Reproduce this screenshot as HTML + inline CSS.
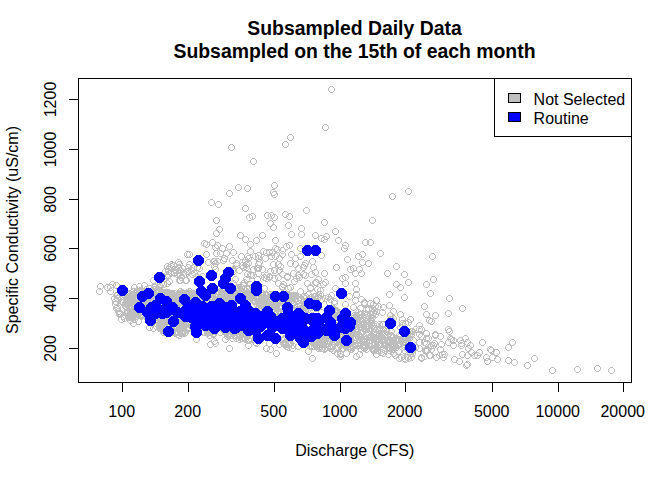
<!DOCTYPE html>
<html><head><meta charset="utf-8"><style>
html,body{margin:0;padding:0;background:#fff;width:672px;height:480px;overflow:hidden}
svg{display:block}
.t{font-family:"Liberation Sans",sans-serif;font-size:16px;fill:#000}
.b{font-family:"Liberation Sans",sans-serif;font-size:19.4px;font-weight:bold;fill:#000}
</style></head><body>
<svg width="672" height="480" viewBox="0 0 672 480"><rect width="672" height="480" fill="#fff"/><path fill="#bebebe" shape-rendering="crispEdges" d="M230 144h3v1h-3zm-1 1h1v1h-1zm4 0h1v1h-1zm-5 1h1v3h-1zm6 0h1v3h-1zm-5 3h1v1h-1zm4 0h1v1h-1zm-3 1h3v1h-3zM228 190h3v1h-3zm-1 1h1v1h-1zm4 0h1v1h-1zm-5 1h1v3h-1zm6 0h1v3h-1zm-5 3h1v1h-1zm4 0h1v1h-1zm-3 1h3v1h-3zM330 86h3v1h-3zm-1 1h1v1h-1zm4 0h1v1h-1zm-5 1h1v3h-1zm6 0h1v3h-1zm-5 3h1v1h-1zm4 0h1v1h-1zm-3 1h3v1h-3zM324 124h3v1h-3zm-1 1h1v1h-1zm4 0h1v1h-1zm-5 1h1v3h-1zm6 0h1v3h-1zm-5 3h1v1h-1zm4 0h1v1h-1zm-3 1h3v1h-3zM289 134h3v1h-3zm-1 1h1v1h-1zm4 0h1v1h-1zm-5 1h1v3h-1zm6 0h1v3h-1zm-5 3h1v1h-1zm4 0h1v1h-1zm-3 1h3v1h-3zM284 141h3v1h-3zm-1 1h1v1h-1zm4 0h1v1h-1zm-5 1h1v3h-1zm6 0h1v3h-1zm-5 3h1v1h-1zm4 0h1v1h-1zm-3 1h3v1h-3zM252 158h3v1h-3zm-1 1h1v1h-1zm4 0h1v1h-1zm-5 1h1v3h-1zm6 0h1v3h-1zm-5 3h1v1h-1zm4 0h1v1h-1zm-3 1h3v1h-3zM246 185h3v1h-3zm-1 1h1v1h-1zm4 0h1v1h-1zm-5 1h1v3h-1zm6 0h1v3h-1zm-5 3h1v1h-1zm4 0h1v1h-1zm-3 1h3v1h-3zM273 182h3v1h-3zm-1 1h1v1h-1zm4 0h1v1h-1zm-5 1h1v3h-1zm6 0h1v3h-1zm-5 3h1v1h-1zm4 0h1v1h-1zm-3 1h3v1h-3zM272 189h3v1h-3zm-1 1h1v1h-1zm4 0h1v1h-1zm-5 1h1v3h-1zm6 0h1v3h-1zm-5 3h1v1h-1zm4 0h1v1h-1zm-3 1h3v1h-3zM273 191h3v1h-3zm-1 1h1v1h-1zm4 0h1v1h-1zm-5 1h1v3h-1zm6 0h1v3h-1zm-5 3h1v1h-1zm4 0h1v1h-1zm-3 1h3v1h-3zM391 193h3v1h-3zm-1 1h1v1h-1zm4 0h1v1h-1zm-5 1h1v3h-1zm6 0h1v3h-1zm-5 3h1v1h-1zm4 0h1v1h-1zm-3 1h3v1h-3zM237 184h3v1h-3zm-1 1h1v1h-1zm4 0h1v1h-1zm-5 1h1v3h-1zm6 0h1v3h-1zm-5 3h1v1h-1zm4 0h1v1h-1zm-3 1h3v1h-3zM407 188h3v1h-3zm-1 1h1v1h-1zm4 0h1v1h-1zm-5 1h1v3h-1zm6 0h1v3h-1zm-5 3h1v1h-1zm4 0h1v1h-1zm-3 1h3v1h-3zM431 253h3v1h-3zm-1 1h1v1h-1zm4 0h1v1h-1zm-5 1h1v3h-1zm6 0h1v3h-1zm-5 3h1v1h-1zm4 0h1v1h-1zm-3 1h3v1h-3zM403 271h3v1h-3zm-1 1h1v1h-1zm4 0h1v1h-1zm-5 1h1v3h-1zm6 0h1v3h-1zm-5 3h1v1h-1zm4 0h1v1h-1zm-3 1h3v1h-3zM432 276h3v1h-3zm-1 1h1v1h-1zm4 0h1v1h-1zm-5 1h1v3h-1zm6 0h1v3h-1zm-5 3h1v1h-1zm4 0h1v1h-1zm-3 1h3v1h-3zM425 281h3v1h-3zm-1 1h1v1h-1zm4 0h1v1h-1zm-5 1h1v3h-1zm6 0h1v3h-1zm-5 3h1v1h-1zm4 0h1v1h-1zm-3 1h3v1h-3zM407 279h3v1h-3zm-1 1h1v1h-1zm4 0h1v1h-1zm-5 1h1v3h-1zm6 0h1v3h-1zm-5 3h1v1h-1zm4 0h1v1h-1zm-3 1h3v1h-3zM399 284h3v1h-3zm-1 1h1v1h-1zm4 0h1v1h-1zm-5 1h1v3h-1zm6 0h1v3h-1zm-5 3h1v1h-1zm4 0h1v1h-1zm-3 1h3v1h-3zM429 290h3v1h-3zm-1 1h1v1h-1zm4 0h1v1h-1zm-5 1h1v3h-1zm6 0h1v3h-1zm-5 3h1v1h-1zm4 0h1v1h-1zm-3 1h3v1h-3zM403 294h3v1h-3zm-1 1h1v1h-1zm4 0h1v1h-1zm-5 1h1v3h-1zm6 0h1v3h-1zm-5 3h1v1h-1zm4 0h1v1h-1zm-3 1h3v1h-3zM448 295h3v1h-3zm-1 1h1v1h-1zm4 0h1v1h-1zm-5 1h1v3h-1zm6 0h1v3h-1zm-5 3h1v1h-1zm4 0h1v1h-1zm-3 1h3v1h-3zM423 303h3v1h-3zm-1 1h1v1h-1zm4 0h1v1h-1zm-5 1h1v3h-1zm6 0h1v3h-1zm-5 3h1v1h-1zm4 0h1v1h-1zm-3 1h3v1h-3zM461 305h3v1h-3zm-1 1h1v1h-1zm4 0h1v1h-1zm-5 1h1v3h-1zm6 0h1v3h-1zm-5 3h1v1h-1zm4 0h1v1h-1zm-3 1h3v1h-3zM399 311h3v1h-3zm-1 1h1v1h-1zm4 0h1v1h-1zm-5 1h1v3h-1zm6 0h1v3h-1zm-5 3h1v1h-1zm4 0h1v1h-1zm-3 1h3v1h-3zM425 311h3v1h-3zm-1 1h1v1h-1zm4 0h1v1h-1zm-5 1h1v3h-1zm6 0h1v3h-1zm-5 3h1v1h-1zm4 0h1v1h-1zm-3 1h3v1h-3zM434 312h3v1h-3zm-1 1h1v1h-1zm4 0h1v1h-1zm-5 1h1v3h-1zm6 0h1v3h-1zm-5 3h1v1h-1zm4 0h1v1h-1zm-3 1h3v1h-3zM447 310h3v1h-3zm-1 1h1v1h-1zm4 0h1v1h-1zm-5 1h1v3h-1zm6 0h1v3h-1zm-5 3h1v1h-1zm4 0h1v1h-1zm-3 1h3v1h-3zM210 199h3v1h-3zm-1 1h1v1h-1zm4 0h1v1h-1zm-5 1h1v3h-1zm6 0h1v3h-1zm-5 3h1v1h-1zm4 0h1v1h-1zm-3 1h3v1h-3zM217 201h3v1h-3zm-1 1h1v1h-1zm4 0h1v1h-1zm-5 1h1v3h-1zm6 0h1v3h-1zm-5 3h1v1h-1zm4 0h1v1h-1zm-3 1h3v1h-3zM215 217h3v1h-3zm-1 1h1v1h-1zm4 0h1v1h-1zm-5 1h1v3h-1zm6 0h1v3h-1zm-5 3h1v1h-1zm4 0h1v1h-1zm-3 1h3v1h-3zM218 226h3v1h-3zm-1 1h1v1h-1zm4 0h1v1h-1zm-5 1h1v3h-1zm6 0h1v3h-1zm-5 3h1v1h-1zm4 0h1v1h-1zm-3 1h3v1h-3zM215 230h3v1h-3zm-1 1h1v1h-1zm4 0h1v1h-1zm-5 1h1v3h-1zm6 0h1v3h-1zm-5 3h1v1h-1zm4 0h1v1h-1zm-3 1h3v1h-3zM203 240h3v1h-3zm-1 1h1v1h-1zm4 0h1v1h-1zm-5 1h1v3h-1zm6 0h1v3h-1zm-5 3h1v1h-1zm4 0h1v1h-1zm-3 1h3v1h-3zM205 241h3v1h-3zm-1 1h1v1h-1zm4 0h1v1h-1zm-5 1h1v3h-1zm6 0h1v3h-1zm-5 3h1v1h-1zm4 0h1v1h-1zm-3 1h3v1h-3zM211 239h3v1h-3zm-1 1h1v1h-1zm4 0h1v1h-1zm-5 1h1v3h-1zm6 0h1v3h-1zm-5 3h1v1h-1zm4 0h1v1h-1zm-3 1h3v1h-3zM216 242h3v1h-3zm-1 1h1v1h-1zm4 0h1v1h-1zm-5 1h1v3h-1zm6 0h1v3h-1zm-5 3h1v1h-1zm4 0h1v1h-1zm-3 1h3v1h-3zM214 244h3v1h-3zm-1 1h1v1h-1zm4 0h1v1h-1zm-5 1h1v3h-1zm6 0h1v3h-1zm-5 3h1v1h-1zm4 0h1v1h-1zm-3 1h3v1h-3zM221 245h3v1h-3zm-1 1h1v1h-1zm4 0h1v1h-1zm-5 1h1v3h-1zm6 0h1v3h-1zm-5 3h1v1h-1zm4 0h1v1h-1zm-3 1h3v1h-3zM228 243h3v1h-3zm-1 1h1v1h-1zm4 0h1v1h-1zm-5 1h1v3h-1zm6 0h1v3h-1zm-5 3h1v1h-1zm4 0h1v1h-1zm-3 1h3v1h-3zM232 249h3v1h-3zm-1 1h1v1h-1zm4 0h1v1h-1zm-5 1h1v3h-1zm6 0h1v3h-1zm-5 3h1v1h-1zm4 0h1v1h-1zm-3 1h3v1h-3zM225 250h3v1h-3zm-1 1h1v1h-1zm4 0h1v1h-1zm-5 1h1v3h-1zm6 0h1v3h-1zm-5 3h1v1h-1zm4 0h1v1h-1zm-3 1h3v1h-3zM215 250h3v1h-3zm-1 1h1v1h-1zm4 0h1v1h-1zm-5 1h1v3h-1zm6 0h1v3h-1zm-5 3h1v1h-1zm4 0h1v1h-1zm-3 1h3v1h-3zM219 250h3v1h-3zm-1 1h1v1h-1zm4 0h1v1h-1zm-5 1h1v3h-1zm6 0h1v3h-1zm-5 3h1v1h-1zm4 0h1v1h-1zm-3 1h3v1h-3zM205 251h3v1h-3zm-1 1h1v1h-1zm4 0h1v1h-1zm-5 1h1v3h-1zm6 0h1v3h-1zm-5 3h1v1h-1zm4 0h1v1h-1zm-3 1h3v1h-3zM186 251h3v1h-3zm-1 1h1v1h-1zm4 0h1v1h-1zm-5 1h1v3h-1zm6 0h1v3h-1zm-5 3h1v1h-1zm4 0h1v1h-1zm-3 1h3v1h-3zM188 251h3v1h-3zm-1 1h1v1h-1zm4 0h1v1h-1zm-5 1h1v3h-1zm6 0h1v3h-1zm-5 3h1v1h-1zm4 0h1v1h-1zm-3 1h3v1h-3zM244 205h3v1h-3zm-1 1h1v1h-1zm4 0h1v1h-1zm-5 1h1v3h-1zm6 0h1v3h-1zm-5 3h1v1h-1zm4 0h1v1h-1zm-3 1h3v1h-3zM248 214h3v1h-3zm-1 1h1v1h-1zm4 0h1v1h-1zm-5 1h1v3h-1zm6 0h1v3h-1zm-5 3h1v1h-1zm4 0h1v1h-1zm-3 1h3v1h-3zM251 213h3v1h-3zm-1 1h1v1h-1zm4 0h1v1h-1zm-5 1h1v3h-1zm6 0h1v3h-1zm-5 3h1v1h-1zm4 0h1v1h-1zm-3 1h3v1h-3zM266 212h3v1h-3zm-1 1h1v1h-1zm4 0h1v1h-1zm-5 1h1v3h-1zm6 0h1v3h-1zm-5 3h1v1h-1zm4 0h1v1h-1zm-3 1h3v1h-3zM270 212h3v1h-3zm-1 1h1v1h-1zm4 0h1v1h-1zm-5 1h1v3h-1zm6 0h1v3h-1zm-5 3h1v1h-1zm4 0h1v1h-1zm-3 1h3v1h-3zM273 214h3v1h-3zm-1 1h1v1h-1zm4 0h1v1h-1zm-5 1h1v3h-1zm6 0h1v3h-1zm-5 3h1v1h-1zm4 0h1v1h-1zm-3 1h3v1h-3zM284 211h3v1h-3zm-1 1h1v1h-1zm4 0h1v1h-1zm-5 1h1v3h-1zm6 0h1v3h-1zm-5 3h1v1h-1zm4 0h1v1h-1zm-3 1h3v1h-3zM288 213h3v1h-3zm-1 1h1v1h-1zm4 0h1v1h-1zm-5 1h1v3h-1zm6 0h1v3h-1zm-5 3h1v1h-1zm4 0h1v1h-1zm-3 1h3v1h-3zM305 207h3v1h-3zm-1 1h1v1h-1zm4 0h1v1h-1zm-5 1h1v3h-1zm6 0h1v3h-1zm-5 3h1v1h-1zm4 0h1v1h-1zm-3 1h3v1h-3zM269 220h3v1h-3zm-1 1h1v1h-1zm4 0h1v1h-1zm-5 1h1v3h-1zm6 0h1v3h-1zm-5 3h1v1h-1zm4 0h1v1h-1zm-3 1h3v1h-3zM272 224h3v1h-3zm-1 1h1v1h-1zm4 0h1v1h-1zm-5 1h1v3h-1zm6 0h1v3h-1zm-5 3h1v1h-1zm4 0h1v1h-1zm-3 1h3v1h-3zM287 222h3v1h-3zm-1 1h1v1h-1zm4 0h1v1h-1zm-5 1h1v3h-1zm6 0h1v3h-1zm-5 3h1v1h-1zm4 0h1v1h-1zm-3 1h3v1h-3zM300 225h3v1h-3zm-1 1h1v1h-1zm4 0h1v1h-1zm-5 1h1v3h-1zm6 0h1v3h-1zm-5 3h1v1h-1zm4 0h1v1h-1zm-3 1h3v1h-3zM290 231h3v1h-3zm-1 1h1v1h-1zm4 0h1v1h-1zm-5 1h1v3h-1zm6 0h1v3h-1zm-5 3h1v1h-1zm4 0h1v1h-1zm-3 1h3v1h-3zM300 231h3v1h-3zm-1 1h1v1h-1zm4 0h1v1h-1zm-5 1h1v3h-1zm6 0h1v3h-1zm-5 3h1v1h-1zm4 0h1v1h-1zm-3 1h3v1h-3zM314 232h3v1h-3zm-1 1h1v1h-1zm4 0h1v1h-1zm-5 1h1v3h-1zm6 0h1v3h-1zm-5 3h1v1h-1zm4 0h1v1h-1zm-3 1h3v1h-3zM239 232h3v1h-3zm-1 1h1v1h-1zm4 0h1v1h-1zm-5 1h1v3h-1zm6 0h1v3h-1zm-5 3h1v1h-1zm4 0h1v1h-1zm-3 1h3v1h-3zM244 236h3v1h-3zm-1 1h1v1h-1zm4 0h1v1h-1zm-5 1h1v3h-1zm6 0h1v3h-1zm-5 3h1v1h-1zm4 0h1v1h-1zm-3 1h3v1h-3zM261 232h3v1h-3zm-1 1h1v1h-1zm4 0h1v1h-1zm-5 1h1v3h-1zm6 0h1v3h-1zm-5 3h1v1h-1zm4 0h1v1h-1zm-3 1h3v1h-3zM255 237h3v1h-3zm-1 1h1v1h-1zm4 0h1v1h-1zm-5 1h1v3h-1zm6 0h1v3h-1zm-5 3h1v1h-1zm4 0h1v1h-1zm-3 1h3v1h-3zM274 237h3v1h-3zm-1 1h1v1h-1zm4 0h1v1h-1zm-5 1h1v3h-1zm6 0h1v3h-1zm-5 3h1v1h-1zm4 0h1v1h-1zm-3 1h3v1h-3zM249 241h3v1h-3zm-1 1h1v1h-1zm4 0h1v1h-1zm-5 1h1v3h-1zm6 0h1v3h-1zm-5 3h1v1h-1zm4 0h1v1h-1zm-3 1h3v1h-3zM285 243h3v1h-3zm-1 1h1v1h-1zm4 0h1v1h-1zm-5 1h1v3h-1zm6 0h1v3h-1zm-5 3h1v1h-1zm4 0h1v1h-1zm-3 1h3v1h-3zM288 242h3v1h-3zm-1 1h1v1h-1zm4 0h1v1h-1zm-5 1h1v3h-1zm6 0h1v3h-1zm-5 3h1v1h-1zm4 0h1v1h-1zm-3 1h3v1h-3zM249 248h3v1h-3zm-1 1h1v1h-1zm4 0h1v1h-1zm-5 1h1v3h-1zm6 0h1v3h-1zm-5 3h1v1h-1zm4 0h1v1h-1zm-3 1h3v1h-3zM262 248h3v1h-3zm-1 1h1v1h-1zm4 0h1v1h-1zm-5 1h1v3h-1zm6 0h1v3h-1zm-5 3h1v1h-1zm4 0h1v1h-1zm-3 1h3v1h-3zM265 249h3v1h-3zm-1 1h1v1h-1zm4 0h1v1h-1zm-5 1h1v3h-1zm6 0h1v3h-1zm-5 3h1v1h-1zm4 0h1v1h-1zm-3 1h3v1h-3zM268 249h3v1h-3zm-1 1h1v1h-1zm4 0h1v1h-1zm-5 1h1v3h-1zm6 0h1v3h-1zm-5 3h1v1h-1zm4 0h1v1h-1zm-3 1h3v1h-3zM271 249h3v1h-3zm-1 1h1v1h-1zm4 0h1v1h-1zm-5 1h1v3h-1zm6 0h1v3h-1zm-5 3h1v1h-1zm4 0h1v1h-1zm-3 1h3v1h-3zM274 245h3v1h-3zm-1 1h1v1h-1zm4 0h1v1h-1zm-5 1h1v3h-1zm6 0h1v3h-1zm-5 3h1v1h-1zm4 0h1v1h-1zm-3 1h3v1h-3zM276 246h3v1h-3zm-1 1h1v1h-1zm4 0h1v1h-1zm-5 1h1v3h-1zm6 0h1v3h-1zm-5 3h1v1h-1zm4 0h1v1h-1zm-3 1h3v1h-3zM281 247h3v1h-3zm-1 1h1v1h-1zm4 0h1v1h-1zm-5 1h1v3h-1zm6 0h1v3h-1zm-5 3h1v1h-1zm4 0h1v1h-1zm-3 1h3v1h-3zM281 251h3v1h-3zm-1 1h1v1h-1zm4 0h1v1h-1zm-5 1h1v3h-1zm6 0h1v3h-1zm-5 3h1v1h-1zm4 0h1v1h-1zm-3 1h3v1h-3zM299 245h3v1h-3zm-1 1h1v1h-1zm4 0h1v1h-1zm-5 1h1v3h-1zm6 0h1v3h-1zm-5 3h1v1h-1zm4 0h1v1h-1zm-3 1h3v1h-3zM290 251h3v1h-3zm-1 1h1v1h-1zm4 0h1v1h-1zm-5 1h1v3h-1zm6 0h1v3h-1zm-5 3h1v1h-1zm4 0h1v1h-1zm-3 1h3v1h-3zM299 253h3v1h-3zm-1 1h1v1h-1zm4 0h1v1h-1zm-5 1h1v3h-1zm6 0h1v3h-1zm-5 3h1v1h-1zm4 0h1v1h-1zm-3 1h3v1h-3zM240 253h3v1h-3zm-1 1h1v1h-1zm4 0h1v1h-1zm-5 1h1v3h-1zm6 0h1v3h-1zm-5 3h1v1h-1zm4 0h1v1h-1zm-3 1h3v1h-3zM246 253h3v1h-3zm-1 1h1v1h-1zm4 0h1v1h-1zm-5 1h1v3h-1zm6 0h1v3h-1zm-5 3h1v1h-1zm4 0h1v1h-1zm-3 1h3v1h-3zM254 253h3v1h-3zm-1 1h1v1h-1zm4 0h1v1h-1zm-5 1h1v3h-1zm6 0h1v3h-1zm-5 3h1v1h-1zm4 0h1v1h-1zm-3 1h3v1h-3zM257 252h3v1h-3zm-1 1h1v1h-1zm4 0h1v1h-1zm-5 1h1v3h-1zm6 0h1v3h-1zm-5 3h1v1h-1zm4 0h1v1h-1zm-3 1h3v1h-3zM270 253h3v1h-3zm-1 1h1v1h-1zm4 0h1v1h-1zm-5 1h1v3h-1zm6 0h1v3h-1zm-5 3h1v1h-1zm4 0h1v1h-1zm-3 1h3v1h-3zM274 253h3v1h-3zm-1 1h1v1h-1zm4 0h1v1h-1zm-5 1h1v3h-1zm6 0h1v3h-1zm-5 3h1v1h-1zm4 0h1v1h-1zm-3 1h3v1h-3zM323 219h3v1h-3zm-1 1h1v1h-1zm4 0h1v1h-1zm-5 1h1v3h-1zm6 0h1v3h-1zm-5 3h1v1h-1zm4 0h1v1h-1zm-3 1h3v1h-3zM371 217h3v1h-3zm-1 1h1v1h-1zm4 0h1v1h-1zm-5 1h1v3h-1zm6 0h1v3h-1zm-5 3h1v1h-1zm4 0h1v1h-1zm-3 1h3v1h-3zM334 228h3v1h-3zm-1 1h1v1h-1zm4 0h1v1h-1zm-5 1h1v3h-1zm6 0h1v3h-1zm-5 3h1v1h-1zm4 0h1v1h-1zm-3 1h3v1h-3zM325 233h3v1h-3zm-1 1h1v1h-1zm4 0h1v1h-1zm-5 1h1v3h-1zm6 0h1v3h-1zm-5 3h1v1h-1zm4 0h1v1h-1zm-3 1h3v1h-3zM320 235h3v1h-3zm-1 1h1v1h-1zm4 0h1v1h-1zm-5 1h1v3h-1zm6 0h1v3h-1zm-5 3h1v1h-1zm4 0h1v1h-1zm-3 1h3v1h-3zM323 236h3v1h-3zm-1 1h1v1h-1zm4 0h1v1h-1zm-5 1h1v3h-1zm6 0h1v3h-1zm-5 3h1v1h-1zm4 0h1v1h-1zm-3 1h3v1h-3zM337 237h3v1h-3zm-1 1h1v1h-1zm4 0h1v1h-1zm-5 1h1v3h-1zm6 0h1v3h-1zm-5 3h1v1h-1zm4 0h1v1h-1zm-3 1h3v1h-3zM344 242h3v1h-3zm-1 1h1v1h-1zm4 0h1v1h-1zm-5 1h1v3h-1zm6 0h1v3h-1zm-5 3h1v1h-1zm4 0h1v1h-1zm-3 1h3v1h-3zM343 245h3v1h-3zm-1 1h1v1h-1zm4 0h1v1h-1zm-5 1h1v3h-1zm6 0h1v3h-1zm-5 3h1v1h-1zm4 0h1v1h-1zm-3 1h3v1h-3zM364 239h3v1h-3zm-1 1h1v1h-1zm4 0h1v1h-1zm-5 1h1v3h-1zm6 0h1v3h-1zm-5 3h1v1h-1zm4 0h1v1h-1zm-3 1h3v1h-3zM369 239h3v1h-3zm-1 1h1v1h-1zm4 0h1v1h-1zm-5 1h1v3h-1zm6 0h1v3h-1zm-5 3h1v1h-1zm4 0h1v1h-1zm-3 1h3v1h-3zM379 250h3v1h-3zm-1 1h1v1h-1zm4 0h1v1h-1zm-5 1h1v3h-1zm6 0h1v3h-1zm-5 3h1v1h-1zm4 0h1v1h-1zm-3 1h3v1h-3zM357 253h3v1h-3zm-1 1h1v1h-1zm4 0h1v1h-1zm-5 1h1v3h-1zm6 0h1v3h-1zm-5 3h1v1h-1zm4 0h1v1h-1zm-3 1h3v1h-3zM361 251h3v1h-3zm-1 1h1v1h-1zm4 0h1v1h-1zm-5 1h1v3h-1zm6 0h1v3h-1zm-5 3h1v1h-1zm4 0h1v1h-1zm-3 1h3v1h-3zM320 252h3v1h-3zm-1 1h1v1h-1zm4 0h1v1h-1zm-5 1h1v3h-1zm6 0h1v3h-1zm-5 3h1v1h-1zm4 0h1v1h-1zm-3 1h3v1h-3zM481 339h3v1h-3zm-1 1h1v1h-1zm4 0h1v1h-1zm-5 1h1v3h-1zm6 0h1v3h-1zm-5 3h1v1h-1zm4 0h1v1h-1zm-3 1h3v1h-3zM511 339h3v1h-3zm-1 1h1v1h-1zm4 0h1v1h-1zm-5 1h1v3h-1zm6 0h1v3h-1zm-5 3h1v1h-1zm4 0h1v1h-1zm-3 1h3v1h-3zM507 344h3v1h-3zm-1 1h1v1h-1zm4 0h1v1h-1zm-5 1h1v3h-1zm6 0h1v3h-1zm-5 3h1v1h-1zm4 0h1v1h-1zm-3 1h3v1h-3zM489 346h3v1h-3zm-1 1h1v1h-1zm4 0h1v1h-1zm-5 1h1v3h-1zm6 0h1v3h-1zm-5 3h1v1h-1zm4 0h1v1h-1zm-3 1h3v1h-3zM490 347h3v1h-3zm-1 1h1v1h-1zm4 0h1v1h-1zm-5 1h1v3h-1zm6 0h1v3h-1zm-5 3h1v1h-1zm4 0h1v1h-1zm-3 1h3v1h-3zM495 349h3v1h-3zm-1 1h1v1h-1zm4 0h1v1h-1zm-5 1h1v3h-1zm6 0h1v3h-1zm-5 3h1v1h-1zm4 0h1v1h-1zm-3 1h3v1h-3zM478 349h3v1h-3zm-1 1h1v1h-1zm4 0h1v1h-1zm-5 1h1v3h-1zm6 0h1v3h-1zm-5 3h1v1h-1zm4 0h1v1h-1zm-3 1h3v1h-3zM473 352h3v1h-3zm-1 1h1v1h-1zm4 0h1v1h-1zm-5 1h1v3h-1zm6 0h1v3h-1zm-5 3h1v1h-1zm4 0h1v1h-1zm-3 1h3v1h-3zM476 352h3v1h-3zm-1 1h1v1h-1zm4 0h1v1h-1zm-5 1h1v3h-1zm6 0h1v3h-1zm-5 3h1v1h-1zm4 0h1v1h-1zm-3 1h3v1h-3zM485 354h3v1h-3zm-1 1h1v1h-1zm4 0h1v1h-1zm-5 1h1v3h-1zm6 0h1v3h-1zm-5 3h1v1h-1zm4 0h1v1h-1zm-3 1h3v1h-3zM491 354h3v1h-3zm-1 1h1v1h-1zm4 0h1v1h-1zm-5 1h1v3h-1zm6 0h1v3h-1zm-5 3h1v1h-1zm4 0h1v1h-1zm-3 1h3v1h-3zM486 358h3v1h-3zm-1 1h1v1h-1zm4 0h1v1h-1zm-5 1h1v3h-1zm6 0h1v3h-1zm-5 3h1v1h-1zm4 0h1v1h-1zm-3 1h3v1h-3zM496 356h3v1h-3zm-1 1h1v1h-1zm4 0h1v1h-1zm-5 1h1v3h-1zm6 0h1v3h-1zm-5 3h1v1h-1zm4 0h1v1h-1zm-3 1h3v1h-3zM507 357h3v1h-3zm-1 1h1v1h-1zm4 0h1v1h-1zm-5 1h1v3h-1zm6 0h1v3h-1zm-5 3h1v1h-1zm4 0h1v1h-1zm-3 1h3v1h-3zM513 359h3v1h-3zm-1 1h1v1h-1zm4 0h1v1h-1zm-5 1h1v3h-1zm6 0h1v3h-1zm-5 3h1v1h-1zm4 0h1v1h-1zm-3 1h3v1h-3zM526 362h3v1h-3zm-1 1h1v1h-1zm4 0h1v1h-1zm-5 1h1v3h-1zm6 0h1v3h-1zm-5 3h1v1h-1zm4 0h1v1h-1zm-3 1h3v1h-3zM533 355h3v1h-3zm-1 1h1v1h-1zm4 0h1v1h-1zm-5 1h1v3h-1zm6 0h1v3h-1zm-5 3h1v1h-1zm4 0h1v1h-1zm-3 1h3v1h-3zM551 367h3v1h-3zm-1 1h1v1h-1zm4 0h1v1h-1zm-5 1h1v3h-1zm6 0h1v3h-1zm-5 3h1v1h-1zm4 0h1v1h-1zm-3 1h3v1h-3zM576 366h3v1h-3zm-1 1h1v1h-1zm4 0h1v1h-1zm-5 1h1v3h-1zm6 0h1v3h-1zm-5 3h1v1h-1zm4 0h1v1h-1zm-3 1h3v1h-3zM596 365h3v1h-3zm-1 1h1v1h-1zm4 0h1v1h-1zm-5 1h1v3h-1zm6 0h1v3h-1zm-5 3h1v1h-1zm4 0h1v1h-1zm-3 1h3v1h-3zM610 367h3v1h-3zm-1 1h1v1h-1zm4 0h1v1h-1zm-5 1h1v3h-1zm6 0h1v3h-1zm-5 3h1v1h-1zm4 0h1v1h-1zm-3 1h3v1h-3zM99 283h3v1h-3zm-1 1h1v1h-1zm4 0h1v1h-1zm-5 1h1v3h-1zm6 0h1v3h-1zm-5 3h1v1h-1zm4 0h1v1h-1zm-3 1h3v1h-3zM98 288h3v1h-3zm-1 1h1v1h-1zm4 0h1v1h-1zm-5 1h1v3h-1zm6 0h1v3h-1zm-5 3h1v1h-1zm4 0h1v1h-1zm-3 1h3v1h-3zM106 284h3v1h-3zm-1 1h1v1h-1zm4 0h1v1h-1zm-5 1h1v3h-1zm6 0h1v3h-1zm-5 3h1v1h-1zm4 0h1v1h-1zm-3 1h3v1h-3zM109 284h3v1h-3zm-1 1h1v1h-1zm4 0h1v1h-1zm-5 1h1v3h-1zm6 0h1v3h-1zm-5 3h1v1h-1zm4 0h1v1h-1zm-3 1h3v1h-3zM111 281h3v1h-3zm-1 1h1v1h-1zm4 0h1v1h-1zm-5 1h1v3h-1zm6 0h1v3h-1zm-5 3h1v1h-1zm4 0h1v1h-1zm-3 1h3v1h-3zM115 282h3v1h-3zm-1 1h1v1h-1zm4 0h1v1h-1zm-5 1h1v3h-1zm6 0h1v3h-1zm-5 3h1v1h-1zm4 0h1v1h-1zm-3 1h3v1h-3zM109 288h3v1h-3zm-1 1h1v1h-1zm4 0h1v1h-1zm-5 1h1v3h-1zm6 0h1v3h-1zm-5 3h1v1h-1zm4 0h1v1h-1zm-3 1h3v1h-3zM113 295h3v1h-3zm-1 1h1v1h-1zm4 0h1v1h-1zm-5 1h1v3h-1zm6 0h1v3h-1zm-5 3h1v1h-1zm4 0h1v1h-1zm-3 1h3v1h-3zM114 298h3v1h-3zm-1 1h1v1h-1zm4 0h1v1h-1zm-5 1h1v3h-1zm6 0h1v3h-1zm-5 3h1v1h-1zm4 0h1v1h-1zm-3 1h3v1h-3zM114 301h3v1h-3zm-1 1h1v1h-1zm4 0h1v1h-1zm-5 1h1v3h-1zm6 0h1v3h-1zm-5 3h1v1h-1zm4 0h1v1h-1zm-3 1h3v1h-3zM115 305h3v1h-3zm-1 1h1v1h-1zm4 0h1v1h-1zm-5 1h1v3h-1zm6 0h1v3h-1zm-5 3h1v1h-1zm4 0h1v1h-1zm-3 1h3v1h-3zM117 308h3v1h-3zm-1 1h1v1h-1zm4 0h1v1h-1zm-5 1h1v3h-1zm6 0h1v3h-1zm-5 3h1v1h-1zm4 0h1v1h-1zm-3 1h3v1h-3zM118 311h3v1h-3zm-1 1h1v1h-1zm4 0h1v1h-1zm-5 1h1v3h-1zm6 0h1v3h-1zm-5 3h1v1h-1zm4 0h1v1h-1zm-3 1h3v1h-3zM133 284h3v1h-3zm-1 1h1v1h-1zm4 0h1v1h-1zm-5 1h1v3h-1zm6 0h1v3h-1zm-5 3h1v1h-1zm4 0h1v1h-1zm-3 1h3v1h-3zM138 283h3v1h-3zm-1 1h1v1h-1zm4 0h1v1h-1zm-5 1h1v3h-1zm6 0h1v3h-1zm-5 3h1v1h-1zm4 0h1v1h-1zm-3 1h3v1h-3zM143 282h3v1h-3zm-1 1h1v1h-1zm4 0h1v1h-1zm-5 1h1v3h-1zm6 0h1v3h-1zm-5 3h1v1h-1zm4 0h1v1h-1zm-3 1h3v1h-3zM152 277h3v1h-3zm-1 1h1v1h-1zm4 0h1v1h-1zm-5 1h1v3h-1zm6 0h1v3h-1zm-5 3h1v1h-1zm4 0h1v1h-1zm-3 1h3v1h-3zM153 283h3v1h-3zm-1 1h1v1h-1zm4 0h1v1h-1zm-5 1h1v3h-1zm6 0h1v3h-1zm-5 3h1v1h-1zm4 0h1v1h-1zm-3 1h3v1h-3zM159 283h3v1h-3zm-1 1h1v1h-1zm4 0h1v1h-1zm-5 1h1v3h-1zm6 0h1v3h-1zm-5 3h1v1h-1zm4 0h1v1h-1zm-3 1h3v1h-3zM162 281h3v1h-3zm-1 1h1v1h-1zm4 0h1v1h-1zm-5 1h1v3h-1zm6 0h1v3h-1zm-5 3h1v1h-1zm4 0h1v1h-1zm-3 1h3v1h-3zM166 280h3v1h-3zm-1 1h1v1h-1zm4 0h1v1h-1zm-5 1h1v3h-1zm6 0h1v3h-1zm-5 3h1v1h-1zm4 0h1v1h-1zm-3 1h3v1h-3zM168 278h3v1h-3zm-1 1h1v1h-1zm4 0h1v1h-1zm-5 1h1v3h-1zm6 0h1v3h-1zm-5 3h1v1h-1zm4 0h1v1h-1zm-3 1h3v1h-3zM188 288h3v1h-3zm-1 1h1v1h-1zm4 0h1v1h-1zm-5 1h1v3h-1zm6 0h1v3h-1zm-5 3h1v1h-1zm4 0h1v1h-1zm-3 1h3v1h-3zM192 290h3v1h-3zm-1 1h1v1h-1zm4 0h1v1h-1zm-5 1h1v3h-1zm6 0h1v3h-1zm-5 3h1v1h-1zm4 0h1v1h-1zm-3 1h3v1h-3zM234 276h3v1h-3zm-1 1h1v1h-1zm4 0h1v1h-1zm-5 1h1v3h-1zm6 0h1v3h-1zm-5 3h1v1h-1zm4 0h1v1h-1zm-3 1h3v1h-3zM232 280h3v1h-3zm-1 1h1v1h-1zm4 0h1v1h-1zm-5 1h1v3h-1zm6 0h1v3h-1zm-5 3h1v1h-1zm4 0h1v1h-1zm-3 1h3v1h-3zM346 256h3v1h-3zm-1 1h1v1h-1zm4 0h1v1h-1zm-5 1h1v3h-1zm6 0h1v3h-1zm-5 3h1v1h-1zm4 0h1v1h-1zm-3 1h3v1h-3zM361 259h3v1h-3zm-1 1h1v1h-1zm4 0h1v1h-1zm-5 1h1v3h-1zm6 0h1v3h-1zm-5 3h1v1h-1zm4 0h1v1h-1zm-3 1h3v1h-3zM367 260h3v1h-3zm-1 1h1v1h-1zm4 0h1v1h-1zm-5 1h1v3h-1zm6 0h1v3h-1zm-5 3h1v1h-1zm4 0h1v1h-1zm-3 1h3v1h-3zM335 264h3v1h-3zm-1 1h1v1h-1zm4 0h1v1h-1zm-5 1h1v3h-1zm6 0h1v3h-1zm-5 3h1v1h-1zm4 0h1v1h-1zm-3 1h3v1h-3zM349 266h3v1h-3zm-1 1h1v1h-1zm4 0h1v1h-1zm-5 1h1v3h-1zm6 0h1v3h-1zm-5 3h1v1h-1zm4 0h1v1h-1zm-3 1h3v1h-3zM352 265h3v1h-3zm-1 1h1v1h-1zm4 0h1v1h-1zm-5 1h1v3h-1zm6 0h1v3h-1zm-5 3h1v1h-1zm4 0h1v1h-1zm-3 1h3v1h-3zM358 266h3v1h-3zm-1 1h1v1h-1zm4 0h1v1h-1zm-5 1h1v3h-1zm6 0h1v3h-1zm-5 3h1v1h-1zm4 0h1v1h-1zm-3 1h3v1h-3zM354 270h3v1h-3zm-1 1h1v1h-1zm4 0h1v1h-1zm-5 1h1v3h-1zm6 0h1v3h-1zm-5 3h1v1h-1zm4 0h1v1h-1zm-3 1h3v1h-3zM360 270h3v1h-3zm-1 1h1v1h-1zm4 0h1v1h-1zm-5 1h1v3h-1zm6 0h1v3h-1zm-5 3h1v1h-1zm4 0h1v1h-1zm-3 1h3v1h-3zM323 270h3v1h-3zm-1 1h1v1h-1zm4 0h1v1h-1zm-5 1h1v3h-1zm6 0h1v3h-1zm-5 3h1v1h-1zm4 0h1v1h-1zm-3 1h3v1h-3zM386 270h3v1h-3zm-1 1h1v1h-1zm4 0h1v1h-1zm-5 1h1v3h-1zm6 0h1v3h-1zm-5 3h1v1h-1zm4 0h1v1h-1zm-3 1h3v1h-3zM395 263h3v1h-3zm-1 1h1v1h-1zm4 0h1v1h-1zm-5 1h1v3h-1zm6 0h1v3h-1zm-5 3h1v1h-1zm4 0h1v1h-1zm-3 1h3v1h-3zM341 275h3v1h-3zm-1 1h1v1h-1zm4 0h1v1h-1zm-5 1h1v3h-1zm6 0h1v3h-1zm-5 3h1v1h-1zm4 0h1v1h-1zm-3 1h3v1h-3zM344 274h3v1h-3zm-1 1h1v1h-1zm4 0h1v1h-1zm-5 1h1v3h-1zm6 0h1v3h-1zm-5 3h1v1h-1zm4 0h1v1h-1zm-3 1h3v1h-3zM344 280h3v1h-3zm-1 1h1v1h-1zm4 0h1v1h-1zm-5 1h1v3h-1zm6 0h1v3h-1zm-5 3h1v1h-1zm4 0h1v1h-1zm-3 1h3v1h-3zM354 280h3v1h-3zm-1 1h1v1h-1zm4 0h1v1h-1zm-5 1h1v3h-1zm6 0h1v3h-1zm-5 3h1v1h-1zm4 0h1v1h-1zm-3 1h3v1h-3zM324 279h3v1h-3zm-1 1h1v1h-1zm4 0h1v1h-1zm-5 1h1v3h-1zm6 0h1v3h-1zm-5 3h1v1h-1zm4 0h1v1h-1zm-3 1h3v1h-3zM322 281h3v1h-3zm-1 1h1v1h-1zm4 0h1v1h-1zm-5 1h1v3h-1zm6 0h1v3h-1zm-5 3h1v1h-1zm4 0h1v1h-1zm-3 1h3v1h-3zM317 276h3v1h-3zm-1 1h1v1h-1zm4 0h1v1h-1zm-5 1h1v3h-1zm6 0h1v3h-1zm-5 3h1v1h-1zm4 0h1v1h-1zm-3 1h3v1h-3zM334 285h3v1h-3zm-1 1h1v1h-1zm4 0h1v1h-1zm-5 1h1v3h-1zm6 0h1v3h-1zm-5 3h1v1h-1zm4 0h1v1h-1zm-3 1h3v1h-3zM355 286h3v1h-3zm-1 1h1v1h-1zm4 0h1v1h-1zm-5 1h1v3h-1zm6 0h1v3h-1zm-5 3h1v1h-1zm4 0h1v1h-1zm-3 1h3v1h-3zM395 281h3v1h-3zm-1 1h1v1h-1zm4 0h1v1h-1zm-5 1h1v3h-1zm6 0h1v3h-1zm-5 3h1v1h-1zm4 0h1v1h-1zm-3 1h3v1h-3zM388 291h3v1h-3zm-1 1h1v1h-1zm4 0h1v1h-1zm-5 1h1v3h-1zm6 0h1v3h-1zm-5 3h1v1h-1zm4 0h1v1h-1zm-3 1h3v1h-3zM330 292h3v1h-3zm-1 1h1v1h-1zm4 0h1v1h-1zm-5 1h1v3h-1zm6 0h1v3h-1zm-5 3h1v1h-1zm4 0h1v1h-1zm-3 1h3v1h-3zM348 293h3v1h-3zm-1 1h1v1h-1zm4 0h1v1h-1zm-5 1h1v3h-1zm6 0h1v3h-1zm-5 3h1v1h-1zm4 0h1v1h-1zm-3 1h3v1h-3zM355 291h3v1h-3zm-1 1h1v1h-1zm4 0h1v1h-1zm-5 1h1v3h-1zm6 0h1v3h-1zm-5 3h1v1h-1zm4 0h1v1h-1zm-3 1h3v1h-3zM354 297h3v1h-3zm-1 1h1v1h-1zm4 0h1v1h-1zm-5 1h1v3h-1zm6 0h1v3h-1zm-5 3h1v1h-1zm4 0h1v1h-1zm-3 1h3v1h-3zM360 296h3v1h-3zm-1 1h1v1h-1zm4 0h1v1h-1zm-5 1h1v3h-1zm6 0h1v3h-1zm-5 3h1v1h-1zm4 0h1v1h-1zm-3 1h3v1h-3zM363 300h3v1h-3zm-1 1h1v1h-1zm4 0h1v1h-1zm-5 1h1v3h-1zm6 0h1v3h-1zm-5 3h1v1h-1zm4 0h1v1h-1zm-3 1h3v1h-3zM359 305h3v1h-3zm-1 1h1v1h-1zm4 0h1v1h-1zm-5 1h1v3h-1zm6 0h1v3h-1zm-5 3h1v1h-1zm4 0h1v1h-1zm-3 1h3v1h-3zM372 301h3v1h-3zm-1 1h1v1h-1zm4 0h1v1h-1zm-5 1h1v3h-1zm6 0h1v3h-1zm-5 3h1v1h-1zm4 0h1v1h-1zm-3 1h3v1h-3zM375 297h3v1h-3zm-1 1h1v1h-1zm4 0h1v1h-1zm-5 1h1v3h-1zm6 0h1v3h-1zm-5 3h1v1h-1zm4 0h1v1h-1zm-3 1h3v1h-3zM382 304h3v1h-3zm-1 1h1v1h-1zm4 0h1v1h-1zm-5 1h1v3h-1zm6 0h1v3h-1zm-5 3h1v1h-1zm4 0h1v1h-1zm-3 1h3v1h-3zM367 306h3v1h-3zm-1 1h1v1h-1zm4 0h1v1h-1zm-5 1h1v3h-1zm6 0h1v3h-1zm-5 3h1v1h-1zm4 0h1v1h-1zm-3 1h3v1h-3zM373 307h3v1h-3zm-1 1h1v1h-1zm4 0h1v1h-1zm-5 1h1v3h-1zm6 0h1v3h-1zm-5 3h1v1h-1zm4 0h1v1h-1zm-3 1h3v1h-3zM392 308h3v1h-3zm-1 1h1v1h-1zm4 0h1v1h-1zm-5 1h1v3h-1zm6 0h1v3h-1zm-5 3h1v1h-1zm4 0h1v1h-1zm-3 1h3v1h-3zM389 312h3v1h-3zm-1 1h1v1h-1zm4 0h1v1h-1zm-5 1h1v3h-1zm6 0h1v3h-1zm-5 3h1v1h-1zm4 0h1v1h-1zm-3 1h3v1h-3zM344 301h3v1h-3zm-1 1h1v1h-1zm4 0h1v1h-1zm-5 1h1v3h-1zm6 0h1v3h-1zm-5 3h1v1h-1zm4 0h1v1h-1zm-3 1h3v1h-3zM333 300h3v1h-3zm-1 1h1v1h-1zm4 0h1v1h-1zm-5 1h1v3h-1zm6 0h1v3h-1zm-5 3h1v1h-1zm4 0h1v1h-1zm-3 1h3v1h-3zM319 287h3v1h-3zm-1 1h1v1h-1zm4 0h1v1h-1zm-5 1h1v3h-1zm6 0h1v3h-1zm-5 3h1v1h-1zm4 0h1v1h-1zm-3 1h3v1h-3zM319 291h3v1h-3zm-1 1h1v1h-1zm4 0h1v1h-1zm-5 1h1v3h-1zm6 0h1v3h-1zm-5 3h1v1h-1zm4 0h1v1h-1zm-3 1h3v1h-3zM320 296h3v1h-3zm-1 1h1v1h-1zm4 0h1v1h-1zm-5 1h1v3h-1zm6 0h1v3h-1zm-5 3h1v1h-1zm4 0h1v1h-1zm-3 1h3v1h-3zM120 316h3v1h-3zm-1 1h1v1h-1zm4 0h1v1h-1zm-5 1h1v3h-1zm6 0h1v3h-1zm-5 3h1v1h-1zm4 0h1v1h-1zm-3 1h3v1h-3zM123 315h3v1h-3zm-1 1h1v1h-1zm4 0h1v1h-1zm-5 1h1v3h-1zm6 0h1v3h-1zm-5 3h1v1h-1zm4 0h1v1h-1zm-3 1h3v1h-3zM129 317h3v1h-3zm-1 1h1v1h-1zm4 0h1v1h-1zm-5 1h1v3h-1zm6 0h1v3h-1zm-5 3h1v1h-1zm4 0h1v1h-1zm-3 1h3v1h-3zM132 320h3v1h-3zm-1 1h1v1h-1zm4 0h1v1h-1zm-5 1h1v3h-1zm6 0h1v3h-1zm-5 3h1v1h-1zm4 0h1v1h-1zm-3 1h3v1h-3zM137 318h3v1h-3zm-1 1h1v1h-1zm4 0h1v1h-1zm-5 1h1v3h-1zm6 0h1v3h-1zm-5 3h1v1h-1zm4 0h1v1h-1zm-3 1h3v1h-3zM133 316h3v1h-3zm-1 1h1v1h-1zm4 0h1v1h-1zm-5 1h1v3h-1zm6 0h1v3h-1zm-5 3h1v1h-1zm4 0h1v1h-1zm-3 1h3v1h-3zM148 324h3v1h-3zm-1 1h1v1h-1zm4 0h1v1h-1zm-5 1h1v3h-1zm6 0h1v3h-1zm-5 3h1v1h-1zm4 0h1v1h-1zm-3 1h3v1h-3zM152 325h3v1h-3zm-1 1h1v1h-1zm4 0h1v1h-1zm-5 1h1v3h-1zm6 0h1v3h-1zm-5 3h1v1h-1zm4 0h1v1h-1zm-3 1h3v1h-3zM155 323h3v1h-3zm-1 1h1v1h-1zm4 0h1v1h-1zm-5 1h1v3h-1zm6 0h1v3h-1zm-5 3h1v1h-1zm4 0h1v1h-1zm-3 1h3v1h-3zM158 320h3v1h-3zm-1 1h1v1h-1zm4 0h1v1h-1zm-5 1h1v3h-1zm6 0h1v3h-1zm-5 3h1v1h-1zm4 0h1v1h-1zm-3 1h3v1h-3zM160 322h3v1h-3zm-1 1h1v1h-1zm4 0h1v1h-1zm-5 1h1v3h-1zm6 0h1v3h-1zm-5 3h1v1h-1zm4 0h1v1h-1zm-3 1h3v1h-3zM164 320h3v1h-3zm-1 1h1v1h-1zm4 0h1v1h-1zm-5 1h1v3h-1zm6 0h1v3h-1zm-5 3h1v1h-1zm4 0h1v1h-1zm-3 1h3v1h-3zM175 328h3v1h-3zm-1 1h1v1h-1zm4 0h1v1h-1zm-5 1h1v3h-1zm6 0h1v3h-1zm-5 3h1v1h-1zm4 0h1v1h-1zm-3 1h3v1h-3zM178 332h3v1h-3zm-1 1h1v1h-1zm4 0h1v1h-1zm-5 1h1v3h-1zm6 0h1v3h-1zm-5 3h1v1h-1zm4 0h1v1h-1zm-3 1h3v1h-3zM183 330h3v1h-3zm-1 1h1v1h-1zm4 0h1v1h-1zm-5 1h1v3h-1zm6 0h1v3h-1zm-5 3h1v1h-1zm4 0h1v1h-1zm-3 1h3v1h-3zM195 336h3v1h-3zm-1 1h1v1h-1zm4 0h1v1h-1zm-5 1h1v3h-1zm6 0h1v3h-1zm-5 3h1v1h-1zm4 0h1v1h-1zm-3 1h3v1h-3zM209 341h3v1h-3zm-1 1h1v1h-1zm4 0h1v1h-1zm-5 1h1v3h-1zm6 0h1v3h-1zm-5 3h1v1h-1zm4 0h1v1h-1zm-3 1h3v1h-3zM213 338h3v1h-3zm-1 1h1v1h-1zm4 0h1v1h-1zm-5 1h1v3h-1zm6 0h1v3h-1zm-5 3h1v1h-1zm4 0h1v1h-1zm-3 1h3v1h-3zM214 340h3v1h-3zm-1 1h1v1h-1zm4 0h1v1h-1zm-5 1h1v3h-1zm6 0h1v3h-1zm-5 3h1v1h-1zm4 0h1v1h-1zm-3 1h3v1h-3zM224 336h3v1h-3zm-1 1h1v1h-1zm4 0h1v1h-1zm-5 1h1v3h-1zm6 0h1v3h-1zm-5 3h1v1h-1zm4 0h1v1h-1zm-3 1h3v1h-3zM231 335h3v1h-3zm-1 1h1v1h-1zm4 0h1v1h-1zm-5 1h1v3h-1zm6 0h1v3h-1zm-5 3h1v1h-1zm4 0h1v1h-1zm-3 1h3v1h-3zM235 335h3v1h-3zm-1 1h1v1h-1zm4 0h1v1h-1zm-5 1h1v3h-1zm6 0h1v3h-1zm-5 3h1v1h-1zm4 0h1v1h-1zm-3 1h3v1h-3zM228 345h3v1h-3zm-1 1h1v1h-1zm4 0h1v1h-1zm-5 1h1v3h-1zm6 0h1v3h-1zm-5 3h1v1h-1zm4 0h1v1h-1zm-3 1h3v1h-3zM247 342h3v1h-3zm-1 1h1v1h-1zm4 0h1v1h-1zm-5 1h1v3h-1zm6 0h1v3h-1zm-5 3h1v1h-1zm4 0h1v1h-1zm-3 1h3v1h-3zM255 340h3v1h-3zm-1 1h1v1h-1zm4 0h1v1h-1zm-5 1h1v3h-1zm6 0h1v3h-1zm-5 3h1v1h-1zm4 0h1v1h-1zm-3 1h3v1h-3zM265 345h3v1h-3zm-1 1h1v1h-1zm4 0h1v1h-1zm-5 1h1v3h-1zm6 0h1v3h-1zm-5 3h1v1h-1zm4 0h1v1h-1zm-3 1h3v1h-3zM269 346h3v1h-3zm-1 1h1v1h-1zm4 0h1v1h-1zm-5 1h1v3h-1zm6 0h1v3h-1zm-5 3h1v1h-1zm4 0h1v1h-1zm-3 1h3v1h-3zM275 350h3v1h-3zm-1 1h1v1h-1zm4 0h1v1h-1zm-5 1h1v3h-1zm6 0h1v3h-1zm-5 3h1v1h-1zm4 0h1v1h-1zm-3 1h3v1h-3zM278 341h3v1h-3zm-1 1h1v1h-1zm4 0h1v1h-1zm-5 1h1v3h-1zm6 0h1v3h-1zm-5 3h1v1h-1zm4 0h1v1h-1zm-3 1h3v1h-3zM287 344h3v1h-3zm-1 1h1v1h-1zm4 0h1v1h-1zm-5 1h1v3h-1zm6 0h1v3h-1zm-5 3h1v1h-1zm4 0h1v1h-1zm-3 1h3v1h-3zM291 345h3v1h-3zm-1 1h1v1h-1zm4 0h1v1h-1zm-5 1h1v3h-1zm6 0h1v3h-1zm-5 3h1v1h-1zm4 0h1v1h-1zm-3 1h3v1h-3zM297 343h3v1h-3zm-1 1h1v1h-1zm4 0h1v1h-1zm-5 1h1v3h-1zm6 0h1v3h-1zm-5 3h1v1h-1zm4 0h1v1h-1zm-3 1h3v1h-3zM307 348h3v1h-3zm-1 1h1v1h-1zm4 0h1v1h-1zm-5 1h1v3h-1zm6 0h1v3h-1zm-5 3h1v1h-1zm4 0h1v1h-1zm-3 1h3v1h-3zM311 355h3v1h-3zm-1 1h1v1h-1zm4 0h1v1h-1zm-5 1h1v3h-1zm6 0h1v3h-1zm-5 3h1v1h-1zm4 0h1v1h-1zm-3 1h3v1h-3zM313 341h3v1h-3zm-1 1h1v1h-1zm4 0h1v1h-1zm-5 1h1v3h-1zm6 0h1v3h-1zm-5 3h1v1h-1zm4 0h1v1h-1zm-3 1h3v1h-3zM268 340h3v1h-3zm-1 1h1v1h-1zm4 0h1v1h-1zm-5 1h1v3h-1zm6 0h1v3h-1zm-5 3h1v1h-1zm4 0h1v1h-1zm-3 1h3v1h-3zM240 335h3v1h-3zm-1 1h1v1h-1zm4 0h1v1h-1zm-5 1h1v3h-1zm6 0h1v3h-1zm-5 3h1v1h-1zm4 0h1v1h-1zm-3 1h3v1h-3zM244 336h3v1h-3zm-1 1h1v1h-1zm4 0h1v1h-1zm-5 1h1v3h-1zm6 0h1v3h-1zm-5 3h1v1h-1zm4 0h1v1h-1zm-3 1h3v1h-3zM332 347h3v1h-3zm-1 1h1v1h-1zm4 0h1v1h-1zm-5 1h1v3h-1zm6 0h1v3h-1zm-5 3h1v1h-1zm4 0h1v1h-1zm-3 1h3v1h-3zM339 353h3v1h-3zm-1 1h1v1h-1zm4 0h1v1h-1zm-5 1h1v3h-1zm6 0h1v3h-1zm-5 3h1v1h-1zm4 0h1v1h-1zm-3 1h3v1h-3zM355 353h3v1h-3zm-1 1h1v1h-1zm4 0h1v1h-1zm-5 1h1v3h-1zm6 0h1v3h-1zm-5 3h1v1h-1zm4 0h1v1h-1zm-3 1h3v1h-3zM375 351h3v1h-3zm-1 1h1v1h-1zm4 0h1v1h-1zm-5 1h1v3h-1zm6 0h1v3h-1zm-5 3h1v1h-1zm4 0h1v1h-1zm-3 1h3v1h-3zM382 350h3v1h-3zm-1 1h1v1h-1zm4 0h1v1h-1zm-5 1h1v3h-1zm6 0h1v3h-1zm-5 3h1v1h-1zm4 0h1v1h-1zm-3 1h3v1h-3zM394 352h3v1h-3zm-1 1h1v1h-1zm4 0h1v1h-1zm-5 1h1v3h-1zm6 0h1v3h-1zm-5 3h1v1h-1zm4 0h1v1h-1zm-3 1h3v1h-3zM392 350h3v1h-3zm-1 1h1v1h-1zm4 0h1v1h-1zm-5 1h1v3h-1zm6 0h1v3h-1zm-5 3h1v1h-1zm4 0h1v1h-1zm-3 1h3v1h-3zM319 343h3v1h-3zm-1 1h1v1h-1zm4 0h1v1h-1zm-5 1h1v3h-1zm6 0h1v3h-1zm-5 3h1v1h-1zm4 0h1v1h-1zm-3 1h3v1h-3zM324 341h3v1h-3zm-1 1h1v1h-1zm4 0h1v1h-1zm-5 1h1v3h-1zm6 0h1v3h-1zm-5 3h1v1h-1zm4 0h1v1h-1zm-3 1h3v1h-3zM345 350h3v1h-3zm-1 1h1v1h-1zm4 0h1v1h-1zm-5 1h1v3h-1zm6 0h1v3h-1zm-5 3h1v1h-1zm4 0h1v1h-1zm-3 1h3v1h-3zM350 346h3v1h-3zm-1 1h1v1h-1zm4 0h1v1h-1zm-5 1h1v3h-1zm6 0h1v3h-1zm-5 3h1v1h-1zm4 0h1v1h-1zm-3 1h3v1h-3zM360 346h3v1h-3zm-1 1h1v1h-1zm4 0h1v1h-1zm-5 1h1v3h-1zm6 0h1v3h-1zm-5 3h1v1h-1zm4 0h1v1h-1zm-3 1h3v1h-3zM428 317h3v1h-3zm-1 1h1v1h-1zm4 0h1v1h-1zm-5 1h1v3h-1zm6 0h1v3h-1zm-5 3h1v1h-1zm4 0h1v1h-1zm-3 1h3v1h-3zM430 318h3v1h-3zm-1 1h1v1h-1zm4 0h1v1h-1zm-5 1h1v3h-1zm6 0h1v3h-1zm-5 3h1v1h-1zm4 0h1v1h-1zm-3 1h3v1h-3zM447 326h3v1h-3zm-1 1h1v1h-1zm4 0h1v1h-1zm-5 1h1v3h-1zm6 0h1v3h-1zm-5 3h1v1h-1zm4 0h1v1h-1zm-3 1h3v1h-3zM448 328h3v1h-3zm-1 1h1v1h-1zm4 0h1v1h-1zm-5 1h1v3h-1zm6 0h1v3h-1zm-5 3h1v1h-1zm4 0h1v1h-1zm-3 1h3v1h-3zM418 322h3v1h-3zm-1 1h1v1h-1zm4 0h1v1h-1zm-5 1h1v3h-1zm6 0h1v3h-1zm-5 3h1v1h-1zm4 0h1v1h-1zm-3 1h3v1h-3zM406 354h3v1h-3zm-1 1h1v1h-1zm4 0h1v1h-1zm-5 1h1v3h-1zm6 0h1v3h-1zm-5 3h1v1h-1zm4 0h1v1h-1zm-3 1h3v1h-3zM398 355h3v1h-3zm-1 1h1v1h-1zm4 0h1v1h-1zm-5 1h1v3h-1zm6 0h1v3h-1zm-5 3h1v1h-1zm4 0h1v1h-1zm-3 1h3v1h-3zM438 352h3v1h-3zm-1 1h1v1h-1zm4 0h1v1h-1zm-5 1h1v3h-1zm6 0h1v3h-1zm-5 3h1v1h-1zm4 0h1v1h-1zm-3 1h3v1h-3zM443 351h3v1h-3zm-1 1h1v1h-1zm4 0h1v1h-1zm-5 1h1v3h-1zm6 0h1v3h-1zm-5 3h1v1h-1zm4 0h1v1h-1zm-3 1h3v1h-3zM465 362h3v1h-3zm-1 1h1v1h-1zm4 0h1v1h-1zm-5 1h1v3h-1zm6 0h1v3h-1zm-5 3h1v1h-1zm4 0h1v1h-1zm-3 1h3v1h-3zM409 316h3v1h-3zm-1 1h1v1h-1zm4 0h1v1h-1zm-5 1h1v3h-1zm6 0h1v3h-1zm-5 3h1v1h-1zm4 0h1v1h-1zm-3 1h3v1h-3zM118 293h3v1h-3zm-1 1h1v1h-1zm4 0h1v1h-1zm-5 1h1v3h-1zm6 0h1v3h-1zm-5 3h1v1h-1zm4 0h1v1h-1zm-3 1h3v1h-3zM122 291h3v1h-3zm-1 1h1v1h-1zm4 0h1v1h-1zm-5 1h1v3h-1zm6 0h1v3h-1zm-5 3h1v1h-1zm4 0h1v1h-1zm-3 1h3v1h-3zM121 299h3v1h-3zm-1 1h1v1h-1zm4 0h1v1h-1zm-5 1h1v3h-1zm6 0h1v3h-1zm-5 3h1v1h-1zm4 0h1v1h-1zm-3 1h3v1h-3zM115 292h3v1h-3zm-1 1h1v1h-1zm4 0h1v1h-1zm-5 1h1v3h-1zm6 0h1v3h-1zm-5 3h1v1h-1zm4 0h1v1h-1zm-3 1h3v1h-3zM119 310h3v1h-3zm-1 1h1v1h-1zm4 0h1v1h-1zm-5 1h1v3h-1zm6 0h1v3h-1zm-5 3h1v1h-1zm4 0h1v1h-1zm-3 1h3v1h-3zM116 295h3v1h-3zm-1 1h1v1h-1zm4 0h1v1h-1zm-5 1h1v3h-1zm6 0h1v3h-1zm-5 3h1v1h-1zm4 0h1v1h-1zm-3 1h3v1h-3zM122 313h3v1h-3zm-1 1h1v1h-1zm4 0h1v1h-1zm-5 1h1v3h-1zm6 0h1v3h-1zm-5 3h1v1h-1zm4 0h1v1h-1zm-3 1h3v1h-3zM126 291h3v1h-3zm-1 1h1v1h-1zm4 0h1v1h-1zm-5 1h1v3h-1zm6 0h1v3h-1zm-5 3h1v1h-1zm4 0h1v1h-1zm-3 1h3v1h-3zM125 297h3v1h-3zm-1 1h1v1h-1zm4 0h1v1h-1zm-5 1h1v3h-1zm6 0h1v3h-1zm-5 3h1v1h-1zm4 0h1v1h-1zm-3 1h3v1h-3zM116 292h3v1h-3zm-1 1h1v1h-1zm4 0h1v1h-1zm-5 1h1v3h-1zm6 0h1v3h-1zm-5 3h1v1h-1zm4 0h1v1h-1zm-3 1h3v1h-3zM118 310h3v1h-3zm-1 1h1v1h-1zm4 0h1v1h-1zm-5 1h1v3h-1zm6 0h1v3h-1zm-5 3h1v1h-1zm4 0h1v1h-1zm-3 1h3v1h-3zM116 304h3v1h-3zm-1 1h1v1h-1zm4 0h1v1h-1zm-5 1h1v3h-1zm6 0h1v3h-1zm-5 3h1v1h-1zm4 0h1v1h-1zm-3 1h3v1h-3zM122 299h3v1h-3zm-1 1h1v1h-1zm4 0h1v1h-1zm-5 1h1v3h-1zm6 0h1v3h-1zm-5 3h1v1h-1zm4 0h1v1h-1zm-3 1h3v1h-3zM166 263h3v1h-3zm-1 1h1v1h-1zm4 0h1v1h-1zm-5 1h1v3h-1zm6 0h1v3h-1zm-5 3h1v1h-1zm4 0h1v1h-1zm-3 1h3v1h-3zM190 267h3v1h-3zm-1 1h1v1h-1zm4 0h1v1h-1zm-5 1h1v3h-1zm6 0h1v3h-1zm-5 3h1v1h-1zm4 0h1v1h-1zm-3 1h3v1h-3zM176 271h3v1h-3zm-1 1h1v1h-1zm4 0h1v1h-1zm-5 1h1v3h-1zm6 0h1v3h-1zm-5 3h1v1h-1zm4 0h1v1h-1zm-3 1h3v1h-3zM181 265h3v1h-3zm-1 1h1v1h-1zm4 0h1v1h-1zm-5 1h1v3h-1zm6 0h1v3h-1zm-5 3h1v1h-1zm4 0h1v1h-1zm-3 1h3v1h-3zM195 273h3v1h-3zm-1 1h1v1h-1zm4 0h1v1h-1zm-5 1h1v3h-1zm6 0h1v3h-1zm-5 3h1v1h-1zm4 0h1v1h-1zm-3 1h3v1h-3zM173 270h3v1h-3zm-1 1h1v1h-1zm4 0h1v1h-1zm-5 1h1v3h-1zm6 0h1v3h-1zm-5 3h1v1h-1zm4 0h1v1h-1zm-3 1h3v1h-3zM184 277h3v1h-3zm-1 1h1v1h-1zm4 0h1v1h-1zm-5 1h1v3h-1zm6 0h1v3h-1zm-5 3h1v1h-1zm4 0h1v1h-1zm-3 1h3v1h-3zM192 264h3v1h-3zm-1 1h1v1h-1zm4 0h1v1h-1zm-5 1h1v3h-1zm6 0h1v3h-1zm-5 3h1v1h-1zm4 0h1v1h-1zm-3 1h3v1h-3zM180 274h3v1h-3zm-1 1h1v1h-1zm4 0h1v1h-1zm-5 1h1v3h-1zm6 0h1v3h-1zm-5 3h1v1h-1zm4 0h1v1h-1zm-3 1h3v1h-3zM169 269h3v1h-3zm-1 1h1v1h-1zm4 0h1v1h-1zm-5 1h1v3h-1zm6 0h1v3h-1zm-5 3h1v1h-1zm4 0h1v1h-1zm-3 1h3v1h-3zM165 272h3v1h-3zm-1 1h1v1h-1zm4 0h1v1h-1zm-5 1h1v3h-1zm6 0h1v3h-1zm-5 3h1v1h-1zm4 0h1v1h-1zm-3 1h3v1h-3zM193 270h3v1h-3zm-1 1h1v1h-1zm4 0h1v1h-1zm-5 1h1v3h-1zm6 0h1v3h-1zm-5 3h1v1h-1zm4 0h1v1h-1zm-3 1h3v1h-3zM198 265h3v1h-3zm-1 1h1v1h-1zm4 0h1v1h-1zm-5 1h1v3h-1zm6 0h1v3h-1zm-5 3h1v1h-1zm4 0h1v1h-1zm-3 1h3v1h-3zM191 271h3v1h-3zm-1 1h1v1h-1zm4 0h1v1h-1zm-5 1h1v3h-1zm6 0h1v3h-1zm-5 3h1v1h-1zm4 0h1v1h-1zm-3 1h3v1h-3zM186 268h3v1h-3zm-1 1h1v1h-1zm4 0h1v1h-1zm-5 1h1v3h-1zm6 0h1v3h-1zm-5 3h1v1h-1zm4 0h1v1h-1zm-3 1h3v1h-3zM182 272h3v1h-3zm-1 1h1v1h-1zm4 0h1v1h-1zm-5 1h1v3h-1zm6 0h1v3h-1zm-5 3h1v1h-1zm4 0h1v1h-1zm-3 1h3v1h-3zM166 273h3v1h-3zm-1 1h1v1h-1zm4 0h1v1h-1zm-5 1h1v3h-1zm6 0h1v3h-1zm-5 3h1v1h-1zm4 0h1v1h-1zm-3 1h3v1h-3zM196 264h3v1h-3zm-1 1h1v1h-1zm4 0h1v1h-1zm-5 1h1v3h-1zm6 0h1v3h-1zm-5 3h1v1h-1zm4 0h1v1h-1zm-3 1h3v1h-3zM179 272h3v1h-3zm-1 1h1v1h-1zm4 0h1v1h-1zm-5 1h1v3h-1zm6 0h1v3h-1zm-5 3h1v1h-1zm4 0h1v1h-1zm-3 1h3v1h-3zM164 268h3v1h-3zm-1 1h1v1h-1zm4 0h1v1h-1zm-5 1h1v3h-1zm6 0h1v3h-1zm-5 3h1v1h-1zm4 0h1v1h-1zm-3 1h3v1h-3zM170 261h3v1h-3zm-1 1h1v1h-1zm4 0h1v1h-1zm-5 1h1v3h-1zm6 0h1v3h-1zm-5 3h1v1h-1zm4 0h1v1h-1zm-3 1h3v1h-3zM168 264h3v1h-3zm-1 1h1v1h-1zm4 0h1v1h-1zm-5 1h1v3h-1zm6 0h1v3h-1zm-5 3h1v1h-1zm4 0h1v1h-1zm-3 1h3v1h-3zM179 277h3v1h-3zm-1 1h1v1h-1zm4 0h1v1h-1zm-5 1h1v3h-1zm6 0h1v3h-1zm-5 3h1v1h-1zm4 0h1v1h-1zm-3 1h3v1h-3zM167 268h3v1h-3zm-1 1h1v1h-1zm4 0h1v1h-1zm-5 1h1v3h-1zm6 0h1v3h-1zm-5 3h1v1h-1zm4 0h1v1h-1zm-3 1h3v1h-3zM185 277h3v1h-3zm-1 1h1v1h-1zm4 0h1v1h-1zm-5 1h1v3h-1zm6 0h1v3h-1zm-5 3h1v1h-1zm4 0h1v1h-1zm-3 1h3v1h-3zM196 277h3v1h-3zm-1 1h1v1h-1zm4 0h1v1h-1zm-5 1h1v3h-1zm6 0h1v3h-1zm-5 3h1v1h-1zm4 0h1v1h-1zm-3 1h3v1h-3zM174 267h3v1h-3zm-1 1h1v1h-1zm4 0h1v1h-1zm-5 1h1v3h-1zm6 0h1v3h-1zm-5 3h1v1h-1zm4 0h1v1h-1zm-3 1h3v1h-3zM178 277h3v1h-3zm-1 1h1v1h-1zm4 0h1v1h-1zm-5 1h1v3h-1zm6 0h1v3h-1zm-5 3h1v1h-1zm4 0h1v1h-1zm-3 1h3v1h-3zM170 263h3v1h-3zm-1 1h1v1h-1zm4 0h1v1h-1zm-5 1h1v3h-1zm6 0h1v3h-1zm-5 3h1v1h-1zm4 0h1v1h-1zm-3 1h3v1h-3zM173 269h3v1h-3zm-1 1h1v1h-1zm4 0h1v1h-1zm-5 1h1v3h-1zm6 0h1v3h-1zm-5 3h1v1h-1zm4 0h1v1h-1zm-3 1h3v1h-3zM187 264h3v1h-3zm-1 1h1v1h-1zm4 0h1v1h-1zm-5 1h1v3h-1zm6 0h1v3h-1zm-5 3h1v1h-1zm4 0h1v1h-1zm-3 1h3v1h-3zM178 270h3v1h-3zm-1 1h1v1h-1zm4 0h1v1h-1zm-5 1h1v3h-1zm6 0h1v3h-1zm-5 3h1v1h-1zm4 0h1v1h-1zm-3 1h3v1h-3zM201 273h3v1h-3zm-1 1h1v1h-1zm4 0h1v1h-1zm-5 1h1v3h-1zm6 0h1v3h-1zm-5 3h1v1h-1zm4 0h1v1h-1zm-3 1h3v1h-3zM184 271h3v1h-3zm-1 1h1v1h-1zm4 0h1v1h-1zm-5 1h1v3h-1zm6 0h1v3h-1zm-5 3h1v1h-1zm4 0h1v1h-1zm-3 1h3v1h-3zM198 275h3v1h-3zm-1 1h1v1h-1zm4 0h1v1h-1zm-5 1h1v3h-1zm6 0h1v3h-1zm-5 3h1v1h-1zm4 0h1v1h-1zm-3 1h3v1h-3zM179 267h3v1h-3zm-1 1h1v1h-1zm4 0h1v1h-1zm-5 1h1v3h-1zm6 0h1v3h-1zm-5 3h1v1h-1zm4 0h1v1h-1zm-3 1h3v1h-3zM167 272h3v1h-3zm-1 1h1v1h-1zm4 0h1v1h-1zm-5 1h1v3h-1zm6 0h1v3h-1zm-5 3h1v1h-1zm4 0h1v1h-1zm-3 1h3v1h-3zM172 262h3v1h-3zm-1 1h1v1h-1zm4 0h1v1h-1zm-5 1h1v3h-1zm6 0h1v3h-1zm-5 3h1v1h-1zm4 0h1v1h-1zm-3 1h3v1h-3zM177 259h3v1h-3zm-1 1h1v1h-1zm4 0h1v1h-1zm-5 1h1v3h-1zm6 0h1v3h-1zm-5 3h1v1h-1zm4 0h1v1h-1zm-3 1h3v1h-3zM167 266h3v1h-3zm-1 1h1v1h-1zm4 0h1v1h-1zm-5 1h1v3h-1zm6 0h1v3h-1zm-5 3h1v1h-1zm4 0h1v1h-1zm-3 1h3v1h-3zM188 261h3v1h-3zm-1 1h1v1h-1zm4 0h1v1h-1zm-5 1h1v3h-1zm6 0h1v3h-1zm-5 3h1v1h-1zm4 0h1v1h-1zm-3 1h3v1h-3zM173 266h3v1h-3zm-1 1h1v1h-1zm4 0h1v1h-1zm-5 1h1v3h-1zm6 0h1v3h-1zm-5 3h1v1h-1zm4 0h1v1h-1zm-3 1h3v1h-3zM178 261h3v1h-3zm-1 1h1v1h-1zm4 0h1v1h-1zm-5 1h1v3h-1zm6 0h1v3h-1zm-5 3h1v1h-1zm4 0h1v1h-1zm-3 1h3v1h-3zM182 269h3v1h-3zm-1 1h1v1h-1zm4 0h1v1h-1zm-5 1h1v3h-1zm6 0h1v3h-1zm-5 3h1v1h-1zm4 0h1v1h-1zm-3 1h3v1h-3zM177 264h3v1h-3zm-1 1h1v1h-1zm4 0h1v1h-1zm-5 1h1v3h-1zm6 0h1v3h-1zm-5 3h1v1h-1zm4 0h1v1h-1zm-3 1h3v1h-3zM231 257h3v1h-3zm-1 1h1v1h-1zm4 0h1v1h-1zm-5 1h1v3h-1zm6 0h1v3h-1zm-5 3h1v1h-1zm4 0h1v1h-1zm-3 1h3v1h-3zM222 257h3v1h-3zm-1 1h1v1h-1zm4 0h1v1h-1zm-5 1h1v3h-1zm6 0h1v3h-1zm-5 3h1v1h-1zm4 0h1v1h-1zm-3 1h3v1h-3zM223 255h3v1h-3zm-1 1h1v1h-1zm4 0h1v1h-1zm-5 1h1v3h-1zm6 0h1v3h-1zm-5 3h1v1h-1zm4 0h1v1h-1zm-3 1h3v1h-3zM232 266h3v1h-3zm-1 1h1v1h-1zm4 0h1v1h-1zm-5 1h1v3h-1zm6 0h1v3h-1zm-5 3h1v1h-1zm4 0h1v1h-1zm-3 1h3v1h-3zM214 260h3v1h-3zm-1 1h1v1h-1zm4 0h1v1h-1zm-5 1h1v3h-1zm6 0h1v3h-1zm-5 3h1v1h-1zm4 0h1v1h-1zm-3 1h3v1h-3zM216 258h3v1h-3zm-1 1h1v1h-1zm4 0h1v1h-1zm-5 1h1v3h-1zm6 0h1v3h-1zm-5 3h1v1h-1zm4 0h1v1h-1zm-3 1h3v1h-3zM232 268h3v1h-3zm-1 1h1v1h-1zm4 0h1v1h-1zm-5 1h1v3h-1zm6 0h1v3h-1zm-5 3h1v1h-1zm4 0h1v1h-1zm-3 1h3v1h-3zM231 267h3v1h-3zm-1 1h1v1h-1zm4 0h1v1h-1zm-5 1h1v3h-1zm6 0h1v3h-1zm-5 3h1v1h-1zm4 0h1v1h-1zm-3 1h3v1h-3zM213 263h3v1h-3zm-1 1h1v1h-1zm4 0h1v1h-1zm-5 1h1v3h-1zm6 0h1v3h-1zm-5 3h1v1h-1zm4 0h1v1h-1zm-3 1h3v1h-3zM207 259h3v1h-3zm-1 1h1v1h-1zm4 0h1v1h-1zm-5 1h1v3h-1zm6 0h1v3h-1zm-5 3h1v1h-1zm4 0h1v1h-1zm-3 1h3v1h-3zM214 266h3v1h-3zm-1 1h1v1h-1zm4 0h1v1h-1zm-5 1h1v3h-1zm6 0h1v3h-1zm-5 3h1v1h-1zm4 0h1v1h-1zm-3 1h3v1h-3zM235 262h3v1h-3zm-1 1h1v1h-1zm4 0h1v1h-1zm-5 1h1v3h-1zm6 0h1v3h-1zm-5 3h1v1h-1zm4 0h1v1h-1zm-3 1h3v1h-3zM235 260h3v1h-3zm-1 1h1v1h-1zm4 0h1v1h-1zm-5 1h1v3h-1zm6 0h1v3h-1zm-5 3h1v1h-1zm4 0h1v1h-1zm-3 1h3v1h-3zM213 258h3v1h-3zm-1 1h1v1h-1zm4 0h1v1h-1zm-5 1h1v3h-1zm6 0h1v3h-1zm-5 3h1v1h-1zm4 0h1v1h-1zm-3 1h3v1h-3zM212 258h3v1h-3zm-1 1h1v1h-1zm4 0h1v1h-1zm-5 1h1v3h-1zm6 0h1v3h-1zm-5 3h1v1h-1zm4 0h1v1h-1zm-3 1h3v1h-3zM304 272h3v1h-3zm-1 1h1v1h-1zm4 0h1v1h-1zm-5 1h1v3h-1zm6 0h1v3h-1zm-5 3h1v1h-1zm4 0h1v1h-1zm-3 1h3v1h-3zM289 284h3v1h-3zm-1 1h1v1h-1zm4 0h1v1h-1zm-5 1h1v3h-1zm6 0h1v3h-1zm-5 3h1v1h-1zm4 0h1v1h-1zm-3 1h3v1h-3zM243 279h3v1h-3zm-1 1h1v1h-1zm4 0h1v1h-1zm-5 1h1v3h-1zm6 0h1v3h-1zm-5 3h1v1h-1zm4 0h1v1h-1zm-3 1h3v1h-3zM309 284h3v1h-3zm-1 1h1v1h-1zm4 0h1v1h-1zm-5 1h1v3h-1zm6 0h1v3h-1zm-5 3h1v1h-1zm4 0h1v1h-1zm-3 1h3v1h-3zM297 272h3v1h-3zm-1 1h1v1h-1zm4 0h1v1h-1zm-5 1h1v3h-1zm6 0h1v3h-1zm-5 3h1v1h-1zm4 0h1v1h-1zm-3 1h3v1h-3zM251 284h3v1h-3zm-1 1h1v1h-1zm4 0h1v1h-1zm-5 1h1v3h-1zm6 0h1v3h-1zm-5 3h1v1h-1zm4 0h1v1h-1zm-3 1h3v1h-3zM263 285h3v1h-3zm-1 1h1v1h-1zm4 0h1v1h-1zm-5 1h1v3h-1zm6 0h1v3h-1zm-5 3h1v1h-1zm4 0h1v1h-1zm-3 1h3v1h-3zM314 269h3v1h-3zm-1 1h1v1h-1zm4 0h1v1h-1zm-5 1h1v3h-1zm6 0h1v3h-1zm-5 3h1v1h-1zm4 0h1v1h-1zm-3 1h3v1h-3zM294 261h3v1h-3zm-1 1h1v1h-1zm4 0h1v1h-1zm-5 1h1v3h-1zm6 0h1v3h-1zm-5 3h1v1h-1zm4 0h1v1h-1zm-3 1h3v1h-3zM247 260h3v1h-3zm-1 1h1v1h-1zm4 0h1v1h-1zm-5 1h1v3h-1zm6 0h1v3h-1zm-5 3h1v1h-1zm4 0h1v1h-1zm-3 1h3v1h-3zM309 285h3v1h-3zm-1 1h1v1h-1zm4 0h1v1h-1zm-5 1h1v3h-1zm6 0h1v3h-1zm-5 3h1v1h-1zm4 0h1v1h-1zm-3 1h3v1h-3zM248 285h3v1h-3zm-1 1h1v1h-1zm4 0h1v1h-1zm-5 1h1v3h-1zm6 0h1v3h-1zm-5 3h1v1h-1zm4 0h1v1h-1zm-3 1h3v1h-3zM315 279h3v1h-3zm-1 1h1v1h-1zm4 0h1v1h-1zm-5 1h1v3h-1zm6 0h1v3h-1zm-5 3h1v1h-1zm4 0h1v1h-1zm-3 1h3v1h-3zM265 275h3v1h-3zm-1 1h1v1h-1zm4 0h1v1h-1zm-5 1h1v3h-1zm6 0h1v3h-1zm-5 3h1v1h-1zm4 0h1v1h-1zm-3 1h3v1h-3zM247 255h3v1h-3zm-1 1h1v1h-1zm4 0h1v1h-1zm-5 1h1v3h-1zm6 0h1v3h-1zm-5 3h1v1h-1zm4 0h1v1h-1zm-3 1h3v1h-3zM314 279h3v1h-3zm-1 1h1v1h-1zm4 0h1v1h-1zm-5 1h1v3h-1zm6 0h1v3h-1zm-5 3h1v1h-1zm4 0h1v1h-1zm-3 1h3v1h-3zM303 262h3v1h-3zm-1 1h1v1h-1zm4 0h1v1h-1zm-5 1h1v3h-1zm6 0h1v3h-1zm-5 3h1v1h-1zm4 0h1v1h-1zm-3 1h3v1h-3zM257 265h3v1h-3zm-1 1h1v1h-1zm4 0h1v1h-1zm-5 1h1v3h-1zm6 0h1v3h-1zm-5 3h1v1h-1zm4 0h1v1h-1zm-3 1h3v1h-3zM256 276h3v1h-3zm-1 1h1v1h-1zm4 0h1v1h-1zm-5 1h1v3h-1zm6 0h1v3h-1zm-5 3h1v1h-1zm4 0h1v1h-1zm-3 1h3v1h-3zM257 270h3v1h-3zm-1 1h1v1h-1zm4 0h1v1h-1zm-5 1h1v3h-1zm6 0h1v3h-1zm-5 3h1v1h-1zm4 0h1v1h-1zm-3 1h3v1h-3zM265 272h3v1h-3zm-1 1h1v1h-1zm4 0h1v1h-1zm-5 1h1v3h-1zm6 0h1v3h-1zm-5 3h1v1h-1zm4 0h1v1h-1zm-3 1h3v1h-3zM277 274h3v1h-3zm-1 1h1v1h-1zm4 0h1v1h-1zm-5 1h1v3h-1zm6 0h1v3h-1zm-5 3h1v1h-1zm4 0h1v1h-1zm-3 1h3v1h-3zM278 255h3v1h-3zm-1 1h1v1h-1zm4 0h1v1h-1zm-5 1h1v3h-1zm6 0h1v3h-1zm-5 3h1v1h-1zm4 0h1v1h-1zm-3 1h3v1h-3zM272 261h3v1h-3zm-1 1h1v1h-1zm4 0h1v1h-1zm-5 1h1v3h-1zm6 0h1v3h-1zm-5 3h1v1h-1zm4 0h1v1h-1zm-3 1h3v1h-3zM237 284h3v1h-3zm-1 1h1v1h-1zm4 0h1v1h-1zm-5 1h1v3h-1zm6 0h1v3h-1zm-5 3h1v1h-1zm4 0h1v1h-1zm-3 1h3v1h-3zM250 272h3v1h-3zm-1 1h1v1h-1zm4 0h1v1h-1zm-5 1h1v3h-1zm6 0h1v3h-1zm-5 3h1v1h-1zm4 0h1v1h-1zm-3 1h3v1h-3zM295 275h3v1h-3zm-1 1h1v1h-1zm4 0h1v1h-1zm-5 1h1v3h-1zm6 0h1v3h-1zm-5 3h1v1h-1zm4 0h1v1h-1zm-3 1h3v1h-3zM263 274h3v1h-3zm-1 1h1v1h-1zm4 0h1v1h-1zm-5 1h1v3h-1zm6 0h1v3h-1zm-5 3h1v1h-1zm4 0h1v1h-1zm-3 1h3v1h-3zM281 284h3v1h-3zm-1 1h1v1h-1zm4 0h1v1h-1zm-5 1h1v3h-1zm6 0h1v3h-1zm-5 3h1v1h-1zm4 0h1v1h-1zm-3 1h3v1h-3zM245 276h3v1h-3zm-1 1h1v1h-1zm4 0h1v1h-1zm-5 1h1v3h-1zm6 0h1v3h-1zm-5 3h1v1h-1zm4 0h1v1h-1zm-3 1h3v1h-3zM256 265h3v1h-3zm-1 1h1v1h-1zm4 0h1v1h-1zm-5 1h1v3h-1zm6 0h1v3h-1zm-5 3h1v1h-1zm4 0h1v1h-1zm-3 1h3v1h-3zM298 274h3v1h-3zm-1 1h1v1h-1zm4 0h1v1h-1zm-5 1h1v3h-1zm6 0h1v3h-1zm-5 3h1v1h-1zm4 0h1v1h-1zm-3 1h3v1h-3zM281 283h3v1h-3zm-1 1h1v1h-1zm4 0h1v1h-1zm-5 1h1v3h-1zm6 0h1v3h-1zm-5 3h1v1h-1zm4 0h1v1h-1zm-3 1h3v1h-3zM310 271h3v1h-3zm-1 1h1v1h-1zm4 0h1v1h-1zm-5 1h1v3h-1zm6 0h1v3h-1zm-5 3h1v1h-1zm4 0h1v1h-1zm-3 1h3v1h-3zM286 273h3v1h-3zm-1 1h1v1h-1zm4 0h1v1h-1zm-5 1h1v3h-1zm6 0h1v3h-1zm-5 3h1v1h-1zm4 0h1v1h-1zm-3 1h3v1h-3zM277 280h3v1h-3zm-1 1h1v1h-1zm4 0h1v1h-1zm-5 1h1v3h-1zm6 0h1v3h-1zm-5 3h1v1h-1zm4 0h1v1h-1zm-3 1h3v1h-3zM273 275h3v1h-3zm-1 1h1v1h-1zm4 0h1v1h-1zm-5 1h1v3h-1zm6 0h1v3h-1zm-5 3h1v1h-1zm4 0h1v1h-1zm-3 1h3v1h-3zM312 264h3v1h-3zm-1 1h1v1h-1zm4 0h1v1h-1zm-5 1h1v3h-1zm6 0h1v3h-1zm-5 3h1v1h-1zm4 0h1v1h-1zm-3 1h3v1h-3zM304 260h3v1h-3zm-1 1h1v1h-1zm4 0h1v1h-1zm-5 1h1v3h-1zm6 0h1v3h-1zm-5 3h1v1h-1zm4 0h1v1h-1zm-3 1h3v1h-3zM246 271h3v1h-3zm-1 1h1v1h-1zm4 0h1v1h-1zm-5 1h1v3h-1zm6 0h1v3h-1zm-5 3h1v1h-1zm4 0h1v1h-1zm-3 1h3v1h-3zM242 264h3v1h-3zm-1 1h1v1h-1zm4 0h1v1h-1zm-5 1h1v3h-1zm6 0h1v3h-1zm-5 3h1v1h-1zm4 0h1v1h-1zm-3 1h3v1h-3zM242 280h3v1h-3zm-1 1h1v1h-1zm4 0h1v1h-1zm-5 1h1v3h-1zm6 0h1v3h-1zm-5 3h1v1h-1zm4 0h1v1h-1zm-3 1h3v1h-3zM299 288h3v1h-3zm-1 1h1v1h-1zm4 0h1v1h-1zm-5 1h1v3h-1zm6 0h1v3h-1zm-5 3h1v1h-1zm4 0h1v1h-1zm-3 1h3v1h-3zM249 281h3v1h-3zm-1 1h1v1h-1zm4 0h1v1h-1zm-5 1h1v3h-1zm6 0h1v3h-1zm-5 3h1v1h-1zm4 0h1v1h-1zm-3 1h3v1h-3zM289 260h3v1h-3zm-1 1h1v1h-1zm4 0h1v1h-1zm-5 1h1v3h-1zm6 0h1v3h-1zm-5 3h1v1h-1zm4 0h1v1h-1zm-3 1h3v1h-3zM307 291h3v1h-3zm-1 1h1v1h-1zm4 0h1v1h-1zm-5 1h1v3h-1zm6 0h1v3h-1zm-5 3h1v1h-1zm4 0h1v1h-1zm-3 1h3v1h-3zM268 273h3v1h-3zm-1 1h1v1h-1zm4 0h1v1h-1zm-5 1h1v3h-1zm6 0h1v3h-1zm-5 3h1v1h-1zm4 0h1v1h-1zm-3 1h3v1h-3zM316 286h3v1h-3zm-1 1h1v1h-1zm4 0h1v1h-1zm-5 1h1v3h-1zm6 0h1v3h-1zm-5 3h1v1h-1zm4 0h1v1h-1zm-3 1h3v1h-3zM249 271h3v1h-3zm-1 1h1v1h-1zm4 0h1v1h-1zm-5 1h1v3h-1zm6 0h1v3h-1zm-5 3h1v1h-1zm4 0h1v1h-1zm-3 1h3v1h-3zM278 267h3v1h-3zm-1 1h1v1h-1zm4 0h1v1h-1zm-5 1h1v3h-1zm6 0h1v3h-1zm-5 3h1v1h-1zm4 0h1v1h-1zm-3 1h3v1h-3zM252 266h3v1h-3zm-1 1h1v1h-1zm4 0h1v1h-1zm-5 1h1v3h-1zm6 0h1v3h-1zm-5 3h1v1h-1zm4 0h1v1h-1zm-3 1h3v1h-3zM294 255h3v1h-3zm-1 1h1v1h-1zm4 0h1v1h-1zm-5 1h1v3h-1zm6 0h1v3h-1zm-5 3h1v1h-1zm4 0h1v1h-1zm-3 1h3v1h-3zM281 271h3v1h-3zm-1 1h1v1h-1zm4 0h1v1h-1zm-5 1h1v3h-1zm6 0h1v3h-1zm-5 3h1v1h-1zm4 0h1v1h-1zm-3 1h3v1h-3zM238 267h3v1h-3zm-1 1h1v1h-1zm4 0h1v1h-1zm-5 1h1v3h-1zm6 0h1v3h-1zm-5 3h1v1h-1zm4 0h1v1h-1zm-3 1h3v1h-3zM286 274h3v1h-3zm-1 1h1v1h-1zm4 0h1v1h-1zm-5 1h1v3h-1zm6 0h1v3h-1zm-5 3h1v1h-1zm4 0h1v1h-1zm-3 1h3v1h-3zM245 264h3v1h-3zm-1 1h1v1h-1zm4 0h1v1h-1zm-5 1h1v3h-1zm6 0h1v3h-1zm-5 3h1v1h-1zm4 0h1v1h-1zm-3 1h3v1h-3zM240 284h3v1h-3zm-1 1h1v1h-1zm4 0h1v1h-1zm-5 1h1v3h-1zm6 0h1v3h-1zm-5 3h1v1h-1zm4 0h1v1h-1zm-3 1h3v1h-3zM258 259h3v1h-3zm-1 1h1v1h-1zm4 0h1v1h-1zm-5 1h1v3h-1zm6 0h1v3h-1zm-5 3h1v1h-1zm4 0h1v1h-1zm-3 1h3v1h-3zM302 264h3v1h-3zm-1 1h1v1h-1zm4 0h1v1h-1zm-5 1h1v3h-1zm6 0h1v3h-1zm-5 3h1v1h-1zm4 0h1v1h-1zm-3 1h3v1h-3zM282 281h3v1h-3zm-1 1h1v1h-1zm4 0h1v1h-1zm-5 1h1v3h-1zm6 0h1v3h-1zm-5 3h1v1h-1zm4 0h1v1h-1zm-3 1h3v1h-3zM244 257h3v1h-3zm-1 1h1v1h-1zm4 0h1v1h-1zm-5 1h1v3h-1zm6 0h1v3h-1zm-5 3h1v1h-1zm4 0h1v1h-1zm-3 1h3v1h-3zM292 270h3v1h-3zm-1 1h1v1h-1zm4 0h1v1h-1zm-5 1h1v3h-1zm6 0h1v3h-1zm-5 3h1v1h-1zm4 0h1v1h-1zm-3 1h3v1h-3zM287 285h3v1h-3zm-1 1h1v1h-1zm4 0h1v1h-1zm-5 1h1v3h-1zm6 0h1v3h-1zm-5 3h1v1h-1zm4 0h1v1h-1zm-3 1h3v1h-3zM273 267h3v1h-3zm-1 1h1v1h-1zm4 0h1v1h-1zm-5 1h1v3h-1zm6 0h1v3h-1zm-5 3h1v1h-1zm4 0h1v1h-1zm-3 1h3v1h-3zM279 263h3v1h-3zm-1 1h1v1h-1zm4 0h1v1h-1zm-5 1h1v3h-1zm6 0h1v3h-1zm-5 3h1v1h-1zm4 0h1v1h-1zm-3 1h3v1h-3zM245 261h3v1h-3zm-1 1h1v1h-1zm4 0h1v1h-1zm-5 1h1v3h-1zm6 0h1v3h-1zm-5 3h1v1h-1zm4 0h1v1h-1zm-3 1h3v1h-3zM241 262h3v1h-3zm-1 1h1v1h-1zm4 0h1v1h-1zm-5 1h1v3h-1zm6 0h1v3h-1zm-5 3h1v1h-1zm4 0h1v1h-1zm-3 1h3v1h-3zM261 266h3v1h-3zm-1 1h1v1h-1zm4 0h1v1h-1zm-5 1h1v3h-1zm6 0h1v3h-1zm-5 3h1v1h-1zm4 0h1v1h-1zm-3 1h3v1h-3zM297 265h3v1h-3zm-1 1h1v1h-1zm4 0h1v1h-1zm-5 1h1v3h-1zm6 0h1v3h-1zm-5 3h1v1h-1zm4 0h1v1h-1zm-3 1h3v1h-3zM277 261h3v1h-3zm-1 1h1v1h-1zm4 0h1v1h-1zm-5 1h1v3h-1zm6 0h1v3h-1zm-5 3h1v1h-1zm4 0h1v1h-1zm-3 1h3v1h-3zM264 255h3v1h-3zm-1 1h1v1h-1zm4 0h1v1h-1zm-5 1h1v3h-1zm6 0h1v3h-1zm-5 3h1v1h-1zm4 0h1v1h-1zm-3 1h3v1h-3zM257 255h3v1h-3zm-1 1h1v1h-1zm4 0h1v1h-1zm-5 1h1v3h-1zm6 0h1v3h-1zm-5 3h1v1h-1zm4 0h1v1h-1zm-3 1h3v1h-3zM252 272h3v1h-3zm-1 1h1v1h-1zm4 0h1v1h-1zm-5 1h1v3h-1zm6 0h1v3h-1zm-5 3h1v1h-1zm4 0h1v1h-1zm-3 1h3v1h-3zM311 258h3v1h-3zm-1 1h1v1h-1zm4 0h1v1h-1zm-5 1h1v3h-1zm6 0h1v3h-1zm-5 3h1v1h-1zm4 0h1v1h-1zm-3 1h3v1h-3zM302 271h3v1h-3zm-1 1h1v1h-1zm4 0h1v1h-1zm-5 1h1v3h-1zm6 0h1v3h-1zm-5 3h1v1h-1zm4 0h1v1h-1zm-3 1h3v1h-3zM268 274h3v1h-3zm-1 1h1v1h-1zm4 0h1v1h-1zm-5 1h1v3h-1zm6 0h1v3h-1zm-5 3h1v1h-1zm4 0h1v1h-1zm-3 1h3v1h-3zM293 278h3v1h-3zm-1 1h1v1h-1zm4 0h1v1h-1zm-5 1h1v3h-1zm6 0h1v3h-1zm-5 3h1v1h-1zm4 0h1v1h-1zm-3 1h3v1h-3zM269 268h3v1h-3zm-1 1h1v1h-1zm4 0h1v1h-1zm-5 1h1v3h-1zm6 0h1v3h-1zm-5 3h1v1h-1zm4 0h1v1h-1zm-3 1h3v1h-3zM241 259h3v1h-3zm-1 1h1v1h-1zm4 0h1v1h-1zm-5 1h1v3h-1zm6 0h1v3h-1zm-5 3h1v1h-1zm4 0h1v1h-1zm-3 1h3v1h-3zM242 282h3v1h-3zm-1 1h1v1h-1zm4 0h1v1h-1zm-5 1h1v3h-1zm6 0h1v3h-1zm-5 3h1v1h-1zm4 0h1v1h-1zm-3 1h3v1h-3zM257 261h3v1h-3zm-1 1h1v1h-1zm4 0h1v1h-1zm-5 1h1v3h-1zm6 0h1v3h-1zm-5 3h1v1h-1zm4 0h1v1h-1zm-3 1h3v1h-3zM243 286h3v1h-3zm-1 1h1v1h-1zm4 0h1v1h-1zm-5 1h1v3h-1zm6 0h1v3h-1zm-5 3h1v1h-1zm4 0h1v1h-1zm-3 1h3v1h-3zM306 280h3v1h-3zm-1 1h1v1h-1zm4 0h1v1h-1zm-5 1h1v3h-1zm6 0h1v3h-1zm-5 3h1v1h-1zm4 0h1v1h-1zm-3 1h3v1h-3zM329 296h3v1h-3zm-1 1h1v1h-1zm4 0h1v1h-1zm-5 1h1v3h-1zm6 0h1v3h-1zm-5 3h1v1h-1zm4 0h1v1h-1zm-3 1h3v1h-3zM338 313h3v1h-3zm-1 1h1v1h-1zm4 0h1v1h-1zm-5 1h1v3h-1zm6 0h1v3h-1zm-5 3h1v1h-1zm4 0h1v1h-1zm-3 1h3v1h-3zM336 313h3v1h-3zm-1 1h1v1h-1zm4 0h1v1h-1zm-5 1h1v3h-1zm6 0h1v3h-1zm-5 3h1v1h-1zm4 0h1v1h-1zm-3 1h3v1h-3zM317 294h3v1h-3zm-1 1h1v1h-1zm4 0h1v1h-1zm-5 1h1v3h-1zm6 0h1v3h-1zm-5 3h1v1h-1zm4 0h1v1h-1zm-3 1h3v1h-3zM333 298h3v1h-3zm-1 1h1v1h-1zm4 0h1v1h-1zm-5 1h1v3h-1zm6 0h1v3h-1zm-5 3h1v1h-1zm4 0h1v1h-1zm-3 1h3v1h-3zM317 291h3v1h-3zm-1 1h1v1h-1zm4 0h1v1h-1zm-5 1h1v3h-1zm6 0h1v3h-1zm-5 3h1v1h-1zm4 0h1v1h-1zm-3 1h3v1h-3zM324 295h3v1h-3zm-1 1h1v1h-1zm4 0h1v1h-1zm-5 1h1v3h-1zm6 0h1v3h-1zm-5 3h1v1h-1zm4 0h1v1h-1zm-3 1h3v1h-3zM363 299h3v1h-3zm-1 1h1v1h-1zm4 0h1v1h-1zm-5 1h1v3h-1zm6 0h1v3h-1zm-5 3h1v1h-1zm4 0h1v1h-1zm-3 1h3v1h-3zM377 303h3v1h-3zm-1 1h1v1h-1zm4 0h1v1h-1zm-5 1h1v3h-1zm6 0h1v3h-1zm-5 3h1v1h-1zm4 0h1v1h-1zm-3 1h3v1h-3zM374 311h3v1h-3zm-1 1h1v1h-1zm4 0h1v1h-1zm-5 1h1v3h-1zm6 0h1v3h-1zm-5 3h1v1h-1zm4 0h1v1h-1zm-3 1h3v1h-3zM374 303h3v1h-3zm-1 1h1v1h-1zm4 0h1v1h-1zm-5 1h1v3h-1zm6 0h1v3h-1zm-5 3h1v1h-1zm4 0h1v1h-1zm-3 1h3v1h-3zM320 309h3v1h-3zm-1 1h1v1h-1zm4 0h1v1h-1zm-5 1h1v3h-1zm6 0h1v3h-1zm-5 3h1v1h-1zm4 0h1v1h-1zm-3 1h3v1h-3zM388 302h3v1h-3zm-1 1h1v1h-1zm4 0h1v1h-1zm-5 1h1v3h-1zm6 0h1v3h-1zm-5 3h1v1h-1zm4 0h1v1h-1zm-3 1h3v1h-3zM375 308h3v1h-3zm-1 1h1v1h-1zm4 0h1v1h-1zm-5 1h1v3h-1zm6 0h1v3h-1zm-5 3h1v1h-1zm4 0h1v1h-1zm-3 1h3v1h-3zM328 299h3v1h-3zm-1 1h1v1h-1zm4 0h1v1h-1zm-5 1h1v3h-1zm6 0h1v3h-1zm-5 3h1v1h-1zm4 0h1v1h-1zm-3 1h3v1h-3zM357 309h3v1h-3zm-1 1h1v1h-1zm4 0h1v1h-1zm-5 1h1v3h-1zm6 0h1v3h-1zm-5 3h1v1h-1zm4 0h1v1h-1zm-3 1h3v1h-3zM381 309h3v1h-3zm-1 1h1v1h-1zm4 0h1v1h-1zm-5 1h1v3h-1zm6 0h1v3h-1zm-5 3h1v1h-1zm4 0h1v1h-1zm-3 1h3v1h-3zM363 311h3v1h-3zm-1 1h1v1h-1zm4 0h1v1h-1zm-5 1h1v3h-1zm6 0h1v3h-1zm-5 3h1v1h-1zm4 0h1v1h-1zm-3 1h3v1h-3zM371 305h3v1h-3zm-1 1h1v1h-1zm4 0h1v1h-1zm-5 1h1v3h-1zm6 0h1v3h-1zm-5 3h1v1h-1zm4 0h1v1h-1zm-3 1h3v1h-3zM327 294h3v1h-3zm-1 1h1v1h-1zm4 0h1v1h-1zm-5 1h1v3h-1zm6 0h1v3h-1zm-5 3h1v1h-1zm4 0h1v1h-1zm-3 1h3v1h-3zM323 346h3v1h-3zm-1 1h1v1h-1zm4 0h1v1h-1zm-5 1h1v3h-1zm6 0h1v3h-1zm-5 3h1v1h-1zm4 0h1v1h-1zm-3 1h3v1h-3zM378 334h3v1h-3zm-1 1h1v1h-1zm4 0h1v1h-1zm-5 1h1v3h-1zm6 0h1v3h-1zm-5 3h1v1h-1zm4 0h1v1h-1zm-3 1h3v1h-3zM386 337h3v1h-3zm-1 1h1v1h-1zm4 0h1v1h-1zm-5 1h1v3h-1zm6 0h1v3h-1zm-5 3h1v1h-1zm4 0h1v1h-1zm-3 1h3v1h-3zM407 341h3v1h-3zm-1 1h1v1h-1zm4 0h1v1h-1zm-5 1h1v3h-1zm6 0h1v3h-1zm-5 3h1v1h-1zm4 0h1v1h-1zm-3 1h3v1h-3zM372 329h3v1h-3zm-1 1h1v1h-1zm4 0h1v1h-1zm-5 1h1v3h-1zm6 0h1v3h-1zm-5 3h1v1h-1zm4 0h1v1h-1zm-3 1h3v1h-3zM400 354h3v1h-3zm-1 1h1v1h-1zm4 0h1v1h-1zm-5 1h1v3h-1zm6 0h1v3h-1zm-5 3h1v1h-1zm4 0h1v1h-1zm-3 1h3v1h-3zM370 320h3v1h-3zm-1 1h1v1h-1zm4 0h1v1h-1zm-5 1h1v3h-1zm6 0h1v3h-1zm-5 3h1v1h-1zm4 0h1v1h-1zm-3 1h3v1h-3zM369 337h3v1h-3zm-1 1h1v1h-1zm4 0h1v1h-1zm-5 1h1v3h-1zm6 0h1v3h-1zm-5 3h1v1h-1zm4 0h1v1h-1zm-3 1h3v1h-3zM404 334h3v1h-3zm-1 1h1v1h-1zm4 0h1v1h-1zm-5 1h1v3h-1zm6 0h1v3h-1zm-5 3h1v1h-1zm4 0h1v1h-1zm-3 1h3v1h-3zM401 316h3v1h-3zm-1 1h1v1h-1zm4 0h1v1h-1zm-5 1h1v3h-1zm6 0h1v3h-1zm-5 3h1v1h-1zm4 0h1v1h-1zm-3 1h3v1h-3zM392 338h3v1h-3zm-1 1h1v1h-1zm4 0h1v1h-1zm-5 1h1v3h-1zm6 0h1v3h-1zm-5 3h1v1h-1zm4 0h1v1h-1zm-3 1h3v1h-3zM392 315h3v1h-3zm-1 1h1v1h-1zm4 0h1v1h-1zm-5 1h1v3h-1zm6 0h1v3h-1zm-5 3h1v1h-1zm4 0h1v1h-1zm-3 1h3v1h-3zM373 325h3v1h-3zm-1 1h1v1h-1zm4 0h1v1h-1zm-5 1h1v3h-1zm6 0h1v3h-1zm-5 3h1v1h-1zm4 0h1v1h-1zm-3 1h3v1h-3zM367 305h3v1h-3zm-1 1h1v1h-1zm4 0h1v1h-1zm-5 1h1v3h-1zm6 0h1v3h-1zm-5 3h1v1h-1zm4 0h1v1h-1zm-3 1h3v1h-3zM429 352h3v1h-3zm-1 1h1v1h-1zm4 0h1v1h-1zm-5 1h1v3h-1zm6 0h1v3h-1zm-5 3h1v1h-1zm4 0h1v1h-1zm-3 1h3v1h-3zM410 354h3v1h-3zm-1 1h1v1h-1zm4 0h1v1h-1zm-5 1h1v3h-1zm6 0h1v3h-1zm-5 3h1v1h-1zm4 0h1v1h-1zm-3 1h3v1h-3zM365 314h3v1h-3zm-1 1h1v1h-1zm4 0h1v1h-1zm-5 1h1v3h-1zm6 0h1v3h-1zm-5 3h1v1h-1zm4 0h1v1h-1zm-3 1h3v1h-3zM336 332h3v1h-3zm-1 1h1v1h-1zm4 0h1v1h-1zm-5 1h1v3h-1zm6 0h1v3h-1zm-5 3h1v1h-1zm4 0h1v1h-1zm-3 1h3v1h-3zM328 328h3v1h-3zm-1 1h1v1h-1zm4 0h1v1h-1zm-5 1h1v3h-1zm6 0h1v3h-1zm-5 3h1v1h-1zm4 0h1v1h-1zm-3 1h3v1h-3zM410 328h3v1h-3zm-1 1h1v1h-1zm4 0h1v1h-1zm-5 1h1v3h-1zm6 0h1v3h-1zm-5 3h1v1h-1zm4 0h1v1h-1zm-3 1h3v1h-3zM418 339h3v1h-3zm-1 1h1v1h-1zm4 0h1v1h-1zm-5 1h1v3h-1zm6 0h1v3h-1zm-5 3h1v1h-1zm4 0h1v1h-1zm-3 1h3v1h-3zM339 350h3v1h-3zm-1 1h1v1h-1zm4 0h1v1h-1zm-5 1h1v3h-1zm6 0h1v3h-1zm-5 3h1v1h-1zm4 0h1v1h-1zm-3 1h3v1h-3zM369 300h3v1h-3zm-1 1h1v1h-1zm4 0h1v1h-1zm-5 1h1v3h-1zm6 0h1v3h-1zm-5 3h1v1h-1zm4 0h1v1h-1zm-3 1h3v1h-3zM365 316h3v1h-3zm-1 1h1v1h-1zm4 0h1v1h-1zm-5 1h1v3h-1zm6 0h1v3h-1zm-5 3h1v1h-1zm4 0h1v1h-1zm-3 1h3v1h-3zM349 346h3v1h-3zm-1 1h1v1h-1zm4 0h1v1h-1zm-5 1h1v3h-1zm6 0h1v3h-1zm-5 3h1v1h-1zm4 0h1v1h-1zm-3 1h3v1h-3zM423 339h3v1h-3zm-1 1h1v1h-1zm4 0h1v1h-1zm-5 1h1v3h-1zm6 0h1v3h-1zm-5 3h1v1h-1zm4 0h1v1h-1zm-3 1h3v1h-3zM356 321h3v1h-3zm-1 1h1v1h-1zm4 0h1v1h-1zm-5 1h1v3h-1zm6 0h1v3h-1zm-5 3h1v1h-1zm4 0h1v1h-1zm-3 1h3v1h-3zM354 323h3v1h-3zm-1 1h1v1h-1zm4 0h1v1h-1zm-5 1h1v3h-1zm6 0h1v3h-1zm-5 3h1v1h-1zm4 0h1v1h-1zm-3 1h3v1h-3zM341 314h3v1h-3zm-1 1h1v1h-1zm4 0h1v1h-1zm-5 1h1v3h-1zm6 0h1v3h-1zm-5 3h1v1h-1zm4 0h1v1h-1zm-3 1h3v1h-3zM372 309h3v1h-3zm-1 1h1v1h-1zm4 0h1v1h-1zm-5 1h1v3h-1zm6 0h1v3h-1zm-5 3h1v1h-1zm4 0h1v1h-1zm-3 1h3v1h-3zM418 345h3v1h-3zm-1 1h1v1h-1zm4 0h1v1h-1zm-5 1h1v3h-1zm6 0h1v3h-1zm-5 3h1v1h-1zm4 0h1v1h-1zm-3 1h3v1h-3zM387 351h3v1h-3zm-1 1h1v1h-1zm4 0h1v1h-1zm-5 1h1v3h-1zm6 0h1v3h-1zm-5 3h1v1h-1zm4 0h1v1h-1zm-3 1h3v1h-3zM425 330h3v1h-3zm-1 1h1v1h-1zm4 0h1v1h-1zm-5 1h1v3h-1zm6 0h1v3h-1zm-5 3h1v1h-1zm4 0h1v1h-1zm-3 1h3v1h-3zM399 324h3v1h-3zm-1 1h1v1h-1zm4 0h1v1h-1zm-5 1h1v3h-1zm6 0h1v3h-1zm-5 3h1v1h-1zm4 0h1v1h-1zm-3 1h3v1h-3zM402 335h3v1h-3zm-1 1h1v1h-1zm4 0h1v1h-1zm-5 1h1v3h-1zm6 0h1v3h-1zm-5 3h1v1h-1zm4 0h1v1h-1zm-3 1h3v1h-3zM368 318h3v1h-3zm-1 1h1v1h-1zm4 0h1v1h-1zm-5 1h1v3h-1zm6 0h1v3h-1zm-5 3h1v1h-1zm4 0h1v1h-1zm-3 1h3v1h-3zM347 341h3v1h-3zm-1 1h1v1h-1zm4 0h1v1h-1zm-5 1h1v3h-1zm6 0h1v3h-1zm-5 3h1v1h-1zm4 0h1v1h-1zm-3 1h3v1h-3zM390 316h3v1h-3zm-1 1h1v1h-1zm4 0h1v1h-1zm-5 1h1v3h-1zm6 0h1v3h-1zm-5 3h1v1h-1zm4 0h1v1h-1zm-3 1h3v1h-3zM378 321h3v1h-3zm-1 1h1v1h-1zm4 0h1v1h-1zm-5 1h1v3h-1zm6 0h1v3h-1zm-5 3h1v1h-1zm4 0h1v1h-1zm-3 1h3v1h-3zM336 350h3v1h-3zm-1 1h1v1h-1zm4 0h1v1h-1zm-5 1h1v3h-1zm6 0h1v3h-1zm-5 3h1v1h-1zm4 0h1v1h-1zm-3 1h3v1h-3zM371 311h3v1h-3zm-1 1h1v1h-1zm4 0h1v1h-1zm-5 1h1v3h-1zm6 0h1v3h-1zm-5 3h1v1h-1zm4 0h1v1h-1zm-3 1h3v1h-3zM420 355h3v1h-3zm-1 1h1v1h-1zm4 0h1v1h-1zm-5 1h1v3h-1zm6 0h1v3h-1zm-5 3h1v1h-1zm4 0h1v1h-1zm-3 1h3v1h-3zM365 306h3v1h-3zm-1 1h1v1h-1zm4 0h1v1h-1zm-5 1h1v3h-1zm6 0h1v3h-1zm-5 3h1v1h-1zm4 0h1v1h-1zm-3 1h3v1h-3zM352 304h3v1h-3zm-1 1h1v1h-1zm4 0h1v1h-1zm-5 1h1v3h-1zm6 0h1v3h-1zm-5 3h1v1h-1zm4 0h1v1h-1zm-3 1h3v1h-3zM340 313h3v1h-3zm-1 1h1v1h-1zm4 0h1v1h-1zm-5 1h1v3h-1zm6 0h1v3h-1zm-5 3h1v1h-1zm4 0h1v1h-1zm-3 1h3v1h-3zM380 349h3v1h-3zm-1 1h1v1h-1zm4 0h1v1h-1zm-5 1h1v3h-1zm6 0h1v3h-1zm-5 3h1v1h-1zm4 0h1v1h-1zm-3 1h3v1h-3zM401 322h3v1h-3zm-1 1h1v1h-1zm4 0h1v1h-1zm-5 1h1v3h-1zm6 0h1v3h-1zm-5 3h1v1h-1zm4 0h1v1h-1zm-3 1h3v1h-3zM361 328h3v1h-3zm-1 1h1v1h-1zm4 0h1v1h-1zm-5 1h1v3h-1zm6 0h1v3h-1zm-5 3h1v1h-1zm4 0h1v1h-1zm-3 1h3v1h-3zM356 318h3v1h-3zm-1 1h1v1h-1zm4 0h1v1h-1zm-5 1h1v3h-1zm6 0h1v3h-1zm-5 3h1v1h-1zm4 0h1v1h-1zm-3 1h3v1h-3zM372 334h3v1h-3zm-1 1h1v1h-1zm4 0h1v1h-1zm-5 1h1v3h-1zm6 0h1v3h-1zm-5 3h1v1h-1zm4 0h1v1h-1zm-3 1h3v1h-3zM343 313h3v1h-3zm-1 1h1v1h-1zm4 0h1v1h-1zm-5 1h1v3h-1zm6 0h1v3h-1zm-5 3h1v1h-1zm4 0h1v1h-1zm-3 1h3v1h-3zM359 324h3v1h-3zm-1 1h1v1h-1zm4 0h1v1h-1zm-5 1h1v3h-1zm6 0h1v3h-1zm-5 3h1v1h-1zm4 0h1v1h-1zm-3 1h3v1h-3zM426 347h3v1h-3zm-1 1h1v1h-1zm4 0h1v1h-1zm-5 1h1v3h-1zm6 0h1v3h-1zm-5 3h1v1h-1zm4 0h1v1h-1zm-3 1h3v1h-3zM358 351h3v1h-3zm-1 1h1v1h-1zm4 0h1v1h-1zm-5 1h1v3h-1zm6 0h1v3h-1zm-5 3h1v1h-1zm4 0h1v1h-1zm-3 1h3v1h-3zM411 347h3v1h-3zm-1 1h1v1h-1zm4 0h1v1h-1zm-5 1h1v3h-1zm6 0h1v3h-1zm-5 3h1v1h-1zm4 0h1v1h-1zm-3 1h3v1h-3zM374 337h3v1h-3zm-1 1h1v1h-1zm4 0h1v1h-1zm-5 1h1v3h-1zm6 0h1v3h-1zm-5 3h1v1h-1zm4 0h1v1h-1zm-3 1h3v1h-3zM425 340h3v1h-3zm-1 1h1v1h-1zm4 0h1v1h-1zm-5 1h1v3h-1zm6 0h1v3h-1zm-5 3h1v1h-1zm4 0h1v1h-1zm-3 1h3v1h-3zM389 342h3v1h-3zm-1 1h1v1h-1zm4 0h1v1h-1zm-5 1h1v3h-1zm6 0h1v3h-1zm-5 3h1v1h-1zm4 0h1v1h-1zm-3 1h3v1h-3zM366 330h3v1h-3zm-1 1h1v1h-1zm4 0h1v1h-1zm-5 1h1v3h-1zm6 0h1v3h-1zm-5 3h1v1h-1zm4 0h1v1h-1zm-3 1h3v1h-3zM315 343h3v1h-3zm-1 1h1v1h-1zm4 0h1v1h-1zm-5 1h1v3h-1zm6 0h1v3h-1zm-5 3h1v1h-1zm4 0h1v1h-1zm-3 1h3v1h-3zM339 351h3v1h-3zm-1 1h1v1h-1zm4 0h1v1h-1zm-5 1h1v3h-1zm6 0h1v3h-1zm-5 3h1v1h-1zm4 0h1v1h-1zm-3 1h3v1h-3zM389 316h3v1h-3zm-1 1h1v1h-1zm4 0h1v1h-1zm-5 1h1v3h-1zm6 0h1v3h-1zm-5 3h1v1h-1zm4 0h1v1h-1zm-3 1h3v1h-3zM388 338h3v1h-3zm-1 1h1v1h-1zm4 0h1v1h-1zm-5 1h1v3h-1zm6 0h1v3h-1zm-5 3h1v1h-1zm4 0h1v1h-1zm-3 1h3v1h-3zM374 332h3v1h-3zm-1 1h1v1h-1zm4 0h1v1h-1zm-5 1h1v3h-1zm6 0h1v3h-1zm-5 3h1v1h-1zm4 0h1v1h-1zm-3 1h3v1h-3zM358 311h3v1h-3zm-1 1h1v1h-1zm4 0h1v1h-1zm-5 1h1v3h-1zm6 0h1v3h-1zm-5 3h1v1h-1zm4 0h1v1h-1zm-3 1h3v1h-3zM347 325h3v1h-3zm-1 1h1v1h-1zm4 0h1v1h-1zm-5 1h1v3h-1zm6 0h1v3h-1zm-5 3h1v1h-1zm4 0h1v1h-1zm-3 1h3v1h-3zM427 335h3v1h-3zm-1 1h1v1h-1zm4 0h1v1h-1zm-5 1h1v3h-1zm6 0h1v3h-1zm-5 3h1v1h-1zm4 0h1v1h-1zm-3 1h3v1h-3zM418 326h3v1h-3zm-1 1h1v1h-1zm4 0h1v1h-1zm-5 1h1v3h-1zm6 0h1v3h-1zm-5 3h1v1h-1zm4 0h1v1h-1zm-3 1h3v1h-3zM339 313h3v1h-3zm-1 1h1v1h-1zm4 0h1v1h-1zm-5 1h1v3h-1zm6 0h1v3h-1zm-5 3h1v1h-1zm4 0h1v1h-1zm-3 1h3v1h-3zM430 346h3v1h-3zm-1 1h1v1h-1zm4 0h1v1h-1zm-5 1h1v3h-1zm6 0h1v3h-1zm-5 3h1v1h-1zm4 0h1v1h-1zm-3 1h3v1h-3zM407 319h3v1h-3zm-1 1h1v1h-1zm4 0h1v1h-1zm-5 1h1v3h-1zm6 0h1v3h-1zm-5 3h1v1h-1zm4 0h1v1h-1zm-3 1h3v1h-3zM414 344h3v1h-3zm-1 1h1v1h-1zm4 0h1v1h-1zm-5 1h1v3h-1zm6 0h1v3h-1zm-5 3h1v1h-1zm4 0h1v1h-1zm-3 1h3v1h-3zM411 328h3v1h-3zm-1 1h1v1h-1zm4 0h1v1h-1zm-5 1h1v3h-1zm6 0h1v3h-1zm-5 3h1v1h-1zm4 0h1v1h-1zm-3 1h3v1h-3zM420 354h3v1h-3zm-1 1h1v1h-1zm4 0h1v1h-1zm-5 1h1v3h-1zm6 0h1v3h-1zm-5 3h1v1h-1zm4 0h1v1h-1zm-3 1h3v1h-3zM404 320h3v1h-3zm-1 1h1v1h-1zm4 0h1v1h-1zm-5 1h1v3h-1zm6 0h1v3h-1zm-5 3h1v1h-1zm4 0h1v1h-1zm-3 1h3v1h-3zM408 335h3v1h-3zm-1 1h1v1h-1zm4 0h1v1h-1zm-5 1h1v3h-1zm6 0h1v3h-1zm-5 3h1v1h-1zm4 0h1v1h-1zm-3 1h3v1h-3zM420 326h3v1h-3zm-1 1h1v1h-1zm4 0h1v1h-1zm-5 1h1v3h-1zm6 0h1v3h-1zm-5 3h1v1h-1zm4 0h1v1h-1zm-3 1h3v1h-3zM424 347h3v1h-3zm-1 1h1v1h-1zm4 0h1v1h-1zm-5 1h1v3h-1zm6 0h1v3h-1zm-5 3h1v1h-1zm4 0h1v1h-1zm-3 1h3v1h-3zM414 326h3v1h-3zm-1 1h1v1h-1zm4 0h1v1h-1zm-5 1h1v3h-1zm6 0h1v3h-1zm-5 3h1v1h-1zm4 0h1v1h-1zm-3 1h3v1h-3zM404 348h3v1h-3zm-1 1h1v1h-1zm4 0h1v1h-1zm-5 1h1v3h-1zm6 0h1v3h-1zm-5 3h1v1h-1zm4 0h1v1h-1zm-3 1h3v1h-3zM407 355h3v1h-3zm-1 1h1v1h-1zm4 0h1v1h-1zm-5 1h1v3h-1zm6 0h1v3h-1zm-5 3h1v1h-1zm4 0h1v1h-1zm-3 1h3v1h-3zM402 334h3v1h-3zm-1 1h1v1h-1zm4 0h1v1h-1zm-5 1h1v3h-1zm6 0h1v3h-1zm-5 3h1v1h-1zm4 0h1v1h-1zm-3 1h3v1h-3zM404 356h3v1h-3zm-1 1h1v1h-1zm4 0h1v1h-1zm-5 1h1v3h-1zm6 0h1v3h-1zm-5 3h1v1h-1zm4 0h1v1h-1zm-3 1h3v1h-3zM401 320h3v1h-3zm-1 1h1v1h-1zm4 0h1v1h-1zm-5 1h1v3h-1zm6 0h1v3h-1zm-5 3h1v1h-1zm4 0h1v1h-1zm-3 1h3v1h-3zM399 333h3v1h-3zm-1 1h1v1h-1zm4 0h1v1h-1zm-5 1h1v3h-1zm6 0h1v3h-1zm-5 3h1v1h-1zm4 0h1v1h-1zm-3 1h3v1h-3zM428 352h3v1h-3zm-1 1h1v1h-1zm4 0h1v1h-1zm-5 1h1v3h-1zm6 0h1v3h-1zm-5 3h1v1h-1zm4 0h1v1h-1zm-3 1h3v1h-3zM403 355h3v1h-3zm-1 1h1v1h-1zm4 0h1v1h-1zm-5 1h1v3h-1zm6 0h1v3h-1zm-5 3h1v1h-1zm4 0h1v1h-1zm-3 1h3v1h-3zM420 333h3v1h-3zm-1 1h1v1h-1zm4 0h1v1h-1zm-5 1h1v3h-1zm6 0h1v3h-1zm-5 3h1v1h-1zm4 0h1v1h-1zm-3 1h3v1h-3zM410 331h3v1h-3zm-1 1h1v1h-1zm4 0h1v1h-1zm-5 1h1v3h-1zm6 0h1v3h-1zm-5 3h1v1h-1zm4 0h1v1h-1zm-3 1h3v1h-3zM406 332h3v1h-3zm-1 1h1v1h-1zm4 0h1v1h-1zm-5 1h1v3h-1zm6 0h1v3h-1zm-5 3h1v1h-1zm4 0h1v1h-1zm-3 1h3v1h-3zM409 350h3v1h-3zm-1 1h1v1h-1zm4 0h1v1h-1zm-5 1h1v3h-1zm6 0h1v3h-1zm-5 3h1v1h-1zm4 0h1v1h-1zm-3 1h3v1h-3zM425 335h3v1h-3zm-1 1h1v1h-1zm4 0h1v1h-1zm-5 1h1v3h-1zm6 0h1v3h-1zm-5 3h1v1h-1zm4 0h1v1h-1zm-3 1h3v1h-3zM398 337h3v1h-3zm-1 1h1v1h-1zm4 0h1v1h-1zm-5 1h1v3h-1zm6 0h1v3h-1zm-5 3h1v1h-1zm4 0h1v1h-1zm-3 1h3v1h-3zM403 332h3v1h-3zm-1 1h1v1h-1zm4 0h1v1h-1zm-5 1h1v3h-1zm6 0h1v3h-1zm-5 3h1v1h-1zm4 0h1v1h-1zm-3 1h3v1h-3zM411 350h3v1h-3zm-1 1h1v1h-1zm4 0h1v1h-1zm-5 1h1v3h-1zm6 0h1v3h-1zm-5 3h1v1h-1zm4 0h1v1h-1zm-3 1h3v1h-3zM423 353h3v1h-3zm-1 1h1v1h-1zm4 0h1v1h-1zm-5 1h1v3h-1zm6 0h1v3h-1zm-5 3h1v1h-1zm4 0h1v1h-1zm-3 1h3v1h-3zM408 329h3v1h-3zm-1 1h1v1h-1zm4 0h1v1h-1zm-5 1h1v3h-1zm6 0h1v3h-1zm-5 3h1v1h-1zm4 0h1v1h-1zm-3 1h3v1h-3zM430 342h3v1h-3zm-1 1h1v1h-1zm4 0h1v1h-1zm-5 1h1v3h-1zm6 0h1v3h-1zm-5 3h1v1h-1zm4 0h1v1h-1zm-3 1h3v1h-3zM406 346h3v1h-3zm-1 1h1v1h-1zm4 0h1v1h-1zm-5 1h1v3h-1zm6 0h1v3h-1zm-5 3h1v1h-1zm4 0h1v1h-1zm-3 1h3v1h-3zM397 348h3v1h-3zm-1 1h1v1h-1zm4 0h1v1h-1zm-5 1h1v3h-1zm6 0h1v3h-1zm-5 3h1v1h-1zm4 0h1v1h-1zm-3 1h3v1h-3zM429 343h3v1h-3zm-1 1h1v1h-1zm4 0h1v1h-1zm-5 1h1v3h-1zm6 0h1v3h-1zm-5 3h1v1h-1zm4 0h1v1h-1zm-3 1h3v1h-3zM405 337h3v1h-3zm-1 1h1v1h-1zm4 0h1v1h-1zm-5 1h1v3h-1zm6 0h1v3h-1zm-5 3h1v1h-1zm4 0h1v1h-1zm-3 1h3v1h-3zM412 337h3v1h-3zm-1 1h1v1h-1zm4 0h1v1h-1zm-5 1h1v3h-1zm6 0h1v3h-1zm-5 3h1v1h-1zm4 0h1v1h-1zm-3 1h3v1h-3zM425 347h3v1h-3zm-1 1h1v1h-1zm4 0h1v1h-1zm-5 1h1v3h-1zm6 0h1v3h-1zm-5 3h1v1h-1zm4 0h1v1h-1zm-3 1h3v1h-3zM425 348h3v1h-3zm-1 1h1v1h-1zm4 0h1v1h-1zm-5 1h1v3h-1zm6 0h1v3h-1zm-5 3h1v1h-1zm4 0h1v1h-1zm-3 1h3v1h-3zM418 331h3v1h-3zm-1 1h1v1h-1zm4 0h1v1h-1zm-5 1h1v3h-1zm6 0h1v3h-1zm-5 3h1v1h-1zm4 0h1v1h-1zm-3 1h3v1h-3zM408 332h3v1h-3zm-1 1h1v1h-1zm4 0h1v1h-1zm-5 1h1v3h-1zm6 0h1v3h-1zm-5 3h1v1h-1zm4 0h1v1h-1zm-3 1h3v1h-3zM403 347h3v1h-3zm-1 1h1v1h-1zm4 0h1v1h-1zm-5 1h1v3h-1zm6 0h1v3h-1zm-5 3h1v1h-1zm4 0h1v1h-1zm-3 1h3v1h-3zM434 331h3v1h-3zm-1 1h1v1h-1zm4 0h1v1h-1zm-5 1h1v3h-1zm6 0h1v3h-1zm-5 3h1v1h-1zm4 0h1v1h-1zm-3 1h3v1h-3zM435 354h3v1h-3zm-1 1h1v1h-1zm4 0h1v1h-1zm-5 1h1v3h-1zm6 0h1v3h-1zm-5 3h1v1h-1zm4 0h1v1h-1zm-3 1h3v1h-3zM442 354h3v1h-3zm-1 1h1v1h-1zm4 0h1v1h-1zm-5 1h1v3h-1zm6 0h1v3h-1zm-5 3h1v1h-1zm4 0h1v1h-1zm-3 1h3v1h-3zM434 332h3v1h-3zm-1 1h1v1h-1zm4 0h1v1h-1zm-5 1h1v3h-1zm6 0h1v3h-1zm-5 3h1v1h-1zm4 0h1v1h-1zm-3 1h3v1h-3zM432 342h3v1h-3zm-1 1h1v1h-1zm4 0h1v1h-1zm-5 1h1v3h-1zm6 0h1v3h-1zm-5 3h1v1h-1zm4 0h1v1h-1zm-3 1h3v1h-3zM440 341h3v1h-3zm-1 1h1v1h-1zm4 0h1v1h-1zm-5 1h1v3h-1zm6 0h1v3h-1zm-5 3h1v1h-1zm4 0h1v1h-1zm-3 1h3v1h-3zM433 340h3v1h-3zm-1 1h1v1h-1zm4 0h1v1h-1zm-5 1h1v3h-1zm6 0h1v3h-1zm-5 3h1v1h-1zm4 0h1v1h-1zm-3 1h3v1h-3zM439 346h3v1h-3zm-1 1h1v1h-1zm4 0h1v1h-1zm-5 1h1v3h-1zm6 0h1v3h-1zm-5 3h1v1h-1zm4 0h1v1h-1zm-3 1h3v1h-3zM441 351h3v1h-3zm-1 1h1v1h-1zm4 0h1v1h-1zm-5 1h1v3h-1zm6 0h1v3h-1zm-5 3h1v1h-1zm4 0h1v1h-1zm-3 1h3v1h-3zM439 333h3v1h-3zm-1 1h1v1h-1zm4 0h1v1h-1zm-5 1h1v3h-1zm6 0h1v3h-1zm-5 3h1v1h-1zm4 0h1v1h-1zm-3 1h3v1h-3zM466 339h3v1h-3zm-1 1h1v1h-1zm4 0h1v1h-1zm-5 1h1v3h-1zm6 0h1v3h-1zm-5 3h1v1h-1zm4 0h1v1h-1zm-3 1h3v1h-3zM460 342h3v1h-3zm-1 1h1v1h-1zm4 0h1v1h-1zm-5 1h1v3h-1zm6 0h1v3h-1zm-5 3h1v1h-1zm4 0h1v1h-1zm-3 1h3v1h-3zM464 335h3v1h-3zm-1 1h1v1h-1zm4 0h1v1h-1zm-5 1h1v3h-1zm6 0h1v3h-1zm-5 3h1v1h-1zm4 0h1v1h-1zm-3 1h3v1h-3zM452 337h3v1h-3zm-1 1h1v1h-1zm4 0h1v1h-1zm-5 1h1v3h-1zm6 0h1v3h-1zm-5 3h1v1h-1zm4 0h1v1h-1zm-3 1h3v1h-3zM460 340h3v1h-3zm-1 1h1v1h-1zm4 0h1v1h-1zm-5 1h1v3h-1zm6 0h1v3h-1zm-5 3h1v1h-1zm4 0h1v1h-1zm-3 1h3v1h-3zM459 337h3v1h-3zm-1 1h1v1h-1zm4 0h1v1h-1zm-5 1h1v3h-1zm6 0h1v3h-1zm-5 3h1v1h-1zm4 0h1v1h-1zm-3 1h3v1h-3zM466 352h3v1h-3zm-1 1h1v1h-1zm4 0h1v1h-1zm-5 1h1v3h-1zm6 0h1v3h-1zm-5 3h1v1h-1zm4 0h1v1h-1zm-3 1h3v1h-3zM458 358h3v1h-3zm-1 1h1v1h-1zm4 0h1v1h-1zm-5 1h1v3h-1zm6 0h1v3h-1zm-5 3h1v1h-1zm4 0h1v1h-1zm-3 1h3v1h-3zM466 361h3v1h-3zm-1 1h1v1h-1zm4 0h1v1h-1zm-5 1h1v3h-1zm6 0h1v3h-1zm-5 3h1v1h-1zm4 0h1v1h-1zm-3 1h3v1h-3zM447 339h3v1h-3zm-1 1h1v1h-1zm4 0h1v1h-1zm-5 1h1v3h-1zm6 0h1v3h-1zm-5 3h1v1h-1zm4 0h1v1h-1zm-3 1h3v1h-3zM449 335h3v1h-3zm-1 1h1v1h-1zm4 0h1v1h-1zm-5 1h1v3h-1zm6 0h1v3h-1zm-5 3h1v1h-1zm4 0h1v1h-1zm-3 1h3v1h-3zM470 349h3v1h-3zm-1 1h1v1h-1zm4 0h1v1h-1zm-5 1h1v3h-1zm6 0h1v3h-1zm-5 3h1v1h-1zm4 0h1v1h-1zm-3 1h3v1h-3zM469 342h3v1h-3zm-1 1h1v1h-1zm4 0h1v1h-1zm-5 1h1v3h-1zm6 0h1v3h-1zm-5 3h1v1h-1zm4 0h1v1h-1zm-3 1h3v1h-3zM467 345h3v1h-3zm-1 1h1v1h-1zm4 0h1v1h-1zm-5 1h1v3h-1zm6 0h1v3h-1zm-5 3h1v1h-1zm4 0h1v1h-1zm-3 1h3v1h-3zM453 356h3v1h-3zm-1 1h1v1h-1zm4 0h1v1h-1zm-5 1h1v3h-1zm6 0h1v3h-1zm-5 3h1v1h-1zm4 0h1v1h-1zm-3 1h3v1h-3zM461 351h3v1h-3zm-1 1h1v1h-1zm4 0h1v1h-1zm-5 1h1v3h-1zm6 0h1v3h-1zm-5 3h1v1h-1zm4 0h1v1h-1zm-3 1h3v1h-3zM452 342h3v1h-3zm-1 1h1v1h-1zm4 0h1v1h-1zm-5 1h1v3h-1zm6 0h1v3h-1zm-5 3h1v1h-1zm4 0h1v1h-1zm-3 1h3v1h-3zM450 336h3v1h-3zm-1 1h1v1h-1zm4 0h1v1h-1zm-5 1h1v3h-1zm6 0h1v3h-1zm-5 3h1v1h-1zm4 0h1v1h-1zm-3 1h3v1h-3zM132 302h3v1h-3zm-1 1h1v1h-1zm4 0h1v1h-1zm-5 1h1v3h-1zm6 0h1v3h-1zm-5 3h1v1h-1zm4 0h1v1h-1zm-3 1h3v1h-3zM145 290h3v1h-3zm-1 1h1v1h-1zm4 0h1v1h-1zm-5 1h1v3h-1zm6 0h1v3h-1zm-5 3h1v1h-1zm4 0h1v1h-1zm-3 1h3v1h-3zM146 289h3v1h-3zm-1 1h1v1h-1zm4 0h1v1h-1zm-5 1h1v3h-1zm6 0h1v3h-1zm-5 3h1v1h-1zm4 0h1v1h-1zm-3 1h3v1h-3zM134 290h3v1h-3zm-1 1h1v1h-1zm4 0h1v1h-1zm-5 1h1v3h-1zm6 0h1v3h-1zm-5 3h1v1h-1zm4 0h1v1h-1zm-3 1h3v1h-3zM150 300h3v1h-3zm-1 1h1v1h-1zm4 0h1v1h-1zm-5 1h1v3h-1zm6 0h1v3h-1zm-5 3h1v1h-1zm4 0h1v1h-1zm-3 1h3v1h-3zM137 300h3v1h-3zm-1 1h1v1h-1zm4 0h1v1h-1zm-5 1h1v3h-1zm6 0h1v3h-1zm-5 3h1v1h-1zm4 0h1v1h-1zm-3 1h3v1h-3zM145 286h3v1h-3zm-1 1h1v1h-1zm4 0h1v1h-1zm-5 1h1v3h-1zm6 0h1v3h-1zm-5 3h1v1h-1zm4 0h1v1h-1zm-3 1h3v1h-3zM129 305h3v1h-3zm-1 1h1v1h-1zm4 0h1v1h-1zm-5 1h1v3h-1zm6 0h1v3h-1zm-5 3h1v1h-1zm4 0h1v1h-1zm-3 1h3v1h-3zM137 292h3v1h-3zm-1 1h1v1h-1zm4 0h1v1h-1zm-5 1h1v3h-1zm6 0h1v3h-1zm-5 3h1v1h-1zm4 0h1v1h-1zm-3 1h3v1h-3zM134 313h3v1h-3zm-1 1h1v1h-1zm4 0h1v1h-1zm-5 1h1v3h-1zm6 0h1v3h-1zm-5 3h1v1h-1zm4 0h1v1h-1zm-3 1h3v1h-3zM134 301h3v1h-3zm-1 1h1v1h-1zm4 0h1v1h-1zm-5 1h1v3h-1zm6 0h1v3h-1zm-5 3h1v1h-1zm4 0h1v1h-1zm-3 1h3v1h-3zM136 296h3v1h-3zm-1 1h1v1h-1zm4 0h1v1h-1zm-5 1h1v3h-1zm6 0h1v3h-1zm-5 3h1v1h-1zm4 0h1v1h-1zm-3 1h3v1h-3zM152 314h3v1h-3zm-1 1h1v1h-1zm4 0h1v1h-1zm-5 1h1v3h-1zm6 0h1v3h-1zm-5 3h1v1h-1zm4 0h1v1h-1zm-3 1h3v1h-3zM136 289h3v1h-3zm-1 1h1v1h-1zm4 0h1v1h-1zm-5 1h1v3h-1zm6 0h1v3h-1zm-5 3h1v1h-1zm4 0h1v1h-1zm-3 1h3v1h-3zM148 290h3v1h-3zm-1 1h1v1h-1zm4 0h1v1h-1zm-5 1h1v3h-1zm6 0h1v3h-1zm-5 3h1v1h-1zm4 0h1v1h-1zm-3 1h3v1h-3zM138 309h3v1h-3zm-1 1h1v1h-1zm4 0h1v1h-1zm-5 1h1v3h-1zm6 0h1v3h-1zm-5 3h1v1h-1zm4 0h1v1h-1zm-3 1h3v1h-3zM137 311h3v1h-3zm-1 1h1v1h-1zm4 0h1v1h-1zm-5 1h1v3h-1zm6 0h1v3h-1zm-5 3h1v1h-1zm4 0h1v1h-1zm-3 1h3v1h-3zM139 288h3v1h-3zm-1 1h1v1h-1zm4 0h1v1h-1zm-5 1h1v3h-1zm6 0h1v3h-1zm-5 3h1v1h-1zm4 0h1v1h-1zm-3 1h3v1h-3zM124 300h3v1h-3zm-1 1h1v1h-1zm4 0h1v1h-1zm-5 1h1v3h-1zm6 0h1v3h-1zm-5 3h1v1h-1zm4 0h1v1h-1zm-3 1h3v1h-3zM145 312h3v1h-3zm-1 1h1v1h-1zm4 0h1v1h-1zm-5 1h1v3h-1zm6 0h1v3h-1zm-5 3h1v1h-1zm4 0h1v1h-1zm-3 1h3v1h-3zM127 303h3v1h-3zm-1 1h1v1h-1zm4 0h1v1h-1zm-5 1h1v3h-1zm6 0h1v3h-1zm-5 3h1v1h-1zm4 0h1v1h-1zm-3 1h3v1h-3zM136 299h3v1h-3zm-1 1h1v1h-1zm4 0h1v1h-1zm-5 1h1v3h-1zm6 0h1v3h-1zm-5 3h1v1h-1zm4 0h1v1h-1zm-3 1h3v1h-3zM129 292h3v1h-3zm-1 1h1v1h-1zm4 0h1v1h-1zm-5 1h1v3h-1zm6 0h1v3h-1zm-5 3h1v1h-1zm4 0h1v1h-1zm-3 1h3v1h-3zM141 312h3v1h-3zm-1 1h1v1h-1zm4 0h1v1h-1zm-5 1h1v3h-1zm6 0h1v3h-1zm-5 3h1v1h-1zm4 0h1v1h-1zm-3 1h3v1h-3zM128 299h3v1h-3zm-1 1h1v1h-1zm4 0h1v1h-1zm-5 1h1v3h-1zm6 0h1v3h-1zm-5 3h1v1h-1zm4 0h1v1h-1zm-3 1h3v1h-3zM150 313h3v1h-3zm-1 1h1v1h-1zm4 0h1v1h-1zm-5 1h1v3h-1zm6 0h1v3h-1zm-5 3h1v1h-1zm4 0h1v1h-1zm-3 1h3v1h-3zM155 314h3v1h-3zm-1 1h1v1h-1zm4 0h1v1h-1zm-5 1h1v3h-1zm6 0h1v3h-1zm-5 3h1v1h-1zm4 0h1v1h-1zm-3 1h3v1h-3zM154 295h3v1h-3zm-1 1h1v1h-1zm4 0h1v1h-1zm-5 1h1v3h-1zm6 0h1v3h-1zm-5 3h1v1h-1zm4 0h1v1h-1zm-3 1h3v1h-3zM153 303h3v1h-3zm-1 1h1v1h-1zm4 0h1v1h-1zm-5 1h1v3h-1zm6 0h1v3h-1zm-5 3h1v1h-1zm4 0h1v1h-1zm-3 1h3v1h-3zM151 288h3v1h-3zm-1 1h1v1h-1zm4 0h1v1h-1zm-5 1h1v3h-1zm6 0h1v3h-1zm-5 3h1v1h-1zm4 0h1v1h-1zm-3 1h3v1h-3zM150 290h3v1h-3zm-1 1h1v1h-1zm4 0h1v1h-1zm-5 1h1v3h-1zm6 0h1v3h-1zm-5 3h1v1h-1zm4 0h1v1h-1zm-3 1h3v1h-3zM137 310h3v1h-3zm-1 1h1v1h-1zm4 0h1v1h-1zm-5 1h1v3h-1zm6 0h1v3h-1zm-5 3h1v1h-1zm4 0h1v1h-1zm-3 1h3v1h-3zM151 289h3v1h-3zm-1 1h1v1h-1zm4 0h1v1h-1zm-5 1h1v3h-1zm6 0h1v3h-1zm-5 3h1v1h-1zm4 0h1v1h-1zm-3 1h3v1h-3zM131 296h3v1h-3zm-1 1h1v1h-1zm4 0h1v1h-1zm-5 1h1v3h-1zm6 0h1v3h-1zm-5 3h1v1h-1zm4 0h1v1h-1zm-3 1h3v1h-3zM141 295h3v1h-3zm-1 1h1v1h-1zm4 0h1v1h-1zm-5 1h1v3h-1zm6 0h1v3h-1zm-5 3h1v1h-1zm4 0h1v1h-1zm-3 1h3v1h-3zM128 291h3v1h-3zm-1 1h1v1h-1zm4 0h1v1h-1zm-5 1h1v3h-1zm6 0h1v3h-1zm-5 3h1v1h-1zm4 0h1v1h-1zm-3 1h3v1h-3zM148 311h3v1h-3zm-1 1h1v1h-1zm4 0h1v1h-1zm-5 1h1v3h-1zm6 0h1v3h-1zm-5 3h1v1h-1zm4 0h1v1h-1zm-3 1h3v1h-3zM125 301h3v1h-3zm-1 1h1v1h-1zm4 0h1v1h-1zm-5 1h1v3h-1zm6 0h1v3h-1zm-5 3h1v1h-1zm4 0h1v1h-1zm-3 1h3v1h-3zM151 287h3v1h-3zm-1 1h1v1h-1zm4 0h1v1h-1zm-5 1h1v3h-1zm6 0h1v3h-1zm-5 3h1v1h-1zm4 0h1v1h-1zm-3 1h3v1h-3zM143 300h3v1h-3zm-1 1h1v1h-1zm4 0h1v1h-1zm-5 1h1v3h-1zm6 0h1v3h-1zm-5 3h1v1h-1zm4 0h1v1h-1zm-3 1h3v1h-3zM144 293h3v1h-3zm-1 1h1v1h-1zm4 0h1v1h-1zm-5 1h1v3h-1zm6 0h1v3h-1zm-5 3h1v1h-1zm4 0h1v1h-1zm-3 1h3v1h-3zM138 301h3v1h-3zm-1 1h1v1h-1zm4 0h1v1h-1zm-5 1h1v3h-1zm6 0h1v3h-1zm-5 3h1v1h-1zm4 0h1v1h-1zm-3 1h3v1h-3zM138 304h3v1h-3zm-1 1h1v1h-1zm4 0h1v1h-1zm-5 1h1v3h-1zm6 0h1v3h-1zm-5 3h1v1h-1zm4 0h1v1h-1zm-3 1h3v1h-3zM139 297h3v1h-3zm-1 1h1v1h-1zm4 0h1v1h-1zm-5 1h1v3h-1zm6 0h1v3h-1zm-5 3h1v1h-1zm4 0h1v1h-1zm-3 1h3v1h-3zM125 303h3v1h-3zm-1 1h1v1h-1zm4 0h1v1h-1zm-5 1h1v3h-1zm6 0h1v3h-1zm-5 3h1v1h-1zm4 0h1v1h-1zm-3 1h3v1h-3zM140 291h3v1h-3zm-1 1h1v1h-1zm4 0h1v1h-1zm-5 1h1v3h-1zm6 0h1v3h-1zm-5 3h1v1h-1zm4 0h1v1h-1zm-3 1h3v1h-3zM149 308h3v1h-3zm-1 1h1v1h-1zm4 0h1v1h-1zm-5 1h1v3h-1zm6 0h1v3h-1zm-5 3h1v1h-1zm4 0h1v1h-1zm-3 1h3v1h-3zM139 289h3v1h-3zm-1 1h1v1h-1zm4 0h1v1h-1zm-5 1h1v3h-1zm6 0h1v3h-1zm-5 3h1v1h-1zm4 0h1v1h-1zm-3 1h3v1h-3zM139 287h3v1h-3zm-1 1h1v1h-1zm4 0h1v1h-1zm-5 1h1v3h-1zm6 0h1v3h-1zm-5 3h1v1h-1zm4 0h1v1h-1zm-3 1h3v1h-3zM128 297h3v1h-3zm-1 1h1v1h-1zm4 0h1v1h-1zm-5 1h1v3h-1zm6 0h1v3h-1zm-5 3h1v1h-1zm4 0h1v1h-1zm-3 1h3v1h-3zM127 297h3v1h-3zm-1 1h1v1h-1zm4 0h1v1h-1zm-5 1h1v3h-1zm6 0h1v3h-1zm-5 3h1v1h-1zm4 0h1v1h-1zm-3 1h3v1h-3zM148 308h3v1h-3zm-1 1h1v1h-1zm4 0h1v1h-1zm-5 1h1v3h-1zm6 0h1v3h-1zm-5 3h1v1h-1zm4 0h1v1h-1zm-3 1h3v1h-3zM140 295h3v1h-3zm-1 1h1v1h-1zm4 0h1v1h-1zm-5 1h1v3h-1zm6 0h1v3h-1zm-5 3h1v1h-1zm4 0h1v1h-1zm-3 1h3v1h-3zM155 288h3v1h-3zm-1 1h1v1h-1zm4 0h1v1h-1zm-5 1h1v3h-1zm6 0h1v3h-1zm-5 3h1v1h-1zm4 0h1v1h-1zm-3 1h3v1h-3zM148 309h3v1h-3zm-1 1h1v1h-1zm4 0h1v1h-1zm-5 1h1v3h-1zm6 0h1v3h-1zm-5 3h1v1h-1zm4 0h1v1h-1zm-3 1h3v1h-3zM130 314h3v1h-3zm-1 1h1v1h-1zm4 0h1v1h-1zm-5 1h1v3h-1zm6 0h1v3h-1zm-5 3h1v1h-1zm4 0h1v1h-1zm-3 1h3v1h-3zM140 313h3v1h-3zm-1 1h1v1h-1zm4 0h1v1h-1zm-5 1h1v3h-1zm6 0h1v3h-1zm-5 3h1v1h-1zm4 0h1v1h-1zm-3 1h3v1h-3zM154 288h3v1h-3zm-1 1h1v1h-1zm4 0h1v1h-1zm-5 1h1v3h-1zm6 0h1v3h-1zm-5 3h1v1h-1zm4 0h1v1h-1zm-3 1h3v1h-3zM150 312h3v1h-3zm-1 1h1v1h-1zm4 0h1v1h-1zm-5 1h1v3h-1zm6 0h1v3h-1zm-5 3h1v1h-1zm4 0h1v1h-1zm-3 1h3v1h-3zM126 294h3v1h-3zm-1 1h1v1h-1zm4 0h1v1h-1zm-5 1h1v3h-1zm6 0h1v3h-1zm-5 3h1v1h-1zm4 0h1v1h-1zm-3 1h3v1h-3zM149 288h3v1h-3zm-1 1h1v1h-1zm4 0h1v1h-1zm-5 1h1v3h-1zm6 0h1v3h-1zm-5 3h1v1h-1zm4 0h1v1h-1zm-3 1h3v1h-3zM153 292h3v1h-3zm-1 1h1v1h-1zm4 0h1v1h-1zm-5 1h1v3h-1zm6 0h1v3h-1zm-5 3h1v1h-1zm4 0h1v1h-1zm-3 1h3v1h-3zM140 312h3v1h-3zm-1 1h1v1h-1zm4 0h1v1h-1zm-5 1h1v3h-1zm6 0h1v3h-1zm-5 3h1v1h-1zm4 0h1v1h-1zm-3 1h3v1h-3zM131 291h3v1h-3zm-1 1h1v1h-1zm4 0h1v1h-1zm-5 1h1v3h-1zm6 0h1v3h-1zm-5 3h1v1h-1zm4 0h1v1h-1zm-3 1h3v1h-3zM140 293h3v1h-3zm-1 1h1v1h-1zm4 0h1v1h-1zm-5 1h1v3h-1zm6 0h1v3h-1zm-5 3h1v1h-1zm4 0h1v1h-1zm-3 1h3v1h-3zM129 313h3v1h-3zm-1 1h1v1h-1zm4 0h1v1h-1zm-5 1h1v3h-1zm6 0h1v3h-1zm-5 3h1v1h-1zm4 0h1v1h-1zm-3 1h3v1h-3zM146 311h3v1h-3zm-1 1h1v1h-1zm4 0h1v1h-1zm-5 1h1v3h-1zm6 0h1v3h-1zm-5 3h1v1h-1zm4 0h1v1h-1zm-3 1h3v1h-3zM129 308h3v1h-3zm-1 1h1v1h-1zm4 0h1v1h-1zm-5 1h1v3h-1zm6 0h1v3h-1zm-5 3h1v1h-1zm4 0h1v1h-1zm-3 1h3v1h-3zM128 300h3v1h-3zm-1 1h1v1h-1zm4 0h1v1h-1zm-5 1h1v3h-1zm6 0h1v3h-1zm-5 3h1v1h-1zm4 0h1v1h-1zm-3 1h3v1h-3zM145 294h3v1h-3zm-1 1h1v1h-1zm4 0h1v1h-1zm-5 1h1v3h-1zm6 0h1v3h-1zm-5 3h1v1h-1zm4 0h1v1h-1zm-3 1h3v1h-3zM152 301h3v1h-3zm-1 1h1v1h-1zm4 0h1v1h-1zm-5 1h1v3h-1zm6 0h1v3h-1zm-5 3h1v1h-1zm4 0h1v1h-1zm-3 1h3v1h-3zM143 311h3v1h-3zm-1 1h1v1h-1zm4 0h1v1h-1zm-5 1h1v3h-1zm6 0h1v3h-1zm-5 3h1v1h-1zm4 0h1v1h-1zm-3 1h3v1h-3zM127 314h3v1h-3zm-1 1h1v1h-1zm4 0h1v1h-1zm-5 1h1v3h-1zm6 0h1v3h-1zm-5 3h1v1h-1zm4 0h1v1h-1zm-3 1h3v1h-3zM144 296h3v1h-3zm-1 1h1v1h-1zm4 0h1v1h-1zm-5 1h1v3h-1zm6 0h1v3h-1zm-5 3h1v1h-1zm4 0h1v1h-1zm-3 1h3v1h-3zM150 292h3v1h-3zm-1 1h1v1h-1zm4 0h1v1h-1zm-5 1h1v3h-1zm6 0h1v3h-1zm-5 3h1v1h-1zm4 0h1v1h-1zm-3 1h3v1h-3zM156 301h3v1h-3zm-1 1h1v1h-1zm4 0h1v1h-1zm-5 1h1v3h-1zm6 0h1v3h-1zm-5 3h1v1h-1zm4 0h1v1h-1zm-3 1h3v1h-3zM136 307h3v1h-3zm-1 1h1v1h-1zm4 0h1v1h-1zm-5 1h1v3h-1zm6 0h1v3h-1zm-5 3h1v1h-1zm4 0h1v1h-1zm-3 1h3v1h-3zM138 289h3v1h-3zm-1 1h1v1h-1zm4 0h1v1h-1zm-5 1h1v3h-1zm6 0h1v3h-1zm-5 3h1v1h-1zm4 0h1v1h-1zm-3 1h3v1h-3zM148 285h3v1h-3zm-1 1h1v1h-1zm4 0h1v1h-1zm-5 1h1v3h-1zm6 0h1v3h-1zm-5 3h1v1h-1zm4 0h1v1h-1zm-3 1h3v1h-3zM151 291h3v1h-3zm-1 1h1v1h-1zm4 0h1v1h-1zm-5 1h1v3h-1zm6 0h1v3h-1zm-5 3h1v1h-1zm4 0h1v1h-1zm-3 1h3v1h-3zM145 314h3v1h-3zm-1 1h1v1h-1zm4 0h1v1h-1zm-5 1h1v3h-1zm6 0h1v3h-1zm-5 3h1v1h-1zm4 0h1v1h-1zm-3 1h3v1h-3zM143 304h3v1h-3zm-1 1h1v1h-1zm4 0h1v1h-1zm-5 1h1v3h-1zm6 0h1v3h-1zm-5 3h1v1h-1zm4 0h1v1h-1zm-3 1h3v1h-3zM144 297h3v1h-3zm-1 1h1v1h-1zm4 0h1v1h-1zm-5 1h1v3h-1zm6 0h1v3h-1zm-5 3h1v1h-1zm4 0h1v1h-1zm-3 1h3v1h-3zM141 311h3v1h-3zm-1 1h1v1h-1zm4 0h1v1h-1zm-5 1h1v3h-1zm6 0h1v3h-1zm-5 3h1v1h-1zm4 0h1v1h-1zm-3 1h3v1h-3zM128 290h3v1h-3zm-1 1h1v1h-1zm4 0h1v1h-1zm-5 1h1v3h-1zm6 0h1v3h-1zm-5 3h1v1h-1zm4 0h1v1h-1zm-3 1h3v1h-3zM127 294h3v1h-3zm-1 1h1v1h-1zm4 0h1v1h-1zm-5 1h1v3h-1zm6 0h1v3h-1zm-5 3h1v1h-1zm4 0h1v1h-1zm-3 1h3v1h-3zM131 301h3v1h-3zm-1 1h1v1h-1zm4 0h1v1h-1zm-5 1h1v3h-1zm6 0h1v3h-1zm-5 3h1v1h-1zm4 0h1v1h-1zm-3 1h3v1h-3zM143 290h3v1h-3zm-1 1h1v1h-1zm4 0h1v1h-1zm-5 1h1v3h-1zm6 0h1v3h-1zm-5 3h1v1h-1zm4 0h1v1h-1zm-3 1h3v1h-3zM144 298h3v1h-3zm-1 1h1v1h-1zm4 0h1v1h-1zm-5 1h1v3h-1zm6 0h1v3h-1zm-5 3h1v1h-1zm4 0h1v1h-1zm-3 1h3v1h-3zM128 313h3v1h-3zm-1 1h1v1h-1zm4 0h1v1h-1zm-5 1h1v3h-1zm6 0h1v3h-1zm-5 3h1v1h-1zm4 0h1v1h-1zm-3 1h3v1h-3zM132 288h3v1h-3zm-1 1h1v1h-1zm4 0h1v1h-1zm-5 1h1v3h-1zm6 0h1v3h-1zm-5 3h1v1h-1zm4 0h1v1h-1zm-3 1h3v1h-3zM152 308h3v1h-3zm-1 1h1v1h-1zm4 0h1v1h-1zm-5 1h1v3h-1zm6 0h1v3h-1zm-5 3h1v1h-1zm4 0h1v1h-1zm-3 1h3v1h-3zM124 303h3v1h-3zm-1 1h1v1h-1zm4 0h1v1h-1zm-5 1h1v3h-1zm6 0h1v3h-1zm-5 3h1v1h-1zm4 0h1v1h-1zm-3 1h3v1h-3zM142 294h3v1h-3zm-1 1h1v1h-1zm4 0h1v1h-1zm-5 1h1v3h-1zm6 0h1v3h-1zm-5 3h1v1h-1zm4 0h1v1h-1zm-3 1h3v1h-3zM145 297h3v1h-3zm-1 1h1v1h-1zm4 0h1v1h-1zm-5 1h1v3h-1zm6 0h1v3h-1zm-5 3h1v1h-1zm4 0h1v1h-1zm-3 1h3v1h-3zM154 306h3v1h-3zm-1 1h1v1h-1zm4 0h1v1h-1zm-5 1h1v3h-1zm6 0h1v3h-1zm-5 3h1v1h-1zm4 0h1v1h-1zm-3 1h3v1h-3zM132 311h3v1h-3zm-1 1h1v1h-1zm4 0h1v1h-1zm-5 1h1v3h-1zm6 0h1v3h-1zm-5 3h1v1h-1zm4 0h1v1h-1zm-3 1h3v1h-3zM125 300h3v1h-3zm-1 1h1v1h-1zm4 0h1v1h-1zm-5 1h1v3h-1zm6 0h1v3h-1zm-5 3h1v1h-1zm4 0h1v1h-1zm-3 1h3v1h-3zM137 291h3v1h-3zm-1 1h1v1h-1zm4 0h1v1h-1zm-5 1h1v3h-1zm6 0h1v3h-1zm-5 3h1v1h-1zm4 0h1v1h-1zm-3 1h3v1h-3zM126 308h3v1h-3zm-1 1h1v1h-1zm4 0h1v1h-1zm-5 1h1v3h-1zm6 0h1v3h-1zm-5 3h1v1h-1zm4 0h1v1h-1zm-3 1h3v1h-3zM130 302h3v1h-3zm-1 1h1v1h-1zm4 0h1v1h-1zm-5 1h1v3h-1zm6 0h1v3h-1zm-5 3h1v1h-1zm4 0h1v1h-1zm-3 1h3v1h-3zM140 303h3v1h-3zm-1 1h1v1h-1zm4 0h1v1h-1zm-5 1h1v3h-1zm6 0h1v3h-1zm-5 3h1v1h-1zm4 0h1v1h-1zm-3 1h3v1h-3zM150 289h3v1h-3zm-1 1h1v1h-1zm4 0h1v1h-1zm-5 1h1v3h-1zm6 0h1v3h-1zm-5 3h1v1h-1zm4 0h1v1h-1zm-3 1h3v1h-3zM134 293h3v1h-3zm-1 1h1v1h-1zm4 0h1v1h-1zm-5 1h1v3h-1zm6 0h1v3h-1zm-5 3h1v1h-1zm4 0h1v1h-1zm-3 1h3v1h-3zM149 306h3v1h-3zm-1 1h1v1h-1zm4 0h1v1h-1zm-5 1h1v3h-1zm6 0h1v3h-1zm-5 3h1v1h-1zm4 0h1v1h-1zm-3 1h3v1h-3zM148 298h3v1h-3zm-1 1h1v1h-1zm4 0h1v1h-1zm-5 1h1v3h-1zm6 0h1v3h-1zm-5 3h1v1h-1zm4 0h1v1h-1zm-3 1h3v1h-3zM148 297h3v1h-3zm-1 1h1v1h-1zm4 0h1v1h-1zm-5 1h1v3h-1zm6 0h1v3h-1zm-5 3h1v1h-1zm4 0h1v1h-1zm-3 1h3v1h-3zM135 307h3v1h-3zm-1 1h1v1h-1zm4 0h1v1h-1zm-5 1h1v3h-1zm6 0h1v3h-1zm-5 3h1v1h-1zm4 0h1v1h-1zm-3 1h3v1h-3zM147 310h3v1h-3zm-1 1h1v1h-1zm4 0h1v1h-1zm-5 1h1v3h-1zm6 0h1v3h-1zm-5 3h1v1h-1zm4 0h1v1h-1zm-3 1h3v1h-3zM147 292h3v1h-3zm-1 1h1v1h-1zm4 0h1v1h-1zm-5 1h1v3h-1zm6 0h1v3h-1zm-5 3h1v1h-1zm4 0h1v1h-1zm-3 1h3v1h-3zM142 297h3v1h-3zm-1 1h1v1h-1zm4 0h1v1h-1zm-5 1h1v3h-1zm6 0h1v3h-1zm-5 3h1v1h-1zm4 0h1v1h-1zm-3 1h3v1h-3zM133 303h3v1h-3zm-1 1h1v1h-1zm4 0h1v1h-1zm-5 1h1v3h-1zm6 0h1v3h-1zm-5 3h1v1h-1zm4 0h1v1h-1zm-3 1h3v1h-3zM155 290h3v1h-3zm-1 1h1v1h-1zm4 0h1v1h-1zm-5 1h1v3h-1zm6 0h1v3h-1zm-5 3h1v1h-1zm4 0h1v1h-1zm-3 1h3v1h-3zM132 291h3v1h-3zm-1 1h1v1h-1zm4 0h1v1h-1zm-5 1h1v3h-1zm6 0h1v3h-1zm-5 3h1v1h-1zm4 0h1v1h-1zm-3 1h3v1h-3zM148 313h3v1h-3zm-1 1h1v1h-1zm4 0h1v1h-1zm-5 1h1v3h-1zm6 0h1v3h-1zm-5 3h1v1h-1zm4 0h1v1h-1zm-3 1h3v1h-3zM148 293h3v1h-3zm-1 1h1v1h-1zm4 0h1v1h-1zm-5 1h1v3h-1zm6 0h1v3h-1zm-5 3h1v1h-1zm4 0h1v1h-1zm-3 1h3v1h-3zM153 294h3v1h-3zm-1 1h1v1h-1zm4 0h1v1h-1zm-5 1h1v3h-1zm6 0h1v3h-1zm-5 3h1v1h-1zm4 0h1v1h-1zm-3 1h3v1h-3zM132 312h3v1h-3zm-1 1h1v1h-1zm4 0h1v1h-1zm-5 1h1v3h-1zm6 0h1v3h-1zm-5 3h1v1h-1zm4 0h1v1h-1zm-3 1h3v1h-3zM145 305h3v1h-3zm-1 1h1v1h-1zm4 0h1v1h-1zm-5 1h1v3h-1zm6 0h1v3h-1zm-5 3h1v1h-1zm4 0h1v1h-1zm-3 1h3v1h-3zM146 314h3v1h-3zm-1 1h1v1h-1zm4 0h1v1h-1zm-5 1h1v3h-1zm6 0h1v3h-1zm-5 3h1v1h-1zm4 0h1v1h-1zm-3 1h3v1h-3zM139 309h3v1h-3zm-1 1h1v1h-1zm4 0h1v1h-1zm-5 1h1v3h-1zm6 0h1v3h-1zm-5 3h1v1h-1zm4 0h1v1h-1zm-3 1h3v1h-3zM138 306h3v1h-3zm-1 1h1v1h-1zm4 0h1v1h-1zm-5 1h1v3h-1zm6 0h1v3h-1zm-5 3h1v1h-1zm4 0h1v1h-1zm-3 1h3v1h-3zM143 293h3v1h-3zm-1 1h1v1h-1zm4 0h1v1h-1zm-5 1h1v3h-1zm6 0h1v3h-1zm-5 3h1v1h-1zm4 0h1v1h-1zm-3 1h3v1h-3zM131 303h3v1h-3zm-1 1h1v1h-1zm4 0h1v1h-1zm-5 1h1v3h-1zm6 0h1v3h-1zm-5 3h1v1h-1zm4 0h1v1h-1zm-3 1h3v1h-3zM127 312h3v1h-3zm-1 1h1v1h-1zm4 0h1v1h-1zm-5 1h1v3h-1zm6 0h1v3h-1zm-5 3h1v1h-1zm4 0h1v1h-1zm-3 1h3v1h-3zM135 288h3v1h-3zm-1 1h1v1h-1zm4 0h1v1h-1zm-5 1h1v3h-1zm6 0h1v3h-1zm-5 3h1v1h-1zm4 0h1v1h-1zm-3 1h3v1h-3zM147 303h3v1h-3zm-1 1h1v1h-1zm4 0h1v1h-1zm-5 1h1v3h-1zm6 0h1v3h-1zm-5 3h1v1h-1zm4 0h1v1h-1zm-3 1h3v1h-3zM147 306h3v1h-3zm-1 1h1v1h-1zm4 0h1v1h-1zm-5 1h1v3h-1zm6 0h1v3h-1zm-5 3h1v1h-1zm4 0h1v1h-1zm-3 1h3v1h-3zM126 302h3v1h-3zm-1 1h1v1h-1zm4 0h1v1h-1zm-5 1h1v3h-1zm6 0h1v3h-1zm-5 3h1v1h-1zm4 0h1v1h-1zm-3 1h3v1h-3zM136 309h3v1h-3zm-1 1h1v1h-1zm4 0h1v1h-1zm-5 1h1v3h-1zm6 0h1v3h-1zm-5 3h1v1h-1zm4 0h1v1h-1zm-3 1h3v1h-3zM151 311h3v1h-3zm-1 1h1v1h-1zm4 0h1v1h-1zm-5 1h1v3h-1zm6 0h1v3h-1zm-5 3h1v1h-1zm4 0h1v1h-1zm-3 1h3v1h-3zM126 310h3v1h-3zm-1 1h1v1h-1zm4 0h1v1h-1zm-5 1h1v3h-1zm6 0h1v3h-1zm-5 3h1v1h-1zm4 0h1v1h-1zm-3 1h3v1h-3zM154 313h3v1h-3zm-1 1h1v1h-1zm4 0h1v1h-1zm-5 1h1v3h-1zm6 0h1v3h-1zm-5 3h1v1h-1zm4 0h1v1h-1zm-3 1h3v1h-3zM127 290h3v1h-3zm-1 1h1v1h-1zm4 0h1v1h-1zm-5 1h1v3h-1zm6 0h1v3h-1zm-5 3h1v1h-1zm4 0h1v1h-1zm-3 1h3v1h-3zM152 309h3v1h-3zm-1 1h1v1h-1zm4 0h1v1h-1zm-5 1h1v3h-1zm6 0h1v3h-1zm-5 3h1v1h-1zm4 0h1v1h-1zm-3 1h3v1h-3zM145 309h3v1h-3zm-1 1h1v1h-1zm4 0h1v1h-1zm-5 1h1v3h-1zm6 0h1v3h-1zm-5 3h1v1h-1zm4 0h1v1h-1zm-3 1h3v1h-3zM145 292h3v1h-3zm-1 1h1v1h-1zm4 0h1v1h-1zm-5 1h1v3h-1zm6 0h1v3h-1zm-5 3h1v1h-1zm4 0h1v1h-1zm-3 1h3v1h-3zM149 290h3v1h-3zm-1 1h1v1h-1zm4 0h1v1h-1zm-5 1h1v3h-1zm6 0h1v3h-1zm-5 3h1v1h-1zm4 0h1v1h-1zm-3 1h3v1h-3zM134 296h3v1h-3zm-1 1h1v1h-1zm4 0h1v1h-1zm-5 1h1v3h-1zm6 0h1v3h-1zm-5 3h1v1h-1zm4 0h1v1h-1zm-3 1h3v1h-3zM133 306h3v1h-3zm-1 1h1v1h-1zm4 0h1v1h-1zm-5 1h1v3h-1zm6 0h1v3h-1zm-5 3h1v1h-1zm4 0h1v1h-1zm-3 1h3v1h-3zM136 293h3v1h-3zm-1 1h1v1h-1zm4 0h1v1h-1zm-5 1h1v3h-1zm6 0h1v3h-1zm-5 3h1v1h-1zm4 0h1v1h-1zm-3 1h3v1h-3zM155 299h3v1h-3zm-1 1h1v1h-1zm4 0h1v1h-1zm-5 1h1v3h-1zm6 0h1v3h-1zm-5 3h1v1h-1zm4 0h1v1h-1zm-3 1h3v1h-3zM152 303h3v1h-3zm-1 1h1v1h-1zm4 0h1v1h-1zm-5 1h1v3h-1zm6 0h1v3h-1zm-5 3h1v1h-1zm4 0h1v1h-1zm-3 1h3v1h-3zM125 296h3v1h-3zm-1 1h1v1h-1zm4 0h1v1h-1zm-5 1h1v3h-1zm6 0h1v3h-1zm-5 3h1v1h-1zm4 0h1v1h-1zm-3 1h3v1h-3zM138 307h3v1h-3zm-1 1h1v1h-1zm4 0h1v1h-1zm-5 1h1v3h-1zm6 0h1v3h-1zm-5 3h1v1h-1zm4 0h1v1h-1zm-3 1h3v1h-3zM135 305h3v1h-3zm-1 1h1v1h-1zm4 0h1v1h-1zm-5 1h1v3h-1zm6 0h1v3h-1zm-5 3h1v1h-1zm4 0h1v1h-1zm-3 1h3v1h-3zM141 290h3v1h-3zm-1 1h1v1h-1zm4 0h1v1h-1zm-5 1h1v3h-1zm6 0h1v3h-1zm-5 3h1v1h-1zm4 0h1v1h-1zm-3 1h3v1h-3zM152 286h3v1h-3zm-1 1h1v1h-1zm4 0h1v1h-1zm-5 1h1v3h-1zm6 0h1v3h-1zm-5 3h1v1h-1zm4 0h1v1h-1zm-3 1h3v1h-3zM149 314h3v1h-3zm-1 1h1v1h-1zm4 0h1v1h-1zm-5 1h1v3h-1zm6 0h1v3h-1zm-5 3h1v1h-1zm4 0h1v1h-1zm-3 1h3v1h-3zM140 308h3v1h-3zm-1 1h1v1h-1zm4 0h1v1h-1zm-5 1h1v3h-1zm6 0h1v3h-1zm-5 3h1v1h-1zm4 0h1v1h-1zm-3 1h3v1h-3zM130 299h3v1h-3zm-1 1h1v1h-1zm4 0h1v1h-1zm-5 1h1v3h-1zm6 0h1v3h-1zm-5 3h1v1h-1zm4 0h1v1h-1zm-3 1h3v1h-3zM135 309h3v1h-3zm-1 1h1v1h-1zm4 0h1v1h-1zm-5 1h1v3h-1zm6 0h1v3h-1zm-5 3h1v1h-1zm4 0h1v1h-1zm-3 1h3v1h-3zM132 313h3v1h-3zm-1 1h1v1h-1zm4 0h1v1h-1zm-5 1h1v3h-1zm6 0h1v3h-1zm-5 3h1v1h-1zm4 0h1v1h-1zm-3 1h3v1h-3zM133 290h3v1h-3zm-1 1h1v1h-1zm4 0h1v1h-1zm-5 1h1v3h-1zm6 0h1v3h-1zm-5 3h1v1h-1zm4 0h1v1h-1zm-3 1h3v1h-3zM147 299h3v1h-3zm-1 1h1v1h-1zm4 0h1v1h-1zm-5 1h1v3h-1zm6 0h1v3h-1zm-5 3h1v1h-1zm4 0h1v1h-1zm-3 1h3v1h-3zM128 303h3v1h-3zm-1 1h1v1h-1zm4 0h1v1h-1zm-5 1h1v3h-1zm6 0h1v3h-1zm-5 3h1v1h-1zm4 0h1v1h-1zm-3 1h3v1h-3zM127 308h3v1h-3zm-1 1h1v1h-1zm4 0h1v1h-1zm-5 1h1v3h-1zm6 0h1v3h-1zm-5 3h1v1h-1zm4 0h1v1h-1zm-3 1h3v1h-3zM147 308h3v1h-3zm-1 1h1v1h-1zm4 0h1v1h-1zm-5 1h1v3h-1zm6 0h1v3h-1zm-5 3h1v1h-1zm4 0h1v1h-1zm-3 1h3v1h-3zM144 294h3v1h-3zm-1 1h1v1h-1zm4 0h1v1h-1zm-5 1h1v3h-1zm6 0h1v3h-1zm-5 3h1v1h-1zm4 0h1v1h-1zm-3 1h3v1h-3zM137 296h3v1h-3zm-1 1h1v1h-1zm4 0h1v1h-1zm-5 1h1v3h-1zm6 0h1v3h-1zm-5 3h1v1h-1zm4 0h1v1h-1zm-3 1h3v1h-3zM153 286h3v1h-3zm-1 1h1v1h-1zm4 0h1v1h-1zm-5 1h1v3h-1zm6 0h1v3h-1zm-5 3h1v1h-1zm4 0h1v1h-1zm-3 1h3v1h-3zM153 284h3v1h-3zm-1 1h1v1h-1zm4 0h1v1h-1zm-5 1h1v3h-1zm6 0h1v3h-1zm-5 3h1v1h-1zm4 0h1v1h-1zm-3 1h3v1h-3zM153 299h3v1h-3zm-1 1h1v1h-1zm4 0h1v1h-1zm-5 1h1v3h-1zm6 0h1v3h-1zm-5 3h1v1h-1zm4 0h1v1h-1zm-3 1h3v1h-3zM136 311h3v1h-3zm-1 1h1v1h-1zm4 0h1v1h-1zm-5 1h1v3h-1zm6 0h1v3h-1zm-5 3h1v1h-1zm4 0h1v1h-1zm-3 1h3v1h-3zM132 298h3v1h-3zm-1 1h1v1h-1zm4 0h1v1h-1zm-5 1h1v3h-1zm6 0h1v3h-1zm-5 3h1v1h-1zm4 0h1v1h-1zm-3 1h3v1h-3zM141 307h3v1h-3zm-1 1h1v1h-1zm4 0h1v1h-1zm-5 1h1v3h-1zm6 0h1v3h-1zm-5 3h1v1h-1zm4 0h1v1h-1zm-3 1h3v1h-3zM148 303h3v1h-3zm-1 1h1v1h-1zm4 0h1v1h-1zm-5 1h1v3h-1zm6 0h1v3h-1zm-5 3h1v1h-1zm4 0h1v1h-1zm-3 1h3v1h-3zM135 293h3v1h-3zm-1 1h1v1h-1zm4 0h1v1h-1zm-5 1h1v3h-1zm6 0h1v3h-1zm-5 3h1v1h-1zm4 0h1v1h-1zm-3 1h3v1h-3zM129 310h3v1h-3zm-1 1h1v1h-1zm4 0h1v1h-1zm-5 1h1v3h-1zm6 0h1v3h-1zm-5 3h1v1h-1zm4 0h1v1h-1zm-3 1h3v1h-3zM146 306h3v1h-3zm-1 1h1v1h-1zm4 0h1v1h-1zm-5 1h1v3h-1zm6 0h1v3h-1zm-5 3h1v1h-1zm4 0h1v1h-1zm-3 1h3v1h-3zM130 297h3v1h-3zm-1 1h1v1h-1zm4 0h1v1h-1zm-5 1h1v3h-1zm6 0h1v3h-1zm-5 3h1v1h-1zm4 0h1v1h-1zm-3 1h3v1h-3zM149 301h3v1h-3zm-1 1h1v1h-1zm4 0h1v1h-1zm-5 1h1v3h-1zm6 0h1v3h-1zm-5 3h1v1h-1zm4 0h1v1h-1zm-3 1h3v1h-3zM128 298h3v1h-3zm-1 1h1v1h-1zm4 0h1v1h-1zm-5 1h1v3h-1zm6 0h1v3h-1zm-5 3h1v1h-1zm4 0h1v1h-1zm-3 1h3v1h-3zM153 291h3v1h-3zm-1 1h1v1h-1zm4 0h1v1h-1zm-5 1h1v3h-1zm6 0h1v3h-1zm-5 3h1v1h-1zm4 0h1v1h-1zm-3 1h3v1h-3zM130 293h3v1h-3zm-1 1h1v1h-1zm4 0h1v1h-1zm-5 1h1v3h-1zm6 0h1v3h-1zm-5 3h1v1h-1zm4 0h1v1h-1zm-3 1h3v1h-3zM132 293h3v1h-3zm-1 1h1v1h-1zm4 0h1v1h-1zm-5 1h1v3h-1zm6 0h1v3h-1zm-5 3h1v1h-1zm4 0h1v1h-1zm-3 1h3v1h-3zM141 288h3v1h-3zm-1 1h1v1h-1zm4 0h1v1h-1zm-5 1h1v3h-1zm6 0h1v3h-1zm-5 3h1v1h-1zm4 0h1v1h-1zm-3 1h3v1h-3zM135 289h3v1h-3zm-1 1h1v1h-1zm4 0h1v1h-1zm-5 1h1v3h-1zm6 0h1v3h-1zm-5 3h1v1h-1zm4 0h1v1h-1zm-3 1h3v1h-3zM156 306h3v1h-3zm-1 1h1v1h-1zm4 0h1v1h-1zm-5 1h1v3h-1zm6 0h1v3h-1zm-5 3h1v1h-1zm4 0h1v1h-1zm-3 1h3v1h-3zM127 313h3v1h-3zm-1 1h1v1h-1zm4 0h1v1h-1zm-5 1h1v3h-1zm6 0h1v3h-1zm-5 3h1v1h-1zm4 0h1v1h-1zm-3 1h3v1h-3zM127 295h3v1h-3zm-1 1h1v1h-1zm4 0h1v1h-1zm-5 1h1v3h-1zm6 0h1v3h-1zm-5 3h1v1h-1zm4 0h1v1h-1zm-3 1h3v1h-3zM156 308h3v1h-3zm-1 1h1v1h-1zm4 0h1v1h-1zm-5 1h1v3h-1zm6 0h1v3h-1zm-5 3h1v1h-1zm4 0h1v1h-1zm-3 1h3v1h-3zM130 303h3v1h-3zm-1 1h1v1h-1zm4 0h1v1h-1zm-5 1h1v3h-1zm6 0h1v3h-1zm-5 3h1v1h-1zm4 0h1v1h-1zm-3 1h3v1h-3zM180 291h3v1h-3zm-1 1h1v1h-1zm4 0h1v1h-1zm-5 1h1v3h-1zm6 0h1v3h-1zm-5 3h1v1h-1zm4 0h1v1h-1zm-3 1h3v1h-3zM191 290h3v1h-3zm-1 1h1v1h-1zm4 0h1v1h-1zm-5 1h1v3h-1zm6 0h1v3h-1zm-5 3h1v1h-1zm4 0h1v1h-1zm-3 1h3v1h-3zM181 291h3v1h-3zm-1 1h1v1h-1zm4 0h1v1h-1zm-5 1h1v3h-1zm6 0h1v3h-1zm-5 3h1v1h-1zm4 0h1v1h-1zm-3 1h3v1h-3zM160 290h3v1h-3zm-1 1h1v1h-1zm4 0h1v1h-1zm-5 1h1v3h-1zm6 0h1v3h-1zm-5 3h1v1h-1zm4 0h1v1h-1zm-3 1h3v1h-3zM172 291h3v1h-3zm-1 1h1v1h-1zm4 0h1v1h-1zm-5 1h1v3h-1zm6 0h1v3h-1zm-5 3h1v1h-1zm4 0h1v1h-1zm-3 1h3v1h-3zM180 290h3v1h-3zm-1 1h1v1h-1zm4 0h1v1h-1zm-5 1h1v3h-1zm6 0h1v3h-1zm-5 3h1v1h-1zm4 0h1v1h-1zm-3 1h3v1h-3zM186 289h3v1h-3zm-1 1h1v1h-1zm4 0h1v1h-1zm-5 1h1v3h-1zm6 0h1v3h-1zm-5 3h1v1h-1zm4 0h1v1h-1zm-3 1h3v1h-3zM177 297h3v1h-3zm-1 1h1v1h-1zm4 0h1v1h-1zm-5 1h1v3h-1zm6 0h1v3h-1zm-5 3h1v1h-1zm4 0h1v1h-1zm-3 1h3v1h-3zM176 295h3v1h-3zm-1 1h1v1h-1zm4 0h1v1h-1zm-5 1h1v3h-1zm6 0h1v3h-1zm-5 3h1v1h-1zm4 0h1v1h-1zm-3 1h3v1h-3zM167 289h3v1h-3zm-1 1h1v1h-1zm4 0h1v1h-1zm-5 1h1v3h-1zm6 0h1v3h-1zm-5 3h1v1h-1zm4 0h1v1h-1zm-3 1h3v1h-3zM157 290h3v1h-3zm-1 1h1v1h-1zm4 0h1v1h-1zm-5 1h1v3h-1zm6 0h1v3h-1zm-5 3h1v1h-1zm4 0h1v1h-1zm-3 1h3v1h-3zM174 294h3v1h-3zm-1 1h1v1h-1zm4 0h1v1h-1zm-5 1h1v3h-1zm6 0h1v3h-1zm-5 3h1v1h-1zm4 0h1v1h-1zm-3 1h3v1h-3zM168 291h3v1h-3zm-1 1h1v1h-1zm4 0h1v1h-1zm-5 1h1v3h-1zm6 0h1v3h-1zm-5 3h1v1h-1zm4 0h1v1h-1zm-3 1h3v1h-3zM181 289h3v1h-3zm-1 1h1v1h-1zm4 0h1v1h-1zm-5 1h1v3h-1zm6 0h1v3h-1zm-5 3h1v1h-1zm4 0h1v1h-1zm-3 1h3v1h-3zM176 298h3v1h-3zm-1 1h1v1h-1zm4 0h1v1h-1zm-5 1h1v3h-1zm6 0h1v3h-1zm-5 3h1v1h-1zm4 0h1v1h-1zm-3 1h3v1h-3zM175 292h3v1h-3zm-1 1h1v1h-1zm4 0h1v1h-1zm-5 1h1v3h-1zm6 0h1v3h-1zm-5 3h1v1h-1zm4 0h1v1h-1zm-3 1h3v1h-3zM177 301h3v1h-3zm-1 1h1v1h-1zm4 0h1v1h-1zm-5 1h1v3h-1zm6 0h1v3h-1zm-5 3h1v1h-1zm4 0h1v1h-1zm-3 1h3v1h-3zM171 290h3v1h-3zm-1 1h1v1h-1zm4 0h1v1h-1zm-5 1h1v3h-1zm6 0h1v3h-1zm-5 3h1v1h-1zm4 0h1v1h-1zm-3 1h3v1h-3zM176 292h3v1h-3zm-1 1h1v1h-1zm4 0h1v1h-1zm-5 1h1v3h-1zm6 0h1v3h-1zm-5 3h1v1h-1zm4 0h1v1h-1zm-3 1h3v1h-3zM170 291h3v1h-3zm-1 1h1v1h-1zm4 0h1v1h-1zm-5 1h1v3h-1zm6 0h1v3h-1zm-5 3h1v1h-1zm4 0h1v1h-1zm-3 1h3v1h-3zM176 299h3v1h-3zm-1 1h1v1h-1zm4 0h1v1h-1zm-5 1h1v3h-1zm6 0h1v3h-1zm-5 3h1v1h-1zm4 0h1v1h-1zm-3 1h3v1h-3zM164 290h3v1h-3zm-1 1h1v1h-1zm4 0h1v1h-1zm-5 1h1v3h-1zm6 0h1v3h-1zm-5 3h1v1h-1zm4 0h1v1h-1zm-3 1h3v1h-3zM172 293h3v1h-3zm-1 1h1v1h-1zm4 0h1v1h-1zm-5 1h1v3h-1zm6 0h1v3h-1zm-5 3h1v1h-1zm4 0h1v1h-1zm-3 1h3v1h-3zM188 290h3v1h-3zm-1 1h1v1h-1zm4 0h1v1h-1zm-5 1h1v3h-1zm6 0h1v3h-1zm-5 3h1v1h-1zm4 0h1v1h-1zm-3 1h3v1h-3zM158 287h3v1h-3zm-1 1h1v1h-1zm4 0h1v1h-1zm-5 1h1v3h-1zm6 0h1v3h-1zm-5 3h1v1h-1zm4 0h1v1h-1zm-3 1h3v1h-3zM157 284h3v1h-3zm-1 1h1v1h-1zm4 0h1v1h-1zm-5 1h1v3h-1zm6 0h1v3h-1zm-5 3h1v1h-1zm4 0h1v1h-1zm-3 1h3v1h-3zM182 291h3v1h-3zm-1 1h1v1h-1zm4 0h1v1h-1zm-5 1h1v3h-1zm6 0h1v3h-1zm-5 3h1v1h-1zm4 0h1v1h-1zm-3 1h3v1h-3zM168 290h3v1h-3zm-1 1h1v1h-1zm4 0h1v1h-1zm-5 1h1v3h-1zm6 0h1v3h-1zm-5 3h1v1h-1zm4 0h1v1h-1zm-3 1h3v1h-3zM158 282h3v1h-3zm-1 1h1v1h-1zm4 0h1v1h-1zm-5 1h1v3h-1zm6 0h1v3h-1zm-5 3h1v1h-1zm4 0h1v1h-1zm-3 1h3v1h-3zM191 291h3v1h-3zm-1 1h1v1h-1zm4 0h1v1h-1zm-5 1h1v3h-1zm6 0h1v3h-1zm-5 3h1v1h-1zm4 0h1v1h-1zm-3 1h3v1h-3zM157 289h3v1h-3zm-1 1h1v1h-1zm4 0h1v1h-1zm-5 1h1v3h-1zm6 0h1v3h-1zm-5 3h1v1h-1zm4 0h1v1h-1zm-3 1h3v1h-3zM193 291h3v1h-3zm-1 1h1v1h-1zm4 0h1v1h-1zm-5 1h1v3h-1zm6 0h1v3h-1zm-5 3h1v1h-1zm4 0h1v1h-1zm-3 1h3v1h-3zM170 294h3v1h-3zm-1 1h1v1h-1zm4 0h1v1h-1zm-5 1h1v3h-1zm6 0h1v3h-1zm-5 3h1v1h-1zm4 0h1v1h-1zm-3 1h3v1h-3zM157 286h3v1h-3zm-1 1h1v1h-1zm4 0h1v1h-1zm-5 1h1v3h-1zm6 0h1v3h-1zm-5 3h1v1h-1zm4 0h1v1h-1zm-3 1h3v1h-3zM172 294h3v1h-3zm-1 1h1v1h-1zm4 0h1v1h-1zm-5 1h1v3h-1zm6 0h1v3h-1zm-5 3h1v1h-1zm4 0h1v1h-1zm-3 1h3v1h-3zM177 299h3v1h-3zm-1 1h1v1h-1zm4 0h1v1h-1zm-5 1h1v3h-1zm6 0h1v3h-1zm-5 3h1v1h-1zm4 0h1v1h-1zm-3 1h3v1h-3zM186 291h3v1h-3zm-1 1h1v1h-1zm4 0h1v1h-1zm-5 1h1v3h-1zm6 0h1v3h-1zm-5 3h1v1h-1zm4 0h1v1h-1zm-3 1h3v1h-3zM172 292h3v1h-3zm-1 1h1v1h-1zm4 0h1v1h-1zm-5 1h1v3h-1zm6 0h1v3h-1zm-5 3h1v1h-1zm4 0h1v1h-1zm-3 1h3v1h-3zM179 288h3v1h-3zm-1 1h1v1h-1zm4 0h1v1h-1zm-5 1h1v3h-1zm6 0h1v3h-1zm-5 3h1v1h-1zm4 0h1v1h-1zm-3 1h3v1h-3zM189 292h3v1h-3zm-1 1h1v1h-1zm4 0h1v1h-1zm-5 1h1v3h-1zm6 0h1v3h-1zm-5 3h1v1h-1zm4 0h1v1h-1zm-3 1h3v1h-3zM186 290h3v1h-3zm-1 1h1v1h-1zm4 0h1v1h-1zm-5 1h1v3h-1zm6 0h1v3h-1zm-5 3h1v1h-1zm4 0h1v1h-1zm-3 1h3v1h-3zM208 291h3v1h-3zm-1 1h1v1h-1zm4 0h1v1h-1zm-5 1h1v3h-1zm6 0h1v3h-1zm-5 3h1v1h-1zm4 0h1v1h-1zm-3 1h3v1h-3zM206 293h3v1h-3zm-1 1h1v1h-1zm4 0h1v1h-1zm-5 1h1v3h-1zm6 0h1v3h-1zm-5 3h1v1h-1zm4 0h1v1h-1zm-3 1h3v1h-3zM209 291h3v1h-3zm-1 1h1v1h-1zm4 0h1v1h-1zm-5 1h1v3h-1zm6 0h1v3h-1zm-5 3h1v1h-1zm4 0h1v1h-1zm-3 1h3v1h-3zM207 289h3v1h-3zm-1 1h1v1h-1zm4 0h1v1h-1zm-5 1h1v3h-1zm6 0h1v3h-1zm-5 3h1v1h-1zm4 0h1v1h-1zm-3 1h3v1h-3zM206 287h3v1h-3zm-1 1h1v1h-1zm4 0h1v1h-1zm-5 1h1v3h-1zm6 0h1v3h-1zm-5 3h1v1h-1zm4 0h1v1h-1zm-3 1h3v1h-3zM206 291h3v1h-3zm-1 1h1v1h-1zm4 0h1v1h-1zm-5 1h1v3h-1zm6 0h1v3h-1zm-5 3h1v1h-1zm4 0h1v1h-1zm-3 1h3v1h-3zM211 297h3v1h-3zm-1 1h1v1h-1zm4 0h1v1h-1zm-5 1h1v3h-1zm6 0h1v3h-1zm-5 3h1v1h-1zm4 0h1v1h-1zm-3 1h3v1h-3zM210 295h3v1h-3zm-1 1h1v1h-1zm4 0h1v1h-1zm-5 1h1v3h-1zm6 0h1v3h-1zm-5 3h1v1h-1zm4 0h1v1h-1zm-3 1h3v1h-3zM204 289h3v1h-3zm-1 1h1v1h-1zm4 0h1v1h-1zm-5 1h1v3h-1zm6 0h1v3h-1zm-5 3h1v1h-1zm4 0h1v1h-1zm-3 1h3v1h-3zM209 290h3v1h-3zm-1 1h1v1h-1zm4 0h1v1h-1zm-5 1h1v3h-1zm6 0h1v3h-1zm-5 3h1v1h-1zm4 0h1v1h-1zm-3 1h3v1h-3zM208 296h3v1h-3zm-1 1h1v1h-1zm4 0h1v1h-1zm-5 1h1v3h-1zm6 0h1v3h-1zm-5 3h1v1h-1zm4 0h1v1h-1zm-3 1h3v1h-3zM205 291h3v1h-3zm-1 1h1v1h-1zm4 0h1v1h-1zm-5 1h1v3h-1zm6 0h1v3h-1zm-5 3h1v1h-1zm4 0h1v1h-1zm-3 1h3v1h-3zM222 287h3v1h-3zm-1 1h1v1h-1zm4 0h1v1h-1zm-5 1h1v3h-1zm6 0h1v3h-1zm-5 3h1v1h-1zm4 0h1v1h-1zm-3 1h3v1h-3zM226 287h3v1h-3zm-1 1h1v1h-1zm4 0h1v1h-1zm-5 1h1v3h-1zm6 0h1v3h-1zm-5 3h1v1h-1zm4 0h1v1h-1zm-3 1h3v1h-3zM221 287h3v1h-3zm-1 1h1v1h-1zm4 0h1v1h-1zm-5 1h1v3h-1zm6 0h1v3h-1zm-5 3h1v1h-1zm4 0h1v1h-1zm-3 1h3v1h-3zM231 288h3v1h-3zm-1 1h1v1h-1zm4 0h1v1h-1zm-5 1h1v3h-1zm6 0h1v3h-1zm-5 3h1v1h-1zm4 0h1v1h-1zm-3 1h3v1h-3zM219 292h3v1h-3zm-1 1h1v1h-1zm4 0h1v1h-1zm-5 1h1v3h-1zm6 0h1v3h-1zm-5 3h1v1h-1zm4 0h1v1h-1zm-3 1h3v1h-3zM226 290h3v1h-3zm-1 1h1v1h-1zm4 0h1v1h-1zm-5 1h1v3h-1zm6 0h1v3h-1zm-5 3h1v1h-1zm4 0h1v1h-1zm-3 1h3v1h-3zM233 292h3v1h-3zm-1 1h1v1h-1zm4 0h1v1h-1zm-5 1h1v3h-1zm6 0h1v3h-1zm-5 3h1v1h-1zm4 0h1v1h-1zm-3 1h3v1h-3zM229 287h3v1h-3zm-1 1h1v1h-1zm4 0h1v1h-1zm-5 1h1v3h-1zm6 0h1v3h-1zm-5 3h1v1h-1zm4 0h1v1h-1zm-3 1h3v1h-3zM231 293h3v1h-3zm-1 1h1v1h-1zm4 0h1v1h-1zm-5 1h1v3h-1zm6 0h1v3h-1zm-5 3h1v1h-1zm4 0h1v1h-1zm-3 1h3v1h-3zM222 291h3v1h-3zm-1 1h1v1h-1zm4 0h1v1h-1zm-5 1h1v3h-1zm6 0h1v3h-1zm-5 3h1v1h-1zm4 0h1v1h-1zm-3 1h3v1h-3zM220 289h3v1h-3zm-1 1h1v1h-1zm4 0h1v1h-1zm-5 1h1v3h-1zm6 0h1v3h-1zm-5 3h1v1h-1zm4 0h1v1h-1zm-3 1h3v1h-3zM233 290h3v1h-3zm-1 1h1v1h-1zm4 0h1v1h-1zm-5 1h1v3h-1zm6 0h1v3h-1zm-5 3h1v1h-1zm4 0h1v1h-1zm-3 1h3v1h-3zM220 292h3v1h-3zm-1 1h1v1h-1zm4 0h1v1h-1zm-5 1h1v3h-1zm6 0h1v3h-1zm-5 3h1v1h-1zm4 0h1v1h-1zm-3 1h3v1h-3zM230 288h3v1h-3zm-1 1h1v1h-1zm4 0h1v1h-1zm-5 1h1v3h-1zm6 0h1v3h-1zm-5 3h1v1h-1zm4 0h1v1h-1zm-3 1h3v1h-3zM226 289h3v1h-3zm-1 1h1v1h-1zm4 0h1v1h-1zm-5 1h1v3h-1zm6 0h1v3h-1zm-5 3h1v1h-1zm4 0h1v1h-1zm-3 1h3v1h-3zM222 288h3v1h-3zm-1 1h1v1h-1zm4 0h1v1h-1zm-5 1h1v3h-1zm6 0h1v3h-1zm-5 3h1v1h-1zm4 0h1v1h-1zm-3 1h3v1h-3zM218 289h3v1h-3zm-1 1h1v1h-1zm4 0h1v1h-1zm-5 1h1v3h-1zm6 0h1v3h-1zm-5 3h1v1h-1zm4 0h1v1h-1zm-3 1h3v1h-3zM234 285h3v1h-3zm-1 1h1v1h-1zm4 0h1v1h-1zm-5 1h1v3h-1zm6 0h1v3h-1zm-5 3h1v1h-1zm4 0h1v1h-1zm-3 1h3v1h-3zM231 289h3v1h-3zm-1 1h1v1h-1zm4 0h1v1h-1zm-5 1h1v3h-1zm6 0h1v3h-1zm-5 3h1v1h-1zm4 0h1v1h-1zm-3 1h3v1h-3zM236 285h3v1h-3zm-1 1h1v1h-1zm4 0h1v1h-1zm-5 1h1v3h-1zm6 0h1v3h-1zm-5 3h1v1h-1zm4 0h1v1h-1zm-3 1h3v1h-3zM235 288h3v1h-3zm-1 1h1v1h-1zm4 0h1v1h-1zm-5 1h1v3h-1zm6 0h1v3h-1zm-5 3h1v1h-1zm4 0h1v1h-1zm-3 1h3v1h-3zM228 287h3v1h-3zm-1 1h1v1h-1zm4 0h1v1h-1zm-5 1h1v3h-1zm6 0h1v3h-1zm-5 3h1v1h-1zm4 0h1v1h-1zm-3 1h3v1h-3zM218 286h3v1h-3zm-1 1h1v1h-1zm4 0h1v1h-1zm-5 1h1v3h-1zm6 0h1v3h-1zm-5 3h1v1h-1zm4 0h1v1h-1zm-3 1h3v1h-3zM229 293h3v1h-3zm-1 1h1v1h-1zm4 0h1v1h-1zm-5 1h1v3h-1zm6 0h1v3h-1zm-5 3h1v1h-1zm4 0h1v1h-1zm-3 1h3v1h-3zM229 296h3v1h-3zm-1 1h1v1h-1zm4 0h1v1h-1zm-5 1h1v3h-1zm6 0h1v3h-1zm-5 3h1v1h-1zm4 0h1v1h-1zm-3 1h3v1h-3zM221 286h3v1h-3zm-1 1h1v1h-1zm4 0h1v1h-1zm-5 1h1v3h-1zm6 0h1v3h-1zm-5 3h1v1h-1zm4 0h1v1h-1zm-3 1h3v1h-3zM231 291h3v1h-3zm-1 1h1v1h-1zm4 0h1v1h-1zm-5 1h1v3h-1zm6 0h1v3h-1zm-5 3h1v1h-1zm4 0h1v1h-1zm-3 1h3v1h-3zM231 285h3v1h-3zm-1 1h1v1h-1zm4 0h1v1h-1zm-5 1h1v3h-1zm6 0h1v3h-1zm-5 3h1v1h-1zm4 0h1v1h-1zm-3 1h3v1h-3zM235 292h3v1h-3zm-1 1h1v1h-1zm4 0h1v1h-1zm-5 1h1v3h-1zm6 0h1v3h-1zm-5 3h1v1h-1zm4 0h1v1h-1zm-3 1h3v1h-3zM234 289h3v1h-3zm-1 1h1v1h-1zm4 0h1v1h-1zm-5 1h1v3h-1zm6 0h1v3h-1zm-5 3h1v1h-1zm4 0h1v1h-1zm-3 1h3v1h-3zM224 287h3v1h-3zm-1 1h1v1h-1zm4 0h1v1h-1zm-5 1h1v3h-1zm6 0h1v3h-1zm-5 3h1v1h-1zm4 0h1v1h-1zm-3 1h3v1h-3zM224 294h3v1h-3zm-1 1h1v1h-1zm4 0h1v1h-1zm-5 1h1v3h-1zm6 0h1v3h-1zm-5 3h1v1h-1zm4 0h1v1h-1zm-3 1h3v1h-3zM225 293h3v1h-3zm-1 1h1v1h-1zm4 0h1v1h-1zm-5 1h1v3h-1zm6 0h1v3h-1zm-5 3h1v1h-1zm4 0h1v1h-1zm-3 1h3v1h-3zM223 296h3v1h-3zm-1 1h1v1h-1zm4 0h1v1h-1zm-5 1h1v3h-1zm6 0h1v3h-1zm-5 3h1v1h-1zm4 0h1v1h-1zm-3 1h3v1h-3zM224 297h3v1h-3zm-1 1h1v1h-1zm4 0h1v1h-1zm-5 1h1v3h-1zm6 0h1v3h-1zm-5 3h1v1h-1zm4 0h1v1h-1zm-3 1h3v1h-3zM227 293h3v1h-3zm-1 1h1v1h-1zm4 0h1v1h-1zm-5 1h1v3h-1zm6 0h1v3h-1zm-5 3h1v1h-1zm4 0h1v1h-1zm-3 1h3v1h-3zM236 288h3v1h-3zm-1 1h1v1h-1zm4 0h1v1h-1zm-5 1h1v3h-1zm6 0h1v3h-1zm-5 3h1v1h-1zm4 0h1v1h-1zm-3 1h3v1h-3zM251 289h3v1h-3zm-1 1h1v1h-1zm4 0h1v1h-1zm-5 1h1v3h-1zm6 0h1v3h-1zm-5 3h1v1h-1zm4 0h1v1h-1zm-3 1h3v1h-3zM257 305h3v1h-3zm-1 1h1v1h-1zm4 0h1v1h-1zm-5 1h1v3h-1zm6 0h1v3h-1zm-5 3h1v1h-1zm4 0h1v1h-1zm-3 1h3v1h-3zM239 289h3v1h-3zm-1 1h1v1h-1zm4 0h1v1h-1zm-5 1h1v3h-1zm6 0h1v3h-1zm-5 3h1v1h-1zm4 0h1v1h-1zm-3 1h3v1h-3zM283 298h3v1h-3zm-1 1h1v1h-1zm4 0h1v1h-1zm-5 1h1v3h-1zm6 0h1v3h-1zm-5 3h1v1h-1zm4 0h1v1h-1zm-3 1h3v1h-3zM306 303h3v1h-3zm-1 1h1v1h-1zm4 0h1v1h-1zm-5 1h1v3h-1zm6 0h1v3h-1zm-5 3h1v1h-1zm4 0h1v1h-1zm-3 1h3v1h-3zM240 289h3v1h-3zm-1 1h1v1h-1zm4 0h1v1h-1zm-5 1h1v3h-1zm6 0h1v3h-1zm-5 3h1v1h-1zm4 0h1v1h-1zm-3 1h3v1h-3zM276 298h3v1h-3zm-1 1h1v1h-1zm4 0h1v1h-1zm-5 1h1v3h-1zm6 0h1v3h-1zm-5 3h1v1h-1zm4 0h1v1h-1zm-3 1h3v1h-3zM259 289h3v1h-3zm-1 1h1v1h-1zm4 0h1v1h-1zm-5 1h1v3h-1zm6 0h1v3h-1zm-5 3h1v1h-1zm4 0h1v1h-1zm-3 1h3v1h-3zM284 306h3v1h-3zm-1 1h1v1h-1zm4 0h1v1h-1zm-5 1h1v3h-1zm6 0h1v3h-1zm-5 3h1v1h-1zm4 0h1v1h-1zm-3 1h3v1h-3zM268 296h3v1h-3zm-1 1h1v1h-1zm4 0h1v1h-1zm-5 1h1v3h-1zm6 0h1v3h-1zm-5 3h1v1h-1zm4 0h1v1h-1zm-3 1h3v1h-3zM304 299h3v1h-3zm-1 1h1v1h-1zm4 0h1v1h-1zm-5 1h1v3h-1zm6 0h1v3h-1zm-5 3h1v1h-1zm4 0h1v1h-1zm-3 1h3v1h-3zM299 294h3v1h-3zm-1 1h1v1h-1zm4 0h1v1h-1zm-5 1h1v3h-1zm6 0h1v3h-1zm-5 3h1v1h-1zm4 0h1v1h-1zm-3 1h3v1h-3zM256 294h3v1h-3zm-1 1h1v1h-1zm4 0h1v1h-1zm-5 1h1v3h-1zm6 0h1v3h-1zm-5 3h1v1h-1zm4 0h1v1h-1zm-3 1h3v1h-3zM302 306h3v1h-3zm-1 1h1v1h-1zm4 0h1v1h-1zm-5 1h1v3h-1zm6 0h1v3h-1zm-5 3h1v1h-1zm4 0h1v1h-1zm-3 1h3v1h-3zM256 296h3v1h-3zm-1 1h1v1h-1zm4 0h1v1h-1zm-5 1h1v3h-1zm6 0h1v3h-1zm-5 3h1v1h-1zm4 0h1v1h-1zm-3 1h3v1h-3zM287 295h3v1h-3zm-1 1h1v1h-1zm4 0h1v1h-1zm-5 1h1v3h-1zm6 0h1v3h-1zm-5 3h1v1h-1zm4 0h1v1h-1zm-3 1h3v1h-3zM271 298h3v1h-3zm-1 1h1v1h-1zm4 0h1v1h-1zm-5 1h1v3h-1zm6 0h1v3h-1zm-5 3h1v1h-1zm4 0h1v1h-1zm-3 1h3v1h-3zM238 290h3v1h-3zm-1 1h1v1h-1zm4 0h1v1h-1zm-5 1h1v3h-1zm6 0h1v3h-1zm-5 3h1v1h-1zm4 0h1v1h-1zm-3 1h3v1h-3zM314 304h3v1h-3zm-1 1h1v1h-1zm4 0h1v1h-1zm-5 1h1v3h-1zm6 0h1v3h-1zm-5 3h1v1h-1zm4 0h1v1h-1zm-3 1h3v1h-3zM311 301h3v1h-3zm-1 1h1v1h-1zm4 0h1v1h-1zm-5 1h1v3h-1zm6 0h1v3h-1zm-5 3h1v1h-1zm4 0h1v1h-1zm-3 1h3v1h-3zM301 307h3v1h-3zm-1 1h1v1h-1zm4 0h1v1h-1zm-5 1h1v3h-1zm6 0h1v3h-1zm-5 3h1v1h-1zm4 0h1v1h-1zm-3 1h3v1h-3zM288 293h3v1h-3zm-1 1h1v1h-1zm4 0h1v1h-1zm-5 1h1v3h-1zm6 0h1v3h-1zm-5 3h1v1h-1zm4 0h1v1h-1zm-3 1h3v1h-3zM291 293h3v1h-3zm-1 1h1v1h-1zm4 0h1v1h-1zm-5 1h1v3h-1zm6 0h1v3h-1zm-5 3h1v1h-1zm4 0h1v1h-1zm-3 1h3v1h-3zM280 308h3v1h-3zm-1 1h1v1h-1zm4 0h1v1h-1zm-5 1h1v3h-1zm6 0h1v3h-1zm-5 3h1v1h-1zm4 0h1v1h-1zm-3 1h3v1h-3zM286 292h3v1h-3zm-1 1h1v1h-1zm4 0h1v1h-1zm-5 1h1v3h-1zm6 0h1v3h-1zm-5 3h1v1h-1zm4 0h1v1h-1zm-3 1h3v1h-3zM278 296h3v1h-3zm-1 1h1v1h-1zm4 0h1v1h-1zm-5 1h1v3h-1zm6 0h1v3h-1zm-5 3h1v1h-1zm4 0h1v1h-1zm-3 1h3v1h-3zM313 293h3v1h-3zm-1 1h1v1h-1zm4 0h1v1h-1zm-5 1h1v3h-1zm6 0h1v3h-1zm-5 3h1v1h-1zm4 0h1v1h-1zm-3 1h3v1h-3zM261 301h3v1h-3zm-1 1h1v1h-1zm4 0h1v1h-1zm-5 1h1v3h-1zm6 0h1v3h-1zm-5 3h1v1h-1zm4 0h1v1h-1zm-3 1h3v1h-3zM313 298h3v1h-3zm-1 1h1v1h-1zm4 0h1v1h-1zm-5 1h1v3h-1zm6 0h1v3h-1zm-5 3h1v1h-1zm4 0h1v1h-1zm-3 1h3v1h-3zM258 297h3v1h-3zm-1 1h1v1h-1zm4 0h1v1h-1zm-5 1h1v3h-1zm6 0h1v3h-1zm-5 3h1v1h-1zm4 0h1v1h-1zm-3 1h3v1h-3zM246 289h3v1h-3zm-1 1h1v1h-1zm4 0h1v1h-1zm-5 1h1v3h-1zm6 0h1v3h-1zm-5 3h1v1h-1zm4 0h1v1h-1zm-3 1h3v1h-3zM260 296h3v1h-3zm-1 1h1v1h-1zm4 0h1v1h-1zm-5 1h1v3h-1zm6 0h1v3h-1zm-5 3h1v1h-1zm4 0h1v1h-1zm-3 1h3v1h-3zM260 292h3v1h-3zm-1 1h1v1h-1zm4 0h1v1h-1zm-5 1h1v3h-1zm6 0h1v3h-1zm-5 3h1v1h-1zm4 0h1v1h-1zm-3 1h3v1h-3zM304 300h3v1h-3zm-1 1h1v1h-1zm4 0h1v1h-1zm-5 1h1v3h-1zm6 0h1v3h-1zm-5 3h1v1h-1zm4 0h1v1h-1zm-3 1h3v1h-3zM282 301h3v1h-3zm-1 1h1v1h-1zm4 0h1v1h-1zm-5 1h1v3h-1zm6 0h1v3h-1zm-5 3h1v1h-1zm4 0h1v1h-1zm-3 1h3v1h-3zM273 299h3v1h-3zm-1 1h1v1h-1zm4 0h1v1h-1zm-5 1h1v3h-1zm6 0h1v3h-1zm-5 3h1v1h-1zm4 0h1v1h-1zm-3 1h3v1h-3zM286 297h3v1h-3zm-1 1h1v1h-1zm4 0h1v1h-1zm-5 1h1v3h-1zm6 0h1v3h-1zm-5 3h1v1h-1zm4 0h1v1h-1zm-3 1h3v1h-3zM261 292h3v1h-3zm-1 1h1v1h-1zm4 0h1v1h-1zm-5 1h1v3h-1zm6 0h1v3h-1zm-5 3h1v1h-1zm4 0h1v1h-1zm-3 1h3v1h-3zM254 298h3v1h-3zm-1 1h1v1h-1zm4 0h1v1h-1zm-5 1h1v3h-1zm6 0h1v3h-1zm-5 3h1v1h-1zm4 0h1v1h-1zm-3 1h3v1h-3zM267 300h3v1h-3zm-1 1h1v1h-1zm4 0h1v1h-1zm-5 1h1v3h-1zm6 0h1v3h-1zm-5 3h1v1h-1zm4 0h1v1h-1zm-3 1h3v1h-3zM281 298h3v1h-3zm-1 1h1v1h-1zm4 0h1v1h-1zm-5 1h1v3h-1zm6 0h1v3h-1zm-5 3h1v1h-1zm4 0h1v1h-1zm-3 1h3v1h-3zM260 304h3v1h-3zm-1 1h1v1h-1zm4 0h1v1h-1zm-5 1h1v3h-1zm6 0h1v3h-1zm-5 3h1v1h-1zm4 0h1v1h-1zm-3 1h3v1h-3zM249 288h3v1h-3zm-1 1h1v1h-1zm4 0h1v1h-1zm-5 1h1v3h-1zm6 0h1v3h-1zm-5 3h1v1h-1zm4 0h1v1h-1zm-3 1h3v1h-3zM306 297h3v1h-3zm-1 1h1v1h-1zm4 0h1v1h-1zm-5 1h1v3h-1zm6 0h1v3h-1zm-5 3h1v1h-1zm4 0h1v1h-1zm-3 1h3v1h-3zM272 303h3v1h-3zm-1 1h1v1h-1zm4 0h1v1h-1zm-5 1h1v3h-1zm6 0h1v3h-1zm-5 3h1v1h-1zm4 0h1v1h-1zm-3 1h3v1h-3zM245 292h3v1h-3zm-1 1h1v1h-1zm4 0h1v1h-1zm-5 1h1v3h-1zm6 0h1v3h-1zm-5 3h1v1h-1zm4 0h1v1h-1zm-3 1h3v1h-3zM313 303h3v1h-3zm-1 1h1v1h-1zm4 0h1v1h-1zm-5 1h1v3h-1zm6 0h1v3h-1zm-5 3h1v1h-1zm4 0h1v1h-1zm-3 1h3v1h-3zM249 294h3v1h-3zm-1 1h1v1h-1zm4 0h1v1h-1zm-5 1h1v3h-1zm6 0h1v3h-1zm-5 3h1v1h-1zm4 0h1v1h-1zm-3 1h3v1h-3zM265 302h3v1h-3zm-1 1h1v1h-1zm4 0h1v1h-1zm-5 1h1v3h-1zm6 0h1v3h-1zm-5 3h1v1h-1zm4 0h1v1h-1zm-3 1h3v1h-3zM286 306h3v1h-3zm-1 1h1v1h-1zm4 0h1v1h-1zm-5 1h1v3h-1zm6 0h1v3h-1zm-5 3h1v1h-1zm4 0h1v1h-1zm-3 1h3v1h-3zM302 298h3v1h-3zm-1 1h1v1h-1zm4 0h1v1h-1zm-5 1h1v3h-1zm6 0h1v3h-1zm-5 3h1v1h-1zm4 0h1v1h-1zm-3 1h3v1h-3zM296 304h3v1h-3zm-1 1h1v1h-1zm4 0h1v1h-1zm-5 1h1v3h-1zm6 0h1v3h-1zm-5 3h1v1h-1zm4 0h1v1h-1zm-3 1h3v1h-3zM297 297h3v1h-3zm-1 1h1v1h-1zm4 0h1v1h-1zm-5 1h1v3h-1zm6 0h1v3h-1zm-5 3h1v1h-1zm4 0h1v1h-1zm-3 1h3v1h-3zM299 303h3v1h-3zm-1 1h1v1h-1zm4 0h1v1h-1zm-5 1h1v3h-1zm6 0h1v3h-1zm-5 3h1v1h-1zm4 0h1v1h-1zm-3 1h3v1h-3zM298 300h3v1h-3zm-1 1h1v1h-1zm4 0h1v1h-1zm-5 1h1v3h-1zm6 0h1v3h-1zm-5 3h1v1h-1zm4 0h1v1h-1zm-3 1h3v1h-3zM276 309h3v1h-3zm-1 1h1v1h-1zm4 0h1v1h-1zm-5 1h1v3h-1zm6 0h1v3h-1zm-5 3h1v1h-1zm4 0h1v1h-1zm-3 1h3v1h-3zM282 296h3v1h-3zm-1 1h1v1h-1zm4 0h1v1h-1zm-5 1h1v3h-1zm6 0h1v3h-1zm-5 3h1v1h-1zm4 0h1v1h-1zm-3 1h3v1h-3zM299 307h3v1h-3zm-1 1h1v1h-1zm4 0h1v1h-1zm-5 1h1v3h-1zm6 0h1v3h-1zm-5 3h1v1h-1zm4 0h1v1h-1zm-3 1h3v1h-3zM285 295h3v1h-3zm-1 1h1v1h-1zm4 0h1v1h-1zm-5 1h1v3h-1zm6 0h1v3h-1zm-5 3h1v1h-1zm4 0h1v1h-1zm-3 1h3v1h-3zM273 297h3v1h-3zm-1 1h1v1h-1zm4 0h1v1h-1zm-5 1h1v3h-1zm6 0h1v3h-1zm-5 3h1v1h-1zm4 0h1v1h-1zm-3 1h3v1h-3zM294 293h3v1h-3zm-1 1h1v1h-1zm4 0h1v1h-1zm-5 1h1v3h-1zm6 0h1v3h-1zm-5 3h1v1h-1zm4 0h1v1h-1zm-3 1h3v1h-3zM268 299h3v1h-3zm-1 1h1v1h-1zm4 0h1v1h-1zm-5 1h1v3h-1zm6 0h1v3h-1zm-5 3h1v1h-1zm4 0h1v1h-1zm-3 1h3v1h-3zM267 294h3v1h-3zm-1 1h1v1h-1zm4 0h1v1h-1zm-5 1h1v3h-1zm6 0h1v3h-1zm-5 3h1v1h-1zm4 0h1v1h-1zm-3 1h3v1h-3zM299 306h3v1h-3zm-1 1h1v1h-1zm4 0h1v1h-1zm-5 1h1v3h-1zm6 0h1v3h-1zm-5 3h1v1h-1zm4 0h1v1h-1zm-3 1h3v1h-3zM276 297h3v1h-3zm-1 1h1v1h-1zm4 0h1v1h-1zm-5 1h1v3h-1zm6 0h1v3h-1zm-5 3h1v1h-1zm4 0h1v1h-1zm-3 1h3v1h-3zM251 293h3v1h-3zm-1 1h1v1h-1zm4 0h1v1h-1zm-5 1h1v3h-1zm6 0h1v3h-1zm-5 3h1v1h-1zm4 0h1v1h-1zm-3 1h3v1h-3zM310 294h3v1h-3zm-1 1h1v1h-1zm4 0h1v1h-1zm-5 1h1v3h-1zm6 0h1v3h-1zm-5 3h1v1h-1zm4 0h1v1h-1zm-3 1h3v1h-3zM304 306h3v1h-3zm-1 1h1v1h-1zm4 0h1v1h-1zm-5 1h1v3h-1zm6 0h1v3h-1zm-5 3h1v1h-1zm4 0h1v1h-1zm-3 1h3v1h-3zM271 307h3v1h-3zm-1 1h1v1h-1zm4 0h1v1h-1zm-5 1h1v3h-1zm6 0h1v3h-1zm-5 3h1v1h-1zm4 0h1v1h-1zm-3 1h3v1h-3zM237 287h3v1h-3zm-1 1h1v1h-1zm4 0h1v1h-1zm-5 1h1v3h-1zm6 0h1v3h-1zm-5 3h1v1h-1zm4 0h1v1h-1zm-3 1h3v1h-3zM282 298h3v1h-3zm-1 1h1v1h-1zm4 0h1v1h-1zm-5 1h1v3h-1zm6 0h1v3h-1zm-5 3h1v1h-1zm4 0h1v1h-1zm-3 1h3v1h-3zM310 304h3v1h-3zm-1 1h1v1h-1zm4 0h1v1h-1zm-5 1h1v3h-1zm6 0h1v3h-1zm-5 3h1v1h-1zm4 0h1v1h-1zm-3 1h3v1h-3zM278 298h3v1h-3zm-1 1h1v1h-1zm4 0h1v1h-1zm-5 1h1v3h-1zm6 0h1v3h-1zm-5 3h1v1h-1zm4 0h1v1h-1zm-3 1h3v1h-3zM291 295h3v1h-3zm-1 1h1v1h-1zm4 0h1v1h-1zm-5 1h1v3h-1zm6 0h1v3h-1zm-5 3h1v1h-1zm4 0h1v1h-1zm-3 1h3v1h-3zM265 300h3v1h-3zm-1 1h1v1h-1zm4 0h1v1h-1zm-5 1h1v3h-1zm6 0h1v3h-1zm-5 3h1v1h-1zm4 0h1v1h-1zm-3 1h3v1h-3zM291 299h3v1h-3zm-1 1h1v1h-1zm4 0h1v1h-1zm-5 1h1v3h-1zm6 0h1v3h-1zm-5 3h1v1h-1zm4 0h1v1h-1zm-3 1h3v1h-3zM269 299h3v1h-3zm-1 1h1v1h-1zm4 0h1v1h-1zm-5 1h1v3h-1zm6 0h1v3h-1zm-5 3h1v1h-1zm4 0h1v1h-1zm-3 1h3v1h-3zM282 307h3v1h-3zm-1 1h1v1h-1zm4 0h1v1h-1zm-5 1h1v3h-1zm6 0h1v3h-1zm-5 3h1v1h-1zm4 0h1v1h-1zm-3 1h3v1h-3zM314 298h3v1h-3zm-1 1h1v1h-1zm4 0h1v1h-1zm-5 1h1v3h-1zm6 0h1v3h-1zm-5 3h1v1h-1zm4 0h1v1h-1zm-3 1h3v1h-3zM272 301h3v1h-3zm-1 1h1v1h-1zm4 0h1v1h-1zm-5 1h1v3h-1zm6 0h1v3h-1zm-5 3h1v1h-1zm4 0h1v1h-1zm-3 1h3v1h-3zM316 294h3v1h-3zm-1 1h1v1h-1zm4 0h1v1h-1zm-5 1h1v3h-1zm6 0h1v3h-1zm-5 3h1v1h-1zm4 0h1v1h-1zm-3 1h3v1h-3zM279 305h3v1h-3zm-1 1h1v1h-1zm4 0h1v1h-1zm-5 1h1v3h-1zm6 0h1v3h-1zm-5 3h1v1h-1zm4 0h1v1h-1zm-3 1h3v1h-3zM250 294h3v1h-3zm-1 1h1v1h-1zm4 0h1v1h-1zm-5 1h1v3h-1zm6 0h1v3h-1zm-5 3h1v1h-1zm4 0h1v1h-1zm-3 1h3v1h-3zM315 305h3v1h-3zm-1 1h1v1h-1zm4 0h1v1h-1zm-5 1h1v3h-1zm6 0h1v3h-1zm-5 3h1v1h-1zm4 0h1v1h-1zm-3 1h3v1h-3zM308 302h3v1h-3zm-1 1h1v1h-1zm4 0h1v1h-1zm-5 1h1v3h-1zm6 0h1v3h-1zm-5 3h1v1h-1zm4 0h1v1h-1zm-3 1h3v1h-3zM308 296h3v1h-3zm-1 1h1v1h-1zm4 0h1v1h-1zm-5 1h1v3h-1zm6 0h1v3h-1zm-5 3h1v1h-1zm4 0h1v1h-1zm-3 1h3v1h-3zM249 293h3v1h-3zm-1 1h1v1h-1zm4 0h1v1h-1zm-5 1h1v3h-1zm6 0h1v3h-1zm-5 3h1v1h-1zm4 0h1v1h-1zm-3 1h3v1h-3zM277 298h3v1h-3zm-1 1h1v1h-1zm4 0h1v1h-1zm-5 1h1v3h-1zm6 0h1v3h-1zm-5 3h1v1h-1zm4 0h1v1h-1zm-3 1h3v1h-3zM252 291h3v1h-3zm-1 1h1v1h-1zm4 0h1v1h-1zm-5 1h1v3h-1zm6 0h1v3h-1zm-5 3h1v1h-1zm4 0h1v1h-1zm-3 1h3v1h-3zM287 300h3v1h-3zm-1 1h1v1h-1zm4 0h1v1h-1zm-5 1h1v3h-1zm6 0h1v3h-1zm-5 3h1v1h-1zm4 0h1v1h-1zm-3 1h3v1h-3zM269 305h3v1h-3zm-1 1h1v1h-1zm4 0h1v1h-1zm-5 1h1v3h-1zm6 0h1v3h-1zm-5 3h1v1h-1zm4 0h1v1h-1zm-3 1h3v1h-3zM261 302h3v1h-3zm-1 1h1v1h-1zm4 0h1v1h-1zm-5 1h1v3h-1zm6 0h1v3h-1zm-5 3h1v1h-1zm4 0h1v1h-1zm-3 1h3v1h-3zM276 299h3v1h-3zm-1 1h1v1h-1zm4 0h1v1h-1zm-5 1h1v3h-1zm6 0h1v3h-1zm-5 3h1v1h-1zm4 0h1v1h-1zm-3 1h3v1h-3zM258 301h3v1h-3zm-1 1h1v1h-1zm4 0h1v1h-1zm-5 1h1v3h-1zm6 0h1v3h-1zm-5 3h1v1h-1zm4 0h1v1h-1zm-3 1h3v1h-3zM279 309h3v1h-3zm-1 1h1v1h-1zm4 0h1v1h-1zm-5 1h1v3h-1zm6 0h1v3h-1zm-5 3h1v1h-1zm4 0h1v1h-1zm-3 1h3v1h-3zM246 290h3v1h-3zm-1 1h1v1h-1zm4 0h1v1h-1zm-5 1h1v3h-1zm6 0h1v3h-1zm-5 3h1v1h-1zm4 0h1v1h-1zm-3 1h3v1h-3zM245 290h3v1h-3zm-1 1h1v1h-1zm4 0h1v1h-1zm-5 1h1v3h-1zm6 0h1v3h-1zm-5 3h1v1h-1zm4 0h1v1h-1zm-3 1h3v1h-3zM278 305h3v1h-3zm-1 1h1v1h-1zm4 0h1v1h-1zm-5 1h1v3h-1zm6 0h1v3h-1zm-5 3h1v1h-1zm4 0h1v1h-1zm-3 1h3v1h-3zM286 305h3v1h-3zm-1 1h1v1h-1zm4 0h1v1h-1zm-5 1h1v3h-1zm6 0h1v3h-1zm-5 3h1v1h-1zm4 0h1v1h-1zm-3 1h3v1h-3zM298 294h3v1h-3zm-1 1h1v1h-1zm4 0h1v1h-1zm-5 1h1v3h-1zm6 0h1v3h-1zm-5 3h1v1h-1zm4 0h1v1h-1zm-3 1h3v1h-3zM294 295h3v1h-3zm-1 1h1v1h-1zm4 0h1v1h-1zm-5 1h1v3h-1zm6 0h1v3h-1zm-5 3h1v1h-1zm4 0h1v1h-1zm-3 1h3v1h-3zM250 293h3v1h-3zm-1 1h1v1h-1zm4 0h1v1h-1zm-5 1h1v3h-1zm6 0h1v3h-1zm-5 3h1v1h-1zm4 0h1v1h-1zm-3 1h3v1h-3zM283 294h3v1h-3zm-1 1h1v1h-1zm4 0h1v1h-1zm-5 1h1v3h-1zm6 0h1v3h-1zm-5 3h1v1h-1zm4 0h1v1h-1zm-3 1h3v1h-3zM272 295h3v1h-3zm-1 1h1v1h-1zm4 0h1v1h-1zm-5 1h1v3h-1zm6 0h1v3h-1zm-5 3h1v1h-1zm4 0h1v1h-1zm-3 1h3v1h-3zM311 306h3v1h-3zm-1 1h1v1h-1zm4 0h1v1h-1zm-5 1h1v3h-1zm6 0h1v3h-1zm-5 3h1v1h-1zm4 0h1v1h-1zm-3 1h3v1h-3zM302 293h3v1h-3zm-1 1h1v1h-1zm4 0h1v1h-1zm-5 1h1v3h-1zm6 0h1v3h-1zm-5 3h1v1h-1zm4 0h1v1h-1zm-3 1h3v1h-3zM276 308h3v1h-3zm-1 1h1v1h-1zm4 0h1v1h-1zm-5 1h1v3h-1zm6 0h1v3h-1zm-5 3h1v1h-1zm4 0h1v1h-1zm-3 1h3v1h-3zM256 295h3v1h-3zm-1 1h1v1h-1zm4 0h1v1h-1zm-5 1h1v3h-1zm6 0h1v3h-1zm-5 3h1v1h-1zm4 0h1v1h-1zm-3 1h3v1h-3zM275 305h3v1h-3zm-1 1h1v1h-1zm4 0h1v1h-1zm-5 1h1v3h-1zm6 0h1v3h-1zm-5 3h1v1h-1zm4 0h1v1h-1zm-3 1h3v1h-3zM256 290h3v1h-3zm-1 1h1v1h-1zm4 0h1v1h-1zm-5 1h1v3h-1zm6 0h1v3h-1zm-5 3h1v1h-1zm4 0h1v1h-1zm-3 1h3v1h-3zM265 291h3v1h-3zm-1 1h1v1h-1zm4 0h1v1h-1zm-5 1h1v3h-1zm6 0h1v3h-1zm-5 3h1v1h-1zm4 0h1v1h-1zm-3 1h3v1h-3zM314 293h3v1h-3zm-1 1h1v1h-1zm4 0h1v1h-1zm-5 1h1v3h-1zm6 0h1v3h-1zm-5 3h1v1h-1zm4 0h1v1h-1zm-3 1h3v1h-3zM279 295h3v1h-3zm-1 1h1v1h-1zm4 0h1v1h-1zm-5 1h1v3h-1zm6 0h1v3h-1zm-5 3h1v1h-1zm4 0h1v1h-1zm-3 1h3v1h-3zM265 292h3v1h-3zm-1 1h1v1h-1zm4 0h1v1h-1zm-5 1h1v3h-1zm6 0h1v3h-1zm-5 3h1v1h-1zm4 0h1v1h-1zm-3 1h3v1h-3zM252 293h3v1h-3zm-1 1h1v1h-1zm4 0h1v1h-1zm-5 1h1v3h-1zm6 0h1v3h-1zm-5 3h1v1h-1zm4 0h1v1h-1zm-3 1h3v1h-3zM290 294h3v1h-3zm-1 1h1v1h-1zm4 0h1v1h-1zm-5 1h1v3h-1zm6 0h1v3h-1zm-5 3h1v1h-1zm4 0h1v1h-1zm-3 1h3v1h-3zM272 306h3v1h-3zm-1 1h1v1h-1zm4 0h1v1h-1zm-5 1h1v3h-1zm6 0h1v3h-1zm-5 3h1v1h-1zm4 0h1v1h-1zm-3 1h3v1h-3zM265 303h3v1h-3zm-1 1h1v1h-1zm4 0h1v1h-1zm-5 1h1v3h-1zm6 0h1v3h-1zm-5 3h1v1h-1zm4 0h1v1h-1zm-3 1h3v1h-3zM277 292h3v1h-3zm-1 1h1v1h-1zm4 0h1v1h-1zm-5 1h1v3h-1zm6 0h1v3h-1zm-5 3h1v1h-1zm4 0h1v1h-1zm-3 1h3v1h-3zM293 292h3v1h-3zm-1 1h1v1h-1zm4 0h1v1h-1zm-5 1h1v3h-1zm6 0h1v3h-1zm-5 3h1v1h-1zm4 0h1v1h-1zm-3 1h3v1h-3zM308 300h3v1h-3zm-1 1h1v1h-1zm4 0h1v1h-1zm-5 1h1v3h-1zm6 0h1v3h-1zm-5 3h1v1h-1zm4 0h1v1h-1zm-3 1h3v1h-3zM266 292h3v1h-3zm-1 1h1v1h-1zm4 0h1v1h-1zm-5 1h1v3h-1zm6 0h1v3h-1zm-5 3h1v1h-1zm4 0h1v1h-1zm-3 1h3v1h-3zM285 291h3v1h-3zm-1 1h1v1h-1zm4 0h1v1h-1zm-5 1h1v3h-1zm6 0h1v3h-1zm-5 3h1v1h-1zm4 0h1v1h-1zm-3 1h3v1h-3zM278 299h3v1h-3zm-1 1h1v1h-1zm4 0h1v1h-1zm-5 1h1v3h-1zm6 0h1v3h-1zm-5 3h1v1h-1zm4 0h1v1h-1zm-3 1h3v1h-3zM258 304h3v1h-3zm-1 1h1v1h-1zm4 0h1v1h-1zm-5 1h1v3h-1zm6 0h1v3h-1zm-5 3h1v1h-1zm4 0h1v1h-1zm-3 1h3v1h-3zM267 302h3v1h-3zm-1 1h1v1h-1zm4 0h1v1h-1zm-5 1h1v3h-1zm6 0h1v3h-1zm-5 3h1v1h-1zm4 0h1v1h-1zm-3 1h3v1h-3zM282 294h3v1h-3zm-1 1h1v1h-1zm4 0h1v1h-1zm-5 1h1v3h-1zm6 0h1v3h-1zm-5 3h1v1h-1zm4 0h1v1h-1zm-3 1h3v1h-3zM262 302h3v1h-3zm-1 1h1v1h-1zm4 0h1v1h-1zm-5 1h1v3h-1zm6 0h1v3h-1zm-5 3h1v1h-1zm4 0h1v1h-1zm-3 1h3v1h-3zM265 298h3v1h-3zm-1 1h1v1h-1zm4 0h1v1h-1zm-5 1h1v3h-1zm6 0h1v3h-1zm-5 3h1v1h-1zm4 0h1v1h-1zm-3 1h3v1h-3zM259 296h3v1h-3zm-1 1h1v1h-1zm4 0h1v1h-1zm-5 1h1v3h-1zm6 0h1v3h-1zm-5 3h1v1h-1zm4 0h1v1h-1zm-3 1h3v1h-3zM309 304h3v1h-3zm-1 1h1v1h-1zm4 0h1v1h-1zm-5 1h1v3h-1zm6 0h1v3h-1zm-5 3h1v1h-1zm4 0h1v1h-1zm-3 1h3v1h-3zM307 306h3v1h-3zm-1 1h1v1h-1zm4 0h1v1h-1zm-5 1h1v3h-1zm6 0h1v3h-1zm-5 3h1v1h-1zm4 0h1v1h-1zm-3 1h3v1h-3zM247 293h3v1h-3zm-1 1h1v1h-1zm4 0h1v1h-1zm-5 1h1v3h-1zm6 0h1v3h-1zm-5 3h1v1h-1zm4 0h1v1h-1zm-3 1h3v1h-3zM290 295h3v1h-3zm-1 1h1v1h-1zm4 0h1v1h-1zm-5 1h1v3h-1zm6 0h1v3h-1zm-5 3h1v1h-1zm4 0h1v1h-1zm-3 1h3v1h-3zM270 302h3v1h-3zm-1 1h1v1h-1zm4 0h1v1h-1zm-5 1h1v3h-1zm6 0h1v3h-1zm-5 3h1v1h-1zm4 0h1v1h-1zm-3 1h3v1h-3zM292 292h3v1h-3zm-1 1h1v1h-1zm4 0h1v1h-1zm-5 1h1v3h-1zm6 0h1v3h-1zm-5 3h1v1h-1zm4 0h1v1h-1zm-3 1h3v1h-3zM304 295h3v1h-3zm-1 1h1v1h-1zm4 0h1v1h-1zm-5 1h1v3h-1zm6 0h1v3h-1zm-5 3h1v1h-1zm4 0h1v1h-1zm-3 1h3v1h-3zM295 303h3v1h-3zm-1 1h1v1h-1zm4 0h1v1h-1zm-5 1h1v3h-1zm6 0h1v3h-1zm-5 3h1v1h-1zm4 0h1v1h-1zm-3 1h3v1h-3zM240 287h3v1h-3zm-1 1h1v1h-1zm4 0h1v1h-1zm-5 1h1v3h-1zm6 0h1v3h-1zm-5 3h1v1h-1zm4 0h1v1h-1zm-3 1h3v1h-3zM249 291h3v1h-3zm-1 1h1v1h-1zm4 0h1v1h-1zm-5 1h1v3h-1zm6 0h1v3h-1zm-5 3h1v1h-1zm4 0h1v1h-1zm-3 1h3v1h-3zM261 295h3v1h-3zm-1 1h1v1h-1zm4 0h1v1h-1zm-5 1h1v3h-1zm6 0h1v3h-1zm-5 3h1v1h-1zm4 0h1v1h-1zm-3 1h3v1h-3zM294 292h3v1h-3zm-1 1h1v1h-1zm4 0h1v1h-1zm-5 1h1v3h-1zm6 0h1v3h-1zm-5 3h1v1h-1zm4 0h1v1h-1zm-3 1h3v1h-3zM271 302h3v1h-3zm-1 1h1v1h-1zm4 0h1v1h-1zm-5 1h1v3h-1zm6 0h1v3h-1zm-5 3h1v1h-1zm4 0h1v1h-1zm-3 1h3v1h-3zM303 304h3v1h-3zm-1 1h1v1h-1zm4 0h1v1h-1zm-5 1h1v3h-1zm6 0h1v3h-1zm-5 3h1v1h-1zm4 0h1v1h-1zm-3 1h3v1h-3zM305 300h3v1h-3zm-1 1h1v1h-1zm4 0h1v1h-1zm-5 1h1v3h-1zm6 0h1v3h-1zm-5 3h1v1h-1zm4 0h1v1h-1zm-3 1h3v1h-3zM292 295h3v1h-3zm-1 1h1v1h-1zm4 0h1v1h-1zm-5 1h1v3h-1zm6 0h1v3h-1zm-5 3h1v1h-1zm4 0h1v1h-1zm-3 1h3v1h-3zM296 306h3v1h-3zm-1 1h1v1h-1zm4 0h1v1h-1zm-5 1h1v3h-1zm6 0h1v3h-1zm-5 3h1v1h-1zm4 0h1v1h-1zm-3 1h3v1h-3zM312 296h3v1h-3zm-1 1h1v1h-1zm4 0h1v1h-1zm-5 1h1v3h-1zm6 0h1v3h-1zm-5 3h1v1h-1zm4 0h1v1h-1zm-3 1h3v1h-3zM311 302h3v1h-3zm-1 1h1v1h-1zm4 0h1v1h-1zm-5 1h1v3h-1zm6 0h1v3h-1zm-5 3h1v1h-1zm4 0h1v1h-1zm-3 1h3v1h-3zM287 297h3v1h-3zm-1 1h1v1h-1zm4 0h1v1h-1zm-5 1h1v3h-1zm6 0h1v3h-1zm-5 3h1v1h-1zm4 0h1v1h-1zm-3 1h3v1h-3zM293 305h3v1h-3zm-1 1h1v1h-1zm4 0h1v1h-1zm-5 1h1v3h-1zm6 0h1v3h-1zm-5 3h1v1h-1zm4 0h1v1h-1zm-3 1h3v1h-3zM257 299h3v1h-3zm-1 1h1v1h-1zm4 0h1v1h-1zm-5 1h1v3h-1zm6 0h1v3h-1zm-5 3h1v1h-1zm4 0h1v1h-1zm-3 1h3v1h-3zM314 301h3v1h-3zm-1 1h1v1h-1zm4 0h1v1h-1zm-5 1h1v3h-1zm6 0h1v3h-1zm-5 3h1v1h-1zm4 0h1v1h-1zm-3 1h3v1h-3zM280 292h3v1h-3zm-1 1h1v1h-1zm4 0h1v1h-1zm-5 1h1v3h-1zm6 0h1v3h-1zm-5 3h1v1h-1zm4 0h1v1h-1zm-3 1h3v1h-3zM269 291h3v1h-3zm-1 1h1v1h-1zm4 0h1v1h-1zm-5 1h1v3h-1zm6 0h1v3h-1zm-5 3h1v1h-1zm4 0h1v1h-1zm-3 1h3v1h-3zM261 290h3v1h-3zm-1 1h1v1h-1zm4 0h1v1h-1zm-5 1h1v3h-1zm6 0h1v3h-1zm-5 3h1v1h-1zm4 0h1v1h-1zm-3 1h3v1h-3zM293 302h3v1h-3zm-1 1h1v1h-1zm4 0h1v1h-1zm-5 1h1v3h-1zm6 0h1v3h-1zm-5 3h1v1h-1zm4 0h1v1h-1zm-3 1h3v1h-3zM256 292h3v1h-3zm-1 1h1v1h-1zm4 0h1v1h-1zm-5 1h1v3h-1zm6 0h1v3h-1zm-5 3h1v1h-1zm4 0h1v1h-1zm-3 1h3v1h-3zM278 297h3v1h-3zm-1 1h1v1h-1zm4 0h1v1h-1zm-5 1h1v3h-1zm6 0h1v3h-1zm-5 3h1v1h-1zm4 0h1v1h-1zm-3 1h3v1h-3zM311 295h3v1h-3zm-1 1h1v1h-1zm4 0h1v1h-1zm-5 1h1v3h-1zm6 0h1v3h-1zm-5 3h1v1h-1zm4 0h1v1h-1zm-3 1h3v1h-3zM280 304h3v1h-3zm-1 1h1v1h-1zm4 0h1v1h-1zm-5 1h1v3h-1zm6 0h1v3h-1zm-5 3h1v1h-1zm4 0h1v1h-1zm-3 1h3v1h-3zM284 297h3v1h-3zm-1 1h1v1h-1zm4 0h1v1h-1zm-5 1h1v3h-1zm6 0h1v3h-1zm-5 3h1v1h-1zm4 0h1v1h-1zm-3 1h3v1h-3zM298 306h3v1h-3zm-1 1h1v1h-1zm4 0h1v1h-1zm-5 1h1v3h-1zm6 0h1v3h-1zm-5 3h1v1h-1zm4 0h1v1h-1zm-3 1h3v1h-3zM246 293h3v1h-3zm-1 1h1v1h-1zm4 0h1v1h-1zm-5 1h1v3h-1zm6 0h1v3h-1zm-5 3h1v1h-1zm4 0h1v1h-1zm-3 1h3v1h-3zM262 297h3v1h-3zm-1 1h1v1h-1zm4 0h1v1h-1zm-5 1h1v3h-1zm6 0h1v3h-1zm-5 3h1v1h-1zm4 0h1v1h-1zm-3 1h3v1h-3zM316 304h3v1h-3zm-1 1h1v1h-1zm4 0h1v1h-1zm-5 1h1v3h-1zm6 0h1v3h-1zm-5 3h1v1h-1zm4 0h1v1h-1zm-3 1h3v1h-3zM315 299h3v1h-3zm-1 1h1v1h-1zm4 0h1v1h-1zm-5 1h1v3h-1zm6 0h1v3h-1zm-5 3h1v1h-1zm4 0h1v1h-1zm-3 1h3v1h-3zM271 291h3v1h-3zm-1 1h1v1h-1zm4 0h1v1h-1zm-5 1h1v3h-1zm6 0h1v3h-1zm-5 3h1v1h-1zm4 0h1v1h-1zm-3 1h3v1h-3zM310 301h3v1h-3zm-1 1h1v1h-1zm4 0h1v1h-1zm-5 1h1v3h-1zm6 0h1v3h-1zm-5 3h1v1h-1zm4 0h1v1h-1zm-3 1h3v1h-3zM289 292h3v1h-3zm-1 1h1v1h-1zm4 0h1v1h-1zm-5 1h1v3h-1zm6 0h1v3h-1zm-5 3h1v1h-1zm4 0h1v1h-1zm-3 1h3v1h-3zM304 293h3v1h-3zm-1 1h1v1h-1zm4 0h1v1h-1zm-5 1h1v3h-1zm6 0h1v3h-1zm-5 3h1v1h-1zm4 0h1v1h-1zm-3 1h3v1h-3zM263 291h3v1h-3zm-1 1h1v1h-1zm4 0h1v1h-1zm-5 1h1v3h-1zm6 0h1v3h-1zm-5 3h1v1h-1zm4 0h1v1h-1zm-3 1h3v1h-3zM303 294h3v1h-3zm-1 1h1v1h-1zm4 0h1v1h-1zm-5 1h1v3h-1zm6 0h1v3h-1zm-5 3h1v1h-1zm4 0h1v1h-1zm-3 1h3v1h-3zM266 299h3v1h-3zm-1 1h1v1h-1zm4 0h1v1h-1zm-5 1h1v3h-1zm6 0h1v3h-1zm-5 3h1v1h-1zm4 0h1v1h-1zm-3 1h3v1h-3zM266 306h3v1h-3zm-1 1h1v1h-1zm4 0h1v1h-1zm-5 1h1v3h-1zm6 0h1v3h-1zm-5 3h1v1h-1zm4 0h1v1h-1zm-3 1h3v1h-3zM302 303h3v1h-3zm-1 1h1v1h-1zm4 0h1v1h-1zm-5 1h1v3h-1zm6 0h1v3h-1zm-5 3h1v1h-1zm4 0h1v1h-1zm-3 1h3v1h-3zM244 287h3v1h-3zm-1 1h1v1h-1zm4 0h1v1h-1zm-5 1h1v3h-1zm6 0h1v3h-1zm-5 3h1v1h-1zm4 0h1v1h-1zm-3 1h3v1h-3zM272 291h3v1h-3zm-1 1h1v1h-1zm4 0h1v1h-1zm-5 1h1v3h-1zm6 0h1v3h-1zm-5 3h1v1h-1zm4 0h1v1h-1zm-3 1h3v1h-3zM299 296h3v1h-3zm-1 1h1v1h-1zm4 0h1v1h-1zm-5 1h1v3h-1zm6 0h1v3h-1zm-5 3h1v1h-1zm4 0h1v1h-1zm-3 1h3v1h-3zM259 302h3v1h-3zm-1 1h1v1h-1zm4 0h1v1h-1zm-5 1h1v3h-1zm6 0h1v3h-1zm-5 3h1v1h-1zm4 0h1v1h-1zm-3 1h3v1h-3zM264 297h3v1h-3zm-1 1h1v1h-1zm4 0h1v1h-1zm-5 1h1v3h-1zm6 0h1v3h-1zm-5 3h1v1h-1zm4 0h1v1h-1zm-3 1h3v1h-3zM260 297h3v1h-3zm-1 1h1v1h-1zm4 0h1v1h-1zm-5 1h1v3h-1zm6 0h1v3h-1zm-5 3h1v1h-1zm4 0h1v1h-1zm-3 1h3v1h-3zM252 288h3v1h-3zm-1 1h1v1h-1zm4 0h1v1h-1zm-5 1h1v3h-1zm6 0h1v3h-1zm-5 3h1v1h-1zm4 0h1v1h-1zm-3 1h3v1h-3zM313 301h3v1h-3zm-1 1h1v1h-1zm4 0h1v1h-1zm-5 1h1v3h-1zm6 0h1v3h-1zm-5 3h1v1h-1zm4 0h1v1h-1zm-3 1h3v1h-3zM291 300h3v1h-3zm-1 1h1v1h-1zm4 0h1v1h-1zm-5 1h1v3h-1zm6 0h1v3h-1zm-5 3h1v1h-1zm4 0h1v1h-1zm-3 1h3v1h-3zM260 300h3v1h-3zm-1 1h1v1h-1zm4 0h1v1h-1zm-5 1h1v3h-1zm6 0h1v3h-1zm-5 3h1v1h-1zm4 0h1v1h-1zm-3 1h3v1h-3zM313 297h3v1h-3zm-1 1h1v1h-1zm4 0h1v1h-1zm-5 1h1v3h-1zm6 0h1v3h-1zm-5 3h1v1h-1zm4 0h1v1h-1zm-3 1h3v1h-3zM291 297h3v1h-3zm-1 1h1v1h-1zm4 0h1v1h-1zm-5 1h1v3h-1zm6 0h1v3h-1zm-5 3h1v1h-1zm4 0h1v1h-1zm-3 1h3v1h-3zM266 300h3v1h-3zm-1 1h1v1h-1zm4 0h1v1h-1zm-5 1h1v3h-1zm6 0h1v3h-1zm-5 3h1v1h-1zm4 0h1v1h-1zm-3 1h3v1h-3zM270 299h3v1h-3zm-1 1h1v1h-1zm4 0h1v1h-1zm-5 1h1v3h-1zm6 0h1v3h-1zm-5 3h1v1h-1zm4 0h1v1h-1zm-3 1h3v1h-3zM246 291h3v1h-3zm-1 1h1v1h-1zm4 0h1v1h-1zm-5 1h1v3h-1zm6 0h1v3h-1zm-5 3h1v1h-1zm4 0h1v1h-1zm-3 1h3v1h-3zM308 299h3v1h-3zm-1 1h1v1h-1zm4 0h1v1h-1zm-5 1h1v3h-1zm6 0h1v3h-1zm-5 3h1v1h-1zm4 0h1v1h-1zm-3 1h3v1h-3zM279 292h3v1h-3zm-1 1h1v1h-1zm4 0h1v1h-1zm-5 1h1v3h-1zm6 0h1v3h-1zm-5 3h1v1h-1zm4 0h1v1h-1zm-3 1h3v1h-3zM255 300h3v1h-3zm-1 1h1v1h-1zm4 0h1v1h-1zm-5 1h1v3h-1zm6 0h1v3h-1zm-5 3h1v1h-1zm4 0h1v1h-1zm-3 1h3v1h-3zM281 303h3v1h-3zm-1 1h1v1h-1zm4 0h1v1h-1zm-5 1h1v3h-1zm6 0h1v3h-1zm-5 3h1v1h-1zm4 0h1v1h-1zm-3 1h3v1h-3zM316 303h3v1h-3zm-1 1h1v1h-1zm4 0h1v1h-1zm-5 1h1v3h-1zm6 0h1v3h-1zm-5 3h1v1h-1zm4 0h1v1h-1zm-3 1h3v1h-3zM313 299h3v1h-3zm-1 1h1v1h-1zm4 0h1v1h-1zm-5 1h1v3h-1zm6 0h1v3h-1zm-5 3h1v1h-1zm4 0h1v1h-1zm-3 1h3v1h-3zM255 295h3v1h-3zm-1 1h1v1h-1zm4 0h1v1h-1zm-5 1h1v3h-1zm6 0h1v3h-1zm-5 3h1v1h-1zm4 0h1v1h-1zm-3 1h3v1h-3zM254 293h3v1h-3zm-1 1h1v1h-1zm4 0h1v1h-1zm-5 1h1v3h-1zm6 0h1v3h-1zm-5 3h1v1h-1zm4 0h1v1h-1zm-3 1h3v1h-3zM293 296h3v1h-3zm-1 1h1v1h-1zm4 0h1v1h-1zm-5 1h1v3h-1zm6 0h1v3h-1zm-5 3h1v1h-1zm4 0h1v1h-1zm-3 1h3v1h-3zM308 301h3v1h-3zm-1 1h1v1h-1zm4 0h1v1h-1zm-5 1h1v3h-1zm6 0h1v3h-1zm-5 3h1v1h-1zm4 0h1v1h-1zm-3 1h3v1h-3zM306 299h3v1h-3zm-1 1h1v1h-1zm4 0h1v1h-1zm-5 1h1v3h-1zm6 0h1v3h-1zm-5 3h1v1h-1zm4 0h1v1h-1zm-3 1h3v1h-3zM310 307h3v1h-3zm-1 1h1v1h-1zm4 0h1v1h-1zm-5 1h1v3h-1zm6 0h1v3h-1zm-5 3h1v1h-1zm4 0h1v1h-1zm-3 1h3v1h-3zM264 304h3v1h-3zm-1 1h1v1h-1zm4 0h1v1h-1zm-5 1h1v3h-1zm6 0h1v3h-1zm-5 3h1v1h-1zm4 0h1v1h-1zm-3 1h3v1h-3zM280 305h3v1h-3zm-1 1h1v1h-1zm4 0h1v1h-1zm-5 1h1v3h-1zm6 0h1v3h-1zm-5 3h1v1h-1zm4 0h1v1h-1zm-3 1h3v1h-3zM291 292h3v1h-3zm-1 1h1v1h-1zm4 0h1v1h-1zm-5 1h1v3h-1zm6 0h1v3h-1zm-5 3h1v1h-1zm4 0h1v1h-1zm-3 1h3v1h-3zM252 297h3v1h-3zm-1 1h1v1h-1zm4 0h1v1h-1zm-5 1h1v3h-1zm6 0h1v3h-1zm-5 3h1v1h-1zm4 0h1v1h-1zm-3 1h3v1h-3zM260 302h3v1h-3zm-1 1h1v1h-1zm4 0h1v1h-1zm-5 1h1v3h-1zm6 0h1v3h-1zm-5 3h1v1h-1zm4 0h1v1h-1zm-3 1h3v1h-3zM307 299h3v1h-3zm-1 1h1v1h-1zm4 0h1v1h-1zm-5 1h1v3h-1zm6 0h1v3h-1zm-5 3h1v1h-1zm4 0h1v1h-1zm-3 1h3v1h-3zM277 307h3v1h-3zm-1 1h1v1h-1zm4 0h1v1h-1zm-5 1h1v3h-1zm6 0h1v3h-1zm-5 3h1v1h-1zm4 0h1v1h-1zm-3 1h3v1h-3zM306 301h3v1h-3zm-1 1h1v1h-1zm4 0h1v1h-1zm-5 1h1v3h-1zm6 0h1v3h-1zm-5 3h1v1h-1zm4 0h1v1h-1zm-3 1h3v1h-3zM250 295h3v1h-3zm-1 1h1v1h-1zm4 0h1v1h-1zm-5 1h1v3h-1zm6 0h1v3h-1zm-5 3h1v1h-1zm4 0h1v1h-1zm-3 1h3v1h-3zM274 300h3v1h-3zm-1 1h1v1h-1zm4 0h1v1h-1zm-5 1h1v3h-1zm6 0h1v3h-1zm-5 3h1v1h-1zm4 0h1v1h-1zm-3 1h3v1h-3zM268 295h3v1h-3zm-1 1h1v1h-1zm4 0h1v1h-1zm-5 1h1v3h-1zm6 0h1v3h-1zm-5 3h1v1h-1zm4 0h1v1h-1zm-3 1h3v1h-3zM240 290h3v1h-3zm-1 1h1v1h-1zm4 0h1v1h-1zm-5 1h1v3h-1zm6 0h1v3h-1zm-5 3h1v1h-1zm4 0h1v1h-1zm-3 1h3v1h-3zM290 293h3v1h-3zm-1 1h1v1h-1zm4 0h1v1h-1zm-5 1h1v3h-1zm6 0h1v3h-1zm-5 3h1v1h-1zm4 0h1v1h-1zm-3 1h3v1h-3zM258 298h3v1h-3zm-1 1h1v1h-1zm4 0h1v1h-1zm-5 1h1v3h-1zm6 0h1v3h-1zm-5 3h1v1h-1zm4 0h1v1h-1zm-3 1h3v1h-3zM257 300h3v1h-3zm-1 1h1v1h-1zm4 0h1v1h-1zm-5 1h1v3h-1zm6 0h1v3h-1zm-5 3h1v1h-1zm4 0h1v1h-1zm-3 1h3v1h-3zM334 314h3v1h-3zm-1 1h1v1h-1zm4 0h1v1h-1zm-5 1h1v3h-1zm6 0h1v3h-1zm-5 3h1v1h-1zm4 0h1v1h-1zm-3 1h3v1h-3zM334 312h3v1h-3zm-1 1h1v1h-1zm4 0h1v1h-1zm-5 1h1v3h-1zm6 0h1v3h-1zm-5 3h1v1h-1zm4 0h1v1h-1zm-3 1h3v1h-3zM337 312h3v1h-3zm-1 1h1v1h-1zm4 0h1v1h-1zm-5 1h1v3h-1zm6 0h1v3h-1zm-5 3h1v1h-1zm4 0h1v1h-1zm-3 1h3v1h-3zM335 310h3v1h-3zm-1 1h1v1h-1zm4 0h1v1h-1zm-5 1h1v3h-1zm6 0h1v3h-1zm-5 3h1v1h-1zm4 0h1v1h-1zm-3 1h3v1h-3zM332 306h3v1h-3zm-1 1h1v1h-1zm4 0h1v1h-1zm-5 1h1v3h-1zm6 0h1v3h-1zm-5 3h1v1h-1zm4 0h1v1h-1zm-3 1h3v1h-3zM337 311h3v1h-3zm-1 1h1v1h-1zm4 0h1v1h-1zm-5 1h1v3h-1zm6 0h1v3h-1zm-5 3h1v1h-1zm4 0h1v1h-1zm-3 1h3v1h-3zM332 312h3v1h-3zm-1 1h1v1h-1zm4 0h1v1h-1zm-5 1h1v3h-1zm6 0h1v3h-1zm-5 3h1v1h-1zm4 0h1v1h-1zm-3 1h3v1h-3zM335 309h3v1h-3zm-1 1h1v1h-1zm4 0h1v1h-1zm-5 1h1v3h-1zm6 0h1v3h-1zm-5 3h1v1h-1zm4 0h1v1h-1zm-3 1h3v1h-3zM335 307h3v1h-3zm-1 1h1v1h-1zm4 0h1v1h-1zm-5 1h1v3h-1zm6 0h1v3h-1zm-5 3h1v1h-1zm4 0h1v1h-1zm-3 1h3v1h-3zM334 308h3v1h-3zm-1 1h1v1h-1zm4 0h1v1h-1zm-5 1h1v3h-1zm6 0h1v3h-1zm-5 3h1v1h-1zm4 0h1v1h-1zm-3 1h3v1h-3zM330 307h3v1h-3zm-1 1h1v1h-1zm4 0h1v1h-1zm-5 1h1v3h-1zm6 0h1v3h-1zm-5 3h1v1h-1zm4 0h1v1h-1zm-3 1h3v1h-3zM332 314h3v1h-3zm-1 1h1v1h-1zm4 0h1v1h-1zm-5 1h1v3h-1zm6 0h1v3h-1zm-5 3h1v1h-1zm4 0h1v1h-1zm-3 1h3v1h-3zM333 307h3v1h-3zm-1 1h1v1h-1zm4 0h1v1h-1zm-5 1h1v3h-1zm6 0h1v3h-1zm-5 3h1v1h-1zm4 0h1v1h-1zm-3 1h3v1h-3zM331 306h3v1h-3zm-1 1h1v1h-1zm4 0h1v1h-1zm-5 1h1v3h-1zm6 0h1v3h-1zm-5 3h1v1h-1zm4 0h1v1h-1zm-3 1h3v1h-3zM332 305h3v1h-3zm-1 1h1v1h-1zm4 0h1v1h-1zm-5 1h1v3h-1zm6 0h1v3h-1zm-5 3h1v1h-1zm4 0h1v1h-1zm-3 1h3v1h-3zM329 313h3v1h-3zm-1 1h1v1h-1zm4 0h1v1h-1zm-5 1h1v3h-1zm6 0h1v3h-1zm-5 3h1v1h-1zm4 0h1v1h-1zm-3 1h3v1h-3zM333 308h3v1h-3zm-1 1h1v1h-1zm4 0h1v1h-1zm-5 1h1v3h-1zm6 0h1v3h-1zm-5 3h1v1h-1zm4 0h1v1h-1zm-3 1h3v1h-3zM334 307h3v1h-3zm-1 1h1v1h-1zm4 0h1v1h-1zm-5 1h1v3h-1zm6 0h1v3h-1zm-5 3h1v1h-1zm4 0h1v1h-1zm-3 1h3v1h-3zM162 316h3v1h-3zm-1 1h1v1h-1zm4 0h1v1h-1zm-5 1h1v3h-1zm6 0h1v3h-1zm-5 3h1v1h-1zm4 0h1v1h-1zm-3 1h3v1h-3zM167 320h3v1h-3zm-1 1h1v1h-1zm4 0h1v1h-1zm-5 1h1v3h-1zm6 0h1v3h-1zm-5 3h1v1h-1zm4 0h1v1h-1zm-3 1h3v1h-3zM181 323h3v1h-3zm-1 1h1v1h-1zm4 0h1v1h-1zm-5 1h1v3h-1zm6 0h1v3h-1zm-5 3h1v1h-1zm4 0h1v1h-1zm-3 1h3v1h-3zM188 320h3v1h-3zm-1 1h1v1h-1zm4 0h1v1h-1zm-5 1h1v3h-1zm6 0h1v3h-1zm-5 3h1v1h-1zm4 0h1v1h-1zm-3 1h3v1h-3zM188 324h3v1h-3zm-1 1h1v1h-1zm4 0h1v1h-1zm-5 1h1v3h-1zm6 0h1v3h-1zm-5 3h1v1h-1zm4 0h1v1h-1zm-3 1h3v1h-3zM159 317h3v1h-3zm-1 1h1v1h-1zm4 0h1v1h-1zm-5 1h1v3h-1zm6 0h1v3h-1zm-5 3h1v1h-1zm4 0h1v1h-1zm-3 1h3v1h-3zM176 331h3v1h-3zm-1 1h1v1h-1zm4 0h1v1h-1zm-5 1h1v3h-1zm6 0h1v3h-1zm-5 3h1v1h-1zm4 0h1v1h-1zm-3 1h3v1h-3zM169 327h3v1h-3zm-1 1h1v1h-1zm4 0h1v1h-1zm-5 1h1v3h-1zm6 0h1v3h-1zm-5 3h1v1h-1zm4 0h1v1h-1zm-3 1h3v1h-3zM171 329h3v1h-3zm-1 1h1v1h-1zm4 0h1v1h-1zm-5 1h1v3h-1zm6 0h1v3h-1zm-5 3h1v1h-1zm4 0h1v1h-1zm-3 1h3v1h-3zM159 322h3v1h-3zm-1 1h1v1h-1zm4 0h1v1h-1zm-5 1h1v3h-1zm6 0h1v3h-1zm-5 3h1v1h-1zm4 0h1v1h-1zm-3 1h3v1h-3zM187 319h3v1h-3zm-1 1h1v1h-1zm4 0h1v1h-1zm-5 1h1v3h-1zm6 0h1v3h-1zm-5 3h1v1h-1zm4 0h1v1h-1zm-3 1h3v1h-3zM165 315h3v1h-3zm-1 1h1v1h-1zm4 0h1v1h-1zm-5 1h1v3h-1zm6 0h1v3h-1zm-5 3h1v1h-1zm4 0h1v1h-1zm-3 1h3v1h-3zM162 319h3v1h-3zm-1 1h1v1h-1zm4 0h1v1h-1zm-5 1h1v3h-1zm6 0h1v3h-1zm-5 3h1v1h-1zm4 0h1v1h-1zm-3 1h3v1h-3zM180 318h3v1h-3zm-1 1h1v1h-1zm4 0h1v1h-1zm-5 1h1v3h-1zm6 0h1v3h-1zm-5 3h1v1h-1zm4 0h1v1h-1zm-3 1h3v1h-3zM170 318h3v1h-3zm-1 1h1v1h-1zm4 0h1v1h-1zm-5 1h1v3h-1zm6 0h1v3h-1zm-5 3h1v1h-1zm4 0h1v1h-1zm-3 1h3v1h-3zM177 329h3v1h-3zm-1 1h1v1h-1zm4 0h1v1h-1zm-5 1h1v3h-1zm6 0h1v3h-1zm-5 3h1v1h-1zm4 0h1v1h-1zm-3 1h3v1h-3zM178 318h3v1h-3zm-1 1h1v1h-1zm4 0h1v1h-1zm-5 1h1v3h-1zm6 0h1v3h-1zm-5 3h1v1h-1zm4 0h1v1h-1zm-3 1h3v1h-3zM181 330h3v1h-3zm-1 1h1v1h-1zm4 0h1v1h-1zm-5 1h1v3h-1zm6 0h1v3h-1zm-5 3h1v1h-1zm4 0h1v1h-1zm-3 1h3v1h-3zM177 316h3v1h-3zm-1 1h1v1h-1zm4 0h1v1h-1zm-5 1h1v3h-1zm6 0h1v3h-1zm-5 3h1v1h-1zm4 0h1v1h-1zm-3 1h3v1h-3zM184 329h3v1h-3zm-1 1h1v1h-1zm4 0h1v1h-1zm-5 1h1v3h-1zm6 0h1v3h-1zm-5 3h1v1h-1zm4 0h1v1h-1zm-3 1h3v1h-3zM168 317h3v1h-3zm-1 1h1v1h-1zm4 0h1v1h-1zm-5 1h1v3h-1zm6 0h1v3h-1zm-5 3h1v1h-1zm4 0h1v1h-1zm-3 1h3v1h-3zM163 323h3v1h-3zm-1 1h1v1h-1zm4 0h1v1h-1zm-5 1h1v3h-1zm6 0h1v3h-1zm-5 3h1v1h-1zm4 0h1v1h-1zm-3 1h3v1h-3zM186 325h3v1h-3zm-1 1h1v1h-1zm4 0h1v1h-1zm-5 1h1v3h-1zm6 0h1v3h-1zm-5 3h1v1h-1zm4 0h1v1h-1zm-3 1h3v1h-3zM188 318h3v1h-3zm-1 1h1v1h-1zm4 0h1v1h-1zm-5 1h1v3h-1zm6 0h1v3h-1zm-5 3h1v1h-1zm4 0h1v1h-1zm-3 1h3v1h-3zM168 327h3v1h-3zm-1 1h1v1h-1zm4 0h1v1h-1zm-5 1h1v3h-1zm6 0h1v3h-1zm-5 3h1v1h-1zm4 0h1v1h-1zm-3 1h3v1h-3zM178 321h3v1h-3zm-1 1h1v1h-1zm4 0h1v1h-1zm-5 1h1v3h-1zm6 0h1v3h-1zm-5 3h1v1h-1zm4 0h1v1h-1zm-3 1h3v1h-3zM179 320h3v1h-3zm-1 1h1v1h-1zm4 0h1v1h-1zm-5 1h1v3h-1zm6 0h1v3h-1zm-5 3h1v1h-1zm4 0h1v1h-1zm-3 1h3v1h-3zM158 321h3v1h-3zm-1 1h1v1h-1zm4 0h1v1h-1zm-5 1h1v3h-1zm6 0h1v3h-1zm-5 3h1v1h-1zm4 0h1v1h-1zm-3 1h3v1h-3zM158 325h3v1h-3zm-1 1h1v1h-1zm4 0h1v1h-1zm-5 1h1v3h-1zm6 0h1v3h-1zm-5 3h1v1h-1zm4 0h1v1h-1zm-3 1h3v1h-3zM168 323h3v1h-3zm-1 1h1v1h-1zm4 0h1v1h-1zm-5 1h1v3h-1zm6 0h1v3h-1zm-5 3h1v1h-1zm4 0h1v1h-1zm-3 1h3v1h-3zM177 319h3v1h-3zm-1 1h1v1h-1zm4 0h1v1h-1zm-5 1h1v3h-1zm6 0h1v3h-1zm-5 3h1v1h-1zm4 0h1v1h-1zm-3 1h3v1h-3zM172 315h3v1h-3zm-1 1h1v1h-1zm4 0h1v1h-1zm-5 1h1v3h-1zm6 0h1v3h-1zm-5 3h1v1h-1zm4 0h1v1h-1zm-3 1h3v1h-3zM177 326h3v1h-3zm-1 1h1v1h-1zm4 0h1v1h-1zm-5 1h1v3h-1zm6 0h1v3h-1zm-5 3h1v1h-1zm4 0h1v1h-1zm-3 1h3v1h-3zM168 316h3v1h-3zm-1 1h1v1h-1zm4 0h1v1h-1zm-5 1h1v3h-1zm6 0h1v3h-1zm-5 3h1v1h-1zm4 0h1v1h-1zm-3 1h3v1h-3zM162 317h3v1h-3zm-1 1h1v1h-1zm4 0h1v1h-1zm-5 1h1v3h-1zm6 0h1v3h-1zm-5 3h1v1h-1zm4 0h1v1h-1zm-3 1h3v1h-3zM182 316h3v1h-3zm-1 1h1v1h-1zm4 0h1v1h-1zm-5 1h1v3h-1zm6 0h1v3h-1zm-5 3h1v1h-1zm4 0h1v1h-1zm-3 1h3v1h-3zM184 321h3v1h-3zm-1 1h1v1h-1zm4 0h1v1h-1zm-5 1h1v3h-1zm6 0h1v3h-1zm-5 3h1v1h-1zm4 0h1v1h-1zm-3 1h3v1h-3zM175 324h3v1h-3zm-1 1h1v1h-1zm4 0h1v1h-1zm-5 1h1v3h-1zm6 0h1v3h-1zm-5 3h1v1h-1zm4 0h1v1h-1zm-3 1h3v1h-3zM175 325h3v1h-3zm-1 1h1v1h-1zm4 0h1v1h-1zm-5 1h1v3h-1zm6 0h1v3h-1zm-5 3h1v1h-1zm4 0h1v1h-1zm-3 1h3v1h-3zM177 320h3v1h-3zm-1 1h1v1h-1zm4 0h1v1h-1zm-5 1h1v3h-1zm6 0h1v3h-1zm-5 3h1v1h-1zm4 0h1v1h-1zm-3 1h3v1h-3zM182 319h3v1h-3zm-1 1h1v1h-1zm4 0h1v1h-1zm-5 1h1v3h-1zm6 0h1v3h-1zm-5 3h1v1h-1zm4 0h1v1h-1zm-3 1h3v1h-3zM181 327h3v1h-3zm-1 1h1v1h-1zm4 0h1v1h-1zm-5 1h1v3h-1zm6 0h1v3h-1zm-5 3h1v1h-1zm4 0h1v1h-1zm-3 1h3v1h-3zM183 320h3v1h-3zm-1 1h1v1h-1zm4 0h1v1h-1zm-5 1h1v3h-1zm6 0h1v3h-1zm-5 3h1v1h-1zm4 0h1v1h-1zm-3 1h3v1h-3zM172 319h3v1h-3zm-1 1h1v1h-1zm4 0h1v1h-1zm-5 1h1v3h-1zm6 0h1v3h-1zm-5 3h1v1h-1zm4 0h1v1h-1zm-3 1h3v1h-3zM174 330h3v1h-3zm-1 1h1v1h-1zm4 0h1v1h-1zm-5 1h1v3h-1zm6 0h1v3h-1zm-5 3h1v1h-1zm4 0h1v1h-1zm-3 1h3v1h-3zM161 315h3v1h-3zm-1 1h1v1h-1zm4 0h1v1h-1zm-5 1h1v3h-1zm6 0h1v3h-1zm-5 3h1v1h-1zm4 0h1v1h-1zm-3 1h3v1h-3zM173 325h3v1h-3zm-1 1h1v1h-1zm4 0h1v1h-1zm-5 1h1v3h-1zm6 0h1v3h-1zm-5 3h1v1h-1zm4 0h1v1h-1zm-3 1h3v1h-3zM157 317h3v1h-3zm-1 1h1v1h-1zm4 0h1v1h-1zm-5 1h1v3h-1zm6 0h1v3h-1zm-5 3h1v1h-1zm4 0h1v1h-1zm-3 1h3v1h-3zM159 323h3v1h-3zm-1 1h1v1h-1zm4 0h1v1h-1zm-5 1h1v3h-1zm6 0h1v3h-1zm-5 3h1v1h-1zm4 0h1v1h-1zm-3 1h3v1h-3zM175 317h3v1h-3zm-1 1h1v1h-1zm4 0h1v1h-1zm-5 1h1v3h-1zm6 0h1v3h-1zm-5 3h1v1h-1zm4 0h1v1h-1zm-3 1h3v1h-3zM181 329h3v1h-3zm-1 1h1v1h-1zm4 0h1v1h-1zm-5 1h1v3h-1zm6 0h1v3h-1zm-5 3h1v1h-1zm4 0h1v1h-1zm-3 1h3v1h-3zM162 315h3v1h-3zm-1 1h1v1h-1zm4 0h1v1h-1zm-5 1h1v3h-1zm6 0h1v3h-1zm-5 3h1v1h-1zm4 0h1v1h-1zm-3 1h3v1h-3zM183 318h3v1h-3zm-1 1h1v1h-1zm4 0h1v1h-1zm-5 1h1v3h-1zm6 0h1v3h-1zm-5 3h1v1h-1zm4 0h1v1h-1zm-3 1h3v1h-3zM190 323h3v1h-3zm-1 1h1v1h-1zm4 0h1v1h-1zm-5 1h1v3h-1zm6 0h1v3h-1zm-5 3h1v1h-1zm4 0h1v1h-1zm-3 1h3v1h-3zM178 320h3v1h-3zm-1 1h1v1h-1zm4 0h1v1h-1zm-5 1h1v3h-1zm6 0h1v3h-1zm-5 3h1v1h-1zm4 0h1v1h-1zm-3 1h3v1h-3zM184 322h3v1h-3zm-1 1h1v1h-1zm4 0h1v1h-1zm-5 1h1v3h-1zm6 0h1v3h-1zm-5 3h1v1h-1zm4 0h1v1h-1zm-3 1h3v1h-3zM167 329h3v1h-3zm-1 1h1v1h-1zm4 0h1v1h-1zm-5 1h1v3h-1zm6 0h1v3h-1zm-5 3h1v1h-1zm4 0h1v1h-1zm-3 1h3v1h-3zM160 326h3v1h-3zm-1 1h1v1h-1zm4 0h1v1h-1zm-5 1h1v3h-1zm6 0h1v3h-1zm-5 3h1v1h-1zm4 0h1v1h-1zm-3 1h3v1h-3zM159 325h3v1h-3zm-1 1h1v1h-1zm4 0h1v1h-1zm-5 1h1v3h-1zm6 0h1v3h-1zm-5 3h1v1h-1zm4 0h1v1h-1zm-3 1h3v1h-3zM170 329h3v1h-3zm-1 1h1v1h-1zm4 0h1v1h-1zm-5 1h1v3h-1zm6 0h1v3h-1zm-5 3h1v1h-1zm4 0h1v1h-1zm-3 1h3v1h-3zM159 324h3v1h-3zm-1 1h1v1h-1zm4 0h1v1h-1zm-5 1h1v3h-1zm6 0h1v3h-1zm-5 3h1v1h-1zm4 0h1v1h-1zm-3 1h3v1h-3zM188 325h3v1h-3zm-1 1h1v1h-1zm4 0h1v1h-1zm-5 1h1v3h-1zm6 0h1v3h-1zm-5 3h1v1h-1zm4 0h1v1h-1zm-3 1h3v1h-3zM164 319h3v1h-3zm-1 1h1v1h-1zm4 0h1v1h-1zm-5 1h1v3h-1zm6 0h1v3h-1zm-5 3h1v1h-1zm4 0h1v1h-1zm-3 1h3v1h-3zM165 322h3v1h-3zm-1 1h1v1h-1zm4 0h1v1h-1zm-5 1h1v3h-1zm6 0h1v3h-1zm-5 3h1v1h-1zm4 0h1v1h-1zm-3 1h3v1h-3zM164 318h3v1h-3zm-1 1h1v1h-1zm4 0h1v1h-1zm-5 1h1v3h-1zm6 0h1v3h-1zm-5 3h1v1h-1zm4 0h1v1h-1zm-3 1h3v1h-3zM182 325h3v1h-3zm-1 1h1v1h-1zm4 0h1v1h-1zm-5 1h1v3h-1zm6 0h1v3h-1zm-5 3h1v1h-1zm4 0h1v1h-1zm-3 1h3v1h-3zM164 324h3v1h-3zm-1 1h1v1h-1zm4 0h1v1h-1zm-5 1h1v3h-1zm6 0h1v3h-1zm-5 3h1v1h-1zm4 0h1v1h-1zm-3 1h3v1h-3zM162 329h3v1h-3zm-1 1h1v1h-1zm4 0h1v1h-1zm-5 1h1v3h-1zm6 0h1v3h-1zm-5 3h1v1h-1zm4 0h1v1h-1zm-3 1h3v1h-3zM186 319h3v1h-3zm-1 1h1v1h-1zm4 0h1v1h-1zm-5 1h1v3h-1zm6 0h1v3h-1zm-5 3h1v1h-1zm4 0h1v1h-1zm-3 1h3v1h-3zM182 328h3v1h-3zm-1 1h1v1h-1zm4 0h1v1h-1zm-5 1h1v3h-1zm6 0h1v3h-1zm-5 3h1v1h-1zm4 0h1v1h-1zm-3 1h3v1h-3zM166 320h3v1h-3zm-1 1h1v1h-1zm4 0h1v1h-1zm-5 1h1v3h-1zm6 0h1v3h-1zm-5 3h1v1h-1zm4 0h1v1h-1zm-3 1h3v1h-3zM173 329h3v1h-3zm-1 1h1v1h-1zm4 0h1v1h-1zm-5 1h1v3h-1zm6 0h1v3h-1zm-5 3h1v1h-1zm4 0h1v1h-1zm-3 1h3v1h-3zM162 326h3v1h-3zm-1 1h1v1h-1zm4 0h1v1h-1zm-5 1h1v3h-1zm6 0h1v3h-1zm-5 3h1v1h-1zm4 0h1v1h-1zm-3 1h3v1h-3zM177 322h3v1h-3zm-1 1h1v1h-1zm4 0h1v1h-1zm-5 1h1v3h-1zm6 0h1v3h-1zm-5 3h1v1h-1zm4 0h1v1h-1zm-3 1h3v1h-3zM176 329h3v1h-3zm-1 1h1v1h-1zm4 0h1v1h-1zm-5 1h1v3h-1zm6 0h1v3h-1zm-5 3h1v1h-1zm4 0h1v1h-1zm-3 1h3v1h-3zM164 329h3v1h-3zm-1 1h1v1h-1zm4 0h1v1h-1zm-5 1h1v3h-1zm6 0h1v3h-1zm-5 3h1v1h-1zm4 0h1v1h-1zm-3 1h3v1h-3zM186 317h3v1h-3zm-1 1h1v1h-1zm4 0h1v1h-1zm-5 1h1v3h-1zm6 0h1v3h-1zm-5 3h1v1h-1zm4 0h1v1h-1zm-3 1h3v1h-3zM167 315h3v1h-3zm-1 1h1v1h-1zm4 0h1v1h-1zm-5 1h1v3h-1zm6 0h1v3h-1zm-5 3h1v1h-1zm4 0h1v1h-1zm-3 1h3v1h-3zM160 317h3v1h-3zm-1 1h1v1h-1zm4 0h1v1h-1zm-5 1h1v3h-1zm6 0h1v3h-1zm-5 3h1v1h-1zm4 0h1v1h-1zm-3 1h3v1h-3zM180 316h3v1h-3zm-1 1h1v1h-1zm4 0h1v1h-1zm-5 1h1v3h-1zm6 0h1v3h-1zm-5 3h1v1h-1zm4 0h1v1h-1zm-3 1h3v1h-3zM168 329h3v1h-3zm-1 1h1v1h-1zm4 0h1v1h-1zm-5 1h1v3h-1zm6 0h1v3h-1zm-5 3h1v1h-1zm4 0h1v1h-1zm-3 1h3v1h-3zM164 327h3v1h-3zm-1 1h1v1h-1zm4 0h1v1h-1zm-5 1h1v3h-1zm6 0h1v3h-1zm-5 3h1v1h-1zm4 0h1v1h-1zm-3 1h3v1h-3zM180 315h3v1h-3zm-1 1h1v1h-1zm4 0h1v1h-1zm-5 1h1v3h-1zm6 0h1v3h-1zm-5 3h1v1h-1zm4 0h1v1h-1zm-3 1h3v1h-3zM174 318h3v1h-3zm-1 1h1v1h-1zm4 0h1v1h-1zm-5 1h1v3h-1zm6 0h1v3h-1zm-5 3h1v1h-1zm4 0h1v1h-1zm-3 1h3v1h-3zM171 316h3v1h-3zm-1 1h1v1h-1zm4 0h1v1h-1zm-5 1h1v3h-1zm6 0h1v3h-1zm-5 3h1v1h-1zm4 0h1v1h-1zm-3 1h3v1h-3zM161 322h3v1h-3zm-1 1h1v1h-1zm4 0h1v1h-1zm-5 1h1v3h-1zm6 0h1v3h-1zm-5 3h1v1h-1zm4 0h1v1h-1zm-3 1h3v1h-3zM161 321h3v1h-3zm-1 1h1v1h-1zm4 0h1v1h-1zm-5 1h1v3h-1zm6 0h1v3h-1zm-5 3h1v1h-1zm4 0h1v1h-1zm-3 1h3v1h-3zM163 326h3v1h-3zm-1 1h1v1h-1zm4 0h1v1h-1zm-5 1h1v3h-1zm6 0h1v3h-1zm-5 3h1v1h-1zm4 0h1v1h-1zm-3 1h3v1h-3zM161 327h3v1h-3zm-1 1h1v1h-1zm4 0h1v1h-1zm-5 1h1v3h-1zm6 0h1v3h-1zm-5 3h1v1h-1zm4 0h1v1h-1zm-3 1h3v1h-3zM173 316h3v1h-3zm-1 1h1v1h-1zm4 0h1v1h-1zm-5 1h1v3h-1zm6 0h1v3h-1zm-5 3h1v1h-1zm4 0h1v1h-1zm-3 1h3v1h-3zM186 326h3v1h-3zm-1 1h1v1h-1zm4 0h1v1h-1zm-5 1h1v3h-1zm6 0h1v3h-1zm-5 3h1v1h-1zm4 0h1v1h-1zm-3 1h3v1h-3zM166 317h3v1h-3zm-1 1h1v1h-1zm4 0h1v1h-1zm-5 1h1v3h-1zm6 0h1v3h-1zm-5 3h1v1h-1zm4 0h1v1h-1zm-3 1h3v1h-3zM165 316h3v1h-3zm-1 1h1v1h-1zm4 0h1v1h-1zm-5 1h1v3h-1zm6 0h1v3h-1zm-5 3h1v1h-1zm4 0h1v1h-1zm-3 1h3v1h-3zM158 323h3v1h-3zm-1 1h1v1h-1zm4 0h1v1h-1zm-5 1h1v3h-1zm6 0h1v3h-1zm-5 3h1v1h-1zm4 0h1v1h-1zm-3 1h3v1h-3zM170 324h3v1h-3zm-1 1h1v1h-1zm4 0h1v1h-1zm-5 1h1v3h-1zm6 0h1v3h-1zm-5 3h1v1h-1zm4 0h1v1h-1zm-3 1h3v1h-3zM169 315h3v1h-3zm-1 1h1v1h-1zm4 0h1v1h-1zm-5 1h1v3h-1zm6 0h1v3h-1zm-5 3h1v1h-1zm4 0h1v1h-1zm-3 1h3v1h-3zM180 325h3v1h-3zm-1 1h1v1h-1zm4 0h1v1h-1zm-5 1h1v3h-1zm6 0h1v3h-1zm-5 3h1v1h-1zm4 0h1v1h-1zm-3 1h3v1h-3zM175 323h3v1h-3zm-1 1h1v1h-1zm4 0h1v1h-1zm-5 1h1v3h-1zm6 0h1v3h-1zm-5 3h1v1h-1zm4 0h1v1h-1zm-3 1h3v1h-3zM180 330h3v1h-3zm-1 1h1v1h-1zm4 0h1v1h-1zm-5 1h1v3h-1zm6 0h1v3h-1zm-5 3h1v1h-1zm4 0h1v1h-1zm-3 1h3v1h-3zM212 330h3v1h-3zm-1 1h1v1h-1zm4 0h1v1h-1zm-5 1h1v3h-1zm6 0h1v3h-1zm-5 3h1v1h-1zm4 0h1v1h-1zm-3 1h3v1h-3zM205 326h3v1h-3zm-1 1h1v1h-1zm4 0h1v1h-1zm-5 1h1v3h-1zm6 0h1v3h-1zm-5 3h1v1h-1zm4 0h1v1h-1zm-3 1h3v1h-3zM208 332h3v1h-3zm-1 1h1v1h-1zm4 0h1v1h-1zm-5 1h1v3h-1zm6 0h1v3h-1zm-5 3h1v1h-1zm4 0h1v1h-1zm-3 1h3v1h-3zM203 329h3v1h-3zm-1 1h1v1h-1zm4 0h1v1h-1zm-5 1h1v3h-1zm6 0h1v3h-1zm-5 3h1v1h-1zm4 0h1v1h-1zm-3 1h3v1h-3zM205 325h3v1h-3zm-1 1h1v1h-1zm4 0h1v1h-1zm-5 1h1v3h-1zm6 0h1v3h-1zm-5 3h1v1h-1zm4 0h1v1h-1zm-3 1h3v1h-3zM202 323h3v1h-3zm-1 1h1v1h-1zm4 0h1v1h-1zm-5 1h1v3h-1zm6 0h1v3h-1zm-5 3h1v1h-1zm4 0h1v1h-1zm-3 1h3v1h-3zM212 331h3v1h-3zm-1 1h1v1h-1zm4 0h1v1h-1zm-5 1h1v3h-1zm6 0h1v3h-1zm-5 3h1v1h-1zm4 0h1v1h-1zm-3 1h3v1h-3zM209 326h3v1h-3zm-1 1h1v1h-1zm4 0h1v1h-1zm-5 1h1v3h-1zm6 0h1v3h-1zm-5 3h1v1h-1zm4 0h1v1h-1zm-3 1h3v1h-3zM209 328h3v1h-3zm-1 1h1v1h-1zm4 0h1v1h-1zm-5 1h1v3h-1zm6 0h1v3h-1zm-5 3h1v1h-1zm4 0h1v1h-1zm-3 1h3v1h-3zM212 328h3v1h-3zm-1 1h1v1h-1zm4 0h1v1h-1zm-5 1h1v3h-1zm6 0h1v3h-1zm-5 3h1v1h-1zm4 0h1v1h-1zm-3 1h3v1h-3zM210 326h3v1h-3zm-1 1h1v1h-1zm4 0h1v1h-1zm-5 1h1v3h-1zm6 0h1v3h-1zm-5 3h1v1h-1zm4 0h1v1h-1zm-3 1h3v1h-3zM207 329h3v1h-3zm-1 1h1v1h-1zm4 0h1v1h-1zm-5 1h1v3h-1zm6 0h1v3h-1zm-5 3h1v1h-1zm4 0h1v1h-1zm-3 1h3v1h-3zM208 328h3v1h-3zm-1 1h1v1h-1zm4 0h1v1h-1zm-5 1h1v3h-1zm6 0h1v3h-1zm-5 3h1v1h-1zm4 0h1v1h-1zm-3 1h3v1h-3zM202 329h3v1h-3zm-1 1h1v1h-1zm4 0h1v1h-1zm-5 1h1v3h-1zm6 0h1v3h-1zm-5 3h1v1h-1zm4 0h1v1h-1zm-3 1h3v1h-3zM206 330h3v1h-3zm-1 1h1v1h-1zm4 0h1v1h-1zm-5 1h1v3h-1zm6 0h1v3h-1zm-5 3h1v1h-1zm4 0h1v1h-1zm-3 1h3v1h-3zM207 327h3v1h-3zm-1 1h1v1h-1zm4 0h1v1h-1zm-5 1h1v3h-1zm6 0h1v3h-1zm-5 3h1v1h-1zm4 0h1v1h-1zm-3 1h3v1h-3zM202 324h3v1h-3zm-1 1h1v1h-1zm4 0h1v1h-1zm-5 1h1v3h-1zm6 0h1v3h-1zm-5 3h1v1h-1zm4 0h1v1h-1zm-3 1h3v1h-3zM213 328h3v1h-3zm-1 1h1v1h-1zm4 0h1v1h-1zm-5 1h1v3h-1zm6 0h1v3h-1zm-5 3h1v1h-1zm4 0h1v1h-1zm-3 1h3v1h-3zM207 328h3v1h-3zm-1 1h1v1h-1zm4 0h1v1h-1zm-5 1h1v3h-1zm6 0h1v3h-1zm-5 3h1v1h-1zm4 0h1v1h-1zm-3 1h3v1h-3zM206 329h3v1h-3zm-1 1h1v1h-1zm4 0h1v1h-1zm-5 1h1v3h-1zm6 0h1v3h-1zm-5 3h1v1h-1zm4 0h1v1h-1zm-3 1h3v1h-3zM233 332h3v1h-3zm-1 1h1v1h-1zm4 0h1v1h-1zm-5 1h1v3h-1zm6 0h1v3h-1zm-5 3h1v1h-1zm4 0h1v1h-1zm-3 1h3v1h-3zM226 331h3v1h-3zm-1 1h1v1h-1zm4 0h1v1h-1zm-5 1h1v3h-1zm6 0h1v3h-1zm-5 3h1v1h-1zm4 0h1v1h-1zm-3 1h3v1h-3zM222 325h3v1h-3zm-1 1h1v1h-1zm4 0h1v1h-1zm-5 1h1v3h-1zm6 0h1v3h-1zm-5 3h1v1h-1zm4 0h1v1h-1zm-3 1h3v1h-3zM221 326h3v1h-3zm-1 1h1v1h-1zm4 0h1v1h-1zm-5 1h1v3h-1zm6 0h1v3h-1zm-5 3h1v1h-1zm4 0h1v1h-1zm-3 1h3v1h-3zM226 333h3v1h-3zm-1 1h1v1h-1zm4 0h1v1h-1zm-5 1h1v3h-1zm6 0h1v3h-1zm-5 3h1v1h-1zm4 0h1v1h-1zm-3 1h3v1h-3zM231 327h3v1h-3zm-1 1h1v1h-1zm4 0h1v1h-1zm-5 1h1v3h-1zm6 0h1v3h-1zm-5 3h1v1h-1zm4 0h1v1h-1zm-3 1h3v1h-3zM227 331h3v1h-3zm-1 1h1v1h-1zm4 0h1v1h-1zm-5 1h1v3h-1zm6 0h1v3h-1zm-5 3h1v1h-1zm4 0h1v1h-1zm-3 1h3v1h-3zM225 326h3v1h-3zm-1 1h1v1h-1zm4 0h1v1h-1zm-5 1h1v3h-1zm6 0h1v3h-1zm-5 3h1v1h-1zm4 0h1v1h-1zm-3 1h3v1h-3zM223 328h3v1h-3zm-1 1h1v1h-1zm4 0h1v1h-1zm-5 1h1v3h-1zm6 0h1v3h-1zm-5 3h1v1h-1zm4 0h1v1h-1zm-3 1h3v1h-3zM220 324h3v1h-3zm-1 1h1v1h-1zm4 0h1v1h-1zm-5 1h1v3h-1zm6 0h1v3h-1zm-5 3h1v1h-1zm4 0h1v1h-1zm-3 1h3v1h-3zM225 325h3v1h-3zm-1 1h1v1h-1zm4 0h1v1h-1zm-5 1h1v3h-1zm6 0h1v3h-1zm-5 3h1v1h-1zm4 0h1v1h-1zm-3 1h3v1h-3zM230 332h3v1h-3zm-1 1h1v1h-1zm4 0h1v1h-1zm-5 1h1v3h-1zm6 0h1v3h-1zm-5 3h1v1h-1zm4 0h1v1h-1zm-3 1h3v1h-3zM223 327h3v1h-3zm-1 1h1v1h-1zm4 0h1v1h-1zm-5 1h1v3h-1zm6 0h1v3h-1zm-5 3h1v1h-1zm4 0h1v1h-1zm-3 1h3v1h-3zM233 329h3v1h-3zm-1 1h1v1h-1zm4 0h1v1h-1zm-5 1h1v3h-1zm6 0h1v3h-1zm-5 3h1v1h-1zm4 0h1v1h-1zm-3 1h3v1h-3zM227 326h3v1h-3zm-1 1h1v1h-1zm4 0h1v1h-1zm-5 1h1v3h-1zm6 0h1v3h-1zm-5 3h1v1h-1zm4 0h1v1h-1zm-3 1h3v1h-3zM226 329h3v1h-3zm-1 1h1v1h-1zm4 0h1v1h-1zm-5 1h1v3h-1zm6 0h1v3h-1zm-5 3h1v1h-1zm4 0h1v1h-1zm-3 1h3v1h-3zM228 328h3v1h-3zm-1 1h1v1h-1zm4 0h1v1h-1zm-5 1h1v3h-1zm6 0h1v3h-1zm-5 3h1v1h-1zm4 0h1v1h-1zm-3 1h3v1h-3zM235 331h3v1h-3zm-1 1h1v1h-1zm4 0h1v1h-1zm-5 1h1v3h-1zm6 0h1v3h-1zm-5 3h1v1h-1zm4 0h1v1h-1zm-3 1h3v1h-3zM219 329h3v1h-3zm-1 1h1v1h-1zm4 0h1v1h-1zm-5 1h1v3h-1zm6 0h1v3h-1zm-5 3h1v1h-1zm4 0h1v1h-1zm-3 1h3v1h-3zM227 327h3v1h-3zm-1 1h1v1h-1zm4 0h1v1h-1zm-5 1h1v3h-1zm6 0h1v3h-1zm-5 3h1v1h-1zm4 0h1v1h-1zm-3 1h3v1h-3zM227 332h3v1h-3zm-1 1h1v1h-1zm4 0h1v1h-1zm-5 1h1v3h-1zm6 0h1v3h-1zm-5 3h1v1h-1zm4 0h1v1h-1zm-3 1h3v1h-3zM227 328h3v1h-3zm-1 1h1v1h-1zm4 0h1v1h-1zm-5 1h1v3h-1zm6 0h1v3h-1zm-5 3h1v1h-1zm4 0h1v1h-1zm-3 1h3v1h-3zM228 331h3v1h-3zm-1 1h1v1h-1zm4 0h1v1h-1zm-5 1h1v3h-1zm6 0h1v3h-1zm-5 3h1v1h-1zm4 0h1v1h-1zm-3 1h3v1h-3zM231 330h3v1h-3zm-1 1h1v1h-1zm4 0h1v1h-1zm-5 1h1v3h-1zm6 0h1v3h-1zm-5 3h1v1h-1zm4 0h1v1h-1zm-3 1h3v1h-3zM231 328h3v1h-3zm-1 1h1v1h-1zm4 0h1v1h-1zm-5 1h1v3h-1zm6 0h1v3h-1zm-5 3h1v1h-1zm4 0h1v1h-1zm-3 1h3v1h-3zM254 335h3v1h-3zm-1 1h1v1h-1zm4 0h1v1h-1zm-5 1h1v3h-1zm6 0h1v3h-1zm-5 3h1v1h-1zm4 0h1v1h-1zm-3 1h3v1h-3zM239 324h3v1h-3zm-1 1h1v1h-1zm4 0h1v1h-1zm-5 1h1v3h-1zm6 0h1v3h-1zm-5 3h1v1h-1zm4 0h1v1h-1zm-3 1h3v1h-3zM238 336h3v1h-3zm-1 1h1v1h-1zm4 0h1v1h-1zm-5 1h1v3h-1zm6 0h1v3h-1zm-5 3h1v1h-1zm4 0h1v1h-1zm-3 1h3v1h-3zM239 321h3v1h-3zm-1 1h1v1h-1zm4 0h1v1h-1zm-5 1h1v3h-1zm6 0h1v3h-1zm-5 3h1v1h-1zm4 0h1v1h-1zm-3 1h3v1h-3zM238 333h3v1h-3zm-1 1h1v1h-1zm4 0h1v1h-1zm-5 1h1v3h-1zm6 0h1v3h-1zm-5 3h1v1h-1zm4 0h1v1h-1zm-3 1h3v1h-3zM246 331h3v1h-3zm-1 1h1v1h-1zm4 0h1v1h-1zm-5 1h1v3h-1zm6 0h1v3h-1zm-5 3h1v1h-1zm4 0h1v1h-1zm-3 1h3v1h-3zM244 330h3v1h-3zm-1 1h1v1h-1zm4 0h1v1h-1zm-5 1h1v3h-1zm6 0h1v3h-1zm-5 3h1v1h-1zm4 0h1v1h-1zm-3 1h3v1h-3zM243 325h3v1h-3zm-1 1h1v1h-1zm4 0h1v1h-1zm-5 1h1v3h-1zm6 0h1v3h-1zm-5 3h1v1h-1zm4 0h1v1h-1zm-3 1h3v1h-3zM238 326h3v1h-3zm-1 1h1v1h-1zm4 0h1v1h-1zm-5 1h1v3h-1zm6 0h1v3h-1zm-5 3h1v1h-1zm4 0h1v1h-1zm-3 1h3v1h-3zM241 321h3v1h-3zm-1 1h1v1h-1zm4 0h1v1h-1zm-5 1h1v3h-1zm6 0h1v3h-1zm-5 3h1v1h-1zm4 0h1v1h-1zm-3 1h3v1h-3zM243 335h3v1h-3zm-1 1h1v1h-1zm4 0h1v1h-1zm-5 1h1v3h-1zm6 0h1v3h-1zm-5 3h1v1h-1zm4 0h1v1h-1zm-3 1h3v1h-3zM243 334h3v1h-3zm-1 1h1v1h-1zm4 0h1v1h-1zm-5 1h1v3h-1zm6 0h1v3h-1zm-5 3h1v1h-1zm4 0h1v1h-1zm-3 1h3v1h-3zM247 337h3v1h-3zm-1 1h1v1h-1zm4 0h1v1h-1zm-5 1h1v3h-1zm6 0h1v3h-1zm-5 3h1v1h-1zm4 0h1v1h-1zm-3 1h3v1h-3zM238 328h3v1h-3zm-1 1h1v1h-1zm4 0h1v1h-1zm-5 1h1v3h-1zm6 0h1v3h-1zm-5 3h1v1h-1zm4 0h1v1h-1zm-3 1h3v1h-3zM252 333h3v1h-3zm-1 1h1v1h-1zm4 0h1v1h-1zm-5 1h1v3h-1zm6 0h1v3h-1zm-5 3h1v1h-1zm4 0h1v1h-1zm-3 1h3v1h-3zM254 339h3v1h-3zm-1 1h1v1h-1zm4 0h1v1h-1zm-5 1h1v3h-1zm6 0h1v3h-1zm-5 3h1v1h-1zm4 0h1v1h-1zm-3 1h3v1h-3zM246 333h3v1h-3zm-1 1h1v1h-1zm4 0h1v1h-1zm-5 1h1v3h-1zm6 0h1v3h-1zm-5 3h1v1h-1zm4 0h1v1h-1zm-3 1h3v1h-3zM245 332h3v1h-3zm-1 1h1v1h-1zm4 0h1v1h-1zm-5 1h1v3h-1zm6 0h1v3h-1zm-5 3h1v1h-1zm4 0h1v1h-1zm-3 1h3v1h-3zM242 330h3v1h-3zm-1 1h1v1h-1zm4 0h1v1h-1zm-5 1h1v3h-1zm6 0h1v3h-1zm-5 3h1v1h-1zm4 0h1v1h-1zm-3 1h3v1h-3zM239 329h3v1h-3zm-1 1h1v1h-1zm4 0h1v1h-1zm-5 1h1v3h-1zm6 0h1v3h-1zm-5 3h1v1h-1zm4 0h1v1h-1zm-3 1h3v1h-3zM238 322h3v1h-3zm-1 1h1v1h-1zm4 0h1v1h-1zm-5 1h1v3h-1zm6 0h1v3h-1zm-5 3h1v1h-1zm4 0h1v1h-1zm-3 1h3v1h-3zM242 334h3v1h-3zm-1 1h1v1h-1zm4 0h1v1h-1zm-5 1h1v3h-1zm6 0h1v3h-1zm-5 3h1v1h-1zm4 0h1v1h-1zm-3 1h3v1h-3zM241 335h3v1h-3zm-1 1h1v1h-1zm4 0h1v1h-1zm-5 1h1v3h-1zm6 0h1v3h-1zm-5 3h1v1h-1zm4 0h1v1h-1zm-3 1h3v1h-3zM249 335h3v1h-3zm-1 1h1v1h-1zm4 0h1v1h-1zm-5 1h1v3h-1zm6 0h1v3h-1zm-5 3h1v1h-1zm4 0h1v1h-1zm-3 1h3v1h-3zM237 330h3v1h-3zm-1 1h1v1h-1zm4 0h1v1h-1zm-5 1h1v3h-1zm6 0h1v3h-1zm-5 3h1v1h-1zm4 0h1v1h-1zm-3 1h3v1h-3zM239 332h3v1h-3zm-1 1h1v1h-1zm4 0h1v1h-1zm-5 1h1v3h-1zm6 0h1v3h-1zm-5 3h1v1h-1zm4 0h1v1h-1zm-3 1h3v1h-3zM239 331h3v1h-3zm-1 1h1v1h-1zm4 0h1v1h-1zm-5 1h1v3h-1zm6 0h1v3h-1zm-5 3h1v1h-1zm4 0h1v1h-1zm-3 1h3v1h-3zM240 321h3v1h-3zm-1 1h1v1h-1zm4 0h1v1h-1zm-5 1h1v3h-1zm6 0h1v3h-1zm-5 3h1v1h-1zm4 0h1v1h-1zm-3 1h3v1h-3zM240 330h3v1h-3zm-1 1h1v1h-1zm4 0h1v1h-1zm-5 1h1v3h-1zm6 0h1v3h-1zm-5 3h1v1h-1zm4 0h1v1h-1zm-3 1h3v1h-3zM241 328h3v1h-3zm-1 1h1v1h-1zm4 0h1v1h-1zm-5 1h1v3h-1zm6 0h1v3h-1zm-5 3h1v1h-1zm4 0h1v1h-1zm-3 1h3v1h-3zM241 322h3v1h-3zm-1 1h1v1h-1zm4 0h1v1h-1zm-5 1h1v3h-1zm6 0h1v3h-1zm-5 3h1v1h-1zm4 0h1v1h-1zm-3 1h3v1h-3zM248 337h3v1h-3zm-1 1h1v1h-1zm4 0h1v1h-1zm-5 1h1v3h-1zm6 0h1v3h-1zm-5 3h1v1h-1zm4 0h1v1h-1zm-3 1h3v1h-3zM287 341h3v1h-3zm-1 1h1v1h-1zm4 0h1v1h-1zm-5 1h1v3h-1zm6 0h1v3h-1zm-5 3h1v1h-1zm4 0h1v1h-1zm-3 1h3v1h-3zM288 340h3v1h-3zm-1 1h1v1h-1zm4 0h1v1h-1zm-5 1h1v3h-1zm6 0h1v3h-1zm-5 3h1v1h-1zm4 0h1v1h-1zm-3 1h3v1h-3zM283 341h3v1h-3zm-1 1h1v1h-1zm4 0h1v1h-1zm-5 1h1v3h-1zm6 0h1v3h-1zm-5 3h1v1h-1zm4 0h1v1h-1zm-3 1h3v1h-3zM282 336h3v1h-3zm-1 1h1v1h-1zm4 0h1v1h-1zm-5 1h1v3h-1zm6 0h1v3h-1zm-5 3h1v1h-1zm4 0h1v1h-1zm-3 1h3v1h-3zM281 337h3v1h-3zm-1 1h1v1h-1zm4 0h1v1h-1zm-5 1h1v3h-1zm6 0h1v3h-1zm-5 3h1v1h-1zm4 0h1v1h-1zm-3 1h3v1h-3zM288 341h3v1h-3zm-1 1h1v1h-1zm4 0h1v1h-1zm-5 1h1v3h-1zm6 0h1v3h-1zm-5 3h1v1h-1zm4 0h1v1h-1zm-3 1h3v1h-3zM284 339h3v1h-3zm-1 1h1v1h-1zm4 0h1v1h-1zm-5 1h1v3h-1zm6 0h1v3h-1zm-5 3h1v1h-1zm4 0h1v1h-1zm-3 1h3v1h-3zM289 340h3v1h-3zm-1 1h1v1h-1zm4 0h1v1h-1zm-5 1h1v3h-1zm6 0h1v3h-1zm-5 3h1v1h-1zm4 0h1v1h-1zm-3 1h3v1h-3zM284 341h3v1h-3zm-1 1h1v1h-1zm4 0h1v1h-1zm-5 1h1v3h-1zm6 0h1v3h-1zm-5 3h1v1h-1zm4 0h1v1h-1zm-3 1h3v1h-3zM283 335h3v1h-3zm-1 1h1v1h-1zm4 0h1v1h-1zm-5 1h1v3h-1zm6 0h1v3h-1zm-5 3h1v1h-1zm4 0h1v1h-1zm-3 1h3v1h-3zM285 343h3v1h-3zm-1 1h1v1h-1zm4 0h1v1h-1zm-5 1h1v3h-1zm6 0h1v3h-1zm-5 3h1v1h-1zm4 0h1v1h-1zm-3 1h3v1h-3zM287 338h3v1h-3zm-1 1h1v1h-1zm4 0h1v1h-1zm-5 1h1v3h-1zm6 0h1v3h-1zm-5 3h1v1h-1zm4 0h1v1h-1zm-3 1h3v1h-3zM291 342h3v1h-3zm-1 1h1v1h-1zm4 0h1v1h-1zm-5 1h1v3h-1zm6 0h1v3h-1zm-5 3h1v1h-1zm4 0h1v1h-1zm-3 1h3v1h-3zM283 340h3v1h-3zm-1 1h1v1h-1zm4 0h1v1h-1zm-5 1h1v3h-1zm6 0h1v3h-1zm-5 3h1v1h-1zm4 0h1v1h-1zm-3 1h3v1h-3zM282 340h3v1h-3zm-1 1h1v1h-1zm4 0h1v1h-1zm-5 1h1v3h-1zm6 0h1v3h-1zm-5 3h1v1h-1zm4 0h1v1h-1zm-3 1h3v1h-3zM316 341h3v1h-3zm-1 1h1v1h-1zm4 0h1v1h-1zm-5 1h1v3h-1zm6 0h1v3h-1zm-5 3h1v1h-1zm4 0h1v1h-1zm-3 1h3v1h-3zM316 342h3v1h-3zm-1 1h1v1h-1zm4 0h1v1h-1zm-5 1h1v3h-1zm6 0h1v3h-1zm-5 3h1v1h-1zm4 0h1v1h-1zm-3 1h3v1h-3zM315 342h3v1h-3zm-1 1h1v1h-1zm4 0h1v1h-1zm-5 1h1v3h-1zm6 0h1v3h-1zm-5 3h1v1h-1zm4 0h1v1h-1zm-3 1h3v1h-3zM312 338h3v1h-3zm-1 1h1v1h-1zm4 0h1v1h-1zm-5 1h1v3h-1zm6 0h1v3h-1zm-5 3h1v1h-1zm4 0h1v1h-1zm-3 1h3v1h-3zM315 337h3v1h-3zm-1 1h1v1h-1zm4 0h1v1h-1zm-5 1h1v3h-1zm6 0h1v3h-1zm-5 3h1v1h-1zm4 0h1v1h-1zm-3 1h3v1h-3zM316 339h3v1h-3zm-1 1h1v1h-1zm4 0h1v1h-1zm-5 1h1v3h-1zm6 0h1v3h-1zm-5 3h1v1h-1zm4 0h1v1h-1zm-3 1h3v1h-3zM316 335h3v1h-3zm-1 1h1v1h-1zm4 0h1v1h-1zm-5 1h1v3h-1zm6 0h1v3h-1zm-5 3h1v1h-1zm4 0h1v1h-1zm-3 1h3v1h-3zM309 343h3v1h-3zm-1 1h1v1h-1zm4 0h1v1h-1zm-5 1h1v3h-1zm6 0h1v3h-1zm-5 3h1v1h-1zm4 0h1v1h-1zm-3 1h3v1h-3zM311 343h3v1h-3zm-1 1h1v1h-1zm4 0h1v1h-1zm-5 1h1v3h-1zm6 0h1v3h-1zm-5 3h1v1h-1zm4 0h1v1h-1zm-3 1h3v1h-3zM310 342h3v1h-3zm-1 1h1v1h-1zm4 0h1v1h-1zm-5 1h1v3h-1zm6 0h1v3h-1zm-5 3h1v1h-1zm4 0h1v1h-1zm-3 1h3v1h-3zM314 341h3v1h-3zm-1 1h1v1h-1zm4 0h1v1h-1zm-5 1h1v3h-1zm6 0h1v3h-1zm-5 3h1v1h-1zm4 0h1v1h-1zm-3 1h3v1h-3zM316 343h3v1h-3zm-1 1h1v1h-1zm4 0h1v1h-1zm-5 1h1v3h-1zm6 0h1v3h-1zm-5 3h1v1h-1zm4 0h1v1h-1zm-3 1h3v1h-3zM313 343h3v1h-3zm-1 1h1v1h-1zm4 0h1v1h-1zm-5 1h1v3h-1zm6 0h1v3h-1zm-5 3h1v1h-1zm4 0h1v1h-1zm-3 1h3v1h-3zM370 333h3v1h-3zm-1 1h1v1h-1zm4 0h1v1h-1zm-5 1h1v3h-1zm6 0h1v3h-1zm-5 3h1v1h-1zm4 0h1v1h-1zm-3 1h3v1h-3zM399 341h3v1h-3zm-1 1h1v1h-1zm4 0h1v1h-1zm-5 1h1v3h-1zm6 0h1v3h-1zm-5 3h1v1h-1zm4 0h1v1h-1zm-3 1h3v1h-3zM351 329h3v1h-3zm-1 1h1v1h-1zm4 0h1v1h-1zm-5 1h1v3h-1zm6 0h1v3h-1zm-5 3h1v1h-1zm4 0h1v1h-1zm-3 1h3v1h-3zM352 315h3v1h-3zm-1 1h1v1h-1zm4 0h1v1h-1zm-5 1h1v3h-1zm6 0h1v3h-1zm-5 3h1v1h-1zm4 0h1v1h-1zm-3 1h3v1h-3zM385 328h3v1h-3zm-1 1h1v1h-1zm4 0h1v1h-1zm-5 1h1v3h-1zm6 0h1v3h-1zm-5 3h1v1h-1zm4 0h1v1h-1zm-3 1h3v1h-3zM370 318h3v1h-3zm-1 1h1v1h-1zm4 0h1v1h-1zm-5 1h1v3h-1zm6 0h1v3h-1zm-5 3h1v1h-1zm4 0h1v1h-1zm-3 1h3v1h-3zM371 342h3v1h-3zm-1 1h1v1h-1zm4 0h1v1h-1zm-5 1h1v3h-1zm6 0h1v3h-1zm-5 3h1v1h-1zm4 0h1v1h-1zm-3 1h3v1h-3zM389 341h3v1h-3zm-1 1h1v1h-1zm4 0h1v1h-1zm-5 1h1v3h-1zm6 0h1v3h-1zm-5 3h1v1h-1zm4 0h1v1h-1zm-3 1h3v1h-3zM358 336h3v1h-3zm-1 1h1v1h-1zm4 0h1v1h-1zm-5 1h1v3h-1zm6 0h1v3h-1zm-5 3h1v1h-1zm4 0h1v1h-1zm-3 1h3v1h-3zM353 342h3v1h-3zm-1 1h1v1h-1zm4 0h1v1h-1zm-5 1h1v3h-1zm6 0h1v3h-1zm-5 3h1v1h-1zm4 0h1v1h-1zm-3 1h3v1h-3zM361 321h3v1h-3zm-1 1h1v1h-1zm4 0h1v1h-1zm-5 1h1v3h-1zm6 0h1v3h-1zm-5 3h1v1h-1zm4 0h1v1h-1zm-3 1h3v1h-3zM364 344h3v1h-3zm-1 1h1v1h-1zm4 0h1v1h-1zm-5 1h1v3h-1zm6 0h1v3h-1zm-5 3h1v1h-1zm4 0h1v1h-1zm-3 1h3v1h-3zM386 344h3v1h-3zm-1 1h1v1h-1zm4 0h1v1h-1zm-5 1h1v3h-1zm6 0h1v3h-1zm-5 3h1v1h-1zm4 0h1v1h-1zm-3 1h3v1h-3zM373 329h3v1h-3zm-1 1h1v1h-1zm4 0h1v1h-1zm-5 1h1v3h-1zm6 0h1v3h-1zm-5 3h1v1h-1zm4 0h1v1h-1zm-3 1h3v1h-3zM377 341h3v1h-3zm-1 1h1v1h-1zm4 0h1v1h-1zm-5 1h1v3h-1zm6 0h1v3h-1zm-5 3h1v1h-1zm4 0h1v1h-1zm-3 1h3v1h-3zM365 324h3v1h-3zm-1 1h1v1h-1zm4 0h1v1h-1zm-5 1h1v3h-1zm6 0h1v3h-1zm-5 3h1v1h-1zm4 0h1v1h-1zm-3 1h3v1h-3zM357 331h3v1h-3zm-1 1h1v1h-1zm4 0h1v1h-1zm-5 1h1v3h-1zm6 0h1v3h-1zm-5 3h1v1h-1zm4 0h1v1h-1zm-3 1h3v1h-3zM372 346h3v1h-3zm-1 1h1v1h-1zm4 0h1v1h-1zm-5 1h1v3h-1zm6 0h1v3h-1zm-5 3h1v1h-1zm4 0h1v1h-1zm-3 1h3v1h-3zM402 336h3v1h-3zm-1 1h1v1h-1zm4 0h1v1h-1zm-5 1h1v3h-1zm6 0h1v3h-1zm-5 3h1v1h-1zm4 0h1v1h-1zm-3 1h3v1h-3zM355 334h3v1h-3zm-1 1h1v1h-1zm4 0h1v1h-1zm-5 1h1v3h-1zm6 0h1v3h-1zm-5 3h1v1h-1zm4 0h1v1h-1zm-3 1h3v1h-3zM376 347h3v1h-3zm-1 1h1v1h-1zm4 0h1v1h-1zm-5 1h1v3h-1zm6 0h1v3h-1zm-5 3h1v1h-1zm4 0h1v1h-1zm-3 1h3v1h-3zM372 335h3v1h-3zm-1 1h1v1h-1zm4 0h1v1h-1zm-5 1h1v3h-1zm6 0h1v3h-1zm-5 3h1v1h-1zm4 0h1v1h-1zm-3 1h3v1h-3zM381 336h3v1h-3zm-1 1h1v1h-1zm4 0h1v1h-1zm-5 1h1v3h-1zm6 0h1v3h-1zm-5 3h1v1h-1zm4 0h1v1h-1zm-3 1h3v1h-3zM372 347h3v1h-3zm-1 1h1v1h-1zm4 0h1v1h-1zm-5 1h1v3h-1zm6 0h1v3h-1zm-5 3h1v1h-1zm4 0h1v1h-1zm-3 1h3v1h-3zM354 342h3v1h-3zm-1 1h1v1h-1zm4 0h1v1h-1zm-5 1h1v3h-1zm6 0h1v3h-1zm-5 3h1v1h-1zm4 0h1v1h-1zm-3 1h3v1h-3zM390 332h3v1h-3zm-1 1h1v1h-1zm4 0h1v1h-1zm-5 1h1v3h-1zm6 0h1v3h-1zm-5 3h1v1h-1zm4 0h1v1h-1zm-3 1h3v1h-3zM376 339h3v1h-3zm-1 1h1v1h-1zm4 0h1v1h-1zm-5 1h1v3h-1zm6 0h1v3h-1zm-5 3h1v1h-1zm4 0h1v1h-1zm-3 1h3v1h-3zM402 338h3v1h-3zm-1 1h1v1h-1zm4 0h1v1h-1zm-5 1h1v3h-1zm6 0h1v3h-1zm-5 3h1v1h-1zm4 0h1v1h-1zm-3 1h3v1h-3zM369 316h3v1h-3zm-1 1h1v1h-1zm4 0h1v1h-1zm-5 1h1v3h-1zm6 0h1v3h-1zm-5 3h1v1h-1zm4 0h1v1h-1zm-3 1h3v1h-3zM359 333h3v1h-3zm-1 1h1v1h-1zm4 0h1v1h-1zm-5 1h1v3h-1zm6 0h1v3h-1zm-5 3h1v1h-1zm4 0h1v1h-1zm-3 1h3v1h-3zM373 339h3v1h-3zm-1 1h1v1h-1zm4 0h1v1h-1zm-5 1h1v3h-1zm6 0h1v3h-1zm-5 3h1v1h-1zm4 0h1v1h-1zm-3 1h3v1h-3zM382 326h3v1h-3zm-1 1h1v1h-1zm4 0h1v1h-1zm-5 1h1v3h-1zm6 0h1v3h-1zm-5 3h1v1h-1zm4 0h1v1h-1zm-3 1h3v1h-3zM397 336h3v1h-3zm-1 1h1v1h-1zm4 0h1v1h-1zm-5 1h1v3h-1zm6 0h1v3h-1zm-5 3h1v1h-1zm4 0h1v1h-1zm-3 1h3v1h-3zM373 347h3v1h-3zm-1 1h1v1h-1zm4 0h1v1h-1zm-5 1h1v3h-1zm6 0h1v3h-1zm-5 3h1v1h-1zm4 0h1v1h-1zm-3 1h3v1h-3zM391 337h3v1h-3zm-1 1h1v1h-1zm4 0h1v1h-1zm-5 1h1v3h-1zm6 0h1v3h-1zm-5 3h1v1h-1zm4 0h1v1h-1zm-3 1h3v1h-3zM367 316h3v1h-3zm-1 1h1v1h-1zm4 0h1v1h-1zm-5 1h1v3h-1zm6 0h1v3h-1zm-5 3h1v1h-1zm4 0h1v1h-1zm-3 1h3v1h-3zM384 342h3v1h-3zm-1 1h1v1h-1zm4 0h1v1h-1zm-5 1h1v3h-1zm6 0h1v3h-1zm-5 3h1v1h-1zm4 0h1v1h-1zm-3 1h3v1h-3zM359 330h3v1h-3zm-1 1h1v1h-1zm4 0h1v1h-1zm-5 1h1v3h-1zm6 0h1v3h-1zm-5 3h1v1h-1zm4 0h1v1h-1zm-3 1h3v1h-3zM368 325h3v1h-3zm-1 1h1v1h-1zm4 0h1v1h-1zm-5 1h1v3h-1zm6 0h1v3h-1zm-5 3h1v1h-1zm4 0h1v1h-1zm-3 1h3v1h-3zM362 322h3v1h-3zm-1 1h1v1h-1zm4 0h1v1h-1zm-5 1h1v3h-1zm6 0h1v3h-1zm-5 3h1v1h-1zm4 0h1v1h-1zm-3 1h3v1h-3zM369 327h3v1h-3zm-1 1h1v1h-1zm4 0h1v1h-1zm-5 1h1v3h-1zm6 0h1v3h-1zm-5 3h1v1h-1zm4 0h1v1h-1zm-3 1h3v1h-3zM357 320h3v1h-3zm-1 1h1v1h-1zm4 0h1v1h-1zm-5 1h1v3h-1zm6 0h1v3h-1zm-5 3h1v1h-1zm4 0h1v1h-1zm-3 1h3v1h-3zM363 345h3v1h-3zm-1 1h1v1h-1zm4 0h1v1h-1zm-5 1h1v3h-1zm6 0h1v3h-1zm-5 3h1v1h-1zm4 0h1v1h-1zm-3 1h3v1h-3zM377 342h3v1h-3zm-1 1h1v1h-1zm4 0h1v1h-1zm-5 1h1v3h-1zm6 0h1v3h-1zm-5 3h1v1h-1zm4 0h1v1h-1zm-3 1h3v1h-3zM387 340h3v1h-3zm-1 1h1v1h-1zm4 0h1v1h-1zm-5 1h1v3h-1zm6 0h1v3h-1zm-5 3h1v1h-1zm4 0h1v1h-1zm-3 1h3v1h-3zM383 336h3v1h-3zm-1 1h1v1h-1zm4 0h1v1h-1zm-5 1h1v3h-1zm6 0h1v3h-1zm-5 3h1v1h-1zm4 0h1v1h-1zm-3 1h3v1h-3zM372 345h3v1h-3zm-1 1h1v1h-1zm4 0h1v1h-1zm-5 1h1v3h-1zm6 0h1v3h-1zm-5 3h1v1h-1zm4 0h1v1h-1zm-3 1h3v1h-3zM381 321h3v1h-3zm-1 1h1v1h-1zm4 0h1v1h-1zm-5 1h1v3h-1zm6 0h1v3h-1zm-5 3h1v1h-1zm4 0h1v1h-1zm-3 1h3v1h-3zM398 332h3v1h-3zm-1 1h1v1h-1zm4 0h1v1h-1zm-5 1h1v3h-1zm6 0h1v3h-1zm-5 3h1v1h-1zm4 0h1v1h-1zm-3 1h3v1h-3zM371 346h3v1h-3zm-1 1h1v1h-1zm4 0h1v1h-1zm-5 1h1v3h-1zm6 0h1v3h-1zm-5 3h1v1h-1zm4 0h1v1h-1zm-3 1h3v1h-3zM366 320h3v1h-3zm-1 1h1v1h-1zm4 0h1v1h-1zm-5 1h1v3h-1zm6 0h1v3h-1zm-5 3h1v1h-1zm4 0h1v1h-1zm-3 1h3v1h-3zM355 331h3v1h-3zm-1 1h1v1h-1zm4 0h1v1h-1zm-5 1h1v3h-1zm6 0h1v3h-1zm-5 3h1v1h-1zm4 0h1v1h-1zm-3 1h3v1h-3zM394 336h3v1h-3zm-1 1h1v1h-1zm4 0h1v1h-1zm-5 1h1v3h-1zm6 0h1v3h-1zm-5 3h1v1h-1zm4 0h1v1h-1zm-3 1h3v1h-3zM374 341h3v1h-3zm-1 1h1v1h-1zm4 0h1v1h-1zm-5 1h1v3h-1zm6 0h1v3h-1zm-5 3h1v1h-1zm4 0h1v1h-1zm-3 1h3v1h-3zM357 322h3v1h-3zm-1 1h1v1h-1zm4 0h1v1h-1zm-5 1h1v3h-1zm6 0h1v3h-1zm-5 3h1v1h-1zm4 0h1v1h-1zm-3 1h3v1h-3zM388 347h3v1h-3zm-1 1h1v1h-1zm4 0h1v1h-1zm-5 1h1v3h-1zm6 0h1v3h-1zm-5 3h1v1h-1zm4 0h1v1h-1zm-3 1h3v1h-3zM387 337h3v1h-3zm-1 1h1v1h-1zm4 0h1v1h-1zm-5 1h1v3h-1zm6 0h1v3h-1zm-5 3h1v1h-1zm4 0h1v1h-1zm-3 1h3v1h-3zM405 339h3v1h-3zm-1 1h1v1h-1zm4 0h1v1h-1zm-5 1h1v3h-1zm6 0h1v3h-1zm-5 3h1v1h-1zm4 0h1v1h-1zm-3 1h3v1h-3zM370 325h3v1h-3zm-1 1h1v1h-1zm4 0h1v1h-1zm-5 1h1v3h-1zm6 0h1v3h-1zm-5 3h1v1h-1zm4 0h1v1h-1zm-3 1h3v1h-3zM362 344h3v1h-3zm-1 1h1v1h-1zm4 0h1v1h-1zm-5 1h1v3h-1zm6 0h1v3h-1zm-5 3h1v1h-1zm4 0h1v1h-1zm-3 1h3v1h-3zM381 330h3v1h-3zm-1 1h1v1h-1zm4 0h1v1h-1zm-5 1h1v3h-1zm6 0h1v3h-1zm-5 3h1v1h-1zm4 0h1v1h-1zm-3 1h3v1h-3zM389 345h3v1h-3zm-1 1h1v1h-1zm4 0h1v1h-1zm-5 1h1v3h-1zm6 0h1v3h-1zm-5 3h1v1h-1zm4 0h1v1h-1zm-3 1h3v1h-3zM359 323h3v1h-3zm-1 1h1v1h-1zm4 0h1v1h-1zm-5 1h1v3h-1zm6 0h1v3h-1zm-5 3h1v1h-1zm4 0h1v1h-1zm-3 1h3v1h-3zM355 326h3v1h-3zm-1 1h1v1h-1zm4 0h1v1h-1zm-5 1h1v3h-1zm6 0h1v3h-1zm-5 3h1v1h-1zm4 0h1v1h-1zm-3 1h3v1h-3zM380 343h3v1h-3zm-1 1h1v1h-1zm4 0h1v1h-1zm-5 1h1v3h-1zm6 0h1v3h-1zm-5 3h1v1h-1zm4 0h1v1h-1zm-3 1h3v1h-3zM389 332h3v1h-3zm-1 1h1v1h-1zm4 0h1v1h-1zm-5 1h1v3h-1zm6 0h1v3h-1zm-5 3h1v1h-1zm4 0h1v1h-1zm-3 1h3v1h-3zM367 342h3v1h-3zm-1 1h1v1h-1zm4 0h1v1h-1zm-5 1h1v3h-1zm6 0h1v3h-1zm-5 3h1v1h-1zm4 0h1v1h-1zm-3 1h3v1h-3zM396 342h3v1h-3zm-1 1h1v1h-1zm4 0h1v1h-1zm-5 1h1v3h-1zm6 0h1v3h-1zm-5 3h1v1h-1zm4 0h1v1h-1zm-3 1h3v1h-3zM360 336h3v1h-3zm-1 1h1v1h-1zm4 0h1v1h-1zm-5 1h1v3h-1zm6 0h1v3h-1zm-5 3h1v1h-1zm4 0h1v1h-1zm-3 1h3v1h-3zM393 342h3v1h-3zm-1 1h1v1h-1zm4 0h1v1h-1zm-5 1h1v3h-1zm6 0h1v3h-1zm-5 3h1v1h-1zm4 0h1v1h-1zm-3 1h3v1h-3zM388 344h3v1h-3zm-1 1h1v1h-1zm4 0h1v1h-1zm-5 1h1v3h-1zm6 0h1v3h-1zm-5 3h1v1h-1zm4 0h1v1h-1zm-3 1h3v1h-3zM358 337h3v1h-3zm-1 1h1v1h-1zm4 0h1v1h-1zm-5 1h1v3h-1zm6 0h1v3h-1zm-5 3h1v1h-1zm4 0h1v1h-1zm-3 1h3v1h-3zM391 334h3v1h-3zm-1 1h1v1h-1zm4 0h1v1h-1zm-5 1h1v3h-1zm6 0h1v3h-1zm-5 3h1v1h-1zm4 0h1v1h-1zm-3 1h3v1h-3zM367 313h3v1h-3zm-1 1h1v1h-1zm4 0h1v1h-1zm-5 1h1v3h-1zm6 0h1v3h-1zm-5 3h1v1h-1zm4 0h1v1h-1zm-3 1h3v1h-3zM385 342h3v1h-3zm-1 1h1v1h-1zm4 0h1v1h-1zm-5 1h1v3h-1zm6 0h1v3h-1zm-5 3h1v1h-1zm4 0h1v1h-1zm-3 1h3v1h-3zM366 318h3v1h-3zm-1 1h1v1h-1zm4 0h1v1h-1zm-5 1h1v3h-1zm6 0h1v3h-1zm-5 3h1v1h-1zm4 0h1v1h-1zm-3 1h3v1h-3zM364 314h3v1h-3zm-1 1h1v1h-1zm4 0h1v1h-1zm-5 1h1v3h-1zm6 0h1v3h-1zm-5 3h1v1h-1zm4 0h1v1h-1zm-3 1h3v1h-3zM351 334h3v1h-3zm-1 1h1v1h-1zm4 0h1v1h-1zm-5 1h1v3h-1zm6 0h1v3h-1zm-5 3h1v1h-1zm4 0h1v1h-1zm-3 1h3v1h-3zM359 321h3v1h-3zm-1 1h1v1h-1zm4 0h1v1h-1zm-5 1h1v3h-1zm6 0h1v3h-1zm-5 3h1v1h-1zm4 0h1v1h-1zm-3 1h3v1h-3zM354 327h3v1h-3zm-1 1h1v1h-1zm4 0h1v1h-1zm-5 1h1v3h-1zm6 0h1v3h-1zm-5 3h1v1h-1zm4 0h1v1h-1zm-3 1h3v1h-3zM383 341h3v1h-3zm-1 1h1v1h-1zm4 0h1v1h-1zm-5 1h1v3h-1zm6 0h1v3h-1zm-5 3h1v1h-1zm4 0h1v1h-1zm-3 1h3v1h-3zM357 319h3v1h-3zm-1 1h1v1h-1zm4 0h1v1h-1zm-5 1h1v3h-1zm6 0h1v3h-1zm-5 3h1v1h-1zm4 0h1v1h-1zm-3 1h3v1h-3zM370 332h3v1h-3zm-1 1h1v1h-1zm4 0h1v1h-1zm-5 1h1v3h-1zm6 0h1v3h-1zm-5 3h1v1h-1zm4 0h1v1h-1zm-3 1h3v1h-3zM363 341h3v1h-3zm-1 1h1v1h-1zm4 0h1v1h-1zm-5 1h1v3h-1zm6 0h1v3h-1zm-5 3h1v1h-1zm4 0h1v1h-1zm-3 1h3v1h-3zM363 342h3v1h-3zm-1 1h1v1h-1zm4 0h1v1h-1zm-5 1h1v3h-1zm6 0h1v3h-1zm-5 3h1v1h-1zm4 0h1v1h-1zm-3 1h3v1h-3zM353 340h3v1h-3zm-1 1h1v1h-1zm4 0h1v1h-1zm-5 1h1v3h-1zm6 0h1v3h-1zm-5 3h1v1h-1zm4 0h1v1h-1zm-3 1h3v1h-3zM353 330h3v1h-3zm-1 1h1v1h-1zm4 0h1v1h-1zm-5 1h1v3h-1zm6 0h1v3h-1zm-5 3h1v1h-1zm4 0h1v1h-1zm-3 1h3v1h-3zM387 338h3v1h-3zm-1 1h1v1h-1zm4 0h1v1h-1zm-5 1h1v3h-1zm6 0h1v3h-1zm-5 3h1v1h-1zm4 0h1v1h-1zm-3 1h3v1h-3zM384 326h3v1h-3zm-1 1h1v1h-1zm4 0h1v1h-1zm-5 1h1v3h-1zm6 0h1v3h-1zm-5 3h1v1h-1zm4 0h1v1h-1zm-3 1h3v1h-3zM380 333h3v1h-3zm-1 1h1v1h-1zm4 0h1v1h-1zm-5 1h1v3h-1zm6 0h1v3h-1zm-5 3h1v1h-1zm4 0h1v1h-1zm-3 1h3v1h-3zM364 343h3v1h-3zm-1 1h1v1h-1zm4 0h1v1h-1zm-5 1h1v3h-1zm6 0h1v3h-1zm-5 3h1v1h-1zm4 0h1v1h-1zm-3 1h3v1h-3zM377 336h3v1h-3zm-1 1h1v1h-1zm4 0h1v1h-1zm-5 1h1v3h-1zm6 0h1v3h-1zm-5 3h1v1h-1zm4 0h1v1h-1zm-3 1h3v1h-3zM374 321h3v1h-3zm-1 1h1v1h-1zm4 0h1v1h-1zm-5 1h1v3h-1zm6 0h1v3h-1zm-5 3h1v1h-1zm4 0h1v1h-1zm-3 1h3v1h-3zM362 338h3v1h-3zm-1 1h1v1h-1zm4 0h1v1h-1zm-5 1h1v3h-1zm6 0h1v3h-1zm-5 3h1v1h-1zm4 0h1v1h-1zm-3 1h3v1h-3zM380 327h3v1h-3zm-1 1h1v1h-1zm4 0h1v1h-1zm-5 1h1v3h-1zm6 0h1v3h-1zm-5 3h1v1h-1zm4 0h1v1h-1zm-3 1h3v1h-3zM362 337h3v1h-3zm-1 1h1v1h-1zm4 0h1v1h-1zm-5 1h1v3h-1zm6 0h1v3h-1zm-5 3h1v1h-1zm4 0h1v1h-1zm-3 1h3v1h-3zM362 320h3v1h-3zm-1 1h1v1h-1zm4 0h1v1h-1zm-5 1h1v3h-1zm6 0h1v3h-1zm-5 3h1v1h-1zm4 0h1v1h-1zm-3 1h3v1h-3zM383 337h3v1h-3zm-1 1h1v1h-1zm4 0h1v1h-1zm-5 1h1v3h-1zm6 0h1v3h-1zm-5 3h1v1h-1zm4 0h1v1h-1zm-3 1h3v1h-3zM354 318h3v1h-3zm-1 1h1v1h-1zm4 0h1v1h-1zm-5 1h1v3h-1zm6 0h1v3h-1zm-5 3h1v1h-1zm4 0h1v1h-1zm-3 1h3v1h-3zM352 343h3v1h-3zm-1 1h1v1h-1zm4 0h1v1h-1zm-5 1h1v3h-1zm6 0h1v3h-1zm-5 3h1v1h-1zm4 0h1v1h-1zm-3 1h3v1h-3zM392 334h3v1h-3zm-1 1h1v1h-1zm4 0h1v1h-1zm-5 1h1v3h-1zm6 0h1v3h-1zm-5 3h1v1h-1zm4 0h1v1h-1zm-3 1h3v1h-3zM366 324h3v1h-3zm-1 1h1v1h-1zm4 0h1v1h-1zm-5 1h1v3h-1zm6 0h1v3h-1zm-5 3h1v1h-1zm4 0h1v1h-1zm-3 1h3v1h-3zM360 334h3v1h-3zm-1 1h1v1h-1zm4 0h1v1h-1zm-5 1h1v3h-1zm6 0h1v3h-1zm-5 3h1v1h-1zm4 0h1v1h-1zm-3 1h3v1h-3zM353 317h3v1h-3zm-1 1h1v1h-1zm4 0h1v1h-1zm-5 1h1v3h-1zm6 0h1v3h-1zm-5 3h1v1h-1zm4 0h1v1h-1zm-3 1h3v1h-3zM371 345h3v1h-3zm-1 1h1v1h-1zm4 0h1v1h-1zm-5 1h1v3h-1zm6 0h1v3h-1zm-5 3h1v1h-1zm4 0h1v1h-1zm-3 1h3v1h-3zM357 314h3v1h-3zm-1 1h1v1h-1zm4 0h1v1h-1zm-5 1h1v3h-1zm6 0h1v3h-1zm-5 3h1v1h-1zm4 0h1v1h-1zm-3 1h3v1h-3zM360 340h3v1h-3zm-1 1h1v1h-1zm4 0h1v1h-1zm-5 1h1v3h-1zm6 0h1v3h-1zm-5 3h1v1h-1zm4 0h1v1h-1zm-3 1h3v1h-3zM378 348h3v1h-3zm-1 1h1v1h-1zm4 0h1v1h-1zm-5 1h1v3h-1zm6 0h1v3h-1zm-5 3h1v1h-1zm4 0h1v1h-1zm-3 1h3v1h-3zM403 341h3v1h-3zm-1 1h1v1h-1zm4 0h1v1h-1zm-5 1h1v3h-1zm6 0h1v3h-1zm-5 3h1v1h-1zm4 0h1v1h-1zm-3 1h3v1h-3zM378 342h3v1h-3zm-1 1h1v1h-1zm4 0h1v1h-1zm-5 1h1v3h-1zm6 0h1v3h-1zm-5 3h1v1h-1zm4 0h1v1h-1zm-3 1h3v1h-3zM358 314h3v1h-3zm-1 1h1v1h-1zm4 0h1v1h-1zm-5 1h1v3h-1zm6 0h1v3h-1zm-5 3h1v1h-1zm4 0h1v1h-1zm-3 1h3v1h-3zM383 330h3v1h-3zm-1 1h1v1h-1zm4 0h1v1h-1zm-5 1h1v3h-1zm6 0h1v3h-1zm-5 3h1v1h-1zm4 0h1v1h-1zm-3 1h3v1h-3zM363 320h3v1h-3zm-1 1h1v1h-1zm4 0h1v1h-1zm-5 1h1v3h-1zm6 0h1v3h-1zm-5 3h1v1h-1zm4 0h1v1h-1zm-3 1h3v1h-3zM391 346h3v1h-3zm-1 1h1v1h-1zm4 0h1v1h-1zm-5 1h1v3h-1zm6 0h1v3h-1zm-5 3h1v1h-1zm4 0h1v1h-1zm-3 1h3v1h-3zM397 342h3v1h-3zm-1 1h1v1h-1zm4 0h1v1h-1zm-5 1h1v3h-1zm6 0h1v3h-1zm-5 3h1v1h-1zm4 0h1v1h-1zm-3 1h3v1h-3zM359 311h3v1h-3zm-1 1h1v1h-1zm4 0h1v1h-1zm-5 1h1v3h-1zm6 0h1v3h-1zm-5 3h1v1h-1zm4 0h1v1h-1zm-3 1h3v1h-3zM363 333h3v1h-3zm-1 1h1v1h-1zm4 0h1v1h-1zm-5 1h1v3h-1zm6 0h1v3h-1zm-5 3h1v1h-1zm4 0h1v1h-1zm-3 1h3v1h-3zM398 340h3v1h-3zm-1 1h1v1h-1zm4 0h1v1h-1zm-5 1h1v3h-1zm6 0h1v3h-1zm-5 3h1v1h-1zm4 0h1v1h-1zm-3 1h3v1h-3zM355 323h3v1h-3zm-1 1h1v1h-1zm4 0h1v1h-1zm-5 1h1v3h-1zm6 0h1v3h-1zm-5 3h1v1h-1zm4 0h1v1h-1zm-3 1h3v1h-3zM387 344h3v1h-3zm-1 1h1v1h-1zm4 0h1v1h-1zm-5 1h1v3h-1zm6 0h1v3h-1zm-5 3h1v1h-1zm4 0h1v1h-1zm-3 1h3v1h-3zM379 335h3v1h-3zm-1 1h1v1h-1zm4 0h1v1h-1zm-5 1h1v3h-1zm6 0h1v3h-1zm-5 3h1v1h-1zm4 0h1v1h-1zm-3 1h3v1h-3zM357 333h3v1h-3zm-1 1h1v1h-1zm4 0h1v1h-1zm-5 1h1v3h-1zm6 0h1v3h-1zm-5 3h1v1h-1zm4 0h1v1h-1zm-3 1h3v1h-3zM358 318h3v1h-3zm-1 1h1v1h-1zm4 0h1v1h-1zm-5 1h1v3h-1zm6 0h1v3h-1zm-5 3h1v1h-1zm4 0h1v1h-1zm-3 1h3v1h-3zM377 333h3v1h-3zm-1 1h1v1h-1zm4 0h1v1h-1zm-5 1h1v3h-1zm6 0h1v3h-1zm-5 3h1v1h-1zm4 0h1v1h-1zm-3 1h3v1h-3zM378 326h3v1h-3zm-1 1h1v1h-1zm4 0h1v1h-1zm-5 1h1v3h-1zm6 0h1v3h-1zm-5 3h1v1h-1zm4 0h1v1h-1zm-3 1h3v1h-3zM389 337h3v1h-3zm-1 1h1v1h-1zm4 0h1v1h-1zm-5 1h1v3h-1zm6 0h1v3h-1zm-5 3h1v1h-1zm4 0h1v1h-1zm-3 1h3v1h-3zM365 335h3v1h-3zm-1 1h1v1h-1zm4 0h1v1h-1zm-5 1h1v3h-1zm6 0h1v3h-1zm-5 3h1v1h-1zm4 0h1v1h-1zm-3 1h3v1h-3zM390 328h3v1h-3zm-1 1h1v1h-1zm4 0h1v1h-1zm-5 1h1v3h-1zm6 0h1v3h-1zm-5 3h1v1h-1zm4 0h1v1h-1zm-3 1h3v1h-3zM359 345h3v1h-3zm-1 1h1v1h-1zm4 0h1v1h-1zm-5 1h1v3h-1zm6 0h1v3h-1zm-5 3h1v1h-1zm4 0h1v1h-1zm-3 1h3v1h-3zM364 325h3v1h-3zm-1 1h1v1h-1zm4 0h1v1h-1zm-5 1h1v3h-1zm6 0h1v3h-1zm-5 3h1v1h-1zm4 0h1v1h-1zm-3 1h3v1h-3zM387 339h3v1h-3zm-1 1h1v1h-1zm4 0h1v1h-1zm-5 1h1v3h-1zm6 0h1v3h-1zm-5 3h1v1h-1zm4 0h1v1h-1zm-3 1h3v1h-3zM353 314h3v1h-3zm-1 1h1v1h-1zm4 0h1v1h-1zm-5 1h1v3h-1zm6 0h1v3h-1zm-5 3h1v1h-1zm4 0h1v1h-1zm-3 1h3v1h-3zM353 312h3v1h-3zm-1 1h1v1h-1zm4 0h1v1h-1zm-5 1h1v3h-1zm6 0h1v3h-1zm-5 3h1v1h-1zm4 0h1v1h-1zm-3 1h3v1h-3zM365 346h3v1h-3zm-1 1h1v1h-1zm4 0h1v1h-1zm-5 1h1v3h-1zm6 0h1v3h-1zm-5 3h1v1h-1zm4 0h1v1h-1zm-3 1h3v1h-3zM363 336h3v1h-3zm-1 1h1v1h-1zm4 0h1v1h-1zm-5 1h1v3h-1zm6 0h1v3h-1zm-5 3h1v1h-1zm4 0h1v1h-1zm-3 1h3v1h-3zM404 335h3v1h-3zm-1 1h1v1h-1zm4 0h1v1h-1zm-5 1h1v3h-1zm6 0h1v3h-1zm-5 3h1v1h-1zm4 0h1v1h-1zm-3 1h3v1h-3zM360 311h3v1h-3zm-1 1h1v1h-1zm4 0h1v1h-1zm-5 1h1v3h-1zm6 0h1v3h-1zm-5 3h1v1h-1zm4 0h1v1h-1zm-3 1h3v1h-3zM406 337h3v1h-3zm-1 1h1v1h-1zm4 0h1v1h-1zm-5 1h1v3h-1zm6 0h1v3h-1zm-5 3h1v1h-1zm4 0h1v1h-1zm-3 1h3v1h-3zM362 341h3v1h-3zm-1 1h1v1h-1zm4 0h1v1h-1zm-5 1h1v3h-1zm6 0h1v3h-1zm-5 3h1v1h-1zm4 0h1v1h-1zm-3 1h3v1h-3zM360 330h3v1h-3zm-1 1h1v1h-1zm4 0h1v1h-1zm-5 1h1v3h-1zm6 0h1v3h-1zm-5 3h1v1h-1zm4 0h1v1h-1zm-3 1h3v1h-3zM357 340h3v1h-3zm-1 1h1v1h-1zm4 0h1v1h-1zm-5 1h1v3h-1zm6 0h1v3h-1zm-5 3h1v1h-1zm4 0h1v1h-1zm-3 1h3v1h-3zM351 343h3v1h-3zm-1 1h1v1h-1zm4 0h1v1h-1zm-5 1h1v3h-1zm6 0h1v3h-1zm-5 3h1v1h-1zm4 0h1v1h-1zm-3 1h3v1h-3zM383 342h3v1h-3zm-1 1h1v1h-1zm4 0h1v1h-1zm-5 1h1v3h-1zm6 0h1v3h-1zm-5 3h1v1h-1zm4 0h1v1h-1zm-3 1h3v1h-3zM380 334h3v1h-3zm-1 1h1v1h-1zm4 0h1v1h-1zm-5 1h1v3h-1zm6 0h1v3h-1zm-5 3h1v1h-1zm4 0h1v1h-1zm-3 1h3v1h-3zM385 341h3v1h-3zm-1 1h1v1h-1zm4 0h1v1h-1zm-5 1h1v3h-1zm6 0h1v3h-1zm-5 3h1v1h-1zm4 0h1v1h-1zm-3 1h3v1h-3zM355 312h3v1h-3zm-1 1h1v1h-1zm4 0h1v1h-1zm-5 1h1v3h-1zm6 0h1v3h-1zm-5 3h1v1h-1zm4 0h1v1h-1zm-3 1h3v1h-3zM382 321h3v1h-3zm-1 1h1v1h-1zm4 0h1v1h-1zm-5 1h1v3h-1zm6 0h1v3h-1zm-5 3h1v1h-1zm4 0h1v1h-1zm-3 1h3v1h-3zM398 341h3v1h-3zm-1 1h1v1h-1zm4 0h1v1h-1zm-5 1h1v3h-1zm6 0h1v3h-1zm-5 3h1v1h-1zm4 0h1v1h-1zm-3 1h3v1h-3zM371 314h3v1h-3zm-1 1h1v1h-1zm4 0h1v1h-1zm-5 1h1v3h-1zm6 0h1v3h-1zm-5 3h1v1h-1zm4 0h1v1h-1zm-3 1h3v1h-3zM393 343h3v1h-3zm-1 1h1v1h-1zm4 0h1v1h-1zm-5 1h1v3h-1zm6 0h1v3h-1zm-5 3h1v1h-1zm4 0h1v1h-1zm-3 1h3v1h-3zM372 322h3v1h-3zm-1 1h1v1h-1zm4 0h1v1h-1zm-5 1h1v3h-1zm6 0h1v3h-1zm-5 3h1v1h-1zm4 0h1v1h-1zm-3 1h3v1h-3zM355 315h3v1h-3zm-1 1h1v1h-1zm4 0h1v1h-1zm-5 1h1v3h-1zm6 0h1v3h-1zm-5 3h1v1h-1zm4 0h1v1h-1zm-3 1h3v1h-3zM390 333h3v1h-3zm-1 1h1v1h-1zm4 0h1v1h-1zm-5 1h1v3h-1zm6 0h1v3h-1zm-5 3h1v1h-1zm4 0h1v1h-1zm-3 1h3v1h-3zM381 328h3v1h-3zm-1 1h1v1h-1zm4 0h1v1h-1zm-5 1h1v3h-1zm6 0h1v3h-1zm-5 3h1v1h-1zm4 0h1v1h-1zm-3 1h3v1h-3zM374 334h3v1h-3zm-1 1h1v1h-1zm4 0h1v1h-1zm-5 1h1v3h-1zm6 0h1v3h-1zm-5 3h1v1h-1zm4 0h1v1h-1zm-3 1h3v1h-3zM388 345h3v1h-3zm-1 1h1v1h-1zm4 0h1v1h-1zm-5 1h1v3h-1zm6 0h1v3h-1zm-5 3h1v1h-1zm4 0h1v1h-1zm-3 1h3v1h-3zM393 341h3v1h-3zm-1 1h1v1h-1zm4 0h1v1h-1zm-5 1h1v3h-1zm6 0h1v3h-1zm-5 3h1v1h-1zm4 0h1v1h-1zm-3 1h3v1h-3zM390 343h3v1h-3zm-1 1h1v1h-1zm4 0h1v1h-1zm-5 1h1v3h-1zm6 0h1v3h-1zm-5 3h1v1h-1zm4 0h1v1h-1zm-3 1h3v1h-3zM376 344h3v1h-3zm-1 1h1v1h-1zm4 0h1v1h-1zm-5 1h1v3h-1zm6 0h1v3h-1zm-5 3h1v1h-1zm4 0h1v1h-1zm-3 1h3v1h-3zM376 337h3v1h-3zm-1 1h1v1h-1zm4 0h1v1h-1zm-5 1h1v3h-1zm6 0h1v3h-1zm-5 3h1v1h-1zm4 0h1v1h-1zm-3 1h3v1h-3zM365 322h3v1h-3zm-1 1h1v1h-1zm4 0h1v1h-1zm-5 1h1v3h-1zm6 0h1v3h-1zm-5 3h1v1h-1zm4 0h1v1h-1zm-3 1h3v1h-3zM371 323h3v1h-3zm-1 1h1v1h-1zm4 0h1v1h-1zm-5 1h1v3h-1zm6 0h1v3h-1zm-5 3h1v1h-1zm4 0h1v1h-1zm-3 1h3v1h-3zM356 327h3v1h-3zm-1 1h1v1h-1zm4 0h1v1h-1zm-5 1h1v3h-1zm6 0h1v3h-1zm-5 3h1v1h-1zm4 0h1v1h-1zm-3 1h3v1h-3zM404 339h3v1h-3zm-1 1h1v1h-1zm4 0h1v1h-1zm-5 1h1v3h-1zm6 0h1v3h-1zm-5 3h1v1h-1zm4 0h1v1h-1zm-3 1h3v1h-3zM365 326h3v1h-3zm-1 1h1v1h-1zm4 0h1v1h-1zm-5 1h1v3h-1zm6 0h1v3h-1zm-5 3h1v1h-1zm4 0h1v1h-1zm-3 1h3v1h-3zM352 319h3v1h-3zm-1 1h1v1h-1zm4 0h1v1h-1zm-5 1h1v3h-1zm6 0h1v3h-1zm-5 3h1v1h-1zm4 0h1v1h-1zm-3 1h3v1h-3zM370 340h3v1h-3zm-1 1h1v1h-1zm4 0h1v1h-1zm-5 1h1v3h-1zm6 0h1v3h-1zm-5 3h1v1h-1zm4 0h1v1h-1zm-3 1h3v1h-3zM395 344h3v1h-3zm-1 1h1v1h-1zm4 0h1v1h-1zm-5 1h1v3h-1zm6 0h1v3h-1zm-5 3h1v1h-1zm4 0h1v1h-1zm-3 1h3v1h-3zM357 342h3v1h-3zm-1 1h1v1h-1zm4 0h1v1h-1zm-5 1h1v3h-1zm6 0h1v3h-1zm-5 3h1v1h-1zm4 0h1v1h-1zm-3 1h3v1h-3zM369 334h3v1h-3zm-1 1h1v1h-1zm4 0h1v1h-1zm-5 1h1v3h-1zm6 0h1v3h-1zm-5 3h1v1h-1zm4 0h1v1h-1zm-3 1h3v1h-3zM372 331h3v1h-3zm-1 1h1v1h-1zm4 0h1v1h-1zm-5 1h1v3h-1zm6 0h1v3h-1zm-5 3h1v1h-1zm4 0h1v1h-1zm-3 1h3v1h-3zM381 335h3v1h-3zm-1 1h1v1h-1zm4 0h1v1h-1zm-5 1h1v3h-1zm6 0h1v3h-1zm-5 3h1v1h-1zm4 0h1v1h-1zm-3 1h3v1h-3zM382 346h3v1h-3zm-1 1h1v1h-1zm4 0h1v1h-1zm-5 1h1v3h-1zm6 0h1v3h-1zm-5 3h1v1h-1zm4 0h1v1h-1zm-3 1h3v1h-3zM374 345h3v1h-3zm-1 1h1v1h-1zm4 0h1v1h-1zm-5 1h1v3h-1zm6 0h1v3h-1zm-5 3h1v1h-1zm4 0h1v1h-1zm-3 1h3v1h-3zM326 344h3v1h-3zm-1 1h1v1h-1zm4 0h1v1h-1zm-5 1h1v3h-1zm6 0h1v3h-1zm-5 3h1v1h-1zm4 0h1v1h-1zm-3 1h3v1h-3zM322 330h3v1h-3zm-1 1h1v1h-1zm4 0h1v1h-1zm-5 1h1v3h-1zm6 0h1v3h-1zm-5 3h1v1h-1zm4 0h1v1h-1zm-3 1h3v1h-3zM340 337h3v1h-3zm-1 1h1v1h-1zm4 0h1v1h-1zm-5 1h1v3h-1zm6 0h1v3h-1zm-5 3h1v1h-1zm4 0h1v1h-1zm-3 1h3v1h-3zM342 339h3v1h-3zm-1 1h1v1h-1zm4 0h1v1h-1zm-5 1h1v3h-1zm6 0h1v3h-1zm-5 3h1v1h-1zm4 0h1v1h-1zm-3 1h3v1h-3zM325 324h3v1h-3zm-1 1h1v1h-1zm4 0h1v1h-1zm-5 1h1v3h-1zm6 0h1v3h-1zm-5 3h1v1h-1zm4 0h1v1h-1zm-3 1h3v1h-3zM317 337h3v1h-3zm-1 1h1v1h-1zm4 0h1v1h-1zm-5 1h1v3h-1zm6 0h1v3h-1zm-5 3h1v1h-1zm4 0h1v1h-1zm-3 1h3v1h-3zM349 336h3v1h-3zm-1 1h1v1h-1zm4 0h1v1h-1zm-5 1h1v3h-1zm6 0h1v3h-1zm-5 3h1v1h-1zm4 0h1v1h-1zm-3 1h3v1h-3zM337 336h3v1h-3zm-1 1h1v1h-1zm4 0h1v1h-1zm-5 1h1v3h-1zm6 0h1v3h-1zm-5 3h1v1h-1zm4 0h1v1h-1zm-3 1h3v1h-3zM337 337h3v1h-3zm-1 1h1v1h-1zm4 0h1v1h-1zm-5 1h1v3h-1zm6 0h1v3h-1zm-5 3h1v1h-1zm4 0h1v1h-1zm-3 1h3v1h-3zM320 331h3v1h-3zm-1 1h1v1h-1zm4 0h1v1h-1zm-5 1h1v3h-1zm6 0h1v3h-1zm-5 3h1v1h-1zm4 0h1v1h-1zm-3 1h3v1h-3zM349 337h3v1h-3zm-1 1h1v1h-1zm4 0h1v1h-1zm-5 1h1v3h-1zm6 0h1v3h-1zm-5 3h1v1h-1zm4 0h1v1h-1zm-3 1h3v1h-3zM326 340h3v1h-3zm-1 1h1v1h-1zm4 0h1v1h-1zm-5 1h1v3h-1zm6 0h1v3h-1zm-5 3h1v1h-1zm4 0h1v1h-1zm-3 1h3v1h-3zM327 329h3v1h-3zm-1 1h1v1h-1zm4 0h1v1h-1zm-5 1h1v3h-1zm6 0h1v3h-1zm-5 3h1v1h-1zm4 0h1v1h-1zm-3 1h3v1h-3zM340 330h3v1h-3zm-1 1h1v1h-1zm4 0h1v1h-1zm-5 1h1v3h-1zm6 0h1v3h-1zm-5 3h1v1h-1zm4 0h1v1h-1zm-3 1h3v1h-3zM341 319h3v1h-3zm-1 1h1v1h-1zm4 0h1v1h-1zm-5 1h1v3h-1zm6 0h1v3h-1zm-5 3h1v1h-1zm4 0h1v1h-1zm-3 1h3v1h-3zM348 327h3v1h-3zm-1 1h1v1h-1zm4 0h1v1h-1zm-5 1h1v3h-1zm6 0h1v3h-1zm-5 3h1v1h-1zm4 0h1v1h-1zm-3 1h3v1h-3zM345 323h3v1h-3zm-1 1h1v1h-1zm4 0h1v1h-1zm-5 1h1v3h-1zm6 0h1v3h-1zm-5 3h1v1h-1zm4 0h1v1h-1zm-3 1h3v1h-3zM346 341h3v1h-3zm-1 1h1v1h-1zm4 0h1v1h-1zm-5 1h1v3h-1zm6 0h1v3h-1zm-5 3h1v1h-1zm4 0h1v1h-1zm-3 1h3v1h-3zM339 325h3v1h-3zm-1 1h1v1h-1zm4 0h1v1h-1zm-5 1h1v3h-1zm6 0h1v3h-1zm-5 3h1v1h-1zm4 0h1v1h-1zm-3 1h3v1h-3zM347 321h3v1h-3zm-1 1h1v1h-1zm4 0h1v1h-1zm-5 1h1v3h-1zm6 0h1v3h-1zm-5 3h1v1h-1zm4 0h1v1h-1zm-3 1h3v1h-3zM339 334h3v1h-3zm-1 1h1v1h-1zm4 0h1v1h-1zm-5 1h1v3h-1zm6 0h1v3h-1zm-5 3h1v1h-1zm4 0h1v1h-1zm-3 1h3v1h-3zM339 322h3v1h-3zm-1 1h1v1h-1zm4 0h1v1h-1zm-5 1h1v3h-1zm6 0h1v3h-1zm-5 3h1v1h-1zm4 0h1v1h-1zm-3 1h3v1h-3zM350 328h3v1h-3zm-1 1h1v1h-1zm4 0h1v1h-1zm-5 1h1v3h-1zm6 0h1v3h-1zm-5 3h1v1h-1zm4 0h1v1h-1zm-3 1h3v1h-3zM317 342h3v1h-3zm-1 1h1v1h-1zm4 0h1v1h-1zm-5 1h1v3h-1zm6 0h1v3h-1zm-5 3h1v1h-1zm4 0h1v1h-1zm-3 1h3v1h-3zM321 345h3v1h-3zm-1 1h1v1h-1zm4 0h1v1h-1zm-5 1h1v3h-1zm6 0h1v3h-1zm-5 3h1v1h-1zm4 0h1v1h-1zm-3 1h3v1h-3zM329 338h3v1h-3zm-1 1h1v1h-1zm4 0h1v1h-1zm-5 1h1v3h-1zm6 0h1v3h-1zm-5 3h1v1h-1zm4 0h1v1h-1zm-3 1h3v1h-3zM321 340h3v1h-3zm-1 1h1v1h-1zm4 0h1v1h-1zm-5 1h1v3h-1zm6 0h1v3h-1zm-5 3h1v1h-1zm4 0h1v1h-1zm-3 1h3v1h-3zM325 327h3v1h-3zm-1 1h1v1h-1zm4 0h1v1h-1zm-5 1h1v3h-1zm6 0h1v3h-1zm-5 3h1v1h-1zm4 0h1v1h-1zm-3 1h3v1h-3zM325 340h3v1h-3zm-1 1h1v1h-1zm4 0h1v1h-1zm-5 1h1v3h-1zm6 0h1v3h-1zm-5 3h1v1h-1zm4 0h1v1h-1zm-3 1h3v1h-3zM326 328h3v1h-3zm-1 1h1v1h-1zm4 0h1v1h-1zm-5 1h1v3h-1zm6 0h1v3h-1zm-5 3h1v1h-1zm4 0h1v1h-1zm-3 1h3v1h-3zM343 323h3v1h-3zm-1 1h1v1h-1zm4 0h1v1h-1zm-5 1h1v3h-1zm6 0h1v3h-1zm-5 3h1v1h-1zm4 0h1v1h-1zm-3 1h3v1h-3zM330 327h3v1h-3zm-1 1h1v1h-1zm4 0h1v1h-1zm-5 1h1v3h-1zm6 0h1v3h-1zm-5 3h1v1h-1zm4 0h1v1h-1zm-3 1h3v1h-3zM338 331h3v1h-3zm-1 1h1v1h-1zm4 0h1v1h-1zm-5 1h1v3h-1zm6 0h1v3h-1zm-5 3h1v1h-1zm4 0h1v1h-1zm-3 1h3v1h-3zM346 318h3v1h-3zm-1 1h1v1h-1zm4 0h1v1h-1zm-5 1h1v3h-1zm6 0h1v3h-1zm-5 3h1v1h-1zm4 0h1v1h-1zm-3 1h3v1h-3zM339 342h3v1h-3zm-1 1h1v1h-1zm4 0h1v1h-1zm-5 1h1v3h-1zm6 0h1v3h-1zm-5 3h1v1h-1zm4 0h1v1h-1zm-3 1h3v1h-3zM332 338h3v1h-3zm-1 1h1v1h-1zm4 0h1v1h-1zm-5 1h1v3h-1zm6 0h1v3h-1zm-5 3h1v1h-1zm4 0h1v1h-1zm-3 1h3v1h-3zM333 322h3v1h-3zm-1 1h1v1h-1zm4 0h1v1h-1zm-5 1h1v3h-1zm6 0h1v3h-1zm-5 3h1v1h-1zm4 0h1v1h-1zm-3 1h3v1h-3zM324 330h3v1h-3zm-1 1h1v1h-1zm4 0h1v1h-1zm-5 1h1v3h-1zm6 0h1v3h-1zm-5 3h1v1h-1zm4 0h1v1h-1zm-3 1h3v1h-3zM329 331h3v1h-3zm-1 1h1v1h-1zm4 0h1v1h-1zm-5 1h1v3h-1zm6 0h1v3h-1zm-5 3h1v1h-1zm4 0h1v1h-1zm-3 1h3v1h-3zM348 333h3v1h-3zm-1 1h1v1h-1zm4 0h1v1h-1zm-5 1h1v3h-1zm6 0h1v3h-1zm-5 3h1v1h-1zm4 0h1v1h-1zm-3 1h3v1h-3zM342 333h3v1h-3zm-1 1h1v1h-1zm4 0h1v1h-1zm-5 1h1v3h-1zm6 0h1v3h-1zm-5 3h1v1h-1zm4 0h1v1h-1zm-3 1h3v1h-3zM346 320h3v1h-3zm-1 1h1v1h-1zm4 0h1v1h-1zm-5 1h1v3h-1zm6 0h1v3h-1zm-5 3h1v1h-1zm4 0h1v1h-1zm-3 1h3v1h-3zM349 332h3v1h-3zm-1 1h1v1h-1zm4 0h1v1h-1zm-5 1h1v3h-1zm6 0h1v3h-1zm-5 3h1v1h-1zm4 0h1v1h-1zm-3 1h3v1h-3zM346 323h3v1h-3zm-1 1h1v1h-1zm4 0h1v1h-1zm-5 1h1v3h-1zm6 0h1v3h-1zm-5 3h1v1h-1zm4 0h1v1h-1zm-3 1h3v1h-3zM348 330h3v1h-3zm-1 1h1v1h-1zm4 0h1v1h-1zm-5 1h1v3h-1zm6 0h1v3h-1zm-5 3h1v1h-1zm4 0h1v1h-1zm-3 1h3v1h-3zM332 326h3v1h-3zm-1 1h1v1h-1zm4 0h1v1h-1zm-5 1h1v3h-1zm6 0h1v3h-1zm-5 3h1v1h-1zm4 0h1v1h-1zm-3 1h3v1h-3zM323 336h3v1h-3zm-1 1h1v1h-1zm4 0h1v1h-1zm-5 1h1v3h-1zm6 0h1v3h-1zm-5 3h1v1h-1zm4 0h1v1h-1zm-3 1h3v1h-3zM350 331h3v1h-3zm-1 1h1v1h-1zm4 0h1v1h-1zm-5 1h1v3h-1zm6 0h1v3h-1zm-5 3h1v1h-1zm4 0h1v1h-1zm-3 1h3v1h-3zM339 332h3v1h-3zm-1 1h1v1h-1zm4 0h1v1h-1zm-5 1h1v3h-1zm6 0h1v3h-1zm-5 3h1v1h-1zm4 0h1v1h-1zm-3 1h3v1h-3zM317 331h3v1h-3zm-1 1h1v1h-1zm4 0h1v1h-1zm-5 1h1v3h-1zm6 0h1v3h-1zm-5 3h1v1h-1zm4 0h1v1h-1zm-3 1h3v1h-3zM324 331h3v1h-3zm-1 1h1v1h-1zm4 0h1v1h-1zm-5 1h1v3h-1zm6 0h1v3h-1zm-5 3h1v1h-1zm4 0h1v1h-1zm-3 1h3v1h-3zM321 341h3v1h-3zm-1 1h1v1h-1zm4 0h1v1h-1zm-5 1h1v3h-1zm6 0h1v3h-1zm-5 3h1v1h-1zm4 0h1v1h-1zm-3 1h3v1h-3zM349 339h3v1h-3zm-1 1h1v1h-1zm4 0h1v1h-1zm-5 1h1v3h-1zm6 0h1v3h-1zm-5 3h1v1h-1zm4 0h1v1h-1zm-3 1h3v1h-3zM346 328h3v1h-3zm-1 1h1v1h-1zm4 0h1v1h-1zm-5 1h1v3h-1zm6 0h1v3h-1zm-5 3h1v1h-1zm4 0h1v1h-1zm-3 1h3v1h-3zM347 322h3v1h-3zm-1 1h1v1h-1zm4 0h1v1h-1zm-5 1h1v3h-1zm6 0h1v3h-1zm-5 3h1v1h-1zm4 0h1v1h-1zm-3 1h3v1h-3zM324 334h3v1h-3zm-1 1h1v1h-1zm4 0h1v1h-1zm-5 1h1v3h-1zm6 0h1v3h-1zm-5 3h1v1h-1zm4 0h1v1h-1zm-3 1h3v1h-3zM347 319h3v1h-3zm-1 1h1v1h-1zm4 0h1v1h-1zm-5 1h1v3h-1zm6 0h1v3h-1zm-5 3h1v1h-1zm4 0h1v1h-1zm-3 1h3v1h-3zM323 339h3v1h-3zm-1 1h1v1h-1zm4 0h1v1h-1zm-5 1h1v3h-1zm6 0h1v3h-1zm-5 3h1v1h-1zm4 0h1v1h-1zm-3 1h3v1h-3zM336 345h3v1h-3zm-1 1h1v1h-1zm4 0h1v1h-1zm-5 1h1v3h-1zm6 0h1v3h-1zm-5 3h1v1h-1zm4 0h1v1h-1zm-3 1h3v1h-3zM330 337h3v1h-3zm-1 1h1v1h-1zm4 0h1v1h-1zm-5 1h1v3h-1zm6 0h1v3h-1zm-5 3h1v1h-1zm4 0h1v1h-1zm-3 1h3v1h-3zM317 345h3v1h-3zm-1 1h1v1h-1zm4 0h1v1h-1zm-5 1h1v3h-1zm6 0h1v3h-1zm-5 3h1v1h-1zm4 0h1v1h-1zm-3 1h3v1h-3zM334 345h3v1h-3zm-1 1h1v1h-1zm4 0h1v1h-1zm-5 1h1v3h-1zm6 0h1v3h-1zm-5 3h1v1h-1zm4 0h1v1h-1zm-3 1h3v1h-3zM338 323h3v1h-3zm-1 1h1v1h-1zm4 0h1v1h-1zm-5 1h1v3h-1zm6 0h1v3h-1zm-5 3h1v1h-1zm4 0h1v1h-1zm-3 1h3v1h-3zM350 330h3v1h-3zm-1 1h1v1h-1zm4 0h1v1h-1zm-5 1h1v3h-1zm6 0h1v3h-1zm-5 3h1v1h-1zm4 0h1v1h-1zm-3 1h3v1h-3zM324 345h3v1h-3zm-1 1h1v1h-1zm4 0h1v1h-1zm-5 1h1v3h-1zm6 0h1v3h-1zm-5 3h1v1h-1zm4 0h1v1h-1zm-3 1h3v1h-3zM328 337h3v1h-3zm-1 1h1v1h-1zm4 0h1v1h-1zm-5 1h1v3h-1zm6 0h1v3h-1zm-5 3h1v1h-1zm4 0h1v1h-1zm-3 1h3v1h-3zM317 328h3v1h-3zm-1 1h1v1h-1zm4 0h1v1h-1zm-5 1h1v3h-1zm6 0h1v3h-1zm-5 3h1v1h-1zm4 0h1v1h-1zm-3 1h3v1h-3zM322 341h3v1h-3zm-1 1h1v1h-1zm4 0h1v1h-1zm-5 1h1v3h-1zm6 0h1v3h-1zm-5 3h1v1h-1zm4 0h1v1h-1zm-3 1h3v1h-3zM317 335h3v1h-3zm-1 1h1v1h-1zm4 0h1v1h-1zm-5 1h1v3h-1zm6 0h1v3h-1zm-5 3h1v1h-1zm4 0h1v1h-1zm-3 1h3v1h-3zM325 330h3v1h-3zm-1 1h1v1h-1zm4 0h1v1h-1zm-5 1h1v3h-1zm6 0h1v3h-1zm-5 3h1v1h-1zm4 0h1v1h-1zm-3 1h3v1h-3zM336 338h3v1h-3zm-1 1h1v1h-1zm4 0h1v1h-1zm-5 1h1v3h-1zm6 0h1v3h-1zm-5 3h1v1h-1zm4 0h1v1h-1zm-3 1h3v1h-3zM334 334h3v1h-3zm-1 1h1v1h-1zm4 0h1v1h-1zm-5 1h1v3h-1zm6 0h1v3h-1zm-5 3h1v1h-1zm4 0h1v1h-1zm-3 1h3v1h-3zM347 318h3v1h-3zm-1 1h1v1h-1zm4 0h1v1h-1zm-5 1h1v3h-1zm6 0h1v3h-1zm-5 3h1v1h-1zm4 0h1v1h-1zm-3 1h3v1h-3zM336 330h3v1h-3zm-1 1h1v1h-1zm4 0h1v1h-1zm-5 1h1v3h-1zm6 0h1v3h-1zm-5 3h1v1h-1zm4 0h1v1h-1zm-3 1h3v1h-3zM330 343h3v1h-3zm-1 1h1v1h-1zm4 0h1v1h-1zm-5 1h1v3h-1zm6 0h1v3h-1zm-5 3h1v1h-1zm4 0h1v1h-1zm-3 1h3v1h-3zM349 325h3v1h-3zm-1 1h1v1h-1zm4 0h1v1h-1zm-5 1h1v3h-1zm6 0h1v3h-1zm-5 3h1v1h-1zm4 0h1v1h-1zm-3 1h3v1h-3zM349 329h3v1h-3zm-1 1h1v1h-1zm4 0h1v1h-1zm-5 1h1v3h-1zm6 0h1v3h-1zm-5 3h1v1h-1zm4 0h1v1h-1zm-3 1h3v1h-3zM318 344h3v1h-3zm-1 1h1v1h-1zm4 0h1v1h-1zm-5 1h1v3h-1zm6 0h1v3h-1zm-5 3h1v1h-1zm4 0h1v1h-1zm-3 1h3v1h-3zM326 325h3v1h-3zm-1 1h1v1h-1zm4 0h1v1h-1zm-5 1h1v3h-1zm6 0h1v3h-1zm-5 3h1v1h-1zm4 0h1v1h-1zm-3 1h3v1h-3zM349 343h3v1h-3zm-1 1h1v1h-1zm4 0h1v1h-1zm-5 1h1v3h-1zm6 0h1v3h-1zm-5 3h1v1h-1zm4 0h1v1h-1zm-3 1h3v1h-3zM331 332h3v1h-3zm-1 1h1v1h-1zm4 0h1v1h-1zm-5 1h1v3h-1zm6 0h1v3h-1zm-5 3h1v1h-1zm4 0h1v1h-1zm-3 1h3v1h-3zM345 341h3v1h-3zm-1 1h1v1h-1zm4 0h1v1h-1zm-5 1h1v3h-1zm6 0h1v3h-1zm-5 3h1v1h-1zm4 0h1v1h-1zm-3 1h3v1h-3zM344 343h3v1h-3zm-1 1h1v1h-1zm4 0h1v1h-1zm-5 1h1v3h-1zm6 0h1v3h-1zm-5 3h1v1h-1zm4 0h1v1h-1zm-3 1h3v1h-3zM349 322h3v1h-3zm-1 1h1v1h-1zm4 0h1v1h-1zm-5 1h1v3h-1zm6 0h1v3h-1zm-5 3h1v1h-1zm4 0h1v1h-1zm-3 1h3v1h-3zM336 322h3v1h-3zm-1 1h1v1h-1zm4 0h1v1h-1zm-5 1h1v3h-1zm6 0h1v3h-1zm-5 3h1v1h-1zm4 0h1v1h-1zm-3 1h3v1h-3zM340 324h3v1h-3zm-1 1h1v1h-1zm4 0h1v1h-1zm-5 1h1v3h-1zm6 0h1v3h-1zm-5 3h1v1h-1zm4 0h1v1h-1zm-3 1h3v1h-3zM334 337h3v1h-3zm-1 1h1v1h-1zm4 0h1v1h-1zm-5 1h1v3h-1zm6 0h1v3h-1zm-5 3h1v1h-1zm4 0h1v1h-1zm-3 1h3v1h-3zM319 339h3v1h-3zm-1 1h1v1h-1zm4 0h1v1h-1zm-5 1h1v3h-1zm6 0h1v3h-1zm-5 3h1v1h-1zm4 0h1v1h-1zm-3 1h3v1h-3zM339 340h3v1h-3zm-1 1h1v1h-1zm4 0h1v1h-1zm-5 1h1v3h-1zm6 0h1v3h-1zm-5 3h1v1h-1zm4 0h1v1h-1zm-3 1h3v1h-3zM340 338h3v1h-3zm-1 1h1v1h-1zm4 0h1v1h-1zm-5 1h1v3h-1zm6 0h1v3h-1zm-5 3h1v1h-1zm4 0h1v1h-1zm-3 1h3v1h-3zM349 340h3v1h-3zm-1 1h1v1h-1zm4 0h1v1h-1zm-5 1h1v3h-1zm6 0h1v3h-1zm-5 3h1v1h-1zm4 0h1v1h-1zm-3 1h3v1h-3zM324 329h3v1h-3zm-1 1h1v1h-1zm4 0h1v1h-1zm-5 1h1v3h-1zm6 0h1v3h-1zm-5 3h1v1h-1zm4 0h1v1h-1zm-3 1h3v1h-3zM349 323h3v1h-3zm-1 1h1v1h-1zm4 0h1v1h-1zm-5 1h1v3h-1zm6 0h1v3h-1zm-5 3h1v1h-1zm4 0h1v1h-1zm-3 1h3v1h-3zM330 345h3v1h-3zm-1 1h1v1h-1zm4 0h1v1h-1zm-5 1h1v3h-1zm6 0h1v3h-1zm-5 3h1v1h-1zm4 0h1v1h-1zm-3 1h3v1h-3zM347 323h3v1h-3zm-1 1h1v1h-1zm4 0h1v1h-1zm-5 1h1v3h-1zm6 0h1v3h-1zm-5 3h1v1h-1zm4 0h1v1h-1zm-3 1h3v1h-3zM342 327h3v1h-3zm-1 1h1v1h-1zm4 0h1v1h-1zm-5 1h1v3h-1zm6 0h1v3h-1zm-5 3h1v1h-1zm4 0h1v1h-1zm-3 1h3v1h-3zM324 324h3v1h-3zm-1 1h1v1h-1zm4 0h1v1h-1zm-5 1h1v3h-1zm6 0h1v3h-1zm-5 3h1v1h-1zm4 0h1v1h-1zm-3 1h3v1h-3zM330 329h3v1h-3zm-1 1h1v1h-1zm4 0h1v1h-1zm-5 1h1v3h-1zm6 0h1v3h-1zm-5 3h1v1h-1zm4 0h1v1h-1zm-3 1h3v1h-3zM319 334h3v1h-3zm-1 1h1v1h-1zm4 0h1v1h-1zm-5 1h1v3h-1zm6 0h1v3h-1zm-5 3h1v1h-1zm4 0h1v1h-1zm-3 1h3v1h-3zM349 334h3v1h-3zm-1 1h1v1h-1zm4 0h1v1h-1zm-5 1h1v3h-1zm6 0h1v3h-1zm-5 3h1v1h-1zm4 0h1v1h-1zm-3 1h3v1h-3zM339 321h3v1h-3zm-1 1h1v1h-1zm4 0h1v1h-1zm-5 1h1v3h-1zm6 0h1v3h-1zm-5 3h1v1h-1zm4 0h1v1h-1zm-3 1h3v1h-3zM329 345h3v1h-3zm-1 1h1v1h-1zm4 0h1v1h-1zm-5 1h1v3h-1zm6 0h1v3h-1zm-5 3h1v1h-1zm4 0h1v1h-1zm-3 1h3v1h-3zM343 342h3v1h-3zm-1 1h1v1h-1zm4 0h1v1h-1zm-5 1h1v3h-1zm6 0h1v3h-1zm-5 3h1v1h-1zm4 0h1v1h-1zm-3 1h3v1h-3zM338 336h3v1h-3zm-1 1h1v1h-1zm4 0h1v1h-1zm-5 1h1v3h-1zm6 0h1v3h-1zm-5 3h1v1h-1zm4 0h1v1h-1zm-3 1h3v1h-3zM327 324h3v1h-3zm-1 1h1v1h-1zm4 0h1v1h-1zm-5 1h1v3h-1zm6 0h1v3h-1zm-5 3h1v1h-1zm4 0h1v1h-1zm-3 1h3v1h-3zM344 335h3v1h-3zm-1 1h1v1h-1zm4 0h1v1h-1zm-5 1h1v3h-1zm6 0h1v3h-1zm-5 3h1v1h-1zm4 0h1v1h-1zm-3 1h3v1h-3zM345 343h3v1h-3zm-1 1h1v1h-1zm4 0h1v1h-1zm-5 1h1v3h-1zm6 0h1v3h-1zm-5 3h1v1h-1zm4 0h1v1h-1zm-3 1h3v1h-3zM337 322h3v1h-3zm-1 1h1v1h-1zm4 0h1v1h-1zm-5 1h1v3h-1zm6 0h1v3h-1zm-5 3h1v1h-1zm4 0h1v1h-1zm-3 1h3v1h-3zM317 333h3v1h-3zm-1 1h1v1h-1zm4 0h1v1h-1zm-5 1h1v3h-1zm6 0h1v3h-1zm-5 3h1v1h-1zm4 0h1v1h-1zm-3 1h3v1h-3zM341 325h3v1h-3zm-1 1h1v1h-1zm4 0h1v1h-1zm-5 1h1v3h-1zm6 0h1v3h-1zm-5 3h1v1h-1zm4 0h1v1h-1zm-3 1h3v1h-3zM322 337h3v1h-3zm-1 1h1v1h-1zm4 0h1v1h-1zm-5 1h1v3h-1zm6 0h1v3h-1zm-5 3h1v1h-1zm4 0h1v1h-1zm-3 1h3v1h-3zM326 338h3v1h-3zm-1 1h1v1h-1zm4 0h1v1h-1zm-5 1h1v3h-1zm6 0h1v3h-1zm-5 3h1v1h-1zm4 0h1v1h-1zm-3 1h3v1h-3zM350 317h3v1h-3zm-1 1h1v1h-1zm4 0h1v1h-1zm-5 1h1v3h-1zm6 0h1v3h-1zm-5 3h1v1h-1zm4 0h1v1h-1zm-3 1h3v1h-3zM320 345h3v1h-3zm-1 1h1v1h-1zm4 0h1v1h-1zm-5 1h1v3h-1zm6 0h1v3h-1zm-5 3h1v1h-1zm4 0h1v1h-1zm-3 1h3v1h-3zM349 321h3v1h-3zm-1 1h1v1h-1zm4 0h1v1h-1zm-5 1h1v3h-1zm6 0h1v3h-1zm-5 3h1v1h-1zm4 0h1v1h-1zm-3 1h3v1h-3zM328 332h3v1h-3zm-1 1h1v1h-1zm4 0h1v1h-1zm-5 1h1v3h-1zm6 0h1v3h-1zm-5 3h1v1h-1zm4 0h1v1h-1zm-3 1h3v1h-3zM333 324h3v1h-3zm-1 1h1v1h-1zm4 0h1v1h-1zm-5 1h1v3h-1zm6 0h1v3h-1zm-5 3h1v1h-1zm4 0h1v1h-1zm-3 1h3v1h-3zM338 337h3v1h-3zm-1 1h1v1h-1zm4 0h1v1h-1zm-5 1h1v3h-1zm6 0h1v3h-1zm-5 3h1v1h-1zm4 0h1v1h-1zm-3 1h3v1h-3zM341 327h3v1h-3zm-1 1h1v1h-1zm4 0h1v1h-1zm-5 1h1v3h-1zm6 0h1v3h-1zm-5 3h1v1h-1zm4 0h1v1h-1zm-3 1h3v1h-3zM340 328h3v1h-3zm-1 1h1v1h-1zm4 0h1v1h-1zm-5 1h1v3h-1zm6 0h1v3h-1zm-5 3h1v1h-1zm4 0h1v1h-1zm-3 1h3v1h-3zM341 323h3v1h-3zm-1 1h1v1h-1zm4 0h1v1h-1zm-5 1h1v3h-1zm6 0h1v3h-1zm-5 3h1v1h-1zm4 0h1v1h-1zm-3 1h3v1h-3zM344 341h3v1h-3zm-1 1h1v1h-1zm4 0h1v1h-1zm-5 1h1v3h-1zm6 0h1v3h-1zm-5 3h1v1h-1zm4 0h1v1h-1zm-3 1h3v1h-3zM320 334h3v1h-3zm-1 1h1v1h-1zm4 0h1v1h-1zm-5 1h1v3h-1zm6 0h1v3h-1zm-5 3h1v1h-1zm4 0h1v1h-1zm-3 1h3v1h-3zM323 338h3v1h-3zm-1 1h1v1h-1zm4 0h1v1h-1zm-5 1h1v3h-1zm6 0h1v3h-1zm-5 3h1v1h-1zm4 0h1v1h-1zm-3 1h3v1h-3zM344 340h3v1h-3zm-1 1h1v1h-1zm4 0h1v1h-1zm-5 1h1v3h-1zm6 0h1v3h-1zm-5 3h1v1h-1zm4 0h1v1h-1zm-3 1h3v1h-3zM339 333h3v1h-3zm-1 1h1v1h-1zm4 0h1v1h-1zm-5 1h1v3h-1zm6 0h1v3h-1zm-5 3h1v1h-1zm4 0h1v1h-1zm-3 1h3v1h-3zM338 324h3v1h-3zm-1 1h1v1h-1zm4 0h1v1h-1zm-5 1h1v3h-1zm6 0h1v3h-1zm-5 3h1v1h-1zm4 0h1v1h-1zm-3 1h3v1h-3zM325 329h3v1h-3zm-1 1h1v1h-1zm4 0h1v1h-1zm-5 1h1v3h-1zm6 0h1v3h-1zm-5 3h1v1h-1zm4 0h1v1h-1zm-3 1h3v1h-3zM335 338h3v1h-3zm-1 1h1v1h-1zm4 0h1v1h-1zm-5 1h1v3h-1zm6 0h1v3h-1zm-5 3h1v1h-1zm4 0h1v1h-1zm-3 1h3v1h-3zM318 338h3v1h-3zm-1 1h1v1h-1zm4 0h1v1h-1zm-5 1h1v3h-1zm6 0h1v3h-1zm-5 3h1v1h-1zm4 0h1v1h-1zm-3 1h3v1h-3zM324 325h3v1h-3zm-1 1h1v1h-1zm4 0h1v1h-1zm-5 1h1v3h-1zm6 0h1v3h-1zm-5 3h1v1h-1zm4 0h1v1h-1zm-3 1h3v1h-3zM337 344h3v1h-3zm-1 1h1v1h-1zm4 0h1v1h-1zm-5 1h1v3h-1zm6 0h1v3h-1zm-5 3h1v1h-1zm4 0h1v1h-1zm-3 1h3v1h-3zM323 326h3v1h-3zm-1 1h1v1h-1zm4 0h1v1h-1zm-5 1h1v3h-1zm6 0h1v3h-1zm-5 3h1v1h-1zm4 0h1v1h-1zm-3 1h3v1h-3zM339 324h3v1h-3zm-1 1h1v1h-1zm4 0h1v1h-1zm-5 1h1v3h-1zm6 0h1v3h-1zm-5 3h1v1h-1zm4 0h1v1h-1zm-3 1h3v1h-3zM343 341h3v1h-3zm-1 1h1v1h-1zm4 0h1v1h-1zm-5 1h1v3h-1zm6 0h1v3h-1zm-5 3h1v1h-1zm4 0h1v1h-1zm-3 1h3v1h-3zM341 345h3v1h-3zm-1 1h1v1h-1zm4 0h1v1h-1zm-5 1h1v3h-1zm6 0h1v3h-1zm-5 3h1v1h-1zm4 0h1v1h-1zm-3 1h3v1h-3zM344 326h3v1h-3zm-1 1h1v1h-1zm4 0h1v1h-1zm-5 1h1v3h-1zm6 0h1v3h-1zm-5 3h1v1h-1zm4 0h1v1h-1zm-3 1h3v1h-3zM327 338h3v1h-3zm-1 1h1v1h-1zm4 0h1v1h-1zm-5 1h1v3h-1zm6 0h1v3h-1zm-5 3h1v1h-1zm4 0h1v1h-1zm-3 1h3v1h-3zM318 335h3v1h-3zm-1 1h1v1h-1zm4 0h1v1h-1zm-5 1h1v3h-1zm6 0h1v3h-1zm-5 3h1v1h-1zm4 0h1v1h-1zm-3 1h3v1h-3zM348 343h3v1h-3zm-1 1h1v1h-1zm4 0h1v1h-1zm-5 1h1v3h-1zm6 0h1v3h-1zm-5 3h1v1h-1zm4 0h1v1h-1zm-3 1h3v1h-3zM332 322h3v1h-3zm-1 1h1v1h-1zm4 0h1v1h-1zm-5 1h1v3h-1zm6 0h1v3h-1zm-5 3h1v1h-1zm4 0h1v1h-1zm-3 1h3v1h-3zM321 332h3v1h-3zm-1 1h1v1h-1zm4 0h1v1h-1zm-5 1h1v3h-1zm6 0h1v3h-1zm-5 3h1v1h-1zm4 0h1v1h-1zm-3 1h3v1h-3zM334 327h3v1h-3zm-1 1h1v1h-1zm4 0h1v1h-1zm-5 1h1v3h-1zm6 0h1v3h-1zm-5 3h1v1h-1zm4 0h1v1h-1zm-3 1h3v1h-3zM341 332h3v1h-3zm-1 1h1v1h-1zm4 0h1v1h-1zm-5 1h1v3h-1zm6 0h1v3h-1zm-5 3h1v1h-1zm4 0h1v1h-1zm-3 1h3v1h-3zM343 320h3v1h-3zm-1 1h1v1h-1zm4 0h1v1h-1zm-5 1h1v3h-1zm6 0h1v3h-1zm-5 3h1v1h-1zm4 0h1v1h-1zm-3 1h3v1h-3zM319 328h3v1h-3zm-1 1h1v1h-1zm4 0h1v1h-1zm-5 1h1v3h-1zm6 0h1v3h-1zm-5 3h1v1h-1zm4 0h1v1h-1zm-3 1h3v1h-3zM339 323h3v1h-3zm-1 1h1v1h-1zm4 0h1v1h-1zm-5 1h1v3h-1zm6 0h1v3h-1zm-5 3h1v1h-1zm4 0h1v1h-1zm-3 1h3v1h-3zM327 331h3v1h-3zm-1 1h1v1h-1zm4 0h1v1h-1zm-5 1h1v3h-1zm6 0h1v3h-1zm-5 3h1v1h-1zm4 0h1v1h-1zm-3 1h3v1h-3zM341 340h3v1h-3zm-1 1h1v1h-1zm4 0h1v1h-1zm-5 1h1v3h-1zm6 0h1v3h-1zm-5 3h1v1h-1zm4 0h1v1h-1zm-3 1h3v1h-3zM329 330h3v1h-3zm-1 1h1v1h-1zm4 0h1v1h-1zm-5 1h1v3h-1zm6 0h1v3h-1zm-5 3h1v1h-1zm4 0h1v1h-1zm-3 1h3v1h-3zM348 345h3v1h-3zm-1 1h1v1h-1zm4 0h1v1h-1zm-5 1h1v3h-1zm6 0h1v3h-1zm-5 3h1v1h-1zm4 0h1v1h-1zm-3 1h3v1h-3zM332 336h3v1h-3zm-1 1h1v1h-1zm4 0h1v1h-1zm-5 1h1v3h-1zm6 0h1v3h-1zm-5 3h1v1h-1zm4 0h1v1h-1zm-3 1h3v1h-3zM350 344h3v1h-3zm-1 1h1v1h-1zm4 0h1v1h-1zm-5 1h1v3h-1zm6 0h1v3h-1zm-5 3h1v1h-1zm4 0h1v1h-1zm-3 1h3v1h-3zM321 330h3v1h-3zm-1 1h1v1h-1zm4 0h1v1h-1zm-5 1h1v3h-1zm6 0h1v3h-1zm-5 3h1v1h-1zm4 0h1v1h-1zm-3 1h3v1h-3zM338 326h3v1h-3zm-1 1h1v1h-1zm4 0h1v1h-1zm-5 1h1v3h-1zm6 0h1v3h-1zm-5 3h1v1h-1zm4 0h1v1h-1zm-3 1h3v1h-3zM343 330h3v1h-3zm-1 1h1v1h-1zm4 0h1v1h-1zm-5 1h1v3h-1zm6 0h1v3h-1zm-5 3h1v1h-1zm4 0h1v1h-1zm-3 1h3v1h-3zM163 292h3v1h-3zm-1 1h1v1h-1zm4 0h1v1h-1zm-5 1h1v3h-1zm6 0h1v3h-1zm-5 3h1v1h-1zm4 0h1v1h-1zm-3 1h3v1h-3zM172 295h3v1h-3zm-1 1h1v1h-1zm4 0h1v1h-1zm-5 1h1v3h-1zm6 0h1v3h-1zm-5 3h1v1h-1zm4 0h1v1h-1zm-3 1h3v1h-3zM224 290h3v1h-3zm-1 1h1v1h-1zm4 0h1v1h-1zm-5 1h1v3h-1zm6 0h1v3h-1zm-5 3h1v1h-1zm4 0h1v1h-1zm-3 1h3v1h-3zM172 298h3v1h-3zm-1 1h1v1h-1zm4 0h1v1h-1zm-5 1h1v3h-1zm6 0h1v3h-1zm-5 3h1v1h-1zm4 0h1v1h-1zm-3 1h3v1h-3zM192 292h3v1h-3zm-1 1h1v1h-1zm4 0h1v1h-1zm-5 1h1v3h-1zm6 0h1v3h-1zm-5 3h1v1h-1zm4 0h1v1h-1zm-3 1h3v1h-3zM169 291h3v1h-3zm-1 1h1v1h-1zm4 0h1v1h-1zm-5 1h1v3h-1zm6 0h1v3h-1zm-5 3h1v1h-1zm4 0h1v1h-1zm-3 1h3v1h-3zM179 298h3v1h-3zm-1 1h1v1h-1zm4 0h1v1h-1zm-5 1h1v3h-1zm6 0h1v3h-1zm-5 3h1v1h-1zm4 0h1v1h-1zm-3 1h3v1h-3zM206 292h3v1h-3zm-1 1h1v1h-1zm4 0h1v1h-1zm-5 1h1v3h-1zm6 0h1v3h-1zm-5 3h1v1h-1zm4 0h1v1h-1zm-3 1h3v1h-3zM195 298h3v1h-3zm-1 1h1v1h-1zm4 0h1v1h-1zm-5 1h1v3h-1zm6 0h1v3h-1zm-5 3h1v1h-1zm4 0h1v1h-1zm-3 1h3v1h-3zM174 301h3v1h-3zm-1 1h1v1h-1zm4 0h1v1h-1zm-5 1h1v3h-1zm6 0h1v3h-1zm-5 3h1v1h-1zm4 0h1v1h-1zm-3 1h3v1h-3zM167 299h3v1h-3zm-1 1h1v1h-1zm4 0h1v1h-1zm-5 1h1v3h-1zm6 0h1v3h-1zm-5 3h1v1h-1zm4 0h1v1h-1zm-3 1h3v1h-3zM185 291h3v1h-3zm-1 1h1v1h-1zm4 0h1v1h-1zm-5 1h1v3h-1zm6 0h1v3h-1zm-5 3h1v1h-1zm4 0h1v1h-1zm-3 1h3v1h-3zM179 294h3v1h-3zm-1 1h1v1h-1zm4 0h1v1h-1zm-5 1h1v3h-1zm6 0h1v3h-1zm-5 3h1v1h-1zm4 0h1v1h-1zm-3 1h3v1h-3zM236 290h3v1h-3zm-1 1h1v1h-1zm4 0h1v1h-1zm-5 1h1v3h-1zm6 0h1v3h-1zm-5 3h1v1h-1zm4 0h1v1h-1zm-3 1h3v1h-3zM225 292h3v1h-3zm-1 1h1v1h-1zm4 0h1v1h-1zm-5 1h1v3h-1zm6 0h1v3h-1zm-5 3h1v1h-1zm4 0h1v1h-1zm-3 1h3v1h-3zM191 299h3v1h-3zm-1 1h1v1h-1zm4 0h1v1h-1zm-5 1h1v3h-1zm6 0h1v3h-1zm-5 3h1v1h-1zm4 0h1v1h-1zm-3 1h3v1h-3zM226 296h3v1h-3zm-1 1h1v1h-1zm4 0h1v1h-1zm-5 1h1v3h-1zm6 0h1v3h-1zm-5 3h1v1h-1zm4 0h1v1h-1zm-3 1h3v1h-3zM160 298h3v1h-3zm-1 1h1v1h-1zm4 0h1v1h-1zm-5 1h1v3h-1zm6 0h1v3h-1zm-5 3h1v1h-1zm4 0h1v1h-1zm-3 1h3v1h-3zM206 300h3v1h-3zm-1 1h1v1h-1zm4 0h1v1h-1zm-5 1h1v3h-1zm6 0h1v3h-1zm-5 3h1v1h-1zm4 0h1v1h-1zm-3 1h3v1h-3zM225 299h3v1h-3zm-1 1h1v1h-1zm4 0h1v1h-1zm-5 1h1v3h-1zm6 0h1v3h-1zm-5 3h1v1h-1zm4 0h1v1h-1zm-3 1h3v1h-3zM180 293h3v1h-3zm-1 1h1v1h-1zm4 0h1v1h-1zm-5 1h1v3h-1zm6 0h1v3h-1zm-5 3h1v1h-1zm4 0h1v1h-1zm-3 1h3v1h-3zM188 293h3v1h-3zm-1 1h1v1h-1zm4 0h1v1h-1zm-5 1h1v3h-1zm6 0h1v3h-1zm-5 3h1v1h-1zm4 0h1v1h-1zm-3 1h3v1h-3zM177 300h3v1h-3zm-1 1h1v1h-1zm4 0h1v1h-1zm-5 1h1v3h-1zm6 0h1v3h-1zm-5 3h1v1h-1zm4 0h1v1h-1zm-3 1h3v1h-3zM191 296h3v1h-3zm-1 1h1v1h-1zm4 0h1v1h-1zm-5 1h1v3h-1zm6 0h1v3h-1zm-5 3h1v1h-1zm4 0h1v1h-1zm-3 1h3v1h-3zM228 298h3v1h-3zm-1 1h1v1h-1zm4 0h1v1h-1zm-5 1h1v3h-1zm6 0h1v3h-1zm-5 3h1v1h-1zm4 0h1v1h-1zm-3 1h3v1h-3zM178 300h3v1h-3zm-1 1h1v1h-1zm4 0h1v1h-1zm-5 1h1v3h-1zm6 0h1v3h-1zm-5 3h1v1h-1zm4 0h1v1h-1zm-3 1h3v1h-3zM215 298h3v1h-3zm-1 1h1v1h-1zm4 0h1v1h-1zm-5 1h1v3h-1zm6 0h1v3h-1zm-5 3h1v1h-1zm4 0h1v1h-1zm-3 1h3v1h-3zM210 293h3v1h-3zm-1 1h1v1h-1zm4 0h1v1h-1zm-5 1h1v3h-1zm6 0h1v3h-1zm-5 3h1v1h-1zm4 0h1v1h-1zm-3 1h3v1h-3zM201 292h3v1h-3zm-1 1h1v1h-1zm4 0h1v1h-1zm-5 1h1v3h-1zm6 0h1v3h-1zm-5 3h1v1h-1zm4 0h1v1h-1zm-3 1h3v1h-3zM223 293h3v1h-3zm-1 1h1v1h-1zm4 0h1v1h-1zm-5 1h1v3h-1zm6 0h1v3h-1zm-5 3h1v1h-1zm4 0h1v1h-1zm-3 1h3v1h-3zM224 299h3v1h-3zm-1 1h1v1h-1zm4 0h1v1h-1zm-5 1h1v3h-1zm6 0h1v3h-1zm-5 3h1v1h-1zm4 0h1v1h-1zm-3 1h3v1h-3zM227 290h3v1h-3zm-1 1h1v1h-1zm4 0h1v1h-1zm-5 1h1v3h-1zm6 0h1v3h-1zm-5 3h1v1h-1zm4 0h1v1h-1zm-3 1h3v1h-3zM232 298h3v1h-3zm-1 1h1v1h-1zm4 0h1v1h-1zm-5 1h1v3h-1zm6 0h1v3h-1zm-5 3h1v1h-1zm4 0h1v1h-1zm-3 1h3v1h-3zM201 294h3v1h-3zm-1 1h1v1h-1zm4 0h1v1h-1zm-5 1h1v3h-1zm6 0h1v3h-1zm-5 3h1v1h-1zm4 0h1v1h-1zm-3 1h3v1h-3zM185 299h3v1h-3zm-1 1h1v1h-1zm4 0h1v1h-1zm-5 1h1v3h-1zm6 0h1v3h-1zm-5 3h1v1h-1zm4 0h1v1h-1zm-3 1h3v1h-3zM221 291h3v1h-3zm-1 1h1v1h-1zm4 0h1v1h-1zm-5 1h1v3h-1zm6 0h1v3h-1zm-5 3h1v1h-1zm4 0h1v1h-1zm-3 1h3v1h-3zM164 289h3v1h-3zm-1 1h1v1h-1zm4 0h1v1h-1zm-5 1h1v3h-1zm6 0h1v3h-1zm-5 3h1v1h-1zm4 0h1v1h-1zm-3 1h3v1h-3zM216 290h3v1h-3zm-1 1h1v1h-1zm4 0h1v1h-1zm-5 1h1v3h-1zm6 0h1v3h-1zm-5 3h1v1h-1zm4 0h1v1h-1zm-3 1h3v1h-3zM195 293h3v1h-3zm-1 1h1v1h-1zm4 0h1v1h-1zm-5 1h1v3h-1zm6 0h1v3h-1zm-5 3h1v1h-1zm4 0h1v1h-1zm-3 1h3v1h-3zM183 296h3v1h-3zm-1 1h1v1h-1zm4 0h1v1h-1zm-5 1h1v3h-1zm6 0h1v3h-1zm-5 3h1v1h-1zm4 0h1v1h-1zm-3 1h3v1h-3zM228 294h3v1h-3zm-1 1h1v1h-1zm4 0h1v1h-1zm-5 1h1v3h-1zm6 0h1v3h-1zm-5 3h1v1h-1zm4 0h1v1h-1zm-3 1h3v1h-3zM229 298h3v1h-3zm-1 1h1v1h-1zm4 0h1v1h-1zm-5 1h1v3h-1zm6 0h1v3h-1zm-5 3h1v1h-1zm4 0h1v1h-1zm-3 1h3v1h-3zM183 300h3v1h-3zm-1 1h1v1h-1zm4 0h1v1h-1zm-5 1h1v3h-1zm6 0h1v3h-1zm-5 3h1v1h-1zm4 0h1v1h-1zm-3 1h3v1h-3zM205 299h3v1h-3zm-1 1h1v1h-1zm4 0h1v1h-1zm-5 1h1v3h-1zm6 0h1v3h-1zm-5 3h1v1h-1zm4 0h1v1h-1zm-3 1h3v1h-3zM199 294h3v1h-3zm-1 1h1v1h-1zm4 0h1v1h-1zm-5 1h1v3h-1zm6 0h1v3h-1zm-5 3h1v1h-1zm4 0h1v1h-1zm-3 1h3v1h-3zM191 300h3v1h-3zm-1 1h1v1h-1zm4 0h1v1h-1zm-5 1h1v3h-1zm6 0h1v3h-1zm-5 3h1v1h-1zm4 0h1v1h-1zm-3 1h3v1h-3zM211 291h3v1h-3zm-1 1h1v1h-1zm4 0h1v1h-1zm-5 1h1v3h-1zm6 0h1v3h-1zm-5 3h1v1h-1zm4 0h1v1h-1zm-3 1h3v1h-3zM187 293h3v1h-3zm-1 1h1v1h-1zm4 0h1v1h-1zm-5 1h1v3h-1zm6 0h1v3h-1zm-5 3h1v1h-1zm4 0h1v1h-1zm-3 1h3v1h-3zM233 297h3v1h-3zm-1 1h1v1h-1zm4 0h1v1h-1zm-5 1h1v3h-1zm6 0h1v3h-1zm-5 3h1v1h-1zm4 0h1v1h-1zm-3 1h3v1h-3zM169 300h3v1h-3zm-1 1h1v1h-1zm4 0h1v1h-1zm-5 1h1v3h-1zm6 0h1v3h-1zm-5 3h1v1h-1zm4 0h1v1h-1zm-3 1h3v1h-3zM162 296h3v1h-3zm-1 1h1v1h-1zm4 0h1v1h-1zm-5 1h1v3h-1zm6 0h1v3h-1zm-5 3h1v1h-1zm4 0h1v1h-1zm-3 1h3v1h-3zM193 298h3v1h-3zm-1 1h1v1h-1zm4 0h1v1h-1zm-5 1h1v3h-1zm6 0h1v3h-1zm-5 3h1v1h-1zm4 0h1v1h-1zm-3 1h3v1h-3zM200 299h3v1h-3zm-1 1h1v1h-1zm4 0h1v1h-1zm-5 1h1v3h-1zm6 0h1v3h-1zm-5 3h1v1h-1zm4 0h1v1h-1zm-3 1h3v1h-3zM220 293h3v1h-3zm-1 1h1v1h-1zm4 0h1v1h-1zm-5 1h1v3h-1zm6 0h1v3h-1zm-5 3h1v1h-1zm4 0h1v1h-1zm-3 1h3v1h-3zM193 293h3v1h-3zm-1 1h1v1h-1zm4 0h1v1h-1zm-5 1h1v3h-1zm6 0h1v3h-1zm-5 3h1v1h-1zm4 0h1v1h-1zm-3 1h3v1h-3zM185 298h3v1h-3zm-1 1h1v1h-1zm4 0h1v1h-1zm-5 1h1v3h-1zm6 0h1v3h-1zm-5 3h1v1h-1zm4 0h1v1h-1zm-3 1h3v1h-3zM173 295h3v1h-3zm-1 1h1v1h-1zm4 0h1v1h-1zm-5 1h1v3h-1zm6 0h1v3h-1zm-5 3h1v1h-1zm4 0h1v1h-1zm-3 1h3v1h-3zM198 297h3v1h-3zm-1 1h1v1h-1zm4 0h1v1h-1zm-5 1h1v3h-1zm6 0h1v3h-1zm-5 3h1v1h-1zm4 0h1v1h-1zm-3 1h3v1h-3zM237 295h3v1h-3zm-1 1h1v1h-1zm4 0h1v1h-1zm-5 1h1v3h-1zm6 0h1v3h-1zm-5 3h1v1h-1zm4 0h1v1h-1zm-3 1h3v1h-3zM221 290h3v1h-3zm-1 1h1v1h-1zm4 0h1v1h-1zm-5 1h1v3h-1zm6 0h1v3h-1zm-5 3h1v1h-1zm4 0h1v1h-1zm-3 1h3v1h-3zM230 295h3v1h-3zm-1 1h1v1h-1zm4 0h1v1h-1zm-5 1h1v3h-1zm6 0h1v3h-1zm-5 3h1v1h-1zm4 0h1v1h-1zm-3 1h3v1h-3zM218 300h3v1h-3zm-1 1h1v1h-1zm4 0h1v1h-1zm-5 1h1v3h-1zm6 0h1v3h-1zm-5 3h1v1h-1zm4 0h1v1h-1zm-3 1h3v1h-3zM187 300h3v1h-3zm-1 1h1v1h-1zm4 0h1v1h-1zm-5 1h1v3h-1zm6 0h1v3h-1zm-5 3h1v1h-1zm4 0h1v1h-1zm-3 1h3v1h-3zM198 300h3v1h-3zm-1 1h1v1h-1zm4 0h1v1h-1zm-5 1h1v3h-1zm6 0h1v3h-1zm-5 3h1v1h-1zm4 0h1v1h-1zm-3 1h3v1h-3zM199 301h3v1h-3zm-1 1h1v1h-1zm4 0h1v1h-1zm-5 1h1v3h-1zm6 0h1v3h-1zm-5 3h1v1h-1zm4 0h1v1h-1zm-3 1h3v1h-3zM208 299h3v1h-3zm-1 1h1v1h-1zm4 0h1v1h-1zm-5 1h1v3h-1zm6 0h1v3h-1zm-5 3h1v1h-1zm4 0h1v1h-1zm-3 1h3v1h-3zM192 296h3v1h-3zm-1 1h1v1h-1zm4 0h1v1h-1zm-5 1h1v3h-1zm6 0h1v3h-1zm-5 3h1v1h-1zm4 0h1v1h-1zm-3 1h3v1h-3zM179 292h3v1h-3zm-1 1h1v1h-1zm4 0h1v1h-1zm-5 1h1v3h-1zm6 0h1v3h-1zm-5 3h1v1h-1zm4 0h1v1h-1zm-3 1h3v1h-3zM192 295h3v1h-3zm-1 1h1v1h-1zm4 0h1v1h-1zm-5 1h1v3h-1zm6 0h1v3h-1zm-5 3h1v1h-1zm4 0h1v1h-1zm-3 1h3v1h-3zM159 292h3v1h-3zm-1 1h1v1h-1zm4 0h1v1h-1zm-5 1h1v3h-1zm6 0h1v3h-1zm-5 3h1v1h-1zm4 0h1v1h-1zm-3 1h3v1h-3zM177 291h3v1h-3zm-1 1h1v1h-1zm4 0h1v1h-1zm-5 1h1v3h-1zm6 0h1v3h-1zm-5 3h1v1h-1zm4 0h1v1h-1zm-3 1h3v1h-3zM175 296h3v1h-3zm-1 1h1v1h-1zm4 0h1v1h-1zm-5 1h1v3h-1zm6 0h1v3h-1zm-5 3h1v1h-1zm4 0h1v1h-1zm-3 1h3v1h-3zM214 298h3v1h-3zm-1 1h1v1h-1zm4 0h1v1h-1zm-5 1h1v3h-1zm6 0h1v3h-1zm-5 3h1v1h-1zm4 0h1v1h-1zm-3 1h3v1h-3zM180 299h3v1h-3zm-1 1h1v1h-1zm4 0h1v1h-1zm-5 1h1v3h-1zm6 0h1v3h-1zm-5 3h1v1h-1zm4 0h1v1h-1zm-3 1h3v1h-3zM232 294h3v1h-3zm-1 1h1v1h-1zm4 0h1v1h-1zm-5 1h1v3h-1zm6 0h1v3h-1zm-5 3h1v1h-1zm4 0h1v1h-1zm-3 1h3v1h-3zM166 289h3v1h-3zm-1 1h1v1h-1zm4 0h1v1h-1zm-5 1h1v3h-1zm6 0h1v3h-1zm-5 3h1v1h-1zm4 0h1v1h-1zm-3 1h3v1h-3zM221 297h3v1h-3zm-1 1h1v1h-1zm4 0h1v1h-1zm-5 1h1v3h-1zm6 0h1v3h-1zm-5 3h1v1h-1zm4 0h1v1h-1zm-3 1h3v1h-3zM178 290h3v1h-3zm-1 1h1v1h-1zm4 0h1v1h-1zm-5 1h1v3h-1zm6 0h1v3h-1zm-5 3h1v1h-1zm4 0h1v1h-1zm-3 1h3v1h-3zM207 292h3v1h-3zm-1 1h1v1h-1zm4 0h1v1h-1zm-5 1h1v3h-1zm6 0h1v3h-1zm-5 3h1v1h-1zm4 0h1v1h-1zm-3 1h3v1h-3zM166 290h3v1h-3zm-1 1h1v1h-1zm4 0h1v1h-1zm-5 1h1v3h-1zm6 0h1v3h-1zm-5 3h1v1h-1zm4 0h1v1h-1zm-3 1h3v1h-3zM183 295h3v1h-3zm-1 1h1v1h-1zm4 0h1v1h-1zm-5 1h1v3h-1zm6 0h1v3h-1zm-5 3h1v1h-1zm4 0h1v1h-1zm-3 1h3v1h-3zM173 294h3v1h-3zm-1 1h1v1h-1zm4 0h1v1h-1zm-5 1h1v3h-1zm6 0h1v3h-1zm-5 3h1v1h-1zm4 0h1v1h-1zm-3 1h3v1h-3zM190 293h3v1h-3zm-1 1h1v1h-1zm4 0h1v1h-1zm-5 1h1v3h-1zm6 0h1v3h-1zm-5 3h1v1h-1zm4 0h1v1h-1zm-3 1h3v1h-3zM192 293h3v1h-3zm-1 1h1v1h-1zm4 0h1v1h-1zm-5 1h1v3h-1zm6 0h1v3h-1zm-5 3h1v1h-1zm4 0h1v1h-1zm-3 1h3v1h-3zM213 293h3v1h-3zm-1 1h1v1h-1zm4 0h1v1h-1zm-5 1h1v3h-1zm6 0h1v3h-1zm-5 3h1v1h-1zm4 0h1v1h-1zm-3 1h3v1h-3zM171 300h3v1h-3zm-1 1h1v1h-1zm4 0h1v1h-1zm-5 1h1v3h-1zm6 0h1v3h-1zm-5 3h1v1h-1zm4 0h1v1h-1zm-3 1h3v1h-3zM225 298h3v1h-3zm-1 1h1v1h-1zm4 0h1v1h-1zm-5 1h1v3h-1zm6 0h1v3h-1zm-5 3h1v1h-1zm4 0h1v1h-1zm-3 1h3v1h-3zM186 296h3v1h-3zm-1 1h1v1h-1zm4 0h1v1h-1zm-5 1h1v3h-1zm6 0h1v3h-1zm-5 3h1v1h-1zm4 0h1v1h-1zm-3 1h3v1h-3zM230 293h3v1h-3zm-1 1h1v1h-1zm4 0h1v1h-1zm-5 1h1v3h-1zm6 0h1v3h-1zm-5 3h1v1h-1zm4 0h1v1h-1zm-3 1h3v1h-3zM193 292h3v1h-3zm-1 1h1v1h-1zm4 0h1v1h-1zm-5 1h1v3h-1zm6 0h1v3h-1zm-5 3h1v1h-1zm4 0h1v1h-1zm-3 1h3v1h-3zM202 297h3v1h-3zm-1 1h1v1h-1zm4 0h1v1h-1zm-5 1h1v3h-1zm6 0h1v3h-1zm-5 3h1v1h-1zm4 0h1v1h-1zm-3 1h3v1h-3zM170 293h3v1h-3zm-1 1h1v1h-1zm4 0h1v1h-1zm-5 1h1v3h-1zm6 0h1v3h-1zm-5 3h1v1h-1zm4 0h1v1h-1zm-3 1h3v1h-3zM205 297h3v1h-3zm-1 1h1v1h-1zm4 0h1v1h-1zm-5 1h1v3h-1zm6 0h1v3h-1zm-5 3h1v1h-1zm4 0h1v1h-1zm-3 1h3v1h-3zM185 301h3v1h-3zm-1 1h1v1h-1zm4 0h1v1h-1zm-5 1h1v3h-1zm6 0h1v3h-1zm-5 3h1v1h-1zm4 0h1v1h-1zm-3 1h3v1h-3zM202 293h3v1h-3zm-1 1h1v1h-1zm4 0h1v1h-1zm-5 1h1v3h-1zm6 0h1v3h-1zm-5 3h1v1h-1zm4 0h1v1h-1zm-3 1h3v1h-3zM229 299h3v1h-3zm-1 1h1v1h-1zm4 0h1v1h-1zm-5 1h1v3h-1zm6 0h1v3h-1zm-5 3h1v1h-1zm4 0h1v1h-1zm-3 1h3v1h-3zM161 292h3v1h-3zm-1 1h1v1h-1zm4 0h1v1h-1zm-5 1h1v3h-1zm6 0h1v3h-1zm-5 3h1v1h-1zm4 0h1v1h-1zm-3 1h3v1h-3zM196 295h3v1h-3zm-1 1h1v1h-1zm4 0h1v1h-1zm-5 1h1v3h-1zm6 0h1v3h-1zm-5 3h1v1h-1zm4 0h1v1h-1zm-3 1h3v1h-3zM186 295h3v1h-3zm-1 1h1v1h-1zm4 0h1v1h-1zm-5 1h1v3h-1zm6 0h1v3h-1zm-5 3h1v1h-1zm4 0h1v1h-1zm-3 1h3v1h-3zM231 297h3v1h-3zm-1 1h1v1h-1zm4 0h1v1h-1zm-5 1h1v3h-1zm6 0h1v3h-1zm-5 3h1v1h-1zm4 0h1v1h-1zm-3 1h3v1h-3zM196 292h3v1h-3zm-1 1h1v1h-1zm4 0h1v1h-1zm-5 1h1v3h-1zm6 0h1v3h-1zm-5 3h1v1h-1zm4 0h1v1h-1zm-3 1h3v1h-3zM189 296h3v1h-3zm-1 1h1v1h-1zm4 0h1v1h-1zm-5 1h1v3h-1zm6 0h1v3h-1zm-5 3h1v1h-1zm4 0h1v1h-1zm-3 1h3v1h-3zM220 291h3v1h-3zm-1 1h1v1h-1zm4 0h1v1h-1zm-5 1h1v3h-1zm6 0h1v3h-1zm-5 3h1v1h-1zm4 0h1v1h-1zm-3 1h3v1h-3zM171 297h3v1h-3zm-1 1h1v1h-1zm4 0h1v1h-1zm-5 1h1v3h-1zm6 0h1v3h-1zm-5 3h1v1h-1zm4 0h1v1h-1zm-3 1h3v1h-3zM161 290h3v1h-3zm-1 1h1v1h-1zm4 0h1v1h-1zm-5 1h1v3h-1zm6 0h1v3h-1zm-5 3h1v1h-1zm4 0h1v1h-1zm-3 1h3v1h-3zM164 299h3v1h-3zm-1 1h1v1h-1zm4 0h1v1h-1zm-5 1h1v3h-1zm6 0h1v3h-1zm-5 3h1v1h-1zm4 0h1v1h-1zm-3 1h3v1h-3zM163 291h3v1h-3zm-1 1h1v1h-1zm4 0h1v1h-1zm-5 1h1v3h-1zm6 0h1v3h-1zm-5 3h1v1h-1zm4 0h1v1h-1zm-3 1h3v1h-3zM216 298h3v1h-3zm-1 1h1v1h-1zm4 0h1v1h-1zm-5 1h1v3h-1zm6 0h1v3h-1zm-5 3h1v1h-1zm4 0h1v1h-1zm-3 1h3v1h-3zM202 300h3v1h-3zm-1 1h1v1h-1zm4 0h1v1h-1zm-5 1h1v3h-1zm6 0h1v3h-1zm-5 3h1v1h-1zm4 0h1v1h-1zm-3 1h3v1h-3zM217 300h3v1h-3zm-1 1h1v1h-1zm4 0h1v1h-1zm-5 1h1v3h-1zm6 0h1v3h-1zm-5 3h1v1h-1zm4 0h1v1h-1zm-3 1h3v1h-3zM227 298h3v1h-3zm-1 1h1v1h-1zm4 0h1v1h-1zm-5 1h1v3h-1zm6 0h1v3h-1zm-5 3h1v1h-1zm4 0h1v1h-1zm-3 1h3v1h-3zM162 289h3v1h-3zm-1 1h1v1h-1zm4 0h1v1h-1zm-5 1h1v3h-1zm6 0h1v3h-1zm-5 3h1v1h-1zm4 0h1v1h-1zm-3 1h3v1h-3zM214 296h3v1h-3zm-1 1h1v1h-1zm4 0h1v1h-1zm-5 1h1v3h-1zm6 0h1v3h-1zm-5 3h1v1h-1zm4 0h1v1h-1zm-3 1h3v1h-3zM173 296h3v1h-3zm-1 1h1v1h-1zm4 0h1v1h-1zm-5 1h1v3h-1zm6 0h1v3h-1zm-5 3h1v1h-1zm4 0h1v1h-1zm-3 1h3v1h-3zM179 291h3v1h-3zm-1 1h1v1h-1zm4 0h1v1h-1zm-5 1h1v3h-1zm6 0h1v3h-1zm-5 3h1v1h-1zm4 0h1v1h-1zm-3 1h3v1h-3zM173 290h3v1h-3zm-1 1h1v1h-1zm4 0h1v1h-1zm-5 1h1v3h-1zm6 0h1v3h-1zm-5 3h1v1h-1zm4 0h1v1h-1zm-3 1h3v1h-3zM186 298h3v1h-3zm-1 1h1v1h-1zm4 0h1v1h-1zm-5 1h1v3h-1zm6 0h1v3h-1zm-5 3h1v1h-1zm4 0h1v1h-1zm-3 1h3v1h-3zM164 295h3v1h-3zm-1 1h1v1h-1zm4 0h1v1h-1zm-5 1h1v3h-1zm6 0h1v3h-1zm-5 3h1v1h-1zm4 0h1v1h-1zm-3 1h3v1h-3zM193 299h3v1h-3zm-1 1h1v1h-1zm4 0h1v1h-1zm-5 1h1v3h-1zm6 0h1v3h-1zm-5 3h1v1h-1zm4 0h1v1h-1zm-3 1h3v1h-3zM204 294h3v1h-3zm-1 1h1v1h-1zm4 0h1v1h-1zm-5 1h1v3h-1zm6 0h1v3h-1zm-5 3h1v1h-1zm4 0h1v1h-1zm-3 1h3v1h-3zM227 296h3v1h-3zm-1 1h1v1h-1zm4 0h1v1h-1zm-5 1h1v3h-1zm6 0h1v3h-1zm-5 3h1v1h-1zm4 0h1v1h-1zm-3 1h3v1h-3zM185 293h3v1h-3zm-1 1h1v1h-1zm4 0h1v1h-1zm-5 1h1v3h-1zm6 0h1v3h-1zm-5 3h1v1h-1zm4 0h1v1h-1zm-3 1h3v1h-3zM170 290h3v1h-3zm-1 1h1v1h-1zm4 0h1v1h-1zm-5 1h1v3h-1zm6 0h1v3h-1zm-5 3h1v1h-1zm4 0h1v1h-1zm-3 1h3v1h-3zM189 297h3v1h-3zm-1 1h1v1h-1zm4 0h1v1h-1zm-5 1h1v3h-1zm6 0h1v3h-1zm-5 3h1v1h-1zm4 0h1v1h-1zm-3 1h3v1h-3zM159 299h3v1h-3zm-1 1h1v1h-1zm4 0h1v1h-1zm-5 1h1v3h-1zm6 0h1v3h-1zm-5 3h1v1h-1zm4 0h1v1h-1zm-3 1h3v1h-3zM220 295h3v1h-3zm-1 1h1v1h-1zm4 0h1v1h-1zm-5 1h1v3h-1zm6 0h1v3h-1zm-5 3h1v1h-1zm4 0h1v1h-1zm-3 1h3v1h-3zM191 297h3v1h-3zm-1 1h1v1h-1zm4 0h1v1h-1zm-5 1h1v3h-1zm6 0h1v3h-1zm-5 3h1v1h-1zm4 0h1v1h-1zm-3 1h3v1h-3zM203 298h3v1h-3zm-1 1h1v1h-1zm4 0h1v1h-1zm-5 1h1v3h-1zm6 0h1v3h-1zm-5 3h1v1h-1zm4 0h1v1h-1zm-3 1h3v1h-3zM188 291h3v1h-3zm-1 1h1v1h-1zm4 0h1v1h-1zm-5 1h1v3h-1zm6 0h1v3h-1zm-5 3h1v1h-1zm4 0h1v1h-1zm-3 1h3v1h-3zM220 299h3v1h-3zm-1 1h1v1h-1zm4 0h1v1h-1zm-5 1h1v3h-1zm6 0h1v3h-1zm-5 3h1v1h-1zm4 0h1v1h-1zm-3 1h3v1h-3zM236 297h3v1h-3zm-1 1h1v1h-1zm4 0h1v1h-1zm-5 1h1v3h-1zm6 0h1v3h-1zm-5 3h1v1h-1zm4 0h1v1h-1zm-3 1h3v1h-3zM184 298h3v1h-3zm-1 1h1v1h-1zm4 0h1v1h-1zm-5 1h1v3h-1zm6 0h1v3h-1zm-5 3h1v1h-1zm4 0h1v1h-1zm-3 1h3v1h-3zM179 296h3v1h-3zm-1 1h1v1h-1zm4 0h1v1h-1zm-5 1h1v3h-1zm6 0h1v3h-1zm-5 3h1v1h-1zm4 0h1v1h-1zm-3 1h3v1h-3zM197 292h3v1h-3zm-1 1h1v1h-1zm4 0h1v1h-1zm-5 1h1v3h-1zm6 0h1v3h-1zm-5 3h1v1h-1zm4 0h1v1h-1zm-3 1h3v1h-3zM231 298h3v1h-3zm-1 1h1v1h-1zm4 0h1v1h-1zm-5 1h1v3h-1zm6 0h1v3h-1zm-5 3h1v1h-1zm4 0h1v1h-1zm-3 1h3v1h-3zM171 298h3v1h-3zm-1 1h1v1h-1zm4 0h1v1h-1zm-5 1h1v3h-1zm6 0h1v3h-1zm-5 3h1v1h-1zm4 0h1v1h-1zm-3 1h3v1h-3zM203 300h3v1h-3zm-1 1h1v1h-1zm4 0h1v1h-1zm-5 1h1v3h-1zm6 0h1v3h-1zm-5 3h1v1h-1zm4 0h1v1h-1zm-3 1h3v1h-3zM227 294h3v1h-3zm-1 1h1v1h-1zm4 0h1v1h-1zm-5 1h1v3h-1zm6 0h1v3h-1zm-5 3h1v1h-1zm4 0h1v1h-1zm-3 1h3v1h-3zM215 291h3v1h-3zm-1 1h1v1h-1zm4 0h1v1h-1zm-5 1h1v3h-1zm6 0h1v3h-1zm-5 3h1v1h-1zm4 0h1v1h-1zm-3 1h3v1h-3zM216 297h3v1h-3zm-1 1h1v1h-1zm4 0h1v1h-1zm-5 1h1v3h-1zm6 0h1v3h-1zm-5 3h1v1h-1zm4 0h1v1h-1zm-3 1h3v1h-3zM167 295h3v1h-3zm-1 1h1v1h-1zm4 0h1v1h-1zm-5 1h1v3h-1zm6 0h1v3h-1zm-5 3h1v1h-1zm4 0h1v1h-1zm-3 1h3v1h-3z"/><g fill="#0000ff" shape-rendering="crispEdges"><circle cx="307.5" cy="250.5" r="5.5"/><circle cx="315.5" cy="250.5" r="5.5"/><circle cx="122.5" cy="290.5" r="5.5"/><circle cx="159.5" cy="277.5" r="5.5"/><circle cx="148.5" cy="293.5" r="5.5"/><circle cx="142.5" cy="296.5" r="5.5"/><circle cx="139.5" cy="307.5" r="5.5"/><circle cx="160.5" cy="298.5" r="5.5"/><circle cx="166.5" cy="301.5" r="5.5"/><circle cx="172.5" cy="307.5" r="5.5"/><circle cx="151.5" cy="307.5" r="5.5"/><circle cx="160.5" cy="310.5" r="5.5"/><circle cx="147.5" cy="312.5" r="5.5"/><circle cx="184.5" cy="299.5" r="5.5"/><circle cx="185.5" cy="310.5" r="5.5"/><circle cx="155.5" cy="305.5" r="5.5"/><circle cx="166.5" cy="312.5" r="5.5"/><circle cx="177.5" cy="312.5" r="5.5"/><circle cx="155.5" cy="313.5" r="5.5"/><circle cx="198.5" cy="260.5" r="5.5"/><circle cx="211.5" cy="275.5" r="5.5"/><circle cx="228.5" cy="272.5" r="5.5"/><circle cx="199.5" cy="281.5" r="5.5"/><circle cx="212.5" cy="288.5" r="5.5"/><circle cx="223.5" cy="283.5" r="5.5"/><circle cx="230.5" cy="288.5" r="5.5"/><circle cx="201.5" cy="291.5" r="5.5"/><circle cx="256.5" cy="286.5" r="5.5"/><circle cx="256.5" cy="290.5" r="5.5"/><circle cx="195.5" cy="302.5" r="5.5"/><circle cx="219.5" cy="303.5" r="5.5"/><circle cx="240.5" cy="298.5" r="5.5"/><circle cx="231.5" cy="305.5" r="5.5"/><circle cx="248.5" cy="310.5" r="5.5"/><circle cx="267.5" cy="311.5" r="5.5"/><circle cx="208.5" cy="310.5" r="5.5"/><circle cx="196.5" cy="311.5" r="5.5"/><circle cx="221.5" cy="311.5" r="5.5"/><circle cx="240.5" cy="311.5" r="5.5"/><circle cx="230.5" cy="312.5" r="5.5"/><circle cx="190.5" cy="307.5" r="5.5"/><circle cx="202.5" cy="306.5" r="5.5"/><circle cx="211.5" cy="306.5" r="5.5"/><circle cx="226.5" cy="307.5" r="5.5"/><circle cx="245.5" cy="305.5" r="5.5"/><circle cx="255.5" cy="313.5" r="5.5"/><circle cx="201.5" cy="313.5" r="5.5"/><circle cx="215.5" cy="313.5" r="5.5"/><circle cx="205.5" cy="295.5" r="5.5"/><circle cx="275.5" cy="296.5" r="5.5"/><circle cx="283.5" cy="296.5" r="5.5"/><circle cx="287.5" cy="307.5" r="5.5"/><circle cx="309.5" cy="303.5" r="5.5"/><circle cx="316.5" cy="305.5" r="5.5"/><circle cx="341.5" cy="293.5" r="5.5"/><circle cx="329.5" cy="310.5" r="5.5"/><circle cx="345.5" cy="313.5" r="5.5"/><circle cx="298.5" cy="313.5" r="5.5"/><circle cx="288.5" cy="313.5" r="5.5"/><circle cx="196.5" cy="332.5" r="5.5"/><circle cx="214.5" cy="328.5" r="5.5"/><circle cx="227.5" cy="322.5" r="5.5"/><circle cx="234.5" cy="328.5" r="5.5"/><circle cx="248.5" cy="330.5" r="5.5"/><circle cx="258.5" cy="338.5" r="5.5"/><circle cx="267.5" cy="335.5" r="5.5"/><circle cx="196.5" cy="321.5" r="5.5"/><circle cx="206.5" cy="321.5" r="5.5"/><circle cx="221.5" cy="321.5" r="5.5"/><circle cx="240.5" cy="320.5" r="5.5"/><circle cx="252.5" cy="322.5" r="5.5"/><circle cx="265.5" cy="322.5" r="5.5"/><circle cx="205.5" cy="325.5" r="5.5"/><circle cx="191.5" cy="317.5" r="5.5"/><circle cx="212.5" cy="318.5" r="5.5"/><circle cx="233.5" cy="318.5" r="5.5"/><circle cx="247.5" cy="318.5" r="5.5"/><circle cx="260.5" cy="326.5" r="5.5"/><circle cx="267.5" cy="322.5" r="5.5"/><circle cx="255.5" cy="330.5" r="5.5"/><circle cx="195.5" cy="326.5" r="5.5"/><circle cx="225.5" cy="327.5" r="5.5"/><circle cx="242.5" cy="325.5" r="5.5"/><circle cx="201.5" cy="317.5" r="5.5"/><circle cx="227.5" cy="316.5" r="5.5"/><circle cx="260.5" cy="316.5" r="5.5"/><circle cx="270.5" cy="316.5" r="5.5"/><circle cx="150.5" cy="320.5" r="5.5"/><circle cx="168.5" cy="331.5" r="5.5"/><circle cx="173.5" cy="321.5" r="5.5"/><circle cx="185.5" cy="316.5" r="5.5"/><circle cx="151.5" cy="315.5" r="5.5"/><circle cx="162.5" cy="313.5" r="5.5"/><circle cx="275.5" cy="338.5" r="5.5"/><circle cx="290.5" cy="335.5" r="5.5"/><circle cx="303.5" cy="342.5" r="5.5"/><circle cx="322.5" cy="329.5" r="5.5"/><circle cx="334.5" cy="335.5" r="5.5"/><circle cx="346.5" cy="340.5" r="5.5"/><circle cx="276.5" cy="321.5" r="5.5"/><circle cx="288.5" cy="320.5" r="5.5"/><circle cx="301.5" cy="322.5" r="5.5"/><circle cx="313.5" cy="321.5" r="5.5"/><circle cx="326.5" cy="317.5" r="5.5"/><circle cx="345.5" cy="328.5" r="5.5"/><circle cx="311.5" cy="331.5" r="5.5"/><circle cx="298.5" cy="331.5" r="5.5"/><circle cx="282.5" cy="328.5" r="5.5"/><circle cx="340.5" cy="327.5" r="5.5"/><circle cx="350.5" cy="322.5" r="5.5"/><circle cx="333.5" cy="330.5" r="5.5"/><circle cx="287.5" cy="327.5" r="5.5"/><circle cx="282.5" cy="318.5" r="5.5"/><circle cx="295.5" cy="317.5" r="5.5"/><circle cx="305.5" cy="318.5" r="5.5"/><circle cx="272.5" cy="327.5" r="5.5"/><circle cx="317.5" cy="318.5" r="5.5"/><circle cx="330.5" cy="322.5" r="5.5"/><circle cx="342.5" cy="318.5" r="5.5"/><circle cx="311.5" cy="336.5" r="5.5"/><circle cx="317.5" cy="333.5" r="5.5"/><circle cx="295.5" cy="326.5" r="5.5"/><circle cx="288.5" cy="315.5" r="5.5"/><circle cx="300.5" cy="315.5" r="5.5"/><circle cx="390.5" cy="323.5" r="5.5"/><circle cx="404.5" cy="331.5" r="5.5"/><circle cx="410.5" cy="347.5" r="5.5"/><circle cx="349.5" cy="326.5" r="5.5"/><circle cx="304.5" cy="330.5" r="5.5"/><circle cx="318.5" cy="324.5" r="5.5"/><circle cx="312.5" cy="318.5" r="5.5"/><circle cx="326.5" cy="330.5" r="5.5"/><circle cx="300.5" cy="338.5" r="5.5"/><circle cx="225.5" cy="278.5" r="5.5"/><circle cx="214.5" cy="328.5" r="5.5"/><circle cx="236.5" cy="327.5" r="5.5"/><circle cx="205.5" cy="325.5" r="5.5"/></g><rect x="78.5" y="78.5" width="553" height="304" fill="none" stroke="#000" stroke-width="1"/><line x1="122.5" y1="382.5" x2="122.5" y2="392" stroke="#000" stroke-width="1"/><text x="121.7" y="417" text-anchor="middle" class="t">100</text><line x1="188.5" y1="382.5" x2="188.5" y2="392" stroke="#000" stroke-width="1"/><text x="187.7" y="417" text-anchor="middle" class="t">200</text><line x1="274.5" y1="382.5" x2="274.5" y2="392" stroke="#000" stroke-width="1"/><text x="273.7" y="417" text-anchor="middle" class="t">500</text><line x1="340.5" y1="382.5" x2="340.5" y2="392" stroke="#000" stroke-width="1"/><text x="339.7" y="417" text-anchor="middle" class="t">1000</text><line x1="405.5" y1="382.5" x2="405.5" y2="392" stroke="#000" stroke-width="1"/><text x="404.7" y="417" text-anchor="middle" class="t">2000</text><line x1="492.5" y1="382.5" x2="492.5" y2="392" stroke="#000" stroke-width="1"/><text x="491.7" y="417" text-anchor="middle" class="t">5000</text><line x1="558.5" y1="382.5" x2="558.5" y2="392" stroke="#000" stroke-width="1"/><text x="557.7" y="417" text-anchor="middle" class="t">10000</text><line x1="623.5" y1="382.5" x2="623.5" y2="392" stroke="#000" stroke-width="1"/><text x="622.7" y="417" text-anchor="middle" class="t">20000</text><line x1="69" y1="348.5" x2="78.5" y2="348.5" stroke="#000" stroke-width="1"/><text transform="translate(56.2,348.5) rotate(-90)" text-anchor="middle" class="t">200</text><line x1="69" y1="298.5" x2="78.5" y2="298.5" stroke="#000" stroke-width="1"/><text transform="translate(56.2,298.5) rotate(-90)" text-anchor="middle" class="t">400</text><line x1="69" y1="248.5" x2="78.5" y2="248.5" stroke="#000" stroke-width="1"/><text transform="translate(56.2,248.5) rotate(-90)" text-anchor="middle" class="t">600</text><line x1="69" y1="199.5" x2="78.5" y2="199.5" stroke="#000" stroke-width="1"/><text transform="translate(56.2,199.5) rotate(-90)" text-anchor="middle" class="t">800</text><line x1="69" y1="149.5" x2="78.5" y2="149.5" stroke="#000" stroke-width="1"/><text transform="translate(56.2,149.5) rotate(-90)" text-anchor="middle" class="t">1000</text><line x1="69" y1="99.5" x2="78.5" y2="99.5" stroke="#000" stroke-width="1"/><text transform="translate(56.2,99.5) rotate(-90)" text-anchor="middle" class="t">1200</text><text x="354.5" y="35.4" text-anchor="middle" class="b">Subsampled Daily Data</text><text x="354.5" y="58.3" text-anchor="middle" class="b">Subsampled on the 15th of each month</text><text x="354.75" y="455.7" text-anchor="middle" class="t">Discharge (CFS)</text><text transform="translate(18.2,230) rotate(-90)" text-anchor="middle" class="t">Specific Conductivity (uS/cm)</text><rect x="494.5" y="78.5" width="137" height="58" fill="#fff" stroke="#000" stroke-width="1"/><rect x="508.5" y="93.5" width="12" height="9" fill="#bebebe" stroke="#000" stroke-width="1"/><rect x="508.5" y="112.5" width="12" height="9" fill="#0000ff" stroke="#000" stroke-width="1"/><text x="533.6" y="104.5" class="t">Not Selected</text><text x="533.6" y="123.5" class="t">Routine</text></svg>
</body></html>
